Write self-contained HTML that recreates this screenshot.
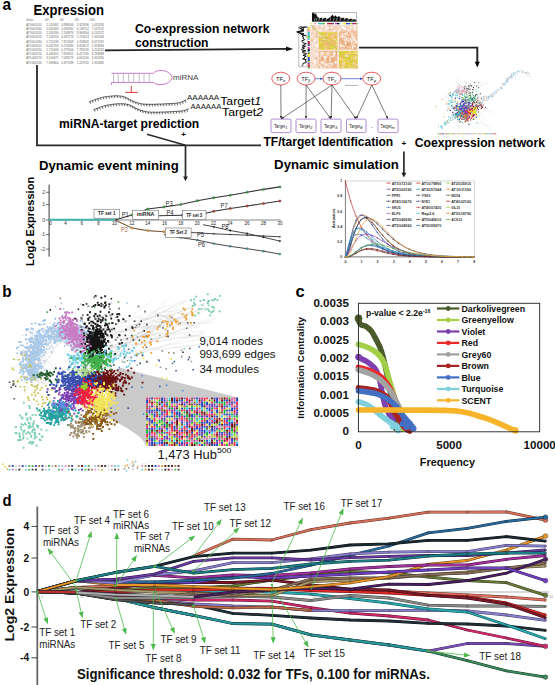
<!DOCTYPE html>
<html><head><meta charset="utf-8"><style>
html,body{margin:0;padding:0;background:#fff;overflow:hidden;width:555px;height:685px;}
svg{display:block;font-family:"Liberation Sans",sans-serif;}
</style></head><body>
<svg width="555" height="685" viewBox="0 0 555 685">
<text x="2.4" y="9.6" font-size="16.5" font-weight="bold" textLength="8.6" lengthAdjust="spacingAndGlyphs">a</text>
<text x="33.4" y="14.9" font-size="14.5" font-weight="bold" textLength="70.6" lengthAdjust="spacingAndGlyphs">Expression</text>
<text x="26.2" y="21.3" font-size="2.8" fill="#666">Gene</text>
<text x="45.1" y="21.3" font-size="2.8" fill="#666">4D</text>
<text x="60.2" y="21.3" font-size="2.8" fill="#666">6D</text>
<text x="75.1" y="21.3" font-size="2.8" fill="#666">8D</text>
<text x="89.7" y="21.3" font-size="2.8" fill="#666">10D</text>
<text x="26.2" y="25.7" font-size="2.8" textLength="15.5" lengthAdjust="spacingAndGlyphs" fill="#666">AT1G01010</text>
<text x="58.6" y="25.7" font-size="2.8" text-anchor="end" textLength="12.3" lengthAdjust="spacingAndGlyphs" fill="#666">2.141682</text>
<text x="73.5" y="25.7" font-size="2.8" text-anchor="end" textLength="12.3" lengthAdjust="spacingAndGlyphs" fill="#666">4.898063</text>
<text x="89" y="25.7" font-size="2.8" text-anchor="end" textLength="12.3" lengthAdjust="spacingAndGlyphs" fill="#666">3.329596</text>
<text x="104" y="25.7" font-size="2.8" text-anchor="end" textLength="12.3" lengthAdjust="spacingAndGlyphs" fill="#666">5.435280</text>
<text x="26.2" y="29.9" font-size="2.8" textLength="15.5" lengthAdjust="spacingAndGlyphs" fill="#666">AT1G01030</text>
<text x="58.6" y="29.9" font-size="2.8" text-anchor="end" textLength="12.3" lengthAdjust="spacingAndGlyphs" fill="#666">5.631483</text>
<text x="73.5" y="29.9" font-size="2.8" text-anchor="end" textLength="12.3" lengthAdjust="spacingAndGlyphs" fill="#666">0.589760</text>
<text x="89" y="29.9" font-size="2.8" text-anchor="end" textLength="12.3" lengthAdjust="spacingAndGlyphs" fill="#666">0.118512</text>
<text x="104" y="29.9" font-size="2.8" text-anchor="end" textLength="12.3" lengthAdjust="spacingAndGlyphs" fill="#666">7.537222</text>
<text x="26.2" y="34.1" font-size="2.8" textLength="15.5" lengthAdjust="spacingAndGlyphs" fill="#666">AT1G01050</text>
<text x="58.6" y="34.1" font-size="2.8" text-anchor="end" textLength="12.3" lengthAdjust="spacingAndGlyphs" fill="#666">2.334186</text>
<text x="73.5" y="34.1" font-size="2.8" text-anchor="end" textLength="12.3" lengthAdjust="spacingAndGlyphs" fill="#666">2.108979</text>
<text x="89" y="34.1" font-size="2.8" text-anchor="end" textLength="12.3" lengthAdjust="spacingAndGlyphs" fill="#666">8.960804</text>
<text x="104" y="34.1" font-size="2.8" text-anchor="end" textLength="12.3" lengthAdjust="spacingAndGlyphs" fill="#666">4.232372</text>
<text x="26.2" y="38.3" font-size="2.8" textLength="15.5" lengthAdjust="spacingAndGlyphs" fill="#666">AT1G01070</text>
<text x="58.6" y="38.3" font-size="2.8" text-anchor="end" textLength="12.3" lengthAdjust="spacingAndGlyphs" fill="#666">7.528153</text>
<text x="73.5" y="38.3" font-size="2.8" text-anchor="end" textLength="12.3" lengthAdjust="spacingAndGlyphs" fill="#666">4.287179</text>
<text x="89" y="38.3" font-size="2.8" text-anchor="end" textLength="12.3" lengthAdjust="spacingAndGlyphs" fill="#666">5.751613</text>
<text x="104" y="38.3" font-size="2.8" text-anchor="end" textLength="12.3" lengthAdjust="spacingAndGlyphs" fill="#666">1.355548</text>
<text x="26.2" y="42.5" font-size="2.8" textLength="15.5" lengthAdjust="spacingAndGlyphs" fill="#666">AT1G01090</text>
<text x="58.6" y="42.5" font-size="2.8" text-anchor="end" textLength="12.3" lengthAdjust="spacingAndGlyphs" fill="#666">5.713746</text>
<text x="73.5" y="42.5" font-size="2.8" text-anchor="end" textLength="12.3" lengthAdjust="spacingAndGlyphs" fill="#666">7.812408</text>
<text x="89" y="42.5" font-size="2.8" text-anchor="end" textLength="12.3" lengthAdjust="spacingAndGlyphs" fill="#666">4.708631</text>
<text x="104" y="42.5" font-size="2.8" text-anchor="end" textLength="12.3" lengthAdjust="spacingAndGlyphs" fill="#666">6.671267</text>
<text x="26.2" y="46.7" font-size="2.8" textLength="15.5" lengthAdjust="spacingAndGlyphs" fill="#666">AT1G01110</text>
<text x="58.6" y="46.7" font-size="2.8" text-anchor="end" textLength="12.3" lengthAdjust="spacingAndGlyphs" fill="#666">6.042703</text>
<text x="73.5" y="46.7" font-size="2.8" text-anchor="end" textLength="12.3" lengthAdjust="spacingAndGlyphs" fill="#666">0.576283</text>
<text x="89" y="46.7" font-size="2.8" text-anchor="end" textLength="12.3" lengthAdjust="spacingAndGlyphs" fill="#666">6.824072</text>
<text x="104" y="46.7" font-size="2.8" text-anchor="end" textLength="12.3" lengthAdjust="spacingAndGlyphs" fill="#666">5.319896</text>
<text x="26.2" y="50.9" font-size="2.8" textLength="15.5" lengthAdjust="spacingAndGlyphs" fill="#666">AT1G01130</text>
<text x="58.6" y="50.9" font-size="2.8" text-anchor="end" textLength="12.3" lengthAdjust="spacingAndGlyphs" fill="#666">2.711409</text>
<text x="73.5" y="50.9" font-size="2.8" text-anchor="end" textLength="12.3" lengthAdjust="spacingAndGlyphs" fill="#666">0.279106</text>
<text x="89" y="50.9" font-size="2.8" text-anchor="end" textLength="12.3" lengthAdjust="spacingAndGlyphs" fill="#666">7.789745</text>
<text x="104" y="50.9" font-size="2.8" text-anchor="end" textLength="12.3" lengthAdjust="spacingAndGlyphs" fill="#666">4.254742</text>
<text x="26.2" y="55.1" font-size="2.8" textLength="15.5" lengthAdjust="spacingAndGlyphs" fill="#666">AT1G01150</text>
<text x="58.6" y="55.1" font-size="2.8" text-anchor="end" textLength="12.3" lengthAdjust="spacingAndGlyphs" fill="#666">6.469415</text>
<text x="73.5" y="55.1" font-size="2.8" text-anchor="end" textLength="12.3" lengthAdjust="spacingAndGlyphs" fill="#666">7.909315</text>
<text x="89" y="55.1" font-size="2.8" text-anchor="end" textLength="12.3" lengthAdjust="spacingAndGlyphs" fill="#666">6.427165</text>
<text x="104" y="55.1" font-size="2.8" text-anchor="end" textLength="12.3" lengthAdjust="spacingAndGlyphs" fill="#666">8.289888</text>
<text x="26.2" y="59.3" font-size="2.8" textLength="15.5" lengthAdjust="spacingAndGlyphs" fill="#666">AT1G01170</text>
<text x="58.6" y="59.3" font-size="2.8" text-anchor="end" textLength="12.3" lengthAdjust="spacingAndGlyphs" fill="#666">3.554671</text>
<text x="73.5" y="59.3" font-size="2.8" text-anchor="end" textLength="12.3" lengthAdjust="spacingAndGlyphs" fill="#666">7.208179</text>
<text x="89" y="59.3" font-size="2.8" text-anchor="end" textLength="12.3" lengthAdjust="spacingAndGlyphs" fill="#666">4.001590</text>
<text x="104" y="59.3" font-size="2.8" text-anchor="end" textLength="12.3" lengthAdjust="spacingAndGlyphs" fill="#666">8.420280</text>
<text x="26.2" y="63.5" font-size="2.8" textLength="15.5" lengthAdjust="spacingAndGlyphs" fill="#666">AT1G01190</text>
<text x="58.6" y="63.5" font-size="2.8" text-anchor="end" textLength="12.3" lengthAdjust="spacingAndGlyphs" fill="#666">7.909800</text>
<text x="73.5" y="63.5" font-size="2.8" text-anchor="end" textLength="12.3" lengthAdjust="spacingAndGlyphs" fill="#666">0.877089</text>
<text x="89" y="63.5" font-size="2.8" text-anchor="end" textLength="12.3" lengthAdjust="spacingAndGlyphs" fill="#666">1.223720</text>
<text x="104" y="63.5" font-size="2.8" text-anchor="end" textLength="12.3" lengthAdjust="spacingAndGlyphs" fill="#666">1.952882</text>
<line x1="105" y1="50.3" x2="288" y2="48.9" stroke="#222" stroke-width="1.7"/>
<polygon points="293.2,48.9 286,51.3 286,46.5" fill="#111"/>
<polyline points="37,65 37,145.3 261,145.3" fill="none" stroke="#2a2a2a" stroke-width="1.8"/>
<line x1="147" y1="134.2" x2="185.5" y2="145.3" stroke="#2a2a2a" stroke-width="1.5"/>
<line x1="185.5" y1="145.3" x2="185.5" y2="178" stroke="#2a2a2a" stroke-width="1.7"/>
<polygon points="185.5,181.2 183.1,176.4 187.9,176.4" fill="#222"/>
<text x="181.2" y="137.4" font-size="8" font-weight="bold">+</text>
<text x="135" y="33" font-size="12.6" font-weight="bold" textLength="134.4" lengthAdjust="spacingAndGlyphs">Co-expression network</text>
<text x="135" y="47.1" font-size="12.6" font-weight="bold" textLength="73.5" lengthAdjust="spacingAndGlyphs">construction</text>
<rect x="312.2" y="12.4" width="44.3" height="9.1" fill="none" stroke="#777" stroke-width="0.5"/>
<polygon points="312,21.5 312,12.6 313.2,13.5 314,12.4 315,14.5 316,13 317,16.2 318.3,17.6 320,18.2 321.5,17.4 323,18.8 325,17.6 327,19 329,18 331,16.5 332.5,14.6 334,16.8 335.5,15.2 337,17.2 339,15.9 341,18.2 343,17.6 345,18.8 347,17.9 349,19.2 351,18.4 353,19.6 355,18.9 356.5,20.2 356.5,21.5" fill="#111"/>
<line x1="314.5" y1="20.8" x2="315.1" y2="17.8" stroke="#fff" stroke-width="0.5"/>
<line x1="316.5" y1="20.8" x2="317.1" y2="17.8" stroke="#fff" stroke-width="0.5"/>
<line x1="319" y1="20.8" x2="319.6" y2="17.8" stroke="#fff" stroke-width="0.5"/>
<line x1="322" y1="20.8" x2="322.6" y2="17.8" stroke="#fff" stroke-width="0.5"/>
<line x1="326" y1="20.8" x2="326.6" y2="17.8" stroke="#fff" stroke-width="0.5"/>
<line x1="330" y1="20.8" x2="330.6" y2="17.8" stroke="#fff" stroke-width="0.5"/>
<line x1="333.5" y1="20.8" x2="334.1" y2="17.8" stroke="#fff" stroke-width="0.5"/>
<line x1="336.5" y1="20.8" x2="337.1" y2="17.8" stroke="#fff" stroke-width="0.5"/>
<line x1="340" y1="20.8" x2="340.6" y2="17.8" stroke="#fff" stroke-width="0.5"/>
<line x1="344" y1="20.8" x2="344.6" y2="17.8" stroke="#fff" stroke-width="0.5"/>
<line x1="348" y1="20.8" x2="348.6" y2="17.8" stroke="#fff" stroke-width="0.5"/>
<line x1="352" y1="20.8" x2="352.6" y2="17.8" stroke="#fff" stroke-width="0.5"/>
<line x1="355" y1="20.8" x2="355.6" y2="17.8" stroke="#fff" stroke-width="0.5"/>
<rect x="298.9" y="26.4" width="8.2" height="40.5" fill="none" stroke="#777" stroke-width="0.5"/>
<polyline points="301.5,26.5 302.4,27.4 302.9,28.3 304,29.2 302.4,30.1 303.9,31 296.7,31.9 300.2,32.8 304,33.7 301.7,34.6 303.7,35.5 302.1,36.4 303.8,37.3 302.7,38.2 304.2,39.1 304.4,40 301.6,40.9 302.6,41.8 302.9,42.7 306.1,43.6 305.3,44.5 302.3,45.4 305.5,46.3 302.2,47.2 304.6,48.1 302.1,49 301.5,49.9 305.9,50.8 302.5,51.7 302.6,52.6 306.4,53.5 305.9,54.4 302.9,55.3 306.3,56.2 304.2,57.1 304.9,58 302.5,58.9 306.2,59.8 305,60.7 306.3,61.6 306,62.5 303,63.4 303.3,64.3 302.3,65.2 302.2,66.1" fill="none" stroke="#111" stroke-width="1"/>
<polyline points="306.8,27 300,28 303,30 298,32 302,34.5 306.5,36" fill="none" stroke="#111" stroke-width="1.2"/>
<rect x="310.3" y="22.9" width="1.2" height="1.4" fill="#e8d040"/>
<rect x="313.8" y="22.9" width="2.2" height="1.4" fill="#f0a0b0"/>
<rect x="318" y="22.9" width="4" height="1.4" fill="#40c8c8"/>
<rect x="322" y="22.9" width="3" height="1.4" fill="#50c040"/>
<rect x="327" y="22.9" width="5" height="1.4" fill="#c02030"/>
<rect x="332" y="22.9" width="2" height="1.4" fill="#6040a0"/>
<rect x="335" y="22.9" width="2" height="1.4" fill="#c040c0"/>
<rect x="337" y="22.9" width="2.3" height="1.4" fill="#111"/>
<rect x="339.3" y="22.9" width="1.2" height="1.4" fill="#40c8d8"/>
<rect x="343" y="22.9" width="3" height="1.4" fill="#f0f020"/>
<rect x="346" y="22.9" width="4" height="1.4" fill="#3050c0"/>
<rect x="350" y="22.9" width="2" height="1.4" fill="#a0d040"/>
<rect x="352" y="22.9" width="2" height="1.4" fill="#8040b0"/>
<rect x="354" y="22.9" width="2.3" height="1.4" fill="#e02020"/>
<rect x="356.3" y="22.9" width="1.4" height="1.4" fill="#40a040"/>
<rect x="307.9" y="27" width="1.9" height="3" fill="#e8d040"/>
<rect x="307.9" y="30" width="1.9" height="2" fill="#f0a0b0"/>
<rect x="307.9" y="32" width="1.9" height="4" fill="#40c8c8"/>
<rect x="307.9" y="36" width="1.9" height="2.5" fill="#50c040"/>
<rect x="307.9" y="38.5" width="1.9" height="1.5" fill="#60d0e0"/>
<rect x="307.9" y="41" width="1.9" height="3" fill="#b02030"/>
<rect x="307.9" y="44" width="1.9" height="2" fill="#6040a0"/>
<rect x="307.9" y="47" width="1.9" height="2" fill="#c040c0"/>
<rect x="307.9" y="49" width="1.9" height="2" fill="#111"/>
<rect x="307.9" y="51" width="1.9" height="1.5" fill="#40c8d8"/>
<rect x="307.9" y="52.5" width="1.9" height="1.5" fill="#a06030"/>
<rect x="307.9" y="54" width="1.9" height="3" fill="#f0f020"/>
<rect x="307.9" y="57" width="1.9" height="4" fill="#3050c0"/>
<rect x="307.9" y="61" width="1.9" height="1.5" fill="#a0d040"/>
<rect x="307.9" y="62.5" width="1.9" height="2" fill="#8040b0"/>
<rect x="307.9" y="64.5" width="1.9" height="2.7" fill="#e02020"/>
<rect x="307.9" y="67.2" width="1.9" height="1.3" fill="#40a040"/>
<rect x="310.3" y="25" width="47.4" height="43.5" fill="#f8e6da"/>
<rect x="310.5" y="25.2" width="7.8" height="43.1" fill="#f6dccb"/>
<path fill="#fbeee6" d="M313.6 52.7h2.2v1h-2.2zM311.6 63.2h0.8v2.5h-0.8zM313.9 59.5h2.2v2.5h-2.2zM310.6 27.7h2.7v1.8h-2.7zM317 43h1.3v2.2h-1.3zM314.1 62.2h1.9v2.8h-1.9zM312.9 46.6h2.5v1.8h-2.5zM312.8 51.9h0.8v1.7h-0.8zM312.7 44.3h2.2v2.6h-2.2zM316.8 32.2h1.5v1.5h-1.5zM311.7 58.5h1.8v1.2h-1.8zM312.7 61.3h2.1v1.7h-2.1zM315.3 47h0.8v0.7h-0.8zM315.5 42.7h2v2.7h-2zM311.6 54.1h1v0.8h-1zM311.7 34h2.1v1.8h-2.1zM314.9 39.5h1.2v1.4h-1.2z"/>
<path fill="#fff" d="M317.1 45.4h1.2v1.7h-1.2zM314.2 46.5h0.9v2h-0.9zM314.4 45.2h1.5v0.8h-1.5zM313 61.2h0.8v0.8h-0.8zM313.3 41.5h2.4v0.9h-2.4zM316.3 53.2h1.3v1h-1.3zM314.3 39.8h1.5v2.3h-1.5zM315.7 55h1.1v1.3h-1.1zM315 45.8h2v1.2h-2z"/>
<path fill="#ecc4a4" d="M312 25.3h2.1v2.9h-2.1zM311 33.2h2.4v1.3h-2.4zM316.2 41.4h1.4v1.3h-1.4zM312 28.5h1.3v1.7h-1.3zM315.6 34.4h2v2.8h-2zM317 67h1.3v0.8h-1.3zM313.8 45.7h1.5v2.2h-1.5zM316.4 32h1.3v2.6h-1.3zM311.4 62.3h1.6v1.2h-1.6zM313.6 27.7h2v2.3h-2zM316.4 63.4h1.9v2.4h-1.9zM315.1 41.7h1.2v1.6h-1.2zM311 39.1h2.2v2.3h-2.2zM315.1 57h2.2v2.8h-2.2z"/>
<rect x="318.8" y="25.2" width="38.7" height="6.6" fill="#f4d8c4"/>
<path fill="#ecc0a0" d="M319.1 27.1h1.3v1.1h-1.3zM329.9 28h1v2.7h-1zM336.1 29.4h0.8v2.4h-0.8zM334.9 27.2h1.6v2.1h-1.6zM328.5 25.4h2.1v2.5h-2.1zM334.3 28.5h1.3v1.6h-1.3zM351.6 29.6h1.5v2.2h-1.5zM347.8 28.1h0.7v2.7h-0.7zM323.5 27.3h1.8v1.3h-1.8zM350.5 25.3h1v2.4h-1zM344.7 30.4h2.2v1.4h-2.2zM354.9 27.2h0.9v2.7h-0.9zM340.8 29.5h2.1v1.7h-2.1zM323.9 26.7h1.1v1h-1.1zM346.2 29.7h2.4v1.4h-2.4zM342.6 28.5h0.8v1.5h-0.8zM329.2 27h1.5v2.7h-1.5z"/>
<path fill="#fbeee6" d="M324.9 27.7h2v2.6h-2zM319.4 29.4h2.7v2.1h-2.7zM323.9 26.4h1.9v1.3h-1.9zM333.4 29.9h2.7v1.4h-2.7zM337.3 30.3h2.5v1.1h-2.5zM351.8 25.3h1.4v0.7h-1.4zM326.1 26.3h2.5v2.7h-2.5zM321.1 25.8h0.9v0.8h-0.9zM354.8 29.2h2.7v0.8h-2.7zM334.7 28.1h1.4v1.2h-1.4z"/>
<path fill="#fff" d="M339 29.3h1.6v2.2h-1.6zM320.8 25.8h2v1.4h-2zM350.1 25.8h1.3v2.7h-1.3zM347.7 29.8h1.4v2h-1.4zM344.5 28.1h1.7v1.9h-1.7zM342.6 27.3h1.6v1.8h-1.6zM353.8 25.4h2.2v1.9h-2.2zM343.4 27h0.8v2.5h-0.8zM353.8 27.2h1.4v2.7h-1.4zM347.5 30h2.5v1.5h-2.5zM341.8 25.9h1.9v2.8h-1.9zM329.3 27.1h2.9v1h-2.9zM342.5 26.1h1.9v2h-1.9z"/>
<rect x="318.8" y="32.3" width="18.4" height="17.3" fill="#e0d03c"/>
<path fill="#e8d448" d="M335 41.9h0.9v2.1h-0.9zM335 42.3h2.1v2.6h-2.1zM321.2 39.6h1.9v1.2h-1.9zM334.4 47.3h1.9v1.5h-1.9zM321 35.6h2.6v0.9h-2.6zM325.7 32.4h1.8v1.6h-1.8zM328 35.2h2.5v2.6h-2.5zM334.6 36.2h1.9v2.4h-1.9zM333 43.1h1.8v2.5h-1.8zM335.7 45.9h1.5v2h-1.5zM330 42.8h1v1.9h-1zM333.5 39.7h2.9v1.9h-2.9zM321.4 48h1.8v1.6h-1.8zM321 35.5h1.7v2.6h-1.7zM332.8 40.5h2.4v0.9h-2.4zM334.6 32.7h1.4v2.8h-1.4zM327 32.4h0.9v0.7h-0.9zM334 44.6h1.6v0.8h-1.6zM324.2 37.1h2.3v0.8h-2.3zM324.2 38.6h1.4v2.3h-1.4zM324.6 32.6h1.4v1.2h-1.4zM332.8 44.2h1.2v0.9h-1.2zM319.2 38.2h2.6v1.5h-2.6zM334.6 32.8h0.8v1.8h-0.8zM318.9 39.8h2.8v1.1h-2.8zM332.7 36.8h2v2.4h-2zM333.7 40.9h1.9v1h-1.9zM329.2 46.4h2.8v1.1h-2.8zM333.1 40.3h2.2v0.8h-2.2zM329 42.3h2.6v2.1h-2.6zM335.4 35.6h1.8v1.7h-1.8zM329.1 45.3h2.3v1.4h-2.3zM329.9 39.5h1.5v1.8h-1.5zM326 41h2.8v2.5h-2.8zM320.6 41.9h2.1v1.9h-2.1zM321.1 40.3h1.6v2.1h-1.6zM330.2 33.9h2.7v2.6h-2.7zM323.5 45h2.5v1.5h-2.5zM332.8 38.6h2.7v2.9h-2.7z"/>
<path fill="#f4dca8" d="M323.9 37.7h2.1v1.6h-2.1zM325.5 47.9h2.7v1h-2.7zM320.9 45.7h1.5v1.8h-1.5zM320.4 35.4h2.5v1.5h-2.5zM323.3 40.9h2.7v0.9h-2.7zM320.3 41.1h2.7v1.7h-2.7zM322.6 38.9h2.5v2.3h-2.5zM335.6 34.6h1.6v1h-1.6zM326.2 44.6h1.2v2.8h-1.2zM324.4 41.4h1.9v1.9h-1.9zM327.7 39.3h1.6v1.1h-1.6zM323.1 38.6h1.9v2.7h-1.9zM333.9 43.1h1.6v0.8h-1.6zM330.4 43.1h0.7v1h-0.7zM321.2 37.1h1.2v1.7h-1.2zM331.2 34.2h2.1v1.1h-2.1zM319.8 34.5h2.7v2.3h-2.7zM335.4 42.3h0.9v0.9h-0.9zM328.7 41.1h1.6v2.1h-1.6zM321.3 35.2h2.1v1.1h-2.1zM330.2 34.9h2.7v2.7h-2.7zM335 41h2.2v1.2h-2.2zM326.3 33.4h2.1v1h-2.1zM332.4 44.7h1.5v1.8h-1.5zM323.7 35.6h2.2v1.6h-2.2zM332.8 33.7h2.8v2.6h-2.8zM334.8 36.7h1.2v0.8h-1.2zM330.7 36h2.4v2.3h-2.4zM334.3 39.7h1.8v1.3h-1.8zM326.7 48.4h1.1v1.2h-1.1zM332.8 39.2h2.3v1.6h-2.3zM325.1 38.2h2.3v2.1h-2.3zM324.8 46.4h0.7v2.8h-0.7zM335.5 42.3h1.4v0.9h-1.4zM326.2 34.6h1.4v2h-1.4zM327 46.8h1.5v2.2h-1.5zM326.5 34.2h1.8v0.8h-1.8zM333.4 47.2h2.3v1.7h-2.3zM331.3 38.8h2.5v2h-2.5zM318.9 33.7h1.8v2.2h-1.8zM335.2 44.8h1.6v1.8h-1.6zM334.4 38.2h1.4v2.7h-1.4zM334.3 33.8h1.8v1.3h-1.8zM327.9 42.8h1.8v0.9h-1.8z"/>
<path fill="#d8cc38" d="M324.5 41h2.5v1.9h-2.5zM322.7 33.4h2.2v1.1h-2.2zM329.8 42.6h2v1.8h-2zM326.7 47.4h1.6v1.7h-1.6zM327.4 43h2.1v2.3h-2.1zM325.7 34.5h0.9v2.2h-0.9zM319.2 45.1h1.9v2.1h-1.9zM320.2 43.2h0.8v1.3h-0.8zM330.9 44.4h2.5v2.4h-2.5zM324.9 37h2v1.5h-2zM326.3 47h1.4v0.8h-1.4zM327.6 43.1h1.7v2.4h-1.7zM334.2 40.6h2v1.9h-2zM320.6 32.5h2.4v1.5h-2.4zM325.2 36.8h1.5v0.9h-1.5zM334.7 45.2h1.6v0.9h-1.6zM335.8 32.4h1.4v1.5h-1.4zM319.5 37.9h1.1v1.6h-1.1zM321.3 45.4h1.7v2.2h-1.7zM319.5 37.9h2.1v0.7h-2.1zM322.6 47.3h1.9v2.3h-1.9zM323.4 40h2.2v2.1h-2.2zM333.5 42h2.7v1.3h-2.7zM321.4 32.8h1.7v1.9h-1.7zM319.2 38.9h2.3v2h-2.3z"/>
<path fill="#f0c080" d="M321.6 40.1h0.9v1.4h-0.9zM323.5 46.8h1.1v2h-1.1zM326.3 32.6h1.8v1.5h-1.8zM333.1 32.6h1v1.7h-1zM334 33.7h2.8v2h-2.8zM327.9 43.8h2.9v1h-2.9zM322.5 36.4h0.9v1.7h-0.9zM331.2 42.4h2.2v0.8h-2.2zM332.5 33.9h2.2v2.5h-2.2zM323.5 43.5h2.6v1.3h-2.6zM326.3 40.3h1.9v2.6h-1.9zM329.3 35h2.9v2.6h-2.9zM324.9 40h1v1.1h-1zM332 43.7h2.8v1.1h-2.8zM329.6 46.2h1.4v1h-1.4zM335.7 43.2h1.5v0.8h-1.5zM332.2 41.6h2.1v1.8h-2.1zM332.8 42.7h2.6v2.9h-2.6zM323.2 43.8h1.9v1.7h-1.9zM328 47.1h0.8v2.5h-0.8zM325.4 42.3h0.8v1.7h-0.8zM330.3 42.6h1.3v1.9h-1.3zM322.4 36.2h2.7v1.2h-2.7zM329.6 41h0.9v2h-0.9zM335.3 46.6h1.7v2h-1.7zM335.6 34h1.6v1.4h-1.6zM320.8 37.1h1v2.5h-1zM325.8 33.7h1.2v1.9h-1.2zM330.5 40.3h2.3v1.2h-2.3zM335.2 34.3h2v2.7h-2zM326.7 47.2h1.8v2.3h-1.8zM324.4 44.7h2v1h-2zM326.1 41.3h1.1v2.7h-1.1z"/>
<path fill="#ecb870" d="M326 37.4h1.3v1.6h-1.3zM327.7 47.8h1.9v1.8h-1.9zM330.7 37.9h2.1v2.5h-2.1zM334.4 37.1h2.6v1.4h-2.6zM335.9 48.2h1.3v1.3h-1.3zM330.2 40h1.1v1.2h-1.1zM331.4 40.1h2.7v1.1h-2.7zM324.6 33.9h2.3v1.4h-2.3zM327.3 43.3h2.7v2.9h-2.7zM321.1 40.2h2.9v2h-2.9zM333 42.4h2.6v2.9h-2.6zM326 37.3h2.8v2.2h-2.8zM322.2 44.2h1.1v2.1h-1.1zM319 46.4h2v2.5h-2zM325.5 42.4h2.7v2.3h-2.7zM334.3 45.8h2.2v2.4h-2.2zM327.6 37.8h1.8v1.4h-1.8zM329 41.3h0.7v1.9h-0.7zM323.3 37.1h0.9v1.3h-0.9z"/>
<rect x="339" y="31.4" width="18.5" height="18" fill="#eebc94"/>
<path fill="#fbeee4" d="M339.9 44.4h2.4v2.7h-2.4zM351.3 40.3h1.6v2.4h-1.6zM353.4 43.9h2.6v1.3h-2.6zM353.5 36h1.5v1.3h-1.5zM342.1 36.3h2.3v1.1h-2.3zM343.1 44.5h0.9v2.2h-0.9zM354.8 45.1h1v2h-1zM344.3 33.2h2.8v1.9h-2.8zM351.9 46.3h2.4v2.8h-2.4zM350 37.7h1.4v2.6h-1.4zM352.6 34.2h1.4v0.9h-1.4zM344.4 36h0.9v1.4h-0.9zM342.2 34.3h1.4v2.2h-1.4zM341.6 42.7h0.8v1.8h-0.8zM356.3 37h0.7v0.9h-0.7zM349.8 42.1h1.9v2.7h-1.9zM347.9 40.7h2.7v1.4h-2.7zM340.9 36.3h2v2.1h-2zM354.7 43.4h1.2v2.1h-1.2zM354.7 40.2h2.6v2.8h-2.6zM348.6 34.4h2v1.9h-2zM355.1 41.1h1.8v1h-1.8zM344.8 42h2.7v2.5h-2.7zM352.5 43.2h2.3v1h-2.3zM345.6 39.3h1.6v1.7h-1.6zM351.4 35.6h1.3v1.1h-1.3zM351.7 36h2.2v2.8h-2.2zM343.4 38.5h1.9v1.3h-1.9zM350.6 39.7h1v1.2h-1zM344.9 37.5h2.2v2.8h-2.2zM341.6 33.6h1.6v2.2h-1.6zM353.4 38.2h2.4v2.6h-2.4zM352 45.6h1.5v2.3h-1.5z"/>
<path fill="#e8a878" d="M340.9 37.4h0.9v2.5h-0.9zM342.9 43.2h1.9v1.6h-1.9zM348.1 33.2h2.3v0.7h-2.3zM353.9 44h1.7v1h-1.7zM348.8 46.2h2.3v1.2h-2.3zM349.5 42.7h1.5v1.9h-1.5zM341.7 47.9h1.8v1.5h-1.8zM347.7 44.8h2.6v1.8h-2.6zM342.2 40.6h1.5v1.6h-1.5zM341.2 41.6h1.8v2.6h-1.8zM347 42h2.2v1.1h-2.2zM347.9 45.3h2.3v1.4h-2.3zM352.2 42.5h0.7v1h-0.7zM348.5 40h1v2.4h-1zM353.4 47.6h2.6v1.8h-2.6zM349.5 41.5h1v2.9h-1zM343.2 33.5h0.8v1.7h-0.8zM346.7 44.1h2.1v1.3h-2.1zM354.5 44.2h1.8v1.5h-1.8zM352.5 40.9h2.1v1.3h-2.1zM345.7 46.5h1.2v1.6h-1.2zM348 42.5h2.4v2.5h-2.4zM354.3 47.8h0.8v1h-0.8zM349.7 34.4h1.1v2.3h-1.1zM349.2 36.9h0.8v2.7h-0.8zM346.4 42.6h2.3v1.3h-2.3zM342.3 47.7h1.5v1.7h-1.5zM349.4 35.4h2.5v1.8h-2.5zM343 38.2h2.7v0.8h-2.7z"/>
<path fill="#f6dcc8" d="M353.5 44.7h0.8v1.7h-0.8zM355.9 36.7h1.6v1.4h-1.6zM347.2 46.5h2.3v1.1h-2.3zM345.6 32.3h1.4v2.1h-1.4zM355.1 33.3h1.7v1.3h-1.7zM352 40h2.2v2.2h-2.2zM339.9 43.4h2.4v0.8h-2.4zM344.1 39.4h0.9v2.2h-0.9zM344.1 36.2h2v2.1h-2zM342.5 34.1h2.5v1.4h-2.5zM349 46.1h1.8v1.7h-1.8zM347.3 31.7h0.8v2.7h-0.8zM352.3 34.2h1v1.9h-1zM348.4 37.8h0.9v2.2h-0.9zM342 47.5h1.5v1.9h-1.5zM352.3 34h2.1v0.8h-2.1zM347.7 39.7h1.9v2.5h-1.9zM340.6 35.8h1.5v1h-1.5zM346.6 31.9h0.9v1.1h-0.9zM351.8 39.2h1.6v0.8h-1.6zM347.3 38h1.1v2.2h-1.1zM350.8 34h2.9v2.7h-2.9zM344 45.4h1v2.2h-1zM353 45.1h2.7v1.2h-2.7zM350.4 32.2h2.5v2.4h-2.5zM339.6 35.5h1.6v2.1h-1.6zM344.3 37h2.2v0.9h-2.2zM353.9 45.9h1.5v1.2h-1.5z"/>
<rect x="318.8" y="51" width="18.4" height="17.3" fill="#eebc94"/>
<path fill="#e8a878" d="M320.7 53.2h1.2v1h-1.2zM319.8 52.9h2.7v2.7h-2.7zM319.6 66.1h2.7v1.1h-2.7zM319.6 64.9h2.4v2.8h-2.4zM327 64.1h1.9v1.3h-1.9zM329.8 59.8h2.1v2.1h-2.1zM331.7 65.4h1v1.2h-1zM318.8 51.3h1v0.9h-1zM325.6 59.9h2.8v1.8h-2.8zM323.1 52.6h1.2v1.4h-1.2zM319.5 53h2.1v1.8h-2.1zM331.7 59.1h2.6v2.8h-2.6zM326.8 56.5h2.6v2.7h-2.6zM321.1 62.3h1.1v1.4h-1.1zM321.7 57.7h0.9v1.2h-0.9zM335.9 54.4h1.3v1.8h-1.3zM335.5 64.5h1v1.3h-1zM320.6 57.1h1.1v2.2h-1.1zM331.2 54.4h2.6v1.9h-2.6zM325.1 56.5h2.7v2.2h-2.7zM322.2 59h2.5v1.3h-2.5zM331.2 61.4h1.1v2.7h-1.1zM323.4 53.8h2.7v0.8h-2.7zM324.3 63.4h0.8v1h-0.8zM332 64.3h2.7v2.7h-2.7zM330.3 51.5h1.4v1.4h-1.4zM319.3 62.7h1.6v0.9h-1.6zM327.6 55h1v0.7h-1zM332.8 57.4h2.4v1h-2.4zM328.1 57.7h2.4v1.4h-2.4zM335.6 51.1h1.6v2.6h-1.6zM333.1 66.1h0.8v2.2h-0.8zM324.6 55.3h2.5v2.6h-2.5zM333.7 54.1h2.3v1.5h-2.3zM319.1 55.4h1.6v2h-1.6z"/>
<path fill="#f6dcc8" d="M328.8 66.3h2.3v2h-2.3zM328.1 63h2.2v1.3h-2.2zM328.8 59.6h2.4v1.7h-2.4zM323.6 60h1.9v1.3h-1.9zM332.5 64.7h1.1v2.5h-1.1zM325.9 60.5h1v2.6h-1zM327.1 53.9h1.9v2h-1.9zM332.5 54.6h2.5v2.1h-2.5zM324.3 55.7h2.8v1.4h-2.8zM319.2 56.9h1.6v2.1h-1.6zM327.5 52.5h1.6v2.1h-1.6zM334.7 66.9h0.8v1.3h-0.8zM330 62.8h2v1.5h-2zM328.6 51.2h1.9v1h-1.9zM323.7 60.2h1.1v2h-1.1zM321.2 55.5h1.5v1.3h-1.5zM319.6 52.5h2.9v1.8h-2.9zM333.1 52.3h1.9v0.7h-1.9zM324.7 52.7h2.5v1.1h-2.5zM321.1 52h2.7v2.6h-2.7zM319.4 55.3h1.3v1.1h-1.3zM323.3 58.6h2.4v1h-2.4zM330.1 59.3h1v2.3h-1zM334.4 60.8h2.5v2.1h-2.5zM330.1 62.2h1.7v2.3h-1.7zM331.4 62.5h2v1.6h-2z"/>
<path fill="#fbeee4" d="M322 61.6h2.3v2.1h-2.3zM333.3 51.9h1.9v2.4h-1.9zM328.2 65.3h2v0.7h-2zM326 53.6h1.4v0.9h-1.4zM333 52.5h2.7v2.8h-2.7zM323.3 64.4h1.6v1h-1.6zM324.7 58.8h2v0.7h-2zM323.2 52.2h0.9v2.5h-0.9zM324.4 63.1h0.9v1.9h-0.9zM331.3 55.7h2.6v1.4h-2.6zM320.1 65.8h2.3v2.5h-2.3zM335.2 62.8h1.2v1.4h-1.2zM320.6 52.7h2v2.7h-2zM323.7 66.8h2v1.5h-2zM320.6 62.1h2.2v1.7h-2.2zM320.6 61.1h0.9v2.1h-0.9zM320.3 55.9h0.7v1h-0.7zM329.7 55.4h0.8v2.6h-0.8zM327.5 64.7h1.7v1.5h-1.7zM327.2 52.5h1v0.9h-1zM329.1 57.8h1.3v1.1h-1.3zM325.5 63.6h2v2.3h-2zM330.8 63.2h2.6v1.3h-2.6zM331.6 64.6h0.8v2h-0.8zM325.5 56.4h2.2v1.4h-2.2zM323.8 55.7h2.2v2.9h-2.2zM319.2 63.8h1.5v2.3h-1.5zM329.8 53h1.6v0.9h-1.6zM325.1 63.9h2.3v1.4h-2.3z"/>
<rect x="339" y="51" width="18.5" height="17.3" fill="#e0d03c"/>
<path fill="#f0c080" d="M344 55.8h0.9v1.3h-0.9zM340.9 59.5h0.8v1.7h-0.8zM352.2 56.3h1v0.8h-1zM342.9 54.4h1.2v1.7h-1.2zM347.5 54.1h1v0.8h-1zM355.4 66.4h2.1v1.9h-2.1zM355.7 54.2h0.9v1.3h-0.9zM350.1 56.2h0.7v1.5h-0.7zM343.3 66.9h1.5v1.4h-1.5zM355.6 51.8h1.9v1.6h-1.9zM353.9 63.1h2.9v2.7h-2.9zM346.5 57.5h1.2v2.3h-1.2zM349.6 65.9h2.7v0.8h-2.7zM352 64.5h1.6v1.1h-1.6zM354.6 65.4h1.9v2.7h-1.9zM353.2 55.6h1.6v1.1h-1.6zM354.7 55h2.8v2.2h-2.8zM343.9 56.4h2.6v2.2h-2.6zM355.4 61.7h1.4v1.1h-1.4zM350.8 52.7h0.9v2.3h-0.9zM354.3 54.8h2.8v2.6h-2.8zM346 53.7h2.2v1.3h-2.2zM355.1 58.3h1v2.3h-1zM346.9 53.2h1.3v1.8h-1.3zM343 58h1.2v2.6h-1.2zM351.9 62.1h1.9v1.3h-1.9zM349.1 51.2h1.5v2.4h-1.5zM352 62.9h1.2v1.4h-1.2zM352.3 51.7h2.4v1.1h-2.4zM352.8 61h1v0.7h-1zM349.6 52h2.1v0.8h-2.1zM355.3 66.1h1.5v1.2h-1.5zM346 53.7h1.5v2h-1.5zM346 58.3h0.7v1.3h-0.7zM342.5 64.6h2.5v2.6h-2.5z"/>
<path fill="#ecb870" d="M340.1 59.1h1v1.8h-1zM342.5 57.3h0.9v1.6h-0.9zM343.8 58.4h2.3v2.6h-2.3zM345.5 65.4h2v2.7h-2zM341 55.5h1.2v0.9h-1.2zM345.9 53.3h2.9v2.3h-2.9zM352.4 65.8h2.8v2.1h-2.8zM352.5 64.7h2.7v2.1h-2.7zM340.6 66.4h0.9v1.2h-0.9zM344.1 61.8h1.5v1.1h-1.5zM355.1 62.8h1.3v1.6h-1.3zM341.1 64.9h1.1v2.7h-1.1zM343.2 63h2.7v1.7h-2.7zM353.3 54.8h2.1v1.4h-2.1zM339.9 60.1h1.1v1.7h-1.1zM345.8 52.7h2.8v2.6h-2.8zM353.4 67.1h2.1v1.2h-2.1zM350.5 61.2h0.9v2.1h-0.9zM348.6 54.7h2.2v2.7h-2.2zM344.4 52h0.8v1.6h-0.8zM341.5 55h2.3v1.3h-2.3zM353.2 64.4h2.4v2.2h-2.4zM350.5 60h0.8v1.6h-0.8zM349.6 58.6h1.4v2.7h-1.4zM347.4 64.4h1.1v0.7h-1.1zM340.3 55.5h1.4v1.9h-1.4zM343.1 61h2.4v2.1h-2.4zM339.6 66.5h1.8v1.8h-1.8zM347.2 59.7h0.9v2.2h-0.9zM353.1 57.8h2.1v1.9h-2.1zM351.8 56h2.1v0.9h-2.1zM355 66.2h2.1v2.1h-2.1zM339.9 63.5h1.7v2.9h-1.7zM343.2 65.8h1.8v0.7h-1.8zM341.7 62.6h2.6v2.3h-2.6zM340.5 52.7h2.8v1.9h-2.8zM347.1 57.1h2.8v2.6h-2.8z"/>
<path fill="#e8d448" d="M344 56.5h2.7v1.6h-2.7zM343.9 62.1h2.3v1.1h-2.3zM349.4 62.2h1.3v1.8h-1.3zM344 58.6h2.1v2.2h-2.1zM351 56.5h1.3v0.9h-1.3zM352.1 55.7h1.1v2.4h-1.1zM348 51.6h1.3v2.5h-1.3zM341.1 53.2h2.5v1.2h-2.5zM352.3 65.9h2.8v1.9h-2.8zM345.7 57.4h2v1h-2zM350.7 62.3h2.1v2.7h-2.1zM343.1 53.7h1.1v2.2h-1.1zM346.7 52.8h1.4v1.3h-1.4zM350.2 57.1h2.4v1.1h-2.4zM351.3 52h2.3v1.6h-2.3zM356 55.4h1.5v1.9h-1.5zM343.9 59.5h2.5v2.4h-2.5zM341.9 64.3h2.4v0.8h-2.4zM353.4 53.7h1.7v0.9h-1.7zM349.9 58.9h1.7v0.8h-1.7zM346.8 58h2.9v2.5h-2.9zM349.1 64.6h2.5v2.3h-2.5zM341.8 51.4h2.8v1.3h-2.8zM354.6 62.5h2v0.7h-2zM340.8 59.3h2.7v2.2h-2.7zM354 56.6h2.7v1.6h-2.7zM350.4 67h2.3v1.1h-2.3zM345.7 65.7h1.5v1.4h-1.5zM343.1 65.2h2.5v1.8h-2.5zM343.3 62.4h1.5v1.7h-1.5zM339.8 52.6h2.6v2.5h-2.6zM339.6 51.9h2.1v1.9h-2.1zM350.3 54.5h1.3v1.7h-1.3zM349.3 51h1.9v1.2h-1.9zM345.3 58h2.6v1.2h-2.6zM353.2 51h2.2v1.1h-2.2z"/>
<path fill="#d8cc38" d="M340.8 66.9h2.4v1.3h-2.4zM342.1 51.4h1.1v1.1h-1.1zM353.9 56.7h1.5v2.3h-1.5zM348 56.5h2.1v1.6h-2.1zM348.6 55.2h1.9v2.4h-1.9zM352.1 58.2h2.3v1.5h-2.3zM354 55.3h2.8v1.5h-2.8zM344.2 54.5h2.5v1.2h-2.5zM348.1 58.9h1v1.6h-1zM345.9 54h2.8v2.1h-2.8zM347.2 65.1h1.8v2.5h-1.8zM344.8 51.1h0.9v1.9h-0.9zM348.8 57h2v2.9h-2zM349.5 64.5h2.9v1.4h-2.9zM343.8 56.8h2.1v1.4h-2.1zM344.5 57.8h1.8v0.8h-1.8zM344.9 52.1h0.8v0.9h-0.8zM349.3 60.9h0.8v1.6h-0.8zM339.7 52.5h2.2v2.7h-2.2zM346.5 51.1h1.4v2.1h-1.4zM339.4 55.3h0.9v2.5h-0.9zM339.8 60h1.7v1.8h-1.7zM343.2 55.7h1.4v0.9h-1.4zM344.3 55.9h2.3v2.8h-2.3zM353 65.6h1.6v1.5h-1.6zM354.8 58.1h1.1v1.4h-1.1zM348.5 66.1h1v2.2h-1zM344.7 65.6h1.1v2.5h-1.1z"/>
<path fill="#f4dca8" d="M348.1 60.7h1v0.8h-1zM344.5 54.4h1.8v2.6h-1.8zM354.4 56.2h2.5v2h-2.5zM342.2 62.1h2.8v2.6h-2.8zM353.5 62.4h1.4v1.8h-1.4zM353.1 57.2h2.9v2.4h-2.9zM347.8 65.1h1.7v0.8h-1.7zM348.1 60.3h1.5v1.8h-1.5zM341.6 66h2.7v2.2h-2.7zM342.2 59.3h1.5v1.8h-1.5zM349.8 66h1.1v2h-1.1zM352.5 62.8h1.3v2.8h-1.3zM345.5 53.9h1.8v2.3h-1.8zM348.9 51.3h1v2.8h-1zM339.2 57.6h2.3v2.2h-2.3zM354 65.5h1.1v2.2h-1.1zM354.6 64.5h2.5v1.3h-2.5zM350.8 57.8h0.7v1.8h-0.7zM355.4 52h2.1v1.9h-2.1zM353.4 52.3h1.7v1.4h-1.7zM346.4 55.2h2.6v1.5h-2.6zM344.7 58.3h0.9v1.5h-0.9zM342.9 64h2.2v1h-2.2zM345.5 53.5h1.1v2.3h-1.1z"/>
<line x1="311" y1="25.5" x2="357.3" y2="68" stroke="#b8d040" stroke-width="0.8"/>
<polyline points="359,47.6 477.3,47.6 477.3,63" fill="none" stroke="#222" stroke-width="1.9"/>
<polygon points="477.3,67.4 474.8,61.8 479.8,61.8" fill="#000"/>
<g fill="none" stroke="#c86cc8" stroke-width="0.9">
<path d="M111.5,84.8 L111.5,82.4 L153.5,82.4 M111.5,73.3 L153.5,73.3"/>
<path d="M153.5,73.3 C156,69 170,69 172.3,77.5 C170,86 156,86 153.5,82.4"/>
</g>
<line x1="113.5" y1="73.6" x2="113.5" y2="82.1" stroke="#999" stroke-width="0.6"/>
<line x1="118.2" y1="73.6" x2="118.2" y2="82.1" stroke="#999" stroke-width="0.6"/>
<line x1="123.4" y1="73.6" x2="123.4" y2="82.1" stroke="#999" stroke-width="0.6"/>
<line x1="128.7" y1="73.6" x2="128.7" y2="82.1" stroke="#999" stroke-width="0.6"/>
<line x1="133.7" y1="73.6" x2="133.7" y2="82.1" stroke="#999" stroke-width="0.6"/>
<line x1="139.2" y1="73.6" x2="139.2" y2="82.1" stroke="#999" stroke-width="0.6"/>
<line x1="144" y1="73.6" x2="144" y2="82.1" stroke="#999" stroke-width="0.6"/>
<line x1="149.2" y1="73.6" x2="149.2" y2="82.1" stroke="#999" stroke-width="0.6"/>
<text x="173" y="79.6" font-size="7.2" textLength="25.5" lengthAdjust="spacingAndGlyphs" fill="#444">miRNA</text>
<line x1="131.3" y1="85.8" x2="131.3" y2="92.2" stroke="#e03030" stroke-width="0.9"/>
<line x1="125.4" y1="92.4" x2="137.7" y2="92.4" stroke="#e03030" stroke-width="1"/>
<polyline points="89,101.9 89.6,101.7 90.4,101.3 91.4,101 92.5,100.5 93.6,100.1 94.7,99.7 95.9,99.2 96.9,98.9 97.9,98.6 98.8,98.3 99.7,98 100.6,97.8 101.6,97.5 102.6,97.3 103.7,97.1 104.8,96.9 106.1,96.7 107.4,96.5 108.9,96.3 110.4,96.2 111.8,96 113.3,95.9 114.7,95.8 116,95.8 117.2,95.8 118.3,95.9 119.4,95.9 120.5,96 121.5,96.2 122.6,96.4 123.6,96.6 124.6,96.9 125.6,97.3 126.6,97.7 127.6,98.2 128.6,98.8 129.6,99.4 130.6,99.9 131.6,100.4 132.6,100.9 133.6,101.3 134.6,101.7 135.6,102.1 136.6,102.4 137.5,102.7 138.5,103 139.5,103.3 140.5,103.5 141.4,103.7 142.3,103.9 143.1,104 143.9,104.1 144.9,104.2 145.9,104.2 147,104.3 148.4,104.3 150,104.3 151.9,104.3 153.9,104.3 156,104.2 158.1,104.1 160.3,104.1 162.4,104 164.3,103.9 166.2,103.8 168.1,103.7 169.9,103.7 171.8,103.6 173.5,103.4 175.2,103.3 176.8,103.1 178.2,102.9 179.5,102.6 180.8,102.2 181.9,101.8 183,101.3 184,100.9 184.8,100.5 185.5,100.1 186.1,99.9" fill="none" stroke="#333" stroke-width="0.8"/>
<path d="M89.9,101.5l0.6,2.2M92.5,100.5l0.6,2.2M95.1,99.5l0.6,2.2M97.8,98.6l0.6,2.2M100.5,97.8l0.6,2.2M103.2,97.2l0.6,2.2M106,96.7l0.6,2.2M108.8,96.3l0.6,2.2M111.5,96l0.6,2.2M114.3,95.8l0.6,2.2M117.1,95.8l0.6,2.2M119.9,96l0.6,2.2M122.7,96.4l0.6,2.2M125.4,97.2l0.6,2.2M127.9,98.4l0.6,2.2M130.3,99.8l0.6,2.2M132.8,101l0.6,2.2M135.5,102l0.6,2.2M138.1,102.9l0.6,2.2M140.8,103.6l0.6,2.2M143.6,104l0.6,2.2M146.4,104.2l0.6,2.2M149.2,104.3l0.6,2.2M152,104.3l0.6,2.2M154.8,104.2l0.6,2.2M157.6,104.2l0.6,2.2M160.4,104.1l0.6,2.2M163.2,104l0.6,2.2M166,103.8l0.6,2.2M168.8,103.7l0.6,2.2M171.6,103.6l0.6,2.2M174.4,103.4l0.6,2.2M177.1,103.1l0.6,2.2M179.9,102.5l0.6,2.2M182.5,101.6l0.6,2.2M185.1,100.4l0.6,2.2" stroke="#222" stroke-width="0.7" fill="none"/>
<polyline points="93.5,109.8 94.1,109.6 94.9,109.2 95.9,108.9 97,108.4 98.1,108 99.2,107.6 100.4,107.1 101.4,106.8 102.4,106.5 103.3,106.2 104.2,105.9 105.1,105.7 106.1,105.4 107.1,105.2 108.2,105 109.3,104.8 110.6,104.6 111.9,104.4 113.4,104.2 114.9,104.1 116.3,103.9 117.8,103.8 119.2,103.7 120.5,103.7 121.7,103.7 122.8,103.8 123.9,103.8 125,103.9 126,104.1 127.1,104.3 128.1,104.5 129.1,104.8 130.1,105.2 131.1,105.6 132.1,106.1 133.1,106.7 134.1,107.3 135.1,107.8 136.1,108.3 137.1,108.8 138.1,109.2 139.1,109.6 140.1,110 141.1,110.3 142,110.6 143,110.9 144,111.2 145,111.4 145.9,111.6 146.8,111.8 147.6,111.9 148.4,112 149.4,112.1 150.4,112.1 151.5,112.2 152.9,112.2 154.5,112.2 156.4,112.2 158.4,112.2 160.5,112.1 162.6,112 164.8,112 166.9,111.9 168.8,111.8 170.7,111.7 172.6,111.6 174.5,111.5 176.3,111.4 178.1,111.3 179.8,111.1 181.3,111 182.7,110.8 183.9,110.6 185,110.3 185.9,110 186.7,109.6 187.4,109.3 188,109 188.6,108.8 189,108.6" fill="none" stroke="#333" stroke-width="0.8"/>
<path d="M94.4,109.4l0.6,2.2M97,108.4l0.6,2.2M99.6,107.4l0.6,2.2M102.3,106.5l0.6,2.2M105,105.7l0.6,2.2M107.7,105.1l0.6,2.2M110.5,104.6l0.6,2.2M113.3,104.2l0.6,2.2M116,103.9l0.6,2.2M118.8,103.7l0.6,2.2M121.6,103.7l0.6,2.2M124.4,103.9l0.6,2.2M127.2,104.3l0.6,2.2M129.9,105.1l0.6,2.2M132.4,106.3l0.6,2.2M134.8,107.7l0.6,2.2M137.3,108.9l0.6,2.2M140,109.9l0.6,2.2M142.6,110.8l0.6,2.2M145.3,111.5l0.6,2.2M148.1,111.9l0.6,2.2M150.9,112.1l0.6,2.2M153.7,112.2l0.6,2.2M156.5,112.2l0.6,2.2M159.3,112.1l0.6,2.2M162.1,112.1l0.6,2.2M164.9,112l0.6,2.2M167.7,111.9l0.6,2.2M170.5,111.7l0.6,2.2M173.3,111.6l0.6,2.2M176.1,111.4l0.6,2.2M178.9,111.2l0.6,2.2M181.6,110.9l0.6,2.2M184.4,110.4l0.6,2.2M187,109.5l0.6,2.2" stroke="#222" stroke-width="0.7" fill="none"/>
<text x="187" y="100.3" font-size="6.3" textLength="32.2" lengthAdjust="spacingAndGlyphs" fill="#222">AAAAAA</text>
<text x="190.4" y="108.8" font-size="6.3" textLength="30.9" lengthAdjust="spacingAndGlyphs" fill="#222">AAAAAA</text>
<text x="220.2" y="104.5" font-size="11.6" textLength="41" lengthAdjust="spacingAndGlyphs">Target<tspan font-style="italic">1</tspan></text>
<text x="222" y="116.2" font-size="11.6" textLength="41" lengthAdjust="spacingAndGlyphs">Target<tspan font-style="italic">2</tspan></text>
<text x="59" y="127.6" font-size="12.6" font-weight="bold" textLength="140.3" lengthAdjust="spacingAndGlyphs">miRNA-target prediction</text>
<ellipse cx="280.8" cy="78.6" rx="9" ry="6.4" fill="#fff" stroke="#e84848" stroke-width="0.9"/>
<text x="280.5" y="80.8" font-size="5.8" text-anchor="middle" fill="#222">TF<tspan font-size="3.6" dy="1" font-style="italic">&#945;</tspan></text>
<ellipse cx="306.1" cy="78.6" rx="9" ry="6.4" fill="#fff" stroke="#e84848" stroke-width="0.9"/>
<text x="305.8" y="80.8" font-size="5.8" text-anchor="middle" fill="#222">TF<tspan font-size="3.6" dy="1" font-style="italic">&#946;</tspan></text>
<ellipse cx="332" cy="78.6" rx="9" ry="6.4" fill="#fff" stroke="#e84848" stroke-width="0.9"/>
<text x="331.7" y="80.8" font-size="5.8" text-anchor="middle" fill="#222">TF<tspan font-size="3.6" dy="1" font-style="italic">&#947;</tspan></text>
<ellipse cx="371.8" cy="78.6" rx="9" ry="6.4" fill="#fff" stroke="#e84848" stroke-width="0.9"/>
<text x="371.5" y="80.8" font-size="5.8" text-anchor="middle" fill="#222">TF<tspan font-size="3.6" dy="1" font-style="italic">&#966;</tspan></text>
<line x1="314.8" y1="78.7" x2="321.5" y2="78.7" stroke="#3050c0" stroke-width="0.7"/>
<polygon points="323.3,78.7 320.3,80 320.3,77.5" fill="#3050c0"/>
<line x1="340.7" y1="78.7" x2="361.2" y2="78.7" stroke="#3050c0" stroke-width="0.7"/>
<polygon points="363,78.7 360,80 360,77.5" fill="#3050c0"/>
<line x1="345" y1="85.4" x2="358" y2="85.4" stroke="#666" stroke-width="0.5"/>
<rect x="271" y="119.1" width="20" height="13.5" rx="1.5" fill="#fff" stroke="#9a70c8" stroke-width="0.8"/>
<text x="280.7" y="127.6" font-size="5.6" text-anchor="middle" fill="#222"><tspan textLength="11" lengthAdjust="spacingAndGlyphs">Target</tspan><tspan font-size="3.8" dy="1" font-style="italic">1</tspan></text>
<rect x="296" y="119.1" width="20" height="13.5" rx="1.5" fill="#fff" stroke="#9a70c8" stroke-width="0.8"/>
<text x="305.7" y="127.6" font-size="5.6" text-anchor="middle" fill="#222"><tspan textLength="11" lengthAdjust="spacingAndGlyphs">Target</tspan><tspan font-size="3.8" dy="1" font-style="italic">2</tspan></text>
<rect x="321" y="119.1" width="20" height="13.5" rx="1.5" fill="#fff" stroke="#9a70c8" stroke-width="0.8"/>
<text x="330.7" y="127.6" font-size="5.6" text-anchor="middle" fill="#222"><tspan textLength="11" lengthAdjust="spacingAndGlyphs">Target</tspan><tspan font-size="3.8" dy="1" font-style="italic">3</tspan></text>
<rect x="346.5" y="119.1" width="19.5" height="13.5" rx="1.5" fill="#fff" stroke="#9a70c8" stroke-width="0.8"/>
<text x="355.9" y="127.6" font-size="5.6" text-anchor="middle" fill="#222"><tspan textLength="11" lengthAdjust="spacingAndGlyphs">Target</tspan><tspan font-size="3.8" dy="1" font-style="italic">4</tspan></text>
<rect x="378" y="119.1" width="20" height="13.5" rx="1.5" fill="#fff" stroke="#9a70c8" stroke-width="0.8"/>
<text x="387.7" y="127.6" font-size="5.6" text-anchor="middle" fill="#222"><tspan textLength="11" lengthAdjust="spacingAndGlyphs">Target</tspan><tspan font-size="3.8" dy="1" font-style="italic">m</tspan></text>
<line x1="371" y1="127.5" x2="373" y2="127.5" stroke="#999" stroke-width="0.5"/>
<line x1="280.8" y1="85" x2="281" y2="117.3" stroke="#222" stroke-width="0.6"/>
<polygon points="281,119.1 279.9,116.1 282.1,116.1" fill="#222"/>
<line x1="306.1" y1="85" x2="306" y2="117.3" stroke="#222" stroke-width="0.6"/>
<polygon points="306,119.1 304.9,116.1 307.1,116.1" fill="#222"/>
<line x1="306.1" y1="85" x2="329.9" y2="117.6" stroke="#222" stroke-width="0.6"/>
<polygon points="331,119.1 328.3,117.3 330.1,116" fill="#222"/>
<line x1="332" y1="85" x2="282.5" y2="118.1" stroke="#222" stroke-width="0.6"/>
<polygon points="281,119.1 282.9,116.5 284.1,118.3" fill="#222"/>
<line x1="332" y1="85" x2="331.1" y2="117.3" stroke="#222" stroke-width="0.6"/>
<polygon points="331,119.1 330,116.1 332.2,116.1" fill="#222"/>
<line x1="332" y1="85" x2="355.2" y2="117.6" stroke="#222" stroke-width="0.6"/>
<polygon points="356.2,119.1 353.6,117.3 355.4,116" fill="#222"/>
<line x1="371.8" y1="85" x2="356.9" y2="117.5" stroke="#222" stroke-width="0.6"/>
<polygon points="356.2,119.1 356.4,115.9 358.4,116.8" fill="#222"/>
<line x1="371.8" y1="85" x2="387.2" y2="117.5" stroke="#222" stroke-width="0.6"/>
<polygon points="388,119.1 385.7,116.9 387.7,115.9" fill="#222"/>
<text x="263.5" y="145.9" font-size="12.6" font-weight="bold" textLength="129.7" lengthAdjust="spacingAndGlyphs">TF/target Identification</text>
<text x="401.4" y="146.4" font-size="8" font-weight="bold">+</text>
<line x1="403.9" y1="151.4" x2="403.9" y2="174" stroke="#2a2a2a" stroke-width="1.7"/>
<polygon points="403.9,177.4 401.4,172.8 406.3,172.8" fill="#222"/>
<text x="274.1" y="169.1" font-size="13.6" font-weight="bold" textLength="124.7" lengthAdjust="spacingAndGlyphs">Dynamic simulation</text>
<text x="414.7" y="146.6" font-size="12.6" font-weight="bold" textLength="130.3" lengthAdjust="spacingAndGlyphs">Coexpression network</text>
<text x="39" y="169.9" font-size="13.3" font-weight="bold" textLength="139.7" lengthAdjust="spacingAndGlyphs">Dynamic event mining</text>
<text transform="translate(34.2,266) rotate(-90)" font-size="11.2" font-weight="bold" textLength="89.2" lengthAdjust="spacingAndGlyphs">Log2 Expression</text>
<line x1="49.1" y1="184.7" x2="49.1" y2="256.7" stroke="#222" stroke-width="0.9"/>
<line x1="45.8" y1="192.3" x2="49.1" y2="192.3" stroke="#222" stroke-width="0.6"/>
<text x="45.2" y="194.1" font-size="5.2" text-anchor="end" fill="#444">2</text>
<line x1="45.8" y1="204.6" x2="49.1" y2="204.6" stroke="#222" stroke-width="0.6"/>
<text x="45.2" y="206.4" font-size="5.2" text-anchor="end" fill="#444">1</text>
<line x1="45.8" y1="220" x2="49.1" y2="220" stroke="#222" stroke-width="0.6"/>
<text x="45.2" y="221.8" font-size="5.2" text-anchor="end" fill="#444">0</text>
<line x1="45.8" y1="234.5" x2="49.1" y2="234.5" stroke="#222" stroke-width="0.6"/>
<text x="45.2" y="236.3" font-size="5.2" text-anchor="end" fill="#444">-1</text>
<line x1="45.8" y1="249.2" x2="49.1" y2="249.2" stroke="#222" stroke-width="0.6"/>
<text x="45.2" y="251" font-size="5.2" text-anchor="end" fill="#444">-2</text>
<line x1="49.1" y1="220" x2="281" y2="220" stroke="#888" stroke-width="1.2"/>
<text x="50.4" y="225.4" font-size="4.5" text-anchor="middle" fill="#222">0</text>
<text x="65.5" y="225.4" font-size="4.5" text-anchor="middle" fill="#222">4</text>
<text x="81.7" y="225.4" font-size="4.5" text-anchor="middle" fill="#222">6</text>
<text x="98.4" y="225.4" font-size="4.5" text-anchor="middle" fill="#222">8</text>
<text x="114.6" y="225.4" font-size="4.5" text-anchor="middle" fill="#222">10</text>
<text x="131.9" y="225.4" font-size="4.5" text-anchor="middle" fill="#222">12</text>
<text x="147.7" y="225.4" font-size="4.5" text-anchor="middle" fill="#222">14</text>
<text x="164.4" y="225.4" font-size="4.5" text-anchor="middle" fill="#222">16</text>
<text x="180.8" y="225.4" font-size="4.5" text-anchor="middle" fill="#222">18</text>
<text x="197.2" y="225.4" font-size="4.5" text-anchor="middle" fill="#222">20</text>
<text x="213.6" y="225.4" font-size="4.5" text-anchor="middle" fill="#222">22</text>
<text x="230" y="225.4" font-size="4.5" text-anchor="middle" fill="#222">24</text>
<text x="247" y="225.4" font-size="4.5" text-anchor="middle" fill="#222">26</text>
<text x="263.5" y="225.4" font-size="4.5" text-anchor="middle" fill="#222">28</text>
<text x="279.9" y="225.4" font-size="4.5" text-anchor="middle" fill="#222">30</text>
<line x1="49.1" y1="219.8" x2="115" y2="219.8" stroke="#46b4b4" stroke-width="2"/>
<circle cx="65.5" cy="219.8" r="0.9" fill="#46b4b4"/>
<circle cx="81.7" cy="219.8" r="0.9" fill="#46b4b4"/>
<circle cx="98.4" cy="219.8" r="0.9" fill="#46b4b4"/>
<polyline points="115,220 131.9,215 147.7,209 163.9,207 180.8,204.5 197.4,200.7 213.8,197.7 230.2,195.2 247.1,192.2 263.5,189.4 279.9,186.9" fill="none" stroke="#333" stroke-width="1.1"/>
<circle cx="131.9" cy="215" r="1.2" fill="#3aa04a" stroke="#333" stroke-width="0.2"/>
<circle cx="147.7" cy="209" r="1.2" fill="#3aa04a" stroke="#333" stroke-width="0.2"/>
<circle cx="163.9" cy="207" r="1.2" fill="#3aa04a" stroke="#333" stroke-width="0.2"/>
<circle cx="180.8" cy="204.5" r="1.2" fill="#3aa04a" stroke="#333" stroke-width="0.2"/>
<circle cx="197.4" cy="200.7" r="1.2" fill="#3aa04a" stroke="#333" stroke-width="0.2"/>
<circle cx="213.8" cy="197.7" r="1.2" fill="#3aa04a" stroke="#333" stroke-width="0.2"/>
<circle cx="230.2" cy="195.2" r="1.2" fill="#3aa04a" stroke="#333" stroke-width="0.2"/>
<circle cx="247.1" cy="192.2" r="1.2" fill="#3aa04a" stroke="#333" stroke-width="0.2"/>
<circle cx="263.5" cy="189.4" r="1.2" fill="#3aa04a" stroke="#333" stroke-width="0.2"/>
<circle cx="279.9" cy="186.9" r="1.2" fill="#3aa04a" stroke="#333" stroke-width="0.2"/>
<polyline points="158.5,215.8 182.3,215.3" fill="none" stroke="#333" stroke-width="1.1"/>
<circle cx="182.3" cy="215.3" r="1.2" fill="#3050a0" stroke="#333" stroke-width="0.2"/>
<polyline points="206,213.2 213.8,211.3 230.2,208.5 247.1,206 263.5,203.5 279.9,201" fill="none" stroke="#333" stroke-width="1.1"/>
<circle cx="213.8" cy="211.3" r="1.2" fill="#c04040" stroke="#333" stroke-width="0.2"/>
<circle cx="230.2" cy="208.5" r="1.2" fill="#c04040" stroke="#333" stroke-width="0.2"/>
<circle cx="247.1" cy="206" r="1.2" fill="#c04040" stroke="#333" stroke-width="0.2"/>
<circle cx="263.5" cy="203.5" r="1.2" fill="#c04040" stroke="#333" stroke-width="0.2"/>
<circle cx="279.9" cy="201" r="1.2" fill="#c04040" stroke="#333" stroke-width="0.2"/>
<polyline points="115,220 131.9,228 147.7,230.6 163.9,231.8" fill="none" stroke="#7a5a3a" stroke-width="1.1"/>
<circle cx="131.9" cy="228" r="1.2" fill="#e0a040" stroke="#333" stroke-width="0.2"/>
<circle cx="147.7" cy="230.6" r="1.2" fill="#e0a040" stroke="#333" stroke-width="0.2"/>
<circle cx="163.9" cy="231.8" r="1.2" fill="#e0a040" stroke="#333" stroke-width="0.2"/>
<polyline points="191.1,232.5 213.8,233.8 230.2,234.5 247.1,235.2 263.5,236 279.9,236.8" fill="none" stroke="#333" stroke-width="0.9"/>
<circle cx="213.8" cy="233.8" r="0.7" fill="#333" stroke="#333" stroke-width="0.2"/>
<circle cx="230.2" cy="234.5" r="0.7" fill="#333" stroke="#333" stroke-width="0.2"/>
<circle cx="247.1" cy="235.2" r="0.7" fill="#333" stroke="#333" stroke-width="0.2"/>
<circle cx="263.5" cy="236" r="0.7" fill="#333" stroke="#333" stroke-width="0.2"/>
<circle cx="279.9" cy="236.8" r="0.7" fill="#333" stroke="#333" stroke-width="0.2"/>
<polyline points="203,224.7 213.8,226.8 230.2,230.5 247.1,233.5 263.5,237.2 279.9,241.1" fill="none" stroke="#333" stroke-width="0.9"/>
<circle cx="213.8" cy="226.8" r="0.9" fill="#222" stroke="#333" stroke-width="0.2"/>
<circle cx="230.2" cy="230.5" r="0.9" fill="#222" stroke="#333" stroke-width="0.2"/>
<circle cx="247.1" cy="233.5" r="0.9" fill="#222" stroke="#333" stroke-width="0.2"/>
<circle cx="263.5" cy="237.2" r="0.9" fill="#222" stroke="#333" stroke-width="0.2"/>
<circle cx="279.9" cy="241.1" r="0.9" fill="#222" stroke="#333" stroke-width="0.2"/>
<polyline points="163.9,234.5 180.8,237.6 197.4,240.1 213.8,243.6 230.2,246.3 247.1,248.7 263.5,251.2 279.9,254" fill="none" stroke="#333" stroke-width="0.9"/>
<circle cx="180.8" cy="237.6" r="1.1" fill="#3a9aa0" stroke="#333" stroke-width="0.2"/>
<circle cx="197.4" cy="240.1" r="1.1" fill="#3a9aa0" stroke="#333" stroke-width="0.2"/>
<circle cx="213.8" cy="243.6" r="1.1" fill="#3a9aa0" stroke="#333" stroke-width="0.2"/>
<circle cx="230.2" cy="246.3" r="1.1" fill="#3a9aa0" stroke="#333" stroke-width="0.2"/>
<circle cx="247.1" cy="248.7" r="1.1" fill="#3a9aa0" stroke="#333" stroke-width="0.2"/>
<circle cx="263.5" cy="251.2" r="1.1" fill="#3a9aa0" stroke="#333" stroke-width="0.2"/>
<circle cx="279.9" cy="254" r="1.1" fill="#3a9aa0" stroke="#333" stroke-width="0.2"/>
<rect x="94" y="209.2" width="25.6" height="9" fill="#fff" stroke="#555" stroke-width="0.5"/>
<text x="106.8" y="215.4" font-size="4.6" font-weight="bold" text-anchor="middle" textLength="17.4" lengthAdjust="spacingAndGlyphs" fill="#222">TF set 1</text>
<rect x="132.5" y="210.2" width="26" height="9.1" fill="#fff" stroke="#555" stroke-width="0.5"/>
<text x="145.5" y="216.4" font-size="4.6" font-weight="bold" text-anchor="middle" textLength="17.7" lengthAdjust="spacingAndGlyphs" fill="#222">miRNA</text>
<rect x="182.3" y="210.3" width="23.7" height="9.4" fill="#fff" stroke="#555" stroke-width="0.5"/>
<text x="194.2" y="216.7" font-size="4.6" font-weight="bold" text-anchor="middle" textLength="16.1" lengthAdjust="spacingAndGlyphs" fill="#222">TF set 3</text>
<rect x="165.6" y="228" width="25.5" height="9.3" fill="#fff" stroke="#555" stroke-width="0.5"/>
<text x="178.3" y="234.3" font-size="4.6" font-weight="bold" text-anchor="middle" textLength="17.3" lengthAdjust="spacingAndGlyphs" fill="#222">TF Set 2</text>
<text x="121.7" y="216.7" font-size="6.6" textLength="7" lengthAdjust="spacingAndGlyphs" fill="#222">P1</text>
<text x="121" y="231.8" font-size="6.6" textLength="7" lengthAdjust="spacingAndGlyphs" fill="#b0603a">P2</text>
<text x="165.6" y="205.8" font-size="6.6" textLength="7" lengthAdjust="spacingAndGlyphs" fill="#222">P3</text>
<text x="166.4" y="215.1" font-size="6.6" textLength="7" lengthAdjust="spacingAndGlyphs" fill="#222">P4</text>
<text x="220.6" y="208.3" font-size="6.6" textLength="7" lengthAdjust="spacingAndGlyphs" fill="#222">P7</text>
<text x="221.4" y="229" font-size="6.6" textLength="7" lengthAdjust="spacingAndGlyphs" fill="#222">P8</text>
<text x="197" y="237.1" font-size="6.6" textLength="7" lengthAdjust="spacingAndGlyphs" fill="#222">P5</text>
<text x="198" y="246.7" font-size="6.6" textLength="7" lengthAdjust="spacingAndGlyphs" fill="#222">P6</text>
<rect x="345.4" y="181" width="129.2" height="75.9" fill="none" stroke="#aaa" stroke-width="0.5"/>
<line x1="345.4" y1="181" x2="345.4" y2="257" stroke="#444" stroke-width="0.6"/>
<line x1="345.4" y1="256.9" x2="474.6" y2="256.9" stroke="#444" stroke-width="0.6"/>
<text x="342.2" y="182.1" font-size="3.6" font-weight="bold" text-anchor="end" fill="#333">1</text>
<text x="342.2" y="197.3" font-size="3.6" font-weight="bold" text-anchor="end" fill="#333">0.8</text>
<text x="342.2" y="212.5" font-size="3.6" font-weight="bold" text-anchor="end" fill="#333">0.6</text>
<text x="342.2" y="227.8" font-size="3.6" font-weight="bold" text-anchor="end" fill="#333">0.4</text>
<text x="342.2" y="243" font-size="3.6" font-weight="bold" text-anchor="end" fill="#333">0.2</text>
<text x="342.2" y="258.2" font-size="3.6" font-weight="bold" text-anchor="end" fill="#333">0</text>
<text x="345.4" y="263.4" font-size="3.6" font-weight="bold" text-anchor="middle" fill="#333">0</text>
<text x="361.5" y="263.4" font-size="3.6" font-weight="bold" text-anchor="middle" fill="#333">1</text>
<text x="377.6" y="263.4" font-size="3.6" font-weight="bold" text-anchor="middle" fill="#333">2</text>
<text x="393.7" y="263.4" font-size="3.6" font-weight="bold" text-anchor="middle" fill="#333">3</text>
<text x="409.8" y="263.4" font-size="3.6" font-weight="bold" text-anchor="middle" fill="#333">4</text>
<text x="425.9" y="263.4" font-size="3.6" font-weight="bold" text-anchor="middle" fill="#333">5</text>
<text x="442" y="263.4" font-size="3.6" font-weight="bold" text-anchor="middle" fill="#333">6</text>
<text x="458.1" y="263.4" font-size="3.6" font-weight="bold" text-anchor="middle" fill="#333">7</text>
<text x="474.2" y="263.4" font-size="3.6" font-weight="bold" text-anchor="middle" fill="#333">8</text>
<text transform="translate(334.9,228) rotate(-90)" font-size="4.4" font-weight="bold" fill="#222" textLength="19" lengthAdjust="spacingAndGlyphs">Activation</text>
<polyline points="345.4,180.8 347,187.6 348.6,193.8 350.2,199.5 351.8,204.6 353.4,209.3 355.1,213.6 356.7,217.5 358.3,221 359.9,224.2 361.5,227.2 363.1,229.8 364.7,232.3 366.3,234.5 367.9,236.5 369.5,238.3 371.2,240 372.8,241.5 374.4,242.9 376,244.1 377.6,245.3 379.2,246.3 380.8,247.3 382.4,248.1 384,248.9 385.6,249.6 387.3,250.3 388.9,250.9 390.5,251.4 392.1,251.9 393.7,252.4 395.3,252.8 396.9,253.1 398.5,253.5 400.1,253.8 401.8,254.1 403.4,254.3 405,254.6 406.6,254.8 408.2,255 409.8,255.1 411.4,255.3 413,255.4 414.6,255.6 416.2,255.7 417.8,255.8 419.5,255.9 421.1,256 422.7,256.1 424.3,256.1 425.9,256.2 427.5,256.3 429.1,256.3 430.7,256.4 432.3,256.4 433.9,256.5 435.6,256.5 437.2,256.5 438.8,256.6 440.4,256.6 442,256.6 443.6,256.7 445.2,256.7 446.8,256.7 448.4,256.7 450,256.7 451.7,256.7 453.3,256.8 454.9,256.8 456.5,256.8 458.1,256.8 459.7,256.8 461.3,256.8 462.9,256.8 464.5,256.8 466.1,256.8 467.8,256.8 469.4,256.8 471,256.9 472.6,256.9 474.2,256.9" fill="none" stroke="#c03030" stroke-width="0.7"/>
<circle cx="345.4" cy="180.8" r="0.6" fill="#c03030"/>
<circle cx="350.7" cy="201.1" r="0.6" fill="#c03030"/>
<circle cx="356" cy="216" r="0.6" fill="#c03030"/>
<circle cx="361.3" cy="226.9" r="0.6" fill="#c03030"/>
<circle cx="366.7" cy="234.9" r="0.6" fill="#c03030"/>
<circle cx="372" cy="240.8" r="0.6" fill="#c03030"/>
<circle cx="377.3" cy="245.1" r="0.6" fill="#c03030"/>
<circle cx="382.6" cy="248.2" r="0.6" fill="#c03030"/>
<circle cx="387.9" cy="250.5" r="0.6" fill="#c03030"/>
<circle cx="393.2" cy="252.2" r="0.6" fill="#c03030"/>
<circle cx="398.5" cy="253.5" r="0.6" fill="#c03030"/>
<circle cx="403.8" cy="254.4" r="0.6" fill="#c03030"/>
<circle cx="409.2" cy="255.1" r="0.6" fill="#c03030"/>
<circle cx="414.5" cy="255.6" r="0.6" fill="#c03030"/>
<circle cx="419.8" cy="255.9" r="0.6" fill="#c03030"/>
<circle cx="425.1" cy="256.2" r="0.6" fill="#c03030"/>
<circle cx="430.4" cy="256.4" r="0.6" fill="#c03030"/>
<circle cx="435.7" cy="256.5" r="0.6" fill="#c03030"/>
<circle cx="441" cy="256.6" r="0.6" fill="#c03030"/>
<circle cx="446.3" cy="256.7" r="0.6" fill="#c03030"/>
<circle cx="451.7" cy="256.7" r="0.6" fill="#c03030"/>
<circle cx="457" cy="256.8" r="0.6" fill="#c03030"/>
<circle cx="462.3" cy="256.8" r="0.6" fill="#c03030"/>
<circle cx="467.6" cy="256.8" r="0.6" fill="#c03030"/>
<circle cx="472.9" cy="256.9" r="0.6" fill="#c03030"/>
<polyline points="345.4,256.9 347,254 348.6,248.4 350.2,242 351.8,235.6 353.4,229.9 355.1,225 356.7,221.2 358.3,218.4 359.9,216.4 361.5,215.4 363.1,215 364.7,215.3 366.3,216.1 367.9,217.4 369.5,218.9 371.2,220.6 372.8,222.6 374.4,224.6 376,226.7 377.6,228.7 379.2,230.8 380.8,232.8 382.4,234.7 384,236.6 385.6,238.3 387.3,240 388.9,241.5 390.5,243 392.1,244.3 393.7,245.5 395.3,246.7 396.9,247.7 398.5,248.6 400.1,249.5 401.8,250.3 403.4,251 405,251.6 406.6,252.2 408.2,252.7 409.8,253.2 411.4,253.6 413,254 414.6,254.3 416.2,254.6 417.8,254.9 419.5,255.1 421.1,255.3 422.7,255.5 424.3,255.7 425.9,255.8 427.5,255.9 429.1,256.1 430.7,256.2 432.3,256.3 433.9,256.3 435.6,256.4 437.2,256.5 438.8,256.5 440.4,256.6 442,256.6 443.6,256.6 445.2,256.7 446.8,256.7 448.4,256.7 450,256.8 451.7,256.8 453.3,256.8 454.9,256.8 456.5,256.8 458.1,256.8 459.7,256.8 461.3,256.8 462.9,256.9 464.5,256.9 466.1,256.9 467.8,256.9 469.4,256.9 471,256.9 472.6,256.9 474.2,256.9" fill="none" stroke="#e88a30" stroke-width="0.7"/>
<circle cx="345.4" cy="256.9" r="0.6" fill="#e88a30"/>
<circle cx="350.7" cy="240" r="0.6" fill="#e88a30"/>
<circle cx="356" cy="222.6" r="0.6" fill="#e88a30"/>
<circle cx="361.3" cy="215.4" r="0.6" fill="#e88a30"/>
<circle cx="366.7" cy="216.4" r="0.6" fill="#e88a30"/>
<circle cx="372" cy="221.6" r="0.6" fill="#e88a30"/>
<circle cx="377.3" cy="228.3" r="0.6" fill="#e88a30"/>
<circle cx="382.6" cy="234.9" r="0.6" fill="#e88a30"/>
<circle cx="387.9" cy="240.6" r="0.6" fill="#e88a30"/>
<circle cx="393.2" cy="245.2" r="0.6" fill="#e88a30"/>
<circle cx="398.5" cy="248.6" r="0.6" fill="#e88a30"/>
<circle cx="403.8" cy="251.2" r="0.6" fill="#e88a30"/>
<circle cx="409.2" cy="253" r="0.6" fill="#e88a30"/>
<circle cx="414.5" cy="254.3" r="0.6" fill="#e88a30"/>
<circle cx="419.8" cy="255.2" r="0.6" fill="#e88a30"/>
<circle cx="425.1" cy="255.7" r="0.6" fill="#e88a30"/>
<circle cx="430.4" cy="256.1" r="0.6" fill="#e88a30"/>
<circle cx="435.7" cy="256.4" r="0.6" fill="#e88a30"/>
<circle cx="441" cy="256.6" r="0.6" fill="#e88a30"/>
<circle cx="446.3" cy="256.7" r="0.6" fill="#e88a30"/>
<circle cx="451.7" cy="256.8" r="0.6" fill="#e88a30"/>
<circle cx="457" cy="256.8" r="0.6" fill="#e88a30"/>
<circle cx="462.3" cy="256.8" r="0.6" fill="#e88a30"/>
<circle cx="467.6" cy="256.9" r="0.6" fill="#e88a30"/>
<circle cx="472.9" cy="256.9" r="0.6" fill="#e88a30"/>
<polyline points="345.4,256.9 347,253.5 348.6,247.2 350.2,240 351.8,233.2 353.4,227.3 355.1,222.6 356.7,219.1 358.3,216.8 359.9,215.4 361.5,215 363.1,215.4 364.7,216.4 366.3,217.8 367.9,219.6 369.5,221.6 371.2,223.8 372.8,226 374.4,228.3 376,230.6 377.6,232.8 379.2,234.9 380.8,236.9 382.4,238.8 384,240.6 385.6,242.3 387.3,243.8 388.9,245.2 390.5,246.4 392.1,247.6 393.7,248.6 395.3,249.6 396.9,250.4 398.5,251.2 400.1,251.9 401.8,252.5 403.4,253 405,253.5 406.6,253.9 408.2,254.3 409.8,254.6 411.4,254.9 413,255.2 414.6,255.4 416.2,255.6 417.8,255.7 419.5,255.9 421.1,256 422.7,256.1 424.3,256.2 425.9,256.3 427.5,256.4 429.1,256.5 430.7,256.5 432.3,256.6 433.9,256.6 435.6,256.7 437.2,256.7 438.8,256.7 440.4,256.7 442,256.8 443.6,256.8 445.2,256.8 446.8,256.8 448.4,256.8 450,256.8 451.7,256.8 453.3,256.9 454.9,256.9 456.5,256.9 458.1,256.9 459.7,256.9 461.3,256.9 462.9,256.9 464.5,256.9 466.1,256.9 467.8,256.9 469.4,256.9 471,256.9 472.6,256.9 474.2,256.9" fill="none" stroke="#30409a" stroke-width="0.7"/>
<circle cx="345.4" cy="256.9" r="0.6" fill="#30409a"/>
<circle cx="350.7" cy="237.9" r="0.6" fill="#30409a"/>
<circle cx="356" cy="220.4" r="0.6" fill="#30409a"/>
<circle cx="361.3" cy="215" r="0.6" fill="#30409a"/>
<circle cx="366.7" cy="218.1" r="0.6" fill="#30409a"/>
<circle cx="372" cy="224.9" r="0.6" fill="#30409a"/>
<circle cx="377.3" cy="232.4" r="0.6" fill="#30409a"/>
<circle cx="382.6" cy="239" r="0.6" fill="#30409a"/>
<circle cx="387.9" cy="244.4" r="0.6" fill="#30409a"/>
<circle cx="393.2" cy="248.3" r="0.6" fill="#30409a"/>
<circle cx="398.5" cy="251.2" r="0.6" fill="#30409a"/>
<circle cx="403.8" cy="253.2" r="0.6" fill="#30409a"/>
<circle cx="409.2" cy="254.5" r="0.6" fill="#30409a"/>
<circle cx="414.5" cy="255.4" r="0.6" fill="#30409a"/>
<circle cx="419.8" cy="255.9" r="0.6" fill="#30409a"/>
<circle cx="425.1" cy="256.3" r="0.6" fill="#30409a"/>
<circle cx="430.4" cy="256.5" r="0.6" fill="#30409a"/>
<circle cx="435.7" cy="256.7" r="0.6" fill="#30409a"/>
<circle cx="441" cy="256.8" r="0.6" fill="#30409a"/>
<circle cx="446.3" cy="256.8" r="0.6" fill="#30409a"/>
<circle cx="451.7" cy="256.8" r="0.6" fill="#30409a"/>
<circle cx="457" cy="256.9" r="0.6" fill="#30409a"/>
<circle cx="462.3" cy="256.9" r="0.6" fill="#30409a"/>
<circle cx="467.6" cy="256.9" r="0.6" fill="#30409a"/>
<circle cx="472.9" cy="256.9" r="0.6" fill="#30409a"/>
<polyline points="345.4,256.9 347,254.7 348.6,250.3 350.2,245.2 351.8,240 353.4,235.1 355.1,230.7 356.7,226.9 358.3,223.7 359.9,221.3 361.5,219.5 363.1,218.2 364.7,217.5 366.3,217.3 367.9,217.5 369.5,218.1 371.2,218.9 372.8,220 374.4,221.2 376,222.6 377.6,224.1 379.2,225.7 380.8,227.3 382.4,228.9 384,230.6 385.6,232.2 387.3,233.8 388.9,235.3 390.5,236.8 392.1,238.2 393.7,239.6 395.3,240.8 396.9,242.1 398.5,243.2 400.1,244.3 401.8,245.3 403.4,246.3 405,247.1 406.6,248 408.2,248.7 409.8,249.4 411.4,250.1 413,250.7 414.6,251.2 416.2,251.8 417.8,252.2 419.5,252.6 421.1,253 422.7,253.4 424.3,253.7 425.9,254 427.5,254.3 429.1,254.6 430.7,254.8 432.3,255 433.9,255.2 435.6,255.3 437.2,255.5 438.8,255.6 440.4,255.8 442,255.9 443.6,256 445.2,256.1 446.8,256.2 448.4,256.2 450,256.3 451.7,256.4 453.3,256.4 454.9,256.5 456.5,256.5 458.1,256.5 459.7,256.6 461.3,256.6 462.9,256.6 464.5,256.7 466.1,256.7 467.8,256.7 469.4,256.7 471,256.8 472.6,256.8 474.2,256.8" fill="none" stroke="#1a2a5a" stroke-width="0.7"/>
<circle cx="345.4" cy="256.9" r="0.6" fill="#1a2a5a"/>
<circle cx="350.7" cy="243.6" r="0.6" fill="#1a2a5a"/>
<circle cx="356" cy="228.3" r="0.6" fill="#1a2a5a"/>
<circle cx="361.3" cy="219.6" r="0.6" fill="#1a2a5a"/>
<circle cx="366.7" cy="217.3" r="0.6" fill="#1a2a5a"/>
<circle cx="372" cy="219.4" r="0.6" fill="#1a2a5a"/>
<circle cx="377.3" cy="223.8" r="0.6" fill="#1a2a5a"/>
<circle cx="382.6" cy="229.1" r="0.6" fill="#1a2a5a"/>
<circle cx="387.9" cy="234.4" r="0.6" fill="#1a2a5a"/>
<circle cx="393.2" cy="239.2" r="0.6" fill="#1a2a5a"/>
<circle cx="398.5" cy="243.2" r="0.6" fill="#1a2a5a"/>
<circle cx="403.8" cy="246.5" r="0.6" fill="#1a2a5a"/>
<circle cx="409.2" cy="249.2" r="0.6" fill="#1a2a5a"/>
<circle cx="414.5" cy="251.2" r="0.6" fill="#1a2a5a"/>
<circle cx="419.8" cy="252.7" r="0.6" fill="#1a2a5a"/>
<circle cx="425.1" cy="253.9" r="0.6" fill="#1a2a5a"/>
<circle cx="430.4" cy="254.7" r="0.6" fill="#1a2a5a"/>
<circle cx="435.7" cy="255.4" r="0.6" fill="#1a2a5a"/>
<circle cx="441" cy="255.8" r="0.6" fill="#1a2a5a"/>
<circle cx="446.3" cy="256.1" r="0.6" fill="#1a2a5a"/>
<circle cx="451.7" cy="256.4" r="0.6" fill="#1a2a5a"/>
<circle cx="457" cy="256.5" r="0.6" fill="#1a2a5a"/>
<circle cx="462.3" cy="256.6" r="0.6" fill="#1a2a5a"/>
<circle cx="467.6" cy="256.7" r="0.6" fill="#1a2a5a"/>
<circle cx="472.9" cy="256.8" r="0.6" fill="#1a2a5a"/>
<polyline points="345.4,256.9 347,255.7 348.6,252.2 350.2,247.3 351.8,241.9 353.4,236.5 355.1,231.5 356.7,227.2 358.3,223.8 359.9,221.2 361.5,219.4 363.1,218.4 364.7,218.1 366.3,218.4 367.9,219.1 369.5,220.3 371.2,221.8 372.8,223.5 374.4,225.4 376,227.3 377.6,229.4 379.2,231.4 380.8,233.4 382.4,235.3 384,237.1 385.6,238.9 387.3,240.6 388.9,242.1 390.5,243.6 392.1,244.9 393.7,246.2 395.3,247.3 396.9,248.3 398.5,249.3 400.1,250.1 401.8,250.9 403.4,251.6 405,252.2 406.6,252.7 408.2,253.2 409.8,253.7 411.4,254.1 413,254.4 414.6,254.7 416.2,255 417.8,255.2 419.5,255.4 421.1,255.6 422.7,255.8 424.3,255.9 425.9,256.1 427.5,256.2 429.1,256.3 430.7,256.3 432.3,256.4 433.9,256.5 435.6,256.5 437.2,256.6 438.8,256.6 440.4,256.7 442,256.7 443.6,256.7 445.2,256.7 446.8,256.8 448.4,256.8 450,256.8 451.7,256.8 453.3,256.8 454.9,256.8 456.5,256.8 458.1,256.9 459.7,256.9 461.3,256.9 462.9,256.9 464.5,256.9 466.1,256.9 467.8,256.9 469.4,256.9 471,256.9 472.6,256.9 474.2,256.9" fill="none" stroke="#404040" stroke-width="0.7"/>
<circle cx="345.4" cy="256.9" r="0.6" fill="#404040"/>
<circle cx="350.7" cy="245.7" r="0.6" fill="#404040"/>
<circle cx="356" cy="228.9" r="0.6" fill="#404040"/>
<circle cx="361.3" cy="219.5" r="0.6" fill="#404040"/>
<circle cx="366.7" cy="218.5" r="0.6" fill="#404040"/>
<circle cx="372" cy="222.6" r="0.6" fill="#404040"/>
<circle cx="377.3" cy="229" r="0.6" fill="#404040"/>
<circle cx="382.6" cy="235.5" r="0.6" fill="#404040"/>
<circle cx="387.9" cy="241.2" r="0.6" fill="#404040"/>
<circle cx="393.2" cy="245.8" r="0.6" fill="#404040"/>
<circle cx="398.5" cy="249.3" r="0.6" fill="#404040"/>
<circle cx="403.8" cy="251.8" r="0.6" fill="#404040"/>
<circle cx="409.2" cy="253.5" r="0.6" fill="#404040"/>
<circle cx="414.5" cy="254.7" r="0.6" fill="#404040"/>
<circle cx="419.8" cy="255.5" r="0.6" fill="#404040"/>
<circle cx="425.1" cy="256" r="0.6" fill="#404040"/>
<circle cx="430.4" cy="256.3" r="0.6" fill="#404040"/>
<circle cx="435.7" cy="256.5" r="0.6" fill="#404040"/>
<circle cx="441" cy="256.7" r="0.6" fill="#404040"/>
<circle cx="446.3" cy="256.8" r="0.6" fill="#404040"/>
<circle cx="451.7" cy="256.8" r="0.6" fill="#404040"/>
<circle cx="457" cy="256.8" r="0.6" fill="#404040"/>
<circle cx="462.3" cy="256.9" r="0.6" fill="#404040"/>
<circle cx="467.6" cy="256.9" r="0.6" fill="#404040"/>
<circle cx="472.9" cy="256.9" r="0.6" fill="#404040"/>
<polyline points="345.4,256.9 347,251.3 348.6,245 350.2,239.6 351.8,235.3 353.4,232.1 355.1,229.9 356.7,228.6 358.3,228 359.9,228 361.5,228.5 363.1,229.3 364.7,230.4 366.3,231.7 367.9,233 369.5,234.5 371.2,236 372.8,237.5 374.4,239 376,240.4 377.6,241.7 379.2,243 380.8,244.3 382.4,245.4 384,246.5 385.6,247.5 387.3,248.4 388.9,249.2 390.5,250 392.1,250.7 393.7,251.3 395.3,251.9 396.9,252.4 398.5,252.9 400.1,253.4 401.8,253.7 403.4,254.1 405,254.4 406.6,254.7 408.2,254.9 409.8,255.1 411.4,255.3 413,255.5 414.6,255.7 416.2,255.8 417.8,256 419.5,256.1 421.1,256.2 422.7,256.2 424.3,256.3 425.9,256.4 427.5,256.5 429.1,256.5 430.7,256.6 432.3,256.6 433.9,256.6 435.6,256.7 437.2,256.7 438.8,256.7 440.4,256.7 442,256.8 443.6,256.8 445.2,256.8 446.8,256.8 448.4,256.8 450,256.8 451.7,256.8 453.3,256.8 454.9,256.9 456.5,256.9 458.1,256.9 459.7,256.9 461.3,256.9 462.9,256.9 464.5,256.9 466.1,256.9 467.8,256.9 469.4,256.9 471,256.9 472.6,256.9 474.2,256.9" fill="none" stroke="#3070c0" stroke-width="0.7"/>
<circle cx="345.4" cy="256.9" r="0.6" fill="#3070c0"/>
<circle cx="350.7" cy="238.2" r="0.6" fill="#3070c0"/>
<circle cx="356" cy="229.1" r="0.6" fill="#3070c0"/>
<circle cx="361.3" cy="228.4" r="0.6" fill="#3070c0"/>
<circle cx="366.7" cy="231.9" r="0.6" fill="#3070c0"/>
<circle cx="372" cy="236.7" r="0.6" fill="#3070c0"/>
<circle cx="377.3" cy="241.5" r="0.6" fill="#3070c0"/>
<circle cx="382.6" cy="245.5" r="0.6" fill="#3070c0"/>
<circle cx="387.9" cy="248.7" r="0.6" fill="#3070c0"/>
<circle cx="393.2" cy="251.2" r="0.6" fill="#3070c0"/>
<circle cx="398.5" cy="252.9" r="0.6" fill="#3070c0"/>
<circle cx="403.8" cy="254.2" r="0.6" fill="#3070c0"/>
<circle cx="409.2" cy="255.1" r="0.6" fill="#3070c0"/>
<circle cx="414.5" cy="255.7" r="0.6" fill="#3070c0"/>
<circle cx="419.8" cy="256.1" r="0.6" fill="#3070c0"/>
<circle cx="425.1" cy="256.4" r="0.6" fill="#3070c0"/>
<circle cx="430.4" cy="256.5" r="0.6" fill="#3070c0"/>
<circle cx="435.7" cy="256.7" r="0.6" fill="#3070c0"/>
<circle cx="441" cy="256.7" r="0.6" fill="#3070c0"/>
<circle cx="446.3" cy="256.8" r="0.6" fill="#3070c0"/>
<circle cx="451.7" cy="256.8" r="0.6" fill="#3070c0"/>
<circle cx="457" cy="256.9" r="0.6" fill="#3070c0"/>
<circle cx="462.3" cy="256.9" r="0.6" fill="#3070c0"/>
<circle cx="467.6" cy="256.9" r="0.6" fill="#3070c0"/>
<circle cx="472.9" cy="256.9" r="0.6" fill="#3070c0"/>
<polyline points="345.4,256.9 347,251.7 348.6,245.3 350.2,239.8 351.8,235.4 353.4,232.2 355.1,230.2 356.7,229.1 358.3,228.7 359.9,229 361.5,229.8 363.1,230.9 364.7,232.2 366.3,233.7 367.9,235.3 369.5,237 371.2,238.6 372.8,240.2 374.4,241.7 376,243.1 377.6,244.5 379.2,245.7 380.8,246.9 382.4,248 384,248.9 385.6,249.8 387.3,250.6 388.9,251.3 390.5,252 392.1,252.6 393.7,253.1 395.3,253.5 396.9,254 398.5,254.3 400.1,254.6 401.8,254.9 403.4,255.2 405,255.4 406.6,255.6 408.2,255.8 409.8,255.9 411.4,256 413,256.2 414.6,256.3 416.2,256.3 417.8,256.4 419.5,256.5 421.1,256.5 422.7,256.6 424.3,256.6 425.9,256.7 427.5,256.7 429.1,256.7 430.7,256.7 432.3,256.8 433.9,256.8 435.6,256.8 437.2,256.8 438.8,256.8 440.4,256.8 442,256.8 443.6,256.9 445.2,256.9 446.8,256.9 448.4,256.9 450,256.9 451.7,256.9 453.3,256.9 454.9,256.9 456.5,256.9 458.1,256.9 459.7,256.9 461.3,256.9 462.9,256.9 464.5,256.9 466.1,256.9 467.8,256.9 469.4,256.9 471,256.9 472.6,256.9 474.2,256.9" fill="none" stroke="#2aa0c0" stroke-width="0.7"/>
<circle cx="345.4" cy="256.9" r="0.6" fill="#2aa0c0"/>
<circle cx="350.7" cy="238.3" r="0.6" fill="#2aa0c0"/>
<circle cx="356" cy="229.4" r="0.6" fill="#2aa0c0"/>
<circle cx="361.3" cy="229.7" r="0.6" fill="#2aa0c0"/>
<circle cx="366.7" cy="234.1" r="0.6" fill="#2aa0c0"/>
<circle cx="372" cy="239.4" r="0.6" fill="#2aa0c0"/>
<circle cx="377.3" cy="244.2" r="0.6" fill="#2aa0c0"/>
<circle cx="382.6" cy="248.1" r="0.6" fill="#2aa0c0"/>
<circle cx="387.9" cy="250.9" r="0.6" fill="#2aa0c0"/>
<circle cx="393.2" cy="252.9" r="0.6" fill="#2aa0c0"/>
<circle cx="398.5" cy="254.3" r="0.6" fill="#2aa0c0"/>
<circle cx="403.8" cy="255.2" r="0.6" fill="#2aa0c0"/>
<circle cx="409.2" cy="255.9" r="0.6" fill="#2aa0c0"/>
<circle cx="414.5" cy="256.2" r="0.6" fill="#2aa0c0"/>
<circle cx="419.8" cy="256.5" r="0.6" fill="#2aa0c0"/>
<circle cx="425.1" cy="256.6" r="0.6" fill="#2aa0c0"/>
<circle cx="430.4" cy="256.7" r="0.6" fill="#2aa0c0"/>
<circle cx="435.7" cy="256.8" r="0.6" fill="#2aa0c0"/>
<circle cx="441" cy="256.8" r="0.6" fill="#2aa0c0"/>
<circle cx="446.3" cy="256.9" r="0.6" fill="#2aa0c0"/>
<circle cx="451.7" cy="256.9" r="0.6" fill="#2aa0c0"/>
<circle cx="457" cy="256.9" r="0.6" fill="#2aa0c0"/>
<circle cx="462.3" cy="256.9" r="0.6" fill="#2aa0c0"/>
<circle cx="467.6" cy="256.9" r="0.6" fill="#2aa0c0"/>
<circle cx="472.9" cy="256.9" r="0.6" fill="#2aa0c0"/>
<polyline points="345.4,256.9 347,252.1 348.6,246.9 350.2,242.5 351.8,239.1 353.4,236.7 355.1,235.2 356.7,234.3 358.3,234.1 359.9,234.3 361.5,234.9 363.1,235.7 364.7,236.7 366.3,237.9 367.9,239.1 369.5,240.3 371.2,241.6 372.8,242.8 374.4,244 376,245.1 377.6,246.2 379.2,247.2 380.8,248.2 382.4,249 384,249.8 385.6,250.6 387.3,251.2 388.9,251.8 390.5,252.4 392.1,252.9 393.7,253.3 395.3,253.7 396.9,254.1 398.5,254.4 400.1,254.7 401.8,255 403.4,255.2 405,255.4 406.6,255.6 408.2,255.7 409.8,255.9 411.4,256 413,256.1 414.6,256.2 416.2,256.3 417.8,256.4 419.5,256.4 421.1,256.5 422.7,256.5 424.3,256.6 425.9,256.6 427.5,256.7 429.1,256.7 430.7,256.7 432.3,256.7 433.9,256.8 435.6,256.8 437.2,256.8 438.8,256.8 440.4,256.8 442,256.8 443.6,256.8 445.2,256.8 446.8,256.9 448.4,256.9 450,256.9 451.7,256.9 453.3,256.9 454.9,256.9 456.5,256.9 458.1,256.9 459.7,256.9 461.3,256.9 462.9,256.9 464.5,256.9 466.1,256.9 467.8,256.9 469.4,256.9 471,256.9 472.6,256.9 474.2,256.9" fill="none" stroke="#3a7ad0" stroke-width="0.7"/>
<circle cx="345.4" cy="256.9" r="0.6" fill="#3a7ad0"/>
<circle cx="350.7" cy="241.4" r="0.6" fill="#3a7ad0"/>
<circle cx="356" cy="234.6" r="0.6" fill="#3a7ad0"/>
<circle cx="361.3" cy="234.8" r="0.6" fill="#3a7ad0"/>
<circle cx="366.7" cy="238.1" r="0.6" fill="#3a7ad0"/>
<circle cx="372" cy="242.2" r="0.6" fill="#3a7ad0"/>
<circle cx="377.3" cy="246" r="0.6" fill="#3a7ad0"/>
<circle cx="382.6" cy="249.1" r="0.6" fill="#3a7ad0"/>
<circle cx="387.9" cy="251.5" r="0.6" fill="#3a7ad0"/>
<circle cx="393.2" cy="253.2" r="0.6" fill="#3a7ad0"/>
<circle cx="398.5" cy="254.4" r="0.6" fill="#3a7ad0"/>
<circle cx="403.8" cy="255.3" r="0.6" fill="#3a7ad0"/>
<circle cx="409.2" cy="255.8" r="0.6" fill="#3a7ad0"/>
<circle cx="414.5" cy="256.2" r="0.6" fill="#3a7ad0"/>
<circle cx="419.8" cy="256.5" r="0.6" fill="#3a7ad0"/>
<circle cx="425.1" cy="256.6" r="0.6" fill="#3a7ad0"/>
<circle cx="430.4" cy="256.7" r="0.6" fill="#3a7ad0"/>
<circle cx="435.7" cy="256.8" r="0.6" fill="#3a7ad0"/>
<circle cx="441" cy="256.8" r="0.6" fill="#3a7ad0"/>
<circle cx="446.3" cy="256.9" r="0.6" fill="#3a7ad0"/>
<circle cx="451.7" cy="256.9" r="0.6" fill="#3a7ad0"/>
<circle cx="457" cy="256.9" r="0.6" fill="#3a7ad0"/>
<circle cx="462.3" cy="256.9" r="0.6" fill="#3a7ad0"/>
<circle cx="467.6" cy="256.9" r="0.6" fill="#3a7ad0"/>
<circle cx="472.9" cy="256.9" r="0.6" fill="#3a7ad0"/>
<polyline points="345.4,256.9 347,255.7 348.6,253.3 350.2,250.4 351.8,247.4 353.4,244.5 355.1,241.9 356.7,239.7 358.3,237.9 359.9,236.4 361.5,235.3 363.1,234.6 364.7,234.2 366.3,234.1 367.9,234.2 369.5,234.5 371.2,235 372.8,235.6 374.4,236.4 376,237.2 377.6,238.1 379.2,239 380.8,240 382.4,240.9 384,241.9 385.6,242.8 387.3,243.8 388.9,244.7 390.5,245.5 392.1,246.3 393.7,247.1 395.3,247.9 396.9,248.6 398.5,249.2 400.1,249.9 401.8,250.4 403.4,251 405,251.5 406.6,252 408.2,252.4 409.8,252.8 411.4,253.2 413,253.5 414.6,253.8 416.2,254.1 417.8,254.4 419.5,254.6 421.1,254.8 422.7,255 424.3,255.2 425.9,255.4 427.5,255.5 429.1,255.6 430.7,255.8 432.3,255.9 433.9,256 435.6,256.1 437.2,256.2 438.8,256.2 440.4,256.3 442,256.4 443.6,256.4 445.2,256.5 446.8,256.5 448.4,256.6 450,256.6 451.7,256.6 453.3,256.7 454.9,256.7 456.5,256.7 458.1,256.7 459.7,256.7 461.3,256.8 462.9,256.8 464.5,256.8 466.1,256.8 467.8,256.8 469.4,256.8 471,256.8 472.6,256.8 474.2,256.8" fill="none" stroke="#8040b0" stroke-width="0.7"/>
<circle cx="345.4" cy="256.9" r="0.6" fill="#8040b0"/>
<circle cx="350.7" cy="249.5" r="0.6" fill="#8040b0"/>
<circle cx="356" cy="240.6" r="0.6" fill="#8040b0"/>
<circle cx="361.3" cy="235.4" r="0.6" fill="#8040b0"/>
<circle cx="366.7" cy="234.1" r="0.6" fill="#8040b0"/>
<circle cx="372" cy="235.3" r="0.6" fill="#8040b0"/>
<circle cx="377.3" cy="237.9" r="0.6" fill="#8040b0"/>
<circle cx="382.6" cy="241" r="0.6" fill="#8040b0"/>
<circle cx="387.9" cy="244.1" r="0.6" fill="#8040b0"/>
<circle cx="393.2" cy="246.9" r="0.6" fill="#8040b0"/>
<circle cx="398.5" cy="249.2" r="0.6" fill="#8040b0"/>
<circle cx="403.8" cy="251.1" r="0.6" fill="#8040b0"/>
<circle cx="409.2" cy="252.6" r="0.6" fill="#8040b0"/>
<circle cx="414.5" cy="253.8" r="0.6" fill="#8040b0"/>
<circle cx="419.8" cy="254.6" r="0.6" fill="#8040b0"/>
<circle cx="425.1" cy="255.3" r="0.6" fill="#8040b0"/>
<circle cx="430.4" cy="255.7" r="0.6" fill="#8040b0"/>
<circle cx="435.7" cy="256.1" r="0.6" fill="#8040b0"/>
<circle cx="441" cy="256.3" r="0.6" fill="#8040b0"/>
<circle cx="446.3" cy="256.5" r="0.6" fill="#8040b0"/>
<circle cx="451.7" cy="256.6" r="0.6" fill="#8040b0"/>
<circle cx="457" cy="256.7" r="0.6" fill="#8040b0"/>
<circle cx="462.3" cy="256.8" r="0.6" fill="#8040b0"/>
<circle cx="467.6" cy="256.8" r="0.6" fill="#8040b0"/>
<circle cx="472.9" cy="256.8" r="0.6" fill="#8040b0"/>
<polyline points="345.4,256.9 347,256.9 348.6,256.6 350.2,256 351.8,255.1 353.4,254 355.1,252.7 356.7,251.4 358.3,250.1 359.9,248.8 361.5,247.7 363.1,246.8 364.7,246 366.3,245.4 367.9,245 369.5,244.8 371.2,244.7 372.8,244.8 374.4,245 376,245.3 377.6,245.7 379.2,246.1 380.8,246.6 382.4,247.2 384,247.7 385.6,248.3 387.3,248.9 388.9,249.5 390.5,250 392.1,250.6 393.7,251.1 395.3,251.6 396.9,252.1 398.5,252.5 400.1,252.9 401.8,253.3 403.4,253.6 405,254 406.6,254.3 408.2,254.5 409.8,254.8 411.4,255 413,255.2 414.6,255.4 416.2,255.6 417.8,255.7 419.5,255.9 421.1,256 422.7,256.1 424.3,256.2 425.9,256.3 427.5,256.3 429.1,256.4 430.7,256.5 432.3,256.5 433.9,256.6 435.6,256.6 437.2,256.6 438.8,256.7 440.4,256.7 442,256.7 443.6,256.8 445.2,256.8 446.8,256.8 448.4,256.8 450,256.8 451.7,256.8 453.3,256.8 454.9,256.8 456.5,256.9 458.1,256.9 459.7,256.9 461.3,256.9 462.9,256.9 464.5,256.9 466.1,256.9 467.8,256.9 469.4,256.9 471,256.9 472.6,256.9 474.2,256.9" fill="none" stroke="#30a0c0" stroke-width="0.7"/>
<circle cx="345.4" cy="256.9" r="0.6" fill="#30a0c0"/>
<circle cx="350.7" cy="255.7" r="0.6" fill="#30a0c0"/>
<circle cx="356" cy="251.9" r="0.6" fill="#30a0c0"/>
<circle cx="361.3" cy="247.8" r="0.6" fill="#30a0c0"/>
<circle cx="366.7" cy="245.3" r="0.6" fill="#30a0c0"/>
<circle cx="372" cy="244.7" r="0.6" fill="#30a0c0"/>
<circle cx="377.3" cy="245.6" r="0.6" fill="#30a0c0"/>
<circle cx="382.6" cy="247.2" r="0.6" fill="#30a0c0"/>
<circle cx="387.9" cy="249.1" r="0.6" fill="#30a0c0"/>
<circle cx="393.2" cy="250.9" r="0.6" fill="#30a0c0"/>
<circle cx="398.5" cy="252.5" r="0.6" fill="#30a0c0"/>
<circle cx="403.8" cy="253.7" r="0.6" fill="#30a0c0"/>
<circle cx="409.2" cy="254.7" r="0.6" fill="#30a0c0"/>
<circle cx="414.5" cy="255.4" r="0.6" fill="#30a0c0"/>
<circle cx="419.8" cy="255.9" r="0.6" fill="#30a0c0"/>
<circle cx="425.1" cy="256.2" r="0.6" fill="#30a0c0"/>
<circle cx="430.4" cy="256.5" r="0.6" fill="#30a0c0"/>
<circle cx="435.7" cy="256.6" r="0.6" fill="#30a0c0"/>
<circle cx="441" cy="256.7" r="0.6" fill="#30a0c0"/>
<circle cx="446.3" cy="256.8" r="0.6" fill="#30a0c0"/>
<circle cx="451.7" cy="256.8" r="0.6" fill="#30a0c0"/>
<circle cx="457" cy="256.9" r="0.6" fill="#30a0c0"/>
<circle cx="462.3" cy="256.9" r="0.6" fill="#30a0c0"/>
<circle cx="467.6" cy="256.9" r="0.6" fill="#30a0c0"/>
<circle cx="472.9" cy="256.9" r="0.6" fill="#30a0c0"/>
<polyline points="345.4,256.9 347,256.8 348.6,256.5 350.2,255.9 351.8,254.9 353.4,253.8 355.1,252.5 356.7,251.2 358.3,249.9 359.9,248.7 361.5,247.7 363.1,246.9 364.7,246.3 366.3,245.8 367.9,245.6 369.5,245.5 371.2,245.6 372.8,245.8 374.4,246.1 376,246.5 377.6,246.9 379.2,247.5 380.8,248 382.4,248.6 384,249.2 385.6,249.7 387.3,250.3 388.9,250.9 390.5,251.4 392.1,251.9 393.7,252.4 395.3,252.8 396.9,253.2 398.5,253.6 400.1,253.9 401.8,254.2 403.4,254.5 405,254.8 406.6,255 408.2,255.2 409.8,255.4 411.4,255.6 413,255.8 414.6,255.9 416.2,256 417.8,256.1 419.5,256.2 421.1,256.3 422.7,256.4 424.3,256.5 425.9,256.5 427.5,256.6 429.1,256.6 430.7,256.6 432.3,256.7 433.9,256.7 435.6,256.7 437.2,256.8 438.8,256.8 440.4,256.8 442,256.8 443.6,256.8 445.2,256.8 446.8,256.8 448.4,256.9 450,256.9 451.7,256.9 453.3,256.9 454.9,256.9 456.5,256.9 458.1,256.9 459.7,256.9 461.3,256.9 462.9,256.9 464.5,256.9 466.1,256.9 467.8,256.9 469.4,256.9 471,256.9 472.6,256.9 474.2,256.9" fill="none" stroke="#2a5a9a" stroke-width="0.7"/>
<circle cx="345.4" cy="256.9" r="0.6" fill="#2a5a9a"/>
<circle cx="350.7" cy="255.6" r="0.6" fill="#2a5a9a"/>
<circle cx="356" cy="251.7" r="0.6" fill="#2a5a9a"/>
<circle cx="361.3" cy="247.8" r="0.6" fill="#2a5a9a"/>
<circle cx="366.7" cy="245.8" r="0.6" fill="#2a5a9a"/>
<circle cx="372" cy="245.6" r="0.6" fill="#2a5a9a"/>
<circle cx="377.3" cy="246.8" r="0.6" fill="#2a5a9a"/>
<circle cx="382.6" cy="248.6" r="0.6" fill="#2a5a9a"/>
<circle cx="387.9" cy="250.5" r="0.6" fill="#2a5a9a"/>
<circle cx="393.2" cy="252.2" r="0.6" fill="#2a5a9a"/>
<circle cx="398.5" cy="253.6" r="0.6" fill="#2a5a9a"/>
<circle cx="403.8" cy="254.6" r="0.6" fill="#2a5a9a"/>
<circle cx="409.2" cy="255.4" r="0.6" fill="#2a5a9a"/>
<circle cx="414.5" cy="255.9" r="0.6" fill="#2a5a9a"/>
<circle cx="419.8" cy="256.2" r="0.6" fill="#2a5a9a"/>
<circle cx="425.1" cy="256.5" r="0.6" fill="#2a5a9a"/>
<circle cx="430.4" cy="256.6" r="0.6" fill="#2a5a9a"/>
<circle cx="435.7" cy="256.7" r="0.6" fill="#2a5a9a"/>
<circle cx="441" cy="256.8" r="0.6" fill="#2a5a9a"/>
<circle cx="446.3" cy="256.8" r="0.6" fill="#2a5a9a"/>
<circle cx="451.7" cy="256.9" r="0.6" fill="#2a5a9a"/>
<circle cx="457" cy="256.9" r="0.6" fill="#2a5a9a"/>
<circle cx="462.3" cy="256.9" r="0.6" fill="#2a5a9a"/>
<circle cx="467.6" cy="256.9" r="0.6" fill="#2a5a9a"/>
<circle cx="472.9" cy="256.9" r="0.6" fill="#2a5a9a"/>
<polyline points="345.4,256.9 347,256.9 348.6,256.7 350.2,256.3 351.8,255.6 353.4,254.8 355.1,253.9 356.7,252.9 358.3,251.9 359.9,251 361.5,250.3 363.1,249.6 364.7,249.1 366.3,248.8 367.9,248.6 369.5,248.5 371.2,248.6 372.8,248.7 374.4,249 376,249.3 377.6,249.7 379.2,250.1 380.8,250.5 382.4,250.9 384,251.4 385.6,251.8 387.3,252.2 388.9,252.7 390.5,253 392.1,253.4 393.7,253.8 395.3,254.1 396.9,254.4 398.5,254.7 400.1,254.9 401.8,255.1 403.4,255.3 405,255.5 406.6,255.7 408.2,255.8 409.8,256 411.4,256.1 413,256.2 414.6,256.3 416.2,256.4 417.8,256.4 419.5,256.5 421.1,256.5 422.7,256.6 424.3,256.6 425.9,256.7 427.5,256.7 429.1,256.7 430.7,256.8 432.3,256.8 433.9,256.8 435.6,256.8 437.2,256.8 438.8,256.8 440.4,256.8 442,256.9 443.6,256.9 445.2,256.9 446.8,256.9 448.4,256.9 450,256.9 451.7,256.9 453.3,256.9 454.9,256.9 456.5,256.9 458.1,256.9 459.7,256.9 461.3,256.9 462.9,256.9 464.5,256.9 466.1,256.9 467.8,256.9 469.4,256.9 471,256.9 472.6,256.9 474.2,256.9" fill="none" stroke="#8a2a2a" stroke-width="0.7"/>
<circle cx="345.4" cy="256.9" r="0.6" fill="#8a2a2a"/>
<circle cx="350.7" cy="256.1" r="0.6" fill="#8a2a2a"/>
<circle cx="356" cy="253.3" r="0.6" fill="#8a2a2a"/>
<circle cx="361.3" cy="250.3" r="0.6" fill="#8a2a2a"/>
<circle cx="366.7" cy="248.7" r="0.6" fill="#8a2a2a"/>
<circle cx="372" cy="248.7" r="0.6" fill="#8a2a2a"/>
<circle cx="377.3" cy="249.6" r="0.6" fill="#8a2a2a"/>
<circle cx="382.6" cy="251" r="0.6" fill="#8a2a2a"/>
<circle cx="387.9" cy="252.4" r="0.6" fill="#8a2a2a"/>
<circle cx="393.2" cy="253.7" r="0.6" fill="#8a2a2a"/>
<circle cx="398.5" cy="254.7" r="0.6" fill="#8a2a2a"/>
<circle cx="403.8" cy="255.4" r="0.6" fill="#8a2a2a"/>
<circle cx="409.2" cy="255.9" r="0.6" fill="#8a2a2a"/>
<circle cx="414.5" cy="256.3" r="0.6" fill="#8a2a2a"/>
<circle cx="419.8" cy="256.5" r="0.6" fill="#8a2a2a"/>
<circle cx="425.1" cy="256.7" r="0.6" fill="#8a2a2a"/>
<circle cx="430.4" cy="256.8" r="0.6" fill="#8a2a2a"/>
<circle cx="435.7" cy="256.8" r="0.6" fill="#8a2a2a"/>
<circle cx="441" cy="256.8" r="0.6" fill="#8a2a2a"/>
<circle cx="446.3" cy="256.9" r="0.6" fill="#8a2a2a"/>
<circle cx="451.7" cy="256.9" r="0.6" fill="#8a2a2a"/>
<circle cx="457" cy="256.9" r="0.6" fill="#8a2a2a"/>
<circle cx="462.3" cy="256.9" r="0.6" fill="#8a2a2a"/>
<circle cx="467.6" cy="256.9" r="0.6" fill="#8a2a2a"/>
<circle cx="472.9" cy="256.9" r="0.6" fill="#8a2a2a"/>
<polyline points="345.4,256.9 347,256.9 348.6,256.6 350.2,256.1 351.8,255.4 353.4,254.5 355.1,253.6 356.7,252.6 358.3,251.8 359.9,251 361.5,250.4 363.1,249.9 364.7,249.5 366.3,249.4 367.9,249.3 369.5,249.3 371.2,249.5 372.8,249.7 374.4,250 376,250.4 377.6,250.8 379.2,251.2 380.8,251.6 382.4,252 384,252.4 385.6,252.8 387.3,253.2 388.9,253.5 390.5,253.9 392.1,254.2 393.7,254.5 395.3,254.7 396.9,255 398.5,255.2 400.1,255.4 401.8,255.6 403.4,255.7 405,255.9 406.6,256 408.2,256.1 409.8,256.2 411.4,256.3 413,256.4 414.6,256.5 416.2,256.5 417.8,256.6 419.5,256.6 421.1,256.7 422.7,256.7 424.3,256.7 425.9,256.7 427.5,256.8 429.1,256.8 430.7,256.8 432.3,256.8 433.9,256.8 435.6,256.8 437.2,256.8 438.8,256.9 440.4,256.9 442,256.9 443.6,256.9 445.2,256.9 446.8,256.9 448.4,256.9 450,256.9 451.7,256.9 453.3,256.9 454.9,256.9 456.5,256.9 458.1,256.9 459.7,256.9 461.3,256.9 462.9,256.9 464.5,256.9 466.1,256.9 467.8,256.9 469.4,256.9 471,256.9 472.6,256.9 474.2,256.9" fill="none" stroke="#6a2a2a" stroke-width="0.7"/>
<circle cx="345.4" cy="256.9" r="0.6" fill="#6a2a2a"/>
<circle cx="350.7" cy="255.9" r="0.6" fill="#6a2a2a"/>
<circle cx="356" cy="253" r="0.6" fill="#6a2a2a"/>
<circle cx="361.3" cy="250.4" r="0.6" fill="#6a2a2a"/>
<circle cx="366.7" cy="249.3" r="0.6" fill="#6a2a2a"/>
<circle cx="372" cy="249.6" r="0.6" fill="#6a2a2a"/>
<circle cx="377.3" cy="250.7" r="0.6" fill="#6a2a2a"/>
<circle cx="382.6" cy="252" r="0.6" fill="#6a2a2a"/>
<circle cx="387.9" cy="253.3" r="0.6" fill="#6a2a2a"/>
<circle cx="393.2" cy="254.4" r="0.6" fill="#6a2a2a"/>
<circle cx="398.5" cy="255.2" r="0.6" fill="#6a2a2a"/>
<circle cx="403.8" cy="255.8" r="0.6" fill="#6a2a2a"/>
<circle cx="409.2" cy="256.2" r="0.6" fill="#6a2a2a"/>
<circle cx="414.5" cy="256.5" r="0.6" fill="#6a2a2a"/>
<circle cx="419.8" cy="256.6" r="0.6" fill="#6a2a2a"/>
<circle cx="425.1" cy="256.7" r="0.6" fill="#6a2a2a"/>
<circle cx="430.4" cy="256.8" r="0.6" fill="#6a2a2a"/>
<circle cx="435.7" cy="256.8" r="0.6" fill="#6a2a2a"/>
<circle cx="441" cy="256.9" r="0.6" fill="#6a2a2a"/>
<circle cx="446.3" cy="256.9" r="0.6" fill="#6a2a2a"/>
<circle cx="451.7" cy="256.9" r="0.6" fill="#6a2a2a"/>
<circle cx="457" cy="256.9" r="0.6" fill="#6a2a2a"/>
<circle cx="462.3" cy="256.9" r="0.6" fill="#6a2a2a"/>
<circle cx="467.6" cy="256.9" r="0.6" fill="#6a2a2a"/>
<circle cx="472.9" cy="256.9" r="0.6" fill="#6a2a2a"/>
<polyline points="345.4,256.9 347,256.8 348.6,256.5 350.2,255.8 351.8,254.9 353.4,253.9 355.1,252.7 356.7,251.5 358.3,250.2 359.9,249.1 361.5,248 363.1,247 364.7,246.2 366.3,245.5 367.9,244.9 369.5,244.5 371.2,244.2 372.8,244 374.4,244 376,244 377.6,244.2 379.2,244.4 380.8,244.7 382.4,245 384,245.4 385.6,245.8 387.3,246.3 388.9,246.8 390.5,247.3 392.1,247.8 393.7,248.3 395.3,248.8 396.9,249.3 398.5,249.7 400.1,250.2 401.8,250.6 403.4,251.1 405,251.5 406.6,251.9 408.2,252.2 409.8,252.6 411.4,252.9 413,253.2 414.6,253.5 416.2,253.8 417.8,254.1 419.5,254.3 421.1,254.5 422.7,254.7 424.3,254.9 425.9,255.1 427.5,255.2 429.1,255.4 430.7,255.5 432.3,255.7 433.9,255.8 435.6,255.9 437.2,256 438.8,256.1 440.4,256.1 442,256.2 443.6,256.3 445.2,256.3 446.8,256.4 448.4,256.4 450,256.5 451.7,256.5 453.3,256.6 454.9,256.6 456.5,256.6 458.1,256.7 459.7,256.7 461.3,256.7 462.9,256.7 464.5,256.7 466.1,256.8 467.8,256.8 469.4,256.8 471,256.8 472.6,256.8 474.2,256.8" fill="none" stroke="#70b040" stroke-width="0.7"/>
<circle cx="345.4" cy="256.9" r="0.6" fill="#70b040"/>
<circle cx="350.7" cy="255.6" r="0.6" fill="#70b040"/>
<circle cx="356" cy="252" r="0.6" fill="#70b040"/>
<circle cx="361.3" cy="248.1" r="0.6" fill="#70b040"/>
<circle cx="366.7" cy="245.3" r="0.6" fill="#70b040"/>
<circle cx="372" cy="244.1" r="0.6" fill="#70b040"/>
<circle cx="377.3" cy="244.1" r="0.6" fill="#70b040"/>
<circle cx="382.6" cy="245.1" r="0.6" fill="#70b040"/>
<circle cx="387.9" cy="246.5" r="0.6" fill="#70b040"/>
<circle cx="393.2" cy="248.1" r="0.6" fill="#70b040"/>
<circle cx="398.5" cy="249.7" r="0.6" fill="#70b040"/>
<circle cx="403.8" cy="251.2" r="0.6" fill="#70b040"/>
<circle cx="409.2" cy="252.5" r="0.6" fill="#70b040"/>
<circle cx="414.5" cy="253.5" r="0.6" fill="#70b040"/>
<circle cx="419.8" cy="254.3" r="0.6" fill="#70b040"/>
<circle cx="425.1" cy="255" r="0.6" fill="#70b040"/>
<circle cx="430.4" cy="255.5" r="0.6" fill="#70b040"/>
<circle cx="435.7" cy="255.9" r="0.6" fill="#70b040"/>
<circle cx="441" cy="256.2" r="0.6" fill="#70b040"/>
<circle cx="446.3" cy="256.4" r="0.6" fill="#70b040"/>
<circle cx="451.7" cy="256.5" r="0.6" fill="#70b040"/>
<circle cx="457" cy="256.6" r="0.6" fill="#70b040"/>
<circle cx="462.3" cy="256.7" r="0.6" fill="#70b040"/>
<circle cx="467.6" cy="256.8" r="0.6" fill="#70b040"/>
<circle cx="472.9" cy="256.8" r="0.6" fill="#70b040"/>
<polyline points="345.4,256.9 347,256.6 348.6,255.1 350.2,252.6 351.8,249.2 353.4,245.2 355.1,241 356.7,236.9 358.3,232.9 359.9,229.4 361.5,226.3 363.1,223.7 364.7,221.7 366.3,220.3 367.9,219.3 369.5,218.9 371.2,218.9 372.8,219.3 374.4,220 376,221 377.6,222.2 379.2,223.6 380.8,225.1 382.4,226.7 384,228.4 385.6,230.1 387.3,231.8 388.9,233.5 390.5,235.1 392.1,236.8 393.7,238.3 395.3,239.8 396.9,241.2 398.5,242.5 400.1,243.7 401.8,244.9 403.4,246 405,247 406.6,247.9 408.2,248.8 409.8,249.6 411.4,250.3 413,250.9 414.6,251.5 416.2,252.1 417.8,252.6 419.5,253 421.1,253.4 422.7,253.8 424.3,254.1 425.9,254.4 427.5,254.7 429.1,255 430.7,255.2 432.3,255.4 433.9,255.5 435.6,255.7 437.2,255.8 438.8,256 440.4,256.1 442,256.2 443.6,256.3 445.2,256.3 446.8,256.4 448.4,256.5 450,256.5 451.7,256.6 453.3,256.6 454.9,256.6 456.5,256.7 458.1,256.7 459.7,256.7 461.3,256.7 462.9,256.8 464.5,256.8 466.1,256.8 467.8,256.8 469.4,256.8 471,256.8 472.6,256.8 474.2,256.8" fill="none" stroke="#f0a040" stroke-width="0.7"/>
<circle cx="345.4" cy="256.9" r="0.6" fill="#f0a040"/>
<circle cx="350.7" cy="251.6" r="0.6" fill="#f0a040"/>
<circle cx="356" cy="238.5" r="0.6" fill="#f0a040"/>
<circle cx="361.3" cy="226.6" r="0.6" fill="#f0a040"/>
<circle cx="366.7" cy="220" r="0.6" fill="#f0a040"/>
<circle cx="372" cy="219" r="0.6" fill="#f0a040"/>
<circle cx="377.3" cy="221.9" r="0.6" fill="#f0a040"/>
<circle cx="382.6" cy="226.9" r="0.6" fill="#f0a040"/>
<circle cx="387.9" cy="232.5" r="0.6" fill="#f0a040"/>
<circle cx="393.2" cy="237.8" r="0.6" fill="#f0a040"/>
<circle cx="398.5" cy="242.5" r="0.6" fill="#f0a040"/>
<circle cx="403.8" cy="246.3" r="0.6" fill="#f0a040"/>
<circle cx="409.2" cy="249.2" r="0.6" fill="#f0a040"/>
<circle cx="414.5" cy="251.5" r="0.6" fill="#f0a040"/>
<circle cx="419.8" cy="253.1" r="0.6" fill="#f0a040"/>
<circle cx="425.1" cy="254.3" r="0.6" fill="#f0a040"/>
<circle cx="430.4" cy="255.1" r="0.6" fill="#f0a040"/>
<circle cx="435.7" cy="255.7" r="0.6" fill="#f0a040"/>
<circle cx="441" cy="256.1" r="0.6" fill="#f0a040"/>
<circle cx="446.3" cy="256.4" r="0.6" fill="#f0a040"/>
<circle cx="451.7" cy="256.6" r="0.6" fill="#f0a040"/>
<circle cx="457" cy="256.7" r="0.6" fill="#f0a040"/>
<circle cx="462.3" cy="256.8" r="0.6" fill="#f0a040"/>
<circle cx="467.6" cy="256.8" r="0.6" fill="#f0a040"/>
<circle cx="472.9" cy="256.8" r="0.6" fill="#f0a040"/>
<line x1="386.3" y1="183.1" x2="390.8" y2="183.1" stroke="#d03030" stroke-width="0.6"/>
<circle cx="388.6" cy="183.1" r="0.5" fill="#d03030"/>
<text x="391.7" y="184.8" font-size="3.6" font-weight="bold" textLength="19.8" lengthAdjust="spacingAndGlyphs" fill="#333">AT1G72100</text>
<line x1="386.3" y1="189.2" x2="390.8" y2="189.2" stroke="#7050b0" stroke-width="0.6"/>
<circle cx="388.6" cy="189.2" r="0.5" fill="#7050b0"/>
<text x="391.7" y="190.8" font-size="3.6" font-weight="bold" textLength="19.8" lengthAdjust="spacingAndGlyphs" fill="#333">AT5G02160</text>
<line x1="386.3" y1="195.2" x2="390.8" y2="195.2" stroke="#303a6a" stroke-width="0.6"/>
<circle cx="388.6" cy="195.2" r="0.5" fill="#303a6a"/>
<text x="391.7" y="196.9" font-size="3.6" font-weight="bold" textLength="8.8" lengthAdjust="spacingAndGlyphs" fill="#333">PPR1</text>
<line x1="386.3" y1="201.2" x2="390.8" y2="201.2" stroke="#303030" stroke-width="0.6"/>
<circle cx="388.6" cy="201.2" r="0.5" fill="#303030"/>
<text x="391.7" y="202.9" font-size="3.6" font-weight="bold" textLength="19.8" lengthAdjust="spacingAndGlyphs" fill="#333">AT4G16670</text>
<line x1="386.3" y1="207.3" x2="390.8" y2="207.3" stroke="#3070d0" stroke-width="0.6"/>
<circle cx="388.6" cy="207.3" r="0.5" fill="#3070d0"/>
<text x="391.7" y="209" font-size="3.6" font-weight="bold" textLength="8.8" lengthAdjust="spacingAndGlyphs" fill="#333">SKU5</text>
<line x1="386.3" y1="213.3" x2="390.8" y2="213.3" stroke="#8050c0" stroke-width="0.6"/>
<circle cx="388.6" cy="213.3" r="0.5" fill="#8050c0"/>
<text x="391.7" y="215" font-size="3.6" font-weight="bold" textLength="8.8" lengthAdjust="spacingAndGlyphs" fill="#333">ELF6</text>
<line x1="386.3" y1="219.4" x2="390.8" y2="219.4" stroke="#303a7a" stroke-width="0.6"/>
<circle cx="388.6" cy="219.4" r="0.5" fill="#303a7a"/>
<text x="391.7" y="221.1" font-size="3.6" font-weight="bold" textLength="19.8" lengthAdjust="spacingAndGlyphs" fill="#333">AT5G40690</text>
<line x1="386.3" y1="225.4" x2="390.8" y2="225.4" stroke="#3a3a5a" stroke-width="0.6"/>
<circle cx="388.6" cy="225.4" r="0.5" fill="#3a3a5a"/>
<text x="391.7" y="227.1" font-size="3.6" font-weight="bold" textLength="19.8" lengthAdjust="spacingAndGlyphs" fill="#333">AT5G04560</text>
<line x1="416" y1="183.1" x2="420.5" y2="183.1" stroke="#d03030" stroke-width="0.6"/>
<circle cx="418.2" cy="183.1" r="0.5" fill="#d03030"/>
<text x="421.4" y="184.8" font-size="3.6" font-weight="bold" textLength="19.8" lengthAdjust="spacingAndGlyphs" fill="#333">AT1G79890</text>
<line x1="416" y1="189.2" x2="420.5" y2="189.2" stroke="#30a0c0" stroke-width="0.6"/>
<circle cx="418.2" cy="189.2" r="0.5" fill="#30a0c0"/>
<text x="421.4" y="190.8" font-size="3.6" font-weight="bold" textLength="19.8" lengthAdjust="spacingAndGlyphs" fill="#333">AT3G57044</text>
<line x1="416" y1="195.2" x2="420.5" y2="195.2" stroke="#303030" stroke-width="0.6"/>
<circle cx="418.2" cy="195.2" r="0.5" fill="#303030"/>
<text x="421.4" y="196.9" font-size="3.6" font-weight="bold" textLength="8.8" lengthAdjust="spacingAndGlyphs" fill="#333">YSI3</text>
<line x1="416" y1="201.2" x2="420.5" y2="201.2" stroke="#2a3a7a" stroke-width="0.6"/>
<circle cx="418.2" cy="201.2" r="0.5" fill="#2a3a7a"/>
<text x="421.4" y="202.9" font-size="3.6" font-weight="bold" textLength="8.8" lengthAdjust="spacingAndGlyphs" fill="#333">NYE1</text>
<line x1="416" y1="207.3" x2="420.5" y2="207.3" stroke="#d03030" stroke-width="0.6"/>
<circle cx="418.2" cy="207.3" r="0.5" fill="#d03030"/>
<text x="421.4" y="209" font-size="3.6" font-weight="bold" textLength="19.8" lengthAdjust="spacingAndGlyphs" fill="#333">AT4G07420</text>
<line x1="416" y1="213.3" x2="420.5" y2="213.3" stroke="#40b0e0" stroke-width="0.6"/>
<circle cx="418.2" cy="213.3" r="0.5" fill="#40b0e0"/>
<text x="421.4" y="215" font-size="3.6" font-weight="bold" textLength="13.2" lengthAdjust="spacingAndGlyphs" fill="#333">Rap2.6</text>
<line x1="416" y1="219.4" x2="420.5" y2="219.4" stroke="#6a2a2a" stroke-width="0.6"/>
<circle cx="418.2" cy="219.4" r="0.5" fill="#6a2a2a"/>
<text x="421.4" y="221.1" font-size="3.6" font-weight="bold" textLength="19.8" lengthAdjust="spacingAndGlyphs" fill="#333">AT5G49610</text>
<line x1="416" y1="225.4" x2="420.5" y2="225.4" stroke="#2a6a9a" stroke-width="0.6"/>
<circle cx="418.2" cy="225.4" r="0.5" fill="#2a6a9a"/>
<text x="421.4" y="227.1" font-size="3.6" font-weight="bold" textLength="19.8" lengthAdjust="spacingAndGlyphs" fill="#333">AT5G59970</text>
<line x1="445.8" y1="183.1" x2="450.3" y2="183.1" stroke="#90c840" stroke-width="0.6"/>
<circle cx="448.1" cy="183.1" r="0.5" fill="#90c840"/>
<text x="451.2" y="184.8" font-size="3.6" font-weight="bold" textLength="19.8" lengthAdjust="spacingAndGlyphs" fill="#333">AT2G35910</text>
<line x1="445.8" y1="189.2" x2="450.3" y2="189.2" stroke="#f08030" stroke-width="0.6"/>
<circle cx="448.1" cy="189.2" r="0.5" fill="#f08030"/>
<text x="451.2" y="190.8" font-size="3.6" font-weight="bold" textLength="19.8" lengthAdjust="spacingAndGlyphs" fill="#333">AT1G11160</text>
<line x1="445.8" y1="195.2" x2="450.3" y2="195.2" stroke="#3a6a3a" stroke-width="0.6"/>
<circle cx="448.1" cy="195.2" r="0.5" fill="#3a6a3a"/>
<text x="451.2" y="196.9" font-size="3.6" font-weight="bold" textLength="8.8" lengthAdjust="spacingAndGlyphs" fill="#333">NDX4</text>
<line x1="445.8" y1="201.2" x2="450.3" y2="201.2" stroke="#8a3a2a" stroke-width="0.6"/>
<circle cx="448.1" cy="201.2" r="0.5" fill="#8a3a2a"/>
<text x="451.2" y="202.9" font-size="3.6" font-weight="bold" textLength="19.8" lengthAdjust="spacingAndGlyphs" fill="#333">AT4G32160</text>
<line x1="445.8" y1="207.3" x2="450.3" y2="207.3" stroke="#90c840" stroke-width="0.6"/>
<circle cx="448.1" cy="207.3" r="0.5" fill="#90c840"/>
<text x="451.2" y="209" font-size="3.6" font-weight="bold" textLength="8.8" lengthAdjust="spacingAndGlyphs" fill="#333">GLI3</text>
<line x1="445.8" y1="213.3" x2="450.3" y2="213.3" stroke="#f08030" stroke-width="0.6"/>
<circle cx="448.1" cy="213.3" r="0.5" fill="#f08030"/>
<text x="451.2" y="215" font-size="3.6" font-weight="bold" textLength="19.8" lengthAdjust="spacingAndGlyphs" fill="#333">AT5G18790</text>
<line x1="445.8" y1="219.4" x2="450.3" y2="219.4" stroke="#5a8a30" stroke-width="0.6"/>
<circle cx="448.1" cy="219.4" r="0.5" fill="#5a8a30"/>
<text x="451.2" y="221.1" font-size="3.6" font-weight="bold" textLength="11" lengthAdjust="spacingAndGlyphs" fill="#333">ACS12</text>
<path fill="none" stroke="#c4c4c4" stroke-width="0.2" d="M472.5 114.5L464.9 107.7M469.6 117.9L473.9 108.9M461.9 103.8L471.5 104M464.7 102.5L466.7 96.9M467.2 106.3L483.6 106.1M473.8 96.2L482.6 97.7M463.5 104.1L472.7 101.8M474.3 116.2L490.5 129.2M458.5 106.9L452.2 114.6M467.7 106L472.6 101.7M467.9 98.6L488.7 95.3M467.4 90.4L453.2 84.1M472.7 110.3L475.8 105.6M480 96.2L471.9 100.3M460.4 106.4L470.3 106.1M470.1 104.6L463.8 80M458.9 104.2L443.1 100.1M468.7 114.8L455.6 110.9M468.8 108.4L455.6 123.4M461.6 112.9L460 116.4M478.8 109.9L480.4 102.2M462.7 93L483 81M449.4 117.3L462.4 114.7M473 97.8L467.7 102M470 100.7L486.4 106.8M468.2 94.9L469.9 92.7M466.7 110.6L461.4 113M472.8 107.1L495.8 93.5M466.8 94.9L466.4 115.1M455.8 101.9L462.6 102.9M473.6 91.9L483.5 84.5M458.7 108.7L463.8 103.2M461.5 102.6L461.7 101.5M460.1 85.8L473.4 87.3M458.5 91.7L451.9 88.6M452.3 115.3L456.8 112.9M469.6 106L480.3 107.4M475.9 116.4L473 113M461 102.3L453.9 102.5M469.2 108.4L457.9 117.1M465 103.2L460 87.4M468.9 90L480 90.5M478 109.3L485.1 120.5M466.8 116.4L465.7 118.5M462.4 108.4L469.2 104.5M458.2 103.8L462.5 102.6M460.3 98.3L457.8 77.5M463 115.5L450.3 113.9M478.8 109.7L488.1 108.6M457.8 127L460.9 129M478.5 110.5L479.2 101.8M466 102.9L459.3 96.1M460.1 103.1L454.3 106.4M474.1 106.6L474.4 119.1M471.6 92.3L464.5 93.9M460.9 110.1L443.6 95M473.9 108.7L458 109.3M476.4 95.2L464.6 85.5M460.2 90.2L455.4 78.7M467.5 121.8L457 129.1M475.2 85.6L476.3 85.6M464.7 110.4L460.3 113.2M464.3 102.9L456.5 121.1M466.6 95.1L486.1 107.7M465.6 98.8L458.3 108.6M464.7 98.3L473.1 96.2M466.6 119.5L475.3 129.4M469.9 114.3L468.3 122M474.3 100.7L461.5 105M466.2 108.9L460.2 113.1M473.7 122.9L491.5 126M477 99L488.7 100.1M476.3 106.7L474 101M475.8 104.5L482.9 108.3M452.8 108.8L449.1 112M470.4 89.6L467.3 89.2M469.7 111.5L463 109.7M471.4 89.4L489.8 81.9M476.2 105.2L495 113.5M466.8 90.5L468.1 93.1M470.8 94L462.6 87.8M469 97.1L467.8 104.5M464.1 114.7L467 112.8M474.6 107.9L471.8 103.3M466.7 106.8L478.1 108.9M462.7 93.4L465.3 96.6M474.9 99.8L462 106.5M465.8 94.3L482.3 101.4M467.5 106.2L460.1 114.1M464 100.4L461.1 91.4"/>
<path fill="#b8c8d8" d="M497.6 90.2h0.9v0.9h-0.9zM506.5 78.6h0.9v0.9h-0.9zM527.7 72.7h0.9v0.9h-0.9zM488.1 96.8h0.9v0.9h-0.9zM491 96.1h0.9v0.9h-0.9zM505.2 82.3h0.9v0.9h-0.9zM501.3 85.7h0.9v0.9h-0.9zM491.8 97.9h0.9v0.9h-0.9zM487.5 96.9h0.9v0.9h-0.9zM499.8 88.7h0.9v0.9h-0.9zM506.4 80.1h0.9v0.9h-0.9zM491.6 95.7h0.9v0.9h-0.9zM516.9 73.8h0.9v0.9h-0.9zM506.2 81.4h0.9v0.9h-0.9zM502 85.9h0.9v0.9h-0.9zM507.7 81.4h0.9v0.9h-0.9z"/>
<path fill="#f0b070" d="M479.7 98.7h0.9v0.9h-0.9zM506.8 80.6h0.9v0.9h-0.9zM483.2 98.4h0.9v0.9h-0.9zM529.6 76.1h0.9v0.9h-0.9zM511.5 77.2h0.9v0.9h-0.9zM496.4 92.3h0.9v0.9h-0.9zM502.9 83.1h0.9v0.9h-0.9zM500.4 87h0.9v0.9h-0.9zM521.8 71.5h0.9v0.9h-0.9zM485.7 97.8h0.9v0.9h-0.9zM512.9 72.8h0.9v0.9h-0.9zM477.9 101.8h0.9v0.9h-0.9zM510.1 76.9h0.9v0.9h-0.9zM484.6 99.9h0.9v0.9h-0.9zM526 72.1h0.9v0.9h-0.9zM512.9 73.4h0.9v0.9h-0.9zM508.7 77h0.9v0.9h-0.9zM508.2 77.6h0.9v0.9h-0.9zM491.2 94.5h0.9v0.9h-0.9zM492.2 92.3h0.9v0.9h-0.9zM477.4 102.1h0.9v0.9h-0.9zM511 73.2h0.9v0.9h-0.9zM523.7 71.8h0.9v0.9h-0.9zM486.1 96.4h0.9v0.9h-0.9zM478.9 100.6h0.9v0.9h-0.9z"/>
<path fill="#9ccce8" d="M490.5 95.7h0.9v0.9h-0.9zM486.5 96.5h0.9v0.9h-0.9zM526.7 71.7h0.9v0.9h-0.9zM494.6 92h0.9v0.9h-0.9zM499.4 87.7h0.9v0.9h-0.9zM494.1 94.6h0.9v0.9h-0.9zM489.9 94.3h0.9v0.9h-0.9zM507.4 78.4h0.9v0.9h-0.9zM520.8 70.1h0.9v0.9h-0.9zM502 88h0.9v0.9h-0.9zM482.5 99.7h0.9v0.9h-0.9zM509.1 76.7h0.9v0.9h-0.9zM513.1 73.1h0.9v0.9h-0.9zM489.2 95.6h0.9v0.9h-0.9zM493.8 93.2h0.9v0.9h-0.9zM528.6 72.4h0.9v0.9h-0.9zM504.4 82.2h0.9v0.9h-0.9zM494.3 91.2h0.9v0.9h-0.9zM502.8 83.8h0.9v0.9h-0.9zM506.3 80.7h0.9v0.9h-0.9zM513.6 72.6h0.9v0.9h-0.9zM514.7 73.1h0.9v0.9h-0.9zM478.5 101.5h0.9v0.9h-0.9zM498.2 88.9h0.9v0.9h-0.9zM523 70.7h0.9v0.9h-0.9zM521.8 71.2h0.9v0.9h-0.9zM512.8 75.1h0.9v0.9h-0.9zM511.2 73.8h0.9v0.9h-0.9zM505.6 80.7h0.9v0.9h-0.9zM504.5 83.6h0.9v0.9h-0.9zM516 71.7h0.9v0.9h-0.9zM513.3 73.4h0.9v0.9h-0.9zM507.4 79.2h0.9v0.9h-0.9zM514.9 75.4h0.9v0.9h-0.9zM489.4 97.1h0.9v0.9h-0.9zM448.2 122.1h0.9v0.9h-0.9zM441.2 127h0.9v0.9h-0.9zM441 127.7h0.9v0.9h-0.9zM443.9 121.1h0.9v0.9h-0.9zM445.6 121.5h0.9v0.9h-0.9zM446 121.8h0.9v0.9h-0.9zM452.2 119.1h0.9v0.9h-0.9zM444.5 122.8h0.9v0.9h-0.9zM441.8 128.1h0.9v0.9h-0.9zM449.9 116.8h0.9v0.9h-0.9zM449.6 117h0.9v0.9h-0.9zM456.7 112.6h0.9v0.9h-0.9zM441.8 126h0.9v0.9h-0.9zM453.9 115.8h0.9v0.9h-0.9z"/>
<path fill="#a8d8f0" d="M485.3 96.5h0.9v0.9h-0.9zM506.5 81.7h0.9v0.9h-0.9zM511.3 78.1h0.9v0.9h-0.9zM494.3 93.2h0.9v0.9h-0.9zM512.1 76.3h0.9v0.9h-0.9zM514.7 75.8h0.9v0.9h-0.9zM512.9 74.7h0.9v0.9h-0.9zM509 76.5h0.9v0.9h-0.9zM503.6 84.2h0.9v0.9h-0.9zM517.2 70.8h0.9v0.9h-0.9zM506.9 81.2h0.9v0.9h-0.9zM504.9 84.7h0.9v0.9h-0.9zM507 81h0.9v0.9h-0.9zM483.6 97.5h0.9v0.9h-0.9zM515.3 72h0.9v0.9h-0.9zM510.8 76.2h0.9v0.9h-0.9zM513.9 73.2h0.9v0.9h-0.9zM500.7 88.3h0.9v0.9h-0.9zM506 82.3h0.9v0.9h-0.9z"/>
<path fill="#80b8e0" d="M492.7 93.6h0.9v0.9h-0.9zM511.2 75h0.9v0.9h-0.9zM518 70.5h0.9v0.9h-0.9zM488.2 98.3h0.9v0.9h-0.9zM492.7 96.2h0.9v0.9h-0.9zM490.8 95.6h0.9v0.9h-0.9zM510.2 75.8h0.9v0.9h-0.9zM525.6 72.8h0.9v0.9h-0.9zM522.5 72.7h0.9v0.9h-0.9zM495.8 91h0.9v0.9h-0.9zM482.4 100.1h0.9v0.9h-0.9zM504 84.1h0.9v0.9h-0.9zM506.7 80.7h0.9v0.9h-0.9zM506.8 79.8h0.9v0.9h-0.9zM512.8 74.3h0.9v0.9h-0.9zM497.3 88.9h0.9v0.9h-0.9zM518.3 71h0.9v0.9h-0.9zM495.5 90.8h0.9v0.9h-0.9zM500.7 83.2h0.9v0.9h-0.9zM488.1 96h0.9v0.9h-0.9zM487.2 98.4h0.9v0.9h-0.9zM503.7 83.8h0.9v0.9h-0.9zM510.7 76.5h0.9v0.9h-0.9zM500.6 87.3h0.9v0.9h-0.9zM507.9 78.4h0.9v0.9h-0.9z"/>
<path fill="#c0c0c0" d="M519.4 71.7h0.9v0.9h-0.9zM516.2 71.7h0.9v0.9h-0.9zM506.1 77.7h0.9v0.9h-0.9zM508.8 79.2h0.9v0.9h-0.9zM527.9 73.6h0.9v0.9h-0.9zM507.9 77.6h0.9v0.9h-0.9zM525.2 72.3h0.9v0.9h-0.9zM483.8 99.3h0.9v0.9h-0.9zM483.5 96.7h0.9v0.9h-0.9zM492.9 96h0.9v0.9h-0.9zM505.9 78.5h0.9v0.9h-0.9zM492.1 94.4h0.9v0.9h-0.9zM486.8 100h0.9v0.9h-0.9zM487.8 96.8h0.9v0.9h-0.9zM492.2 94.1h0.9v0.9h-0.9zM489.1 96.4h0.9v0.9h-0.9zM512.8 72.6h0.9v0.9h-0.9zM483.4 98.5h0.9v0.9h-0.9zM503.1 84.3h0.9v0.9h-0.9zM527.3 74.3h0.9v0.9h-0.9z"/>
<path fill="#80d0c0" d="M441.4 126h0.9v0.9h-0.9zM446.6 123.2h0.9v0.9h-0.9zM448.2 119.3h0.9v0.9h-0.9zM445 123.6h0.9v0.9h-0.9zM451.6 115.6h0.9v0.9h-0.9zM454.7 114.7h0.9v0.9h-0.9zM440.3 125.9h0.9v0.9h-0.9zM444.8 124.4h0.9v0.9h-0.9zM455.2 113.1h0.9v0.9h-0.9zM448.5 122.3h0.9v0.9h-0.9zM450.9 120.1h0.9v0.9h-0.9zM438.1 124.4h0.9v0.9h-0.9zM449.1 119.7h0.9v0.9h-0.9zM447 120.2h0.9v0.9h-0.9zM446.3 124.3h0.9v0.9h-0.9zM445.1 123.8h0.9v0.9h-0.9zM457.5 115h0.9v0.9h-0.9zM450.4 119.5h0.9v0.9h-0.9zM438.1 126.7h0.9v0.9h-0.9zM444.3 123.1h0.9v0.9h-0.9zM446.2 120.3h0.9v0.9h-0.9zM454.9 114.3h0.9v0.9h-0.9zM446.8 122.1h0.9v0.9h-0.9zM445 122.6h0.9v0.9h-0.9zM456.5 113.6h0.9v0.9h-0.9zM454.9 114.5h0.9v0.9h-0.9z"/>
<path fill="#70c8d8" d="M443.8 124.5h0.9v0.9h-0.9zM440 126h0.9v0.9h-0.9zM443.4 122.6h0.9v0.9h-0.9zM450.2 118.3h0.9v0.9h-0.9zM453.2 115.2h0.9v0.9h-0.9zM444.3 121.9h0.9v0.9h-0.9zM445.2 123.2h0.9v0.9h-0.9zM441 125h0.9v0.9h-0.9zM448.3 116h0.9v0.9h-0.9zM452 114.5h0.9v0.9h-0.9zM441.1 127.1h0.9v0.9h-0.9zM451.9 117.3h0.9v0.9h-0.9zM450.2 117.8h0.9v0.9h-0.9zM449.5 120.4h0.9v0.9h-0.9zM456 113.2h0.9v0.9h-0.9zM448.6 116.9h0.9v0.9h-0.9zM444.8 123.1h0.9v0.9h-0.9zM454.2 117.3h0.9v0.9h-0.9zM452 117h0.9v0.9h-0.9zM441.5 127.3h0.9v0.9h-0.9z"/>
<path fill="#70c8d0" d="M451.8 95.8h0.9v0.9h-0.9zM448.9 103.3h0.9v0.9h-0.9zM451.5 105.4h0.9v0.9h-0.9zM451.8 104.3h0.9v0.9h-0.9zM456.6 93h0.9v0.9h-0.9zM457 93.4h0.9v0.9h-0.9zM450.4 101.8h0.9v0.9h-0.9zM457.7 88.4h0.9v0.9h-0.9zM451.3 102.4h0.9v0.9h-0.9zM447.9 103h0.9v0.9h-0.9zM456.8 89.3h0.9v0.9h-0.9zM450.3 106.4h0.9v0.9h-0.9zM456.9 90.2h0.9v0.9h-0.9zM451.9 98.4h0.9v0.9h-0.9zM451.6 98.4h0.9v0.9h-0.9zM452.8 93.4h0.9v0.9h-0.9zM456.7 90.3h0.9v0.9h-0.9zM456 91.7h0.9v0.9h-0.9zM451.3 96.9h0.9v0.9h-0.9zM452.9 95.1h0.9v0.9h-0.9zM455.8 89.1h0.9v0.9h-0.9zM451.6 100.6h0.9v0.9h-0.9zM451.1 102.2h0.9v0.9h-0.9zM451.1 101.4h0.9v0.9h-0.9zM455.2 95.1h0.9v0.9h-0.9zM458.6 92.5h0.9v0.9h-0.9zM455.7 92.7h0.9v0.9h-0.9zM452.1 95.9h0.9v0.9h-0.9zM449.1 94.5h0.9v0.9h-0.9zM450.7 100h0.9v0.9h-0.9zM458.6 89.9h0.9v0.9h-0.9zM454.5 92.3h0.9v0.9h-0.9zM452.2 93h0.9v0.9h-0.9zM458.3 91.4h0.9v0.9h-0.9zM460.1 94.1h0.9v0.9h-0.9zM457.5 88.4h0.9v0.9h-0.9zM450.1 94.8h0.9v0.9h-0.9zM452.6 101.9h0.9v0.9h-0.9zM456 91.7h0.9v0.9h-0.9zM447.7 104.2h0.9v0.9h-0.9zM449.8 101.1h0.9v0.9h-0.9zM455.2 90.3h0.9v0.9h-0.9zM452.1 102.2h0.9v0.9h-0.9zM457.4 89.1h0.9v0.9h-0.9zM454.4 91.2h0.9v0.9h-0.9zM451.6 94.2h0.9v0.9h-0.9zM450.6 104.7h0.9v0.9h-0.9zM450.7 96.6h0.9v0.9h-0.9zM458.8 92.2h0.9v0.9h-0.9zM454.5 93.9h0.9v0.9h-0.9zM451.2 95.9h0.9v0.9h-0.9zM451.3 105.4h0.9v0.9h-0.9zM455.6 95.7h0.9v0.9h-0.9zM452.5 105.6h0.9v0.9h-0.9zM455.1 90.5h0.9v0.9h-0.9zM448.4 100.1h0.9v0.9h-0.9zM452.9 94.2h0.9v0.9h-0.9zM456.4 95h0.9v0.9h-0.9zM456.5 92.3h0.9v0.9h-0.9zM451.1 98.2h0.9v0.9h-0.9z"/>
<path fill="#e8a0c0" d="M458.6 89.8h1v1h-1zM457.8 88.3h1v1h-1zM463.8 88.8h1v1h-1zM458.7 91.8h1v1h-1zM459.2 94.7h1v1h-1zM458.5 93.6h1v1h-1zM457 90.8h1v1h-1zM460.5 90.4h1v1h-1zM461.5 90.3h1v1h-1zM461.9 89.4h1v1h-1zM456.8 90.3h1v1h-1zM457.4 86.4h1v1h-1zM464.1 89.1h1v1h-1zM456.6 91.7h1v1h-1zM458.8 87.1h1v1h-1zM465.8 93.5h1v1h-1zM463.1 90.7h1v1h-1zM466.8 88.6h1v1h-1zM458.9 88.6h1v1h-1zM461.7 92.8h1v1h-1zM462.6 90.1h1v1h-1zM462 91.7h1v1h-1zM467.4 90.4h1v1h-1zM459.4 92.4h1v1h-1zM463.1 87h1v1h-1zM462.1 90.6h1v1h-1zM453.3 92.1h1v1h-1zM463.2 90.1h1v1h-1zM462.8 89.6h1v1h-1zM454.5 90.2h1v1h-1zM464.9 91.3h1v1h-1zM464.6 90.6h1v1h-1zM461.2 91.1h1v1h-1zM463.6 89.6h1v1h-1zM461.5 86h1v1h-1zM460.9 86.5h1v1h-1zM459.9 92.8h1v1h-1zM459.3 90.2h1v1h-1zM465.1 91h1v1h-1zM458.3 90.8h1v1h-1z"/>
<path fill="#404040" d="M470.3 85h1v1h-1zM465.9 87.7h1v1h-1zM468.3 84.9h1v1h-1zM468.1 88.5h1v1h-1zM474.1 81.9h1v1h-1zM473 87h1v1h-1zM465.9 91.7h1v1h-1zM467.2 88.2h1v1h-1zM479.9 93.3h1v1h-1zM474.8 95.8h1v1h-1zM464.2 88.3h1v1h-1zM470.1 95.3h1v1h-1zM466.5 89.7h1v1h-1zM475.8 93.9h1v1h-1zM465 97.3h1v1h-1zM468.4 86.1h1v1h-1zM466.4 97h1v1h-1zM469.3 88.8h1v1h-1zM473 95h1v1h-1zM471.2 85.5h1v1h-1zM476.4 94h1v1h-1zM469.1 94.9h1v1h-1zM464.4 86.1h1v1h-1zM472.1 92.1h1v1h-1zM475 94.8h1v1h-1zM481.1 98.1h1v1h-1zM469.2 92.6h1v1h-1zM477.9 87.2h1v1h-1zM471.9 99.5h1v1h-1zM472.1 89h1v1h-1zM473.5 97h1v1h-1zM470.3 92.5h1v1h-1zM476.2 85.5h1v1h-1zM472.5 89h1v1h-1zM460.7 93.3h1v1h-1z"/>
<path fill="#40b060" d="M474.5 98.5h1v1h-1zM469 100.2h1v1h-1zM464.8 101.3h1v1h-1zM468.1 99.1h1v1h-1zM464.4 95.3h1v1h-1zM477.2 103.5h1v1h-1zM468 102.2h1v1h-1zM466.6 99h1v1h-1zM466 93.7h1v1h-1zM473.7 102.2h1v1h-1zM465.2 97h1v1h-1zM469.6 97.2h1v1h-1zM470.9 97.2h1v1h-1zM471.9 98h1v1h-1zM470.5 98.5h1v1h-1zM470.4 98.5h1v1h-1zM465.4 99.9h1v1h-1zM471.9 98.8h1v1h-1zM470.1 96.3h1v1h-1zM472 99.1h1v1h-1zM462.8 98.4h1v1h-1zM469.7 94.7h1v1h-1zM465 98.9h1v1h-1zM474.2 97.4h1v1h-1zM472.9 101.2h1v1h-1zM464.3 99.5h1v1h-1zM468.7 98.1h1v1h-1zM471.4 99.3h1v1h-1zM468.5 102.2h1v1h-1zM465.7 101.7h1v1h-1zM464.5 95.9h1v1h-1zM467.5 95.7h1v1h-1zM468.3 99.6h1v1h-1zM469.7 98h1v1h-1zM471.8 97.6h1v1h-1zM471.9 93.7h1v1h-1zM472.9 98.5h1v1h-1zM461.8 96.9h1v1h-1zM464.7 96.2h1v1h-1zM474.7 99.9h1v1h-1zM475.6 99.3h1v1h-1zM473.5 100.8h1v1h-1zM466.4 101.3h1v1h-1zM473.4 98.3h1v1h-1zM474 96.6h1v1h-1zM469.5 100.3h1v1h-1zM463.6 97.6h1v1h-1zM469.8 94.5h1v1h-1zM470.4 98.2h1v1h-1zM471.3 100.5h1v1h-1z"/>
<path fill="#3a40b0" d="M465.6 108.2h1.2v1.2h-1.2zM466.6 106.5h1.2v1.2h-1.2zM462.6 112.9h1.2v1.2h-1.2zM462 112.7h1.2v1.2h-1.2zM456 106h1.2v1.2h-1.2zM466.9 113h1.2v1.2h-1.2zM466.3 110.8h1.2v1.2h-1.2zM470.7 105h1.2v1.2h-1.2zM468.9 107.2h1.2v1.2h-1.2zM458.6 106.1h1.2v1.2h-1.2zM463.8 115.5h1.2v1.2h-1.2zM460.8 107.4h1.2v1.2h-1.2zM463.1 116.3h1.2v1.2h-1.2zM468 104.2h1.2v1.2h-1.2zM463.9 116.2h1.2v1.2h-1.2zM465.2 106.3h1.2v1.2h-1.2zM462.1 101h1.2v1.2h-1.2zM456.5 104.9h1.2v1.2h-1.2zM473.3 113.1h1.2v1.2h-1.2zM466.1 104.8h1.2v1.2h-1.2zM464.3 110.9h1.2v1.2h-1.2zM464.5 105.5h1.2v1.2h-1.2zM461.6 109.4h1.2v1.2h-1.2zM465.8 107.3h1.2v1.2h-1.2zM456.6 103.1h1.2v1.2h-1.2zM459.7 104.5h1.2v1.2h-1.2zM461.3 114.5h1.2v1.2h-1.2zM459.9 117.2h1.2v1.2h-1.2zM462.5 105.8h1.2v1.2h-1.2zM452.1 111.7h1.2v1.2h-1.2zM472 115.7h1.2v1.2h-1.2zM467.3 99.4h1.2v1.2h-1.2zM466.2 115.2h1.2v1.2h-1.2zM460.8 109.3h1.2v1.2h-1.2zM463.4 107.7h1.2v1.2h-1.2zM456.6 106.1h1.2v1.2h-1.2zM462.4 115.7h1.2v1.2h-1.2zM449.7 109.7h1.2v1.2h-1.2zM466.4 108.3h1.2v1.2h-1.2zM467.7 105.6h1.2v1.2h-1.2zM459.8 112.6h1.2v1.2h-1.2zM454.2 107.1h1.2v1.2h-1.2zM458.9 97.7h1.2v1.2h-1.2zM460.4 105.6h1.2v1.2h-1.2zM462.7 100.9h1.2v1.2h-1.2zM459.3 105.9h1.2v1.2h-1.2zM462.4 108.8h1.2v1.2h-1.2zM455.9 108.5h1.2v1.2h-1.2zM464.2 107.5h1.2v1.2h-1.2zM461.2 101.5h1.2v1.2h-1.2zM468.6 103h1.2v1.2h-1.2zM463.6 102.9h1.2v1.2h-1.2zM458.2 110h1.2v1.2h-1.2zM461.6 115.4h1.2v1.2h-1.2zM459.5 103.4h1.2v1.2h-1.2zM472.8 118.8h1.2v1.2h-1.2zM461.2 101.1h1.2v1.2h-1.2zM454.1 107.4h1.2v1.2h-1.2zM465.1 99.1h1.2v1.2h-1.2zM457.1 112h1.2v1.2h-1.2zM461.2 110.3h1.2v1.2h-1.2zM466.1 108.6h1.2v1.2h-1.2zM464.1 112.4h1.2v1.2h-1.2zM466.1 106.1h1.2v1.2h-1.2zM463.6 104.2h1.2v1.2h-1.2zM459.9 102.8h1.2v1.2h-1.2zM466.3 106.7h1.2v1.2h-1.2zM473.6 114.6h1.2v1.2h-1.2zM455.6 107.8h1.2v1.2h-1.2zM452.6 107.2h1.2v1.2h-1.2zM465 111.6h1.2v1.2h-1.2zM464.2 104.9h1.2v1.2h-1.2zM475.7 116.8h1.2v1.2h-1.2zM459 114.5h1.2v1.2h-1.2zM466.6 109.9h1.2v1.2h-1.2zM467.2 106.7h1.2v1.2h-1.2zM459 106.6h1.2v1.2h-1.2zM461.3 115.5h1.2v1.2h-1.2zM462.5 106.2h1.2v1.2h-1.2zM465 113.5h1.2v1.2h-1.2zM465.1 111.4h1.2v1.2h-1.2zM468 108.9h1.2v1.2h-1.2zM463.7 102.3h1.2v1.2h-1.2zM463.8 107.2h1.2v1.2h-1.2zM462.9 103.5h1.2v1.2h-1.2zM459.2 107.9h1.2v1.2h-1.2zM461.3 118.8h1.2v1.2h-1.2zM460.1 108.3h1.2v1.2h-1.2zM459.2 108.3h1.2v1.2h-1.2zM460.7 112.7h1.2v1.2h-1.2zM465 106h1.2v1.2h-1.2zM461.8 106.2h1.2v1.2h-1.2zM463 111.4h1.2v1.2h-1.2zM457.7 110.5h1.2v1.2h-1.2zM464.4 112.3h1.2v1.2h-1.2zM464 109.7h1.2v1.2h-1.2zM455.4 105h1.2v1.2h-1.2zM463.1 99.6h1.2v1.2h-1.2zM461.9 112.1h1.2v1.2h-1.2zM454.8 97.5h1.2v1.2h-1.2zM460.9 104.7h1.2v1.2h-1.2zM469 115.7h1.2v1.2h-1.2zM457.4 109.6h1.2v1.2h-1.2zM466.3 111.9h1.2v1.2h-1.2zM459.4 111.4h1.2v1.2h-1.2zM465.7 112.5h1.2v1.2h-1.2zM455.1 113.8h1.2v1.2h-1.2zM456.8 112.3h1.2v1.2h-1.2zM461.3 99.5h1.2v1.2h-1.2zM455.4 112.8h1.2v1.2h-1.2zM463.4 99.6h1.2v1.2h-1.2zM449.7 95.1h1.2v1.2h-1.2zM462.3 104.8h1.2v1.2h-1.2zM460.7 107.5h1.2v1.2h-1.2zM458.8 118.8h1.2v1.2h-1.2zM457.3 114.5h1.2v1.2h-1.2zM458.8 114.6h1.2v1.2h-1.2zM464.2 107h1.2v1.2h-1.2zM462.1 110.1h1.2v1.2h-1.2zM459.1 108.8h1.2v1.2h-1.2zM453.2 108.2h1.2v1.2h-1.2zM471.7 98.3h1.2v1.2h-1.2zM471.4 110.8h1.2v1.2h-1.2zM459.4 106.6h1.2v1.2h-1.2zM467.6 101.8h1.2v1.2h-1.2zM462.2 109.6h1.2v1.2h-1.2zM466.6 107.4h1.2v1.2h-1.2zM462.8 110.7h1.2v1.2h-1.2zM471.4 103.4h1.2v1.2h-1.2zM466.9 112.2h1.2v1.2h-1.2z"/>
<path fill="#8040b0" d="M464.3 112.8h1.2v1.2h-1.2zM466.3 108h1.2v1.2h-1.2zM472.7 115.3h1.2v1.2h-1.2zM470 108.4h1.2v1.2h-1.2zM472.7 108.9h1.2v1.2h-1.2zM469.3 108.2h1.2v1.2h-1.2zM467.3 106h1.2v1.2h-1.2zM468.3 101.5h1.2v1.2h-1.2zM469.9 112.6h1.2v1.2h-1.2zM463.6 116h1.2v1.2h-1.2zM476.8 107.3h1.2v1.2h-1.2zM467.9 106.5h1.2v1.2h-1.2zM473.1 118.4h1.2v1.2h-1.2zM471.2 111.5h1.2v1.2h-1.2zM460.9 107.8h1.2v1.2h-1.2zM476.1 109.2h1.2v1.2h-1.2zM465.2 110.5h1.2v1.2h-1.2zM467.1 116.5h1.2v1.2h-1.2zM468.6 108.4h1.2v1.2h-1.2zM466.2 112.1h1.2v1.2h-1.2zM460 116.2h1.2v1.2h-1.2zM465.6 115.7h1.2v1.2h-1.2zM472.4 112.8h1.2v1.2h-1.2zM464.1 110.9h1.2v1.2h-1.2zM462.8 108.5h1.2v1.2h-1.2zM462.1 107.9h1.2v1.2h-1.2zM465.8 118.3h1.2v1.2h-1.2zM470.6 111.1h1.2v1.2h-1.2zM470.5 110.3h1.2v1.2h-1.2zM471.5 111.1h1.2v1.2h-1.2zM462.8 106.5h1.2v1.2h-1.2zM471.9 108.8h1.2v1.2h-1.2zM470.7 116.9h1.2v1.2h-1.2zM469.1 111.8h1.2v1.2h-1.2zM464.8 111.4h1.2v1.2h-1.2zM470.5 109.1h1.2v1.2h-1.2zM463.9 108.6h1.2v1.2h-1.2zM467.1 110.9h1.2v1.2h-1.2zM465.4 102.7h1.2v1.2h-1.2zM469.3 102.4h1.2v1.2h-1.2zM466.6 111.5h1.2v1.2h-1.2zM468.3 123.7h1.2v1.2h-1.2zM470.4 108h1.2v1.2h-1.2zM465.7 110.2h1.2v1.2h-1.2zM464 108.2h1.2v1.2h-1.2zM465.7 107.6h1.2v1.2h-1.2zM461 116.3h1.2v1.2h-1.2zM472.6 113.9h1.2v1.2h-1.2zM463.4 109.4h1.2v1.2h-1.2zM460.4 105.7h1.2v1.2h-1.2zM462.7 113.3h1.2v1.2h-1.2zM466.4 109.8h1.2v1.2h-1.2zM462.2 107.9h1.2v1.2h-1.2zM468.2 112.9h1.2v1.2h-1.2zM465 120.7h1.2v1.2h-1.2zM466 102.7h1.2v1.2h-1.2zM464 110h1.2v1.2h-1.2zM461.5 108.7h1.2v1.2h-1.2zM468 114h1.2v1.2h-1.2zM460.7 109h1.2v1.2h-1.2zM467.6 117.5h1.2v1.2h-1.2zM463.2 109.4h1.2v1.2h-1.2zM457.7 109.8h1.2v1.2h-1.2zM462.2 108.5h1.2v1.2h-1.2zM468.1 107.9h1.2v1.2h-1.2zM465.4 102.4h1.2v1.2h-1.2zM472.6 107.9h1.2v1.2h-1.2zM465.8 105.6h1.2v1.2h-1.2zM461.5 109.3h1.2v1.2h-1.2zM463.2 113.5h1.2v1.2h-1.2zM463.1 114.1h1.2v1.2h-1.2zM470 109.1h1.2v1.2h-1.2zM469.5 102.9h1.2v1.2h-1.2zM466.8 114.1h1.2v1.2h-1.2zM466.4 113.7h1.2v1.2h-1.2zM463.6 106.9h1.2v1.2h-1.2zM459.7 112.5h1.2v1.2h-1.2zM466.8 106.6h1.2v1.2h-1.2zM469.2 111.9h1.2v1.2h-1.2zM465.4 106.1h1.2v1.2h-1.2zM468.8 116.2h1.2v1.2h-1.2zM467.1 117.8h1.2v1.2h-1.2zM467 105.8h1.2v1.2h-1.2zM463.2 118.9h1.2v1.2h-1.2zM468.2 114h1.2v1.2h-1.2zM464.7 108.3h1.2v1.2h-1.2zM466.7 119.6h1.2v1.2h-1.2zM459.8 114.9h1.2v1.2h-1.2zM468.3 105.2h1.2v1.2h-1.2zM468.4 104.2h1.2v1.2h-1.2z"/>
<path fill="#e02040" d="M469.3 111h1.2v1.2h-1.2zM470 119.4h1.2v1.2h-1.2zM472.9 109.3h1.2v1.2h-1.2zM467.9 105.8h1.2v1.2h-1.2zM466.1 104.9h1.2v1.2h-1.2zM462.2 113.1h1.2v1.2h-1.2zM467.2 111.1h1.2v1.2h-1.2zM468.6 112.8h1.2v1.2h-1.2zM465.4 109.9h1.2v1.2h-1.2zM469.7 111h1.2v1.2h-1.2zM472.4 112.8h1.2v1.2h-1.2zM469 111.8h1.2v1.2h-1.2zM466.2 119.5h1.2v1.2h-1.2zM466.3 113.5h1.2v1.2h-1.2zM469.9 112h1.2v1.2h-1.2zM471.5 109.6h1.2v1.2h-1.2zM470.6 117.7h1.2v1.2h-1.2zM470.7 111.2h1.2v1.2h-1.2zM472.5 108.3h1.2v1.2h-1.2zM461.6 111.9h1.2v1.2h-1.2zM471.6 109.9h1.2v1.2h-1.2zM468.2 113.8h1.2v1.2h-1.2zM468 111.2h1.2v1.2h-1.2zM472.6 115.4h1.2v1.2h-1.2zM472.8 110h1.2v1.2h-1.2zM472.9 105.8h1.2v1.2h-1.2zM471 110.9h1.2v1.2h-1.2zM467.6 111.7h1.2v1.2h-1.2zM467.5 107.9h1.2v1.2h-1.2zM469.3 109.2h1.2v1.2h-1.2zM472 110.8h1.2v1.2h-1.2zM463 107.4h1.2v1.2h-1.2zM464.8 113.5h1.2v1.2h-1.2zM464.3 111.3h1.2v1.2h-1.2zM468.9 110.2h1.2v1.2h-1.2zM469.9 109.9h1.2v1.2h-1.2zM473.7 110.5h1.2v1.2h-1.2zM468.2 110.7h1.2v1.2h-1.2zM470.2 109.5h1.2v1.2h-1.2zM467.6 114.3h1.2v1.2h-1.2zM473.1 110.5h1.2v1.2h-1.2zM475.7 113.8h1.2v1.2h-1.2zM467.7 108.4h1.2v1.2h-1.2zM471.7 116.3h1.2v1.2h-1.2zM468.1 114.3h1.2v1.2h-1.2zM470.2 110.6h1.2v1.2h-1.2zM467.4 111h1.2v1.2h-1.2zM473.6 114.5h1.2v1.2h-1.2zM471.2 110.6h1.2v1.2h-1.2zM470.5 107.9h1.2v1.2h-1.2zM466.9 107.4h1.2v1.2h-1.2zM473 108.4h1.2v1.2h-1.2zM472.1 115.3h1.2v1.2h-1.2zM468 111h1.2v1.2h-1.2zM473.8 110.2h1.2v1.2h-1.2zM469.9 105.6h1.2v1.2h-1.2zM468.6 117.6h1.2v1.2h-1.2zM470.9 111.7h1.2v1.2h-1.2zM469.9 113.6h1.2v1.2h-1.2zM469.7 113.3h1.2v1.2h-1.2z"/>
<path fill="#f0e030" d="M473.7 109.6h1.2v1.2h-1.2zM473.5 110h1.2v1.2h-1.2zM473.6 107.1h1.2v1.2h-1.2zM471.8 111.2h1.2v1.2h-1.2zM472.9 112.6h1.2v1.2h-1.2zM473.8 110.5h1.2v1.2h-1.2zM476.1 107.6h1.2v1.2h-1.2zM472.3 108.6h1.2v1.2h-1.2zM476 110.5h1.2v1.2h-1.2zM474.8 111.6h1.2v1.2h-1.2zM472.3 111.6h1.2v1.2h-1.2zM469.8 110.8h1.2v1.2h-1.2zM473.9 111.8h1.2v1.2h-1.2zM473 107.5h1.2v1.2h-1.2zM473.6 110.7h1.2v1.2h-1.2zM473.9 117.8h1.2v1.2h-1.2zM473.4 109.6h1.2v1.2h-1.2zM470.7 111.8h1.2v1.2h-1.2zM473.3 109.3h1.2v1.2h-1.2zM473.5 111.6h1.2v1.2h-1.2zM468.4 111.1h1.2v1.2h-1.2zM474.5 109h1.2v1.2h-1.2zM468.3 113.4h1.2v1.2h-1.2zM476 108.4h1.2v1.2h-1.2zM472.8 110.2h1.2v1.2h-1.2zM468.4 114h1.2v1.2h-1.2zM473.5 112.5h1.2v1.2h-1.2zM474.7 107.3h1.2v1.2h-1.2zM470.9 110.3h1.2v1.2h-1.2zM471.2 112.2h1.2v1.2h-1.2zM474.9 110.4h1.2v1.2h-1.2zM476 114.7h1.2v1.2h-1.2zM471.3 113.9h1.2v1.2h-1.2zM473.8 112.5h1.2v1.2h-1.2zM475.5 106.5h1.2v1.2h-1.2zM475.1 112.7h1.2v1.2h-1.2zM470.6 116.5h1.2v1.2h-1.2zM472.4 112.8h1.2v1.2h-1.2zM473.6 107.6h1.2v1.2h-1.2zM473.9 108.3h1.2v1.2h-1.2zM475.5 110.5h1.2v1.2h-1.2zM472.7 111.9h1.2v1.2h-1.2zM472.3 118.4h1.2v1.2h-1.2zM469.6 107.8h1.2v1.2h-1.2zM475.4 114.8h1.2v1.2h-1.2z"/>
<path fill="#7a1a2a" d="M480.5 102.6h1v1h-1zM478.8 102.6h1v1h-1zM480.7 104.3h1v1h-1zM481.2 107.4h1v1h-1zM473.5 100.6h1v1h-1zM480.2 104.5h1v1h-1zM472.4 102.3h1v1h-1zM477.6 106.1h1v1h-1zM481.5 106.1h1v1h-1zM475.7 106.1h1v1h-1zM476.2 101.3h1v1h-1zM481 105.7h1v1h-1zM477.1 105.7h1v1h-1zM468.1 103.8h1v1h-1zM467.9 106.9h1v1h-1zM485 107.2h1v1h-1zM477.8 108.9h1v1h-1zM474.8 107.6h1v1h-1zM480.7 107.9h1v1h-1zM465.5 102.5h1v1h-1zM477.8 105.2h1v1h-1zM472 102.2h1v1h-1zM473.9 109h1v1h-1zM477.3 100h1v1h-1zM472 104.5h1v1h-1zM474.4 102.6h1v1h-1zM473.1 105.9h1v1h-1zM482 107.1h1v1h-1zM473.8 101.9h1v1h-1zM471.5 98.6h1v1h-1zM475 107.5h1v1h-1zM472.4 105.8h1v1h-1zM477 107.4h1v1h-1zM475.1 105h1v1h-1zM476.1 102.1h1v1h-1zM473.2 106.6h1v1h-1zM472 103.4h1v1h-1zM475.4 104.5h1v1h-1zM479.9 104.6h1v1h-1zM481.1 106.1h1v1h-1zM478 111.6h1v1h-1zM465.5 100.5h1v1h-1zM479.4 105.3h1v1h-1zM470.5 106.6h1v1h-1zM475.9 104.4h1v1h-1zM477.3 97.8h1v1h-1zM472.4 103.7h1v1h-1zM479.5 104.6h1v1h-1zM482.6 104.6h1v1h-1zM471.8 107.8h1v1h-1z"/>
<path fill="#20a0a0" d="M461.6 111h1v1h-1zM462 115.2h1v1h-1zM458.3 114h1v1h-1zM456.8 115.9h1v1h-1zM454.9 117.7h1v1h-1zM463.6 118.5h1v1h-1zM457.1 118.8h1v1h-1zM463.7 117.8h1v1h-1zM465 117.5h1v1h-1zM456.4 117h1v1h-1zM460.2 112.5h1v1h-1zM452.9 114.4h1v1h-1zM457 116.4h1v1h-1zM458.5 111.8h1v1h-1zM458.8 119.3h1v1h-1zM456.6 113.9h1v1h-1zM461.4 115.1h1v1h-1zM456.3 113.7h1v1h-1zM453.4 114.1h1v1h-1zM454.5 110.1h1v1h-1zM455.9 110.1h1v1h-1zM460 116.9h1v1h-1zM458.7 112.7h1v1h-1zM462.6 117h1v1h-1zM456.1 109.8h1v1h-1zM459.5 114.5h1v1h-1zM461.9 121.9h1v1h-1zM456.8 115.2h1v1h-1zM458 112h1v1h-1zM458.5 119.6h1v1h-1zM455.2 115.9h1v1h-1zM459.8 110.8h1v1h-1zM461.9 116h1v1h-1zM460.3 113h1v1h-1zM455.9 114.5h1v1h-1zM457 118.7h1v1h-1zM460.4 113.8h1v1h-1zM459.6 115.4h1v1h-1zM460.1 121h1v1h-1zM458.3 106.4h1v1h-1z"/>
<path fill="#c07030" d="M465.5 120.1h1v1h-1zM467.3 118.2h1v1h-1zM462.6 115.8h1v1h-1zM463.8 115.2h1v1h-1zM468 119.6h1v1h-1zM460.2 109.9h1v1h-1zM459.4 121.9h1v1h-1zM462.2 118.2h1v1h-1zM460.7 118.7h1v1h-1zM458.7 120.7h1v1h-1zM461.7 113.4h1v1h-1zM464.2 118.3h1v1h-1zM464.8 117.4h1v1h-1zM460.5 113h1v1h-1zM467.1 110.3h1v1h-1zM465.9 113.5h1v1h-1zM465.2 113.7h1v1h-1zM465.7 115.3h1v1h-1zM464.7 116h1v1h-1zM458.7 115.2h1v1h-1zM465.7 117.3h1v1h-1zM464.4 119.1h1v1h-1zM457.5 116.3h1v1h-1zM462.5 116.8h1v1h-1zM464.3 114.4h1v1h-1zM466.7 116.6h1v1h-1zM464.4 121.2h1v1h-1zM467 116.1h1v1h-1zM461.5 114.8h1v1h-1zM460 116.6h1v1h-1zM466.1 116.6h1v1h-1zM463.2 116.9h1v1h-1zM466.5 113.4h1v1h-1zM466.6 119.4h1v1h-1zM467.2 118.4h1v1h-1zM465.1 115.2h1v1h-1zM467.9 115.8h1v1h-1zM465.7 116.8h1v1h-1zM471.3 114.8h1v1h-1zM467.5 121.2h1v1h-1z"/>
<path fill="#40c8d8" d="M456.9 102.7h1v1h-1zM467.8 103.6h1v1h-1zM464.1 93.7h1v1h-1zM459.6 106.5h1v1h-1zM461.3 98.6h1v1h-1zM471.3 112.3h1v1h-1zM458.3 112.9h1v1h-1zM458.7 98.6h1v1h-1zM462.5 108.9h1v1h-1zM464.7 109.2h1v1h-1zM454.9 114.6h1v1h-1zM447.7 93.7h1v1h-1zM477.7 115.7h1v1h-1zM477.4 95.2h1v1h-1zM466 102.6h1v1h-1zM462.7 107.6h1v1h-1zM448.8 103.5h1v1h-1zM471.3 97.7h1v1h-1zM470.4 101.2h1v1h-1zM462.2 95h1v1h-1zM476.3 90.5h1v1h-1zM462.4 108.4h1v1h-1zM456.9 97.2h1v1h-1zM452.1 94.8h1v1h-1zM476.6 111.5h1v1h-1zM459.3 96.1h1v1h-1zM470.5 99.7h1v1h-1zM457.3 94.5h1v1h-1zM479 102.4h1v1h-1zM454.7 100.9h1v1h-1zM473.7 101.5h1v1h-1zM467.2 106.4h1v1h-1zM466.6 108.6h1v1h-1zM447.4 106.6h1v1h-1zM449.8 92.2h1v1h-1zM476.8 122.1h1v1h-1zM466.3 105.2h1v1h-1zM465.7 96.1h1v1h-1zM474.2 109.2h1v1h-1zM451.2 106.3h1v1h-1zM469.4 105.7h1v1h-1zM462.2 115.6h1v1h-1zM451.1 105h1v1h-1zM463.2 112.7h1v1h-1zM473.1 99.6h1v1h-1zM460.1 105.5h1v1h-1zM454.4 101.3h1v1h-1zM475.5 98h1v1h-1zM456.4 108.5h1v1h-1zM458.9 115.4h1v1h-1zM447.2 110.2h1v1h-1zM468 106.8h1v1h-1zM457.2 104.3h1v1h-1zM481.8 102.5h1v1h-1zM466.2 105.5h1v1h-1zM472.2 107.1h1v1h-1zM472.9 95.5h1v1h-1zM474.5 105.4h1v1h-1zM461 105h1v1h-1zM462 94h1v1h-1z"/>
<path fill="#e8a040" d="M462.4 112.5h1v1h-1zM459.4 114.9h1v1h-1zM454.9 99.3h1v1h-1zM456.2 103.1h1v1h-1zM454.2 116.7h1v1h-1zM443.7 116.3h1v1h-1zM454.4 106.1h1v1h-1zM455.8 91.2h1v1h-1zM456.1 116.2h1v1h-1zM472.3 107.1h1v1h-1zM448.4 107.9h1v1h-1zM460.4 93.9h1v1h-1zM458.1 107.9h1v1h-1zM464.2 92.5h1v1h-1zM457.4 105.6h1v1h-1zM448.6 93.2h1v1h-1zM455 105.4h1v1h-1zM445.5 103.8h1v1h-1zM446.9 121h1v1h-1zM457 107.5h1v1h-1zM453.4 99.8h1v1h-1zM455.3 107.4h1v1h-1zM464.2 121.3h1v1h-1zM435.2 106h1v1h-1zM460.7 97.2h1v1h-1zM446.4 102.4h1v1h-1zM457.4 101.2h1v1h-1zM458.1 111.7h1v1h-1zM458.6 109.7h1v1h-1zM460.2 116.4h1v1h-1zM467.6 108.7h1v1h-1zM463.9 115.8h1v1h-1zM453.3 112.7h1v1h-1zM454.4 108.6h1v1h-1zM451.3 105.5h1v1h-1zM462.2 98.4h1v1h-1zM441.9 98.9h1v1h-1zM465.1 104.8h1v1h-1zM447.3 109.6h1v1h-1zM448.6 92.8h1v1h-1z"/>
<path fill="#a0a0a0" d="M477.4 102.5h1v1h-1zM468 86h1v1h-1zM468.5 94.5h1v1h-1zM464.1 86.8h1v1h-1zM473.3 98.8h1v1h-1zM465.1 105.2h1v1h-1zM483.1 96.2h1v1h-1zM469.7 88.8h1v1h-1zM467.8 92.8h1v1h-1zM459.2 84.3h1v1h-1zM467.7 105.3h1v1h-1zM460.5 102.3h1v1h-1zM468.6 86.9h1v1h-1zM478.1 81.9h1v1h-1zM479.2 93.6h1v1h-1zM469.7 82.9h1v1h-1zM457.7 91.2h1v1h-1zM465.6 82.3h1v1h-1zM464.2 91.8h1v1h-1zM469.9 98.7h1v1h-1zM479.8 101.4h1v1h-1zM481.2 97.4h1v1h-1zM461.8 110.1h1v1h-1zM456.5 102.8h1v1h-1zM463.3 90.8h1v1h-1zM468.4 90.9h1v1h-1zM465.1 98.5h1v1h-1zM472.4 91.3h1v1h-1zM466.4 99.9h1v1h-1zM474.8 105.5h1v1h-1z"/>
<rect x="437.7" y="133.4" width="1.8" height="0.9" fill="#40b040"/>
<rect x="439.8" y="133.4" width="1.7" height="0.9" fill="#e04040"/>
<rect x="441.8" y="133.4" width="1.1" height="0.9" fill="#3050c0"/>
<rect x="443.1" y="133.4" width="1" height="0.9" fill="#3050c0"/>
<rect x="444.4" y="133.4" width="1.1" height="0.9" fill="#e0a040"/>
<rect x="445.8" y="133.4" width="1.2" height="0.9" fill="#e04040"/>
<rect x="447.3" y="133.4" width="2" height="0.9" fill="#40b040"/>
<rect x="449.6" y="133.4" width="2.1" height="0.9" fill="#e0d040"/>
<rect x="452" y="133.4" width="1.4" height="0.9" fill="#40b040"/>
<rect x="453.7" y="133.4" width="2" height="0.9" fill="#c080c0"/>
<rect x="456" y="133.4" width="1.1" height="0.9" fill="#e0d040"/>
<rect x="457.4" y="133.4" width="2.1" height="0.9" fill="#c080c0"/>
<rect x="459.7" y="133.4" width="1.3" height="0.9" fill="#e0d040"/>
<rect x="461.4" y="133.4" width="1" height="0.9" fill="#40b040"/>
<rect x="462.7" y="133.4" width="2.1" height="0.9" fill="#e0a040"/>
<rect x="465.1" y="133.4" width="1.5" height="0.9" fill="#80c0e0"/>
<rect x="466.9" y="133.4" width="1.2" height="0.9" fill="#c080c0"/>
<rect x="468.4" y="133.4" width="2" height="0.9" fill="#c080c0"/>
<rect x="470.6" y="133.4" width="1.6" height="0.9" fill="#80c0e0"/>
<rect x="472.6" y="133.4" width="1.9" height="0.9" fill="#e0a040"/>
<rect x="474.8" y="133.4" width="1.6" height="0.9" fill="#80c0e0"/>
<rect x="476.7" y="133.4" width="2" height="0.9" fill="#e0d040"/>
<rect x="479" y="133.4" width="2.1" height="0.9" fill="#c080c0"/>
<rect x="481.4" y="133.4" width="1.9" height="0.9" fill="#e0d040"/>
<rect x="483.6" y="133.4" width="1.7" height="0.9" fill="#e0a040"/>
<rect x="485.6" y="133.4" width="1.9" height="0.9" fill="#40b040"/>
<rect x="487.7" y="133.4" width="2.3" height="0.9" fill="#80c0e0"/>
<rect x="490.3" y="133.4" width="1.1" height="0.9" fill="#3050c0"/>
<rect x="491.7" y="133.4" width="0.9" height="0.9" fill="#e04040"/>
<rect x="492.9" y="133.4" width="1" height="0.9" fill="#40b040"/>
<rect x="494.2" y="133.4" width="2.1" height="0.9" fill="#e04040"/>
<text x="2.2" y="297.2" font-size="17" font-weight="bold" textLength="9.4" lengthAdjust="spacingAndGlyphs">b</text>
<polygon points="118.8,367.4 238.5,397.7 238.5,446 146.2,446 143,440.5 140,437.3 136,434.2 127,428 118,423 108,418 104,414" fill="#cacaca"/>
<path fill="none" stroke="#c6c6c6" stroke-width="0.3" d="M106.8 387.6L93 389.8M87.5 395.8L82.3 390.2M75.7 398.4L82.4 387.7M92 356L107.4 325.2M80.9 398.1L92.5 401.7M95.6 399.4L100.6 355.2M63.8 330.2L93 336M101.4 349.7L85.4 358.8M103.5 334L99.8 362.8M71.4 377.7L79.9 339M98.5 362.1L131.7 350.5M86.4 383.9L87.3 383.6M68.3 324.8L76.8 341.7M100.6 386.6L92.8 375.2M72.6 389.9L65.3 384.8M70 387.2L73.7 379.1M48 336.4L75.1 339.7M64.1 381.3L39.3 350.4M89.4 372.7L74 330.8M75.4 360L60.6 320.6M38.8 368.5L28.8 372.7M83.5 392.2L84.3 386.1M53.1 337.5L31.6 353.4M67.6 335.3L107.5 354.7M37 364.8L60.5 332.4M95.6 400.1L109.1 382.2M63.5 330.4L88.4 352.4M119.6 375.6L109.2 401.4M74.8 336.9L102.6 361.2M66.1 415.7L42.9 411.4M100.1 379.1L88.5 385.3M85.4 380.4L91 358.6M71.6 327.6L61.1 329.9M76.2 422.1L110.4 415.2M100.3 408L108.5 384.5M97.5 329.1L90.9 365.6M96.5 407.6L74.7 433.7M79.4 401.3L86.5 384.8M12.3 368.4L37.2 350.7M97.7 398.6L93.1 379.1M92.8 339.9L81.1 344.2M75.3 351.7L75.1 339.7M93.8 368.4L80.4 336.3M34.6 366.2L64.4 338.2M26.9 359.2L45.6 343.7M103.5 361.3L110.9 374.8M50.4 376L34.7 376.8M84.9 397.1L92.6 389M89.9 338.1L88.3 363.6M76.1 398.9L59.6 388.1M71.4 336.2L72.8 333.9M86.8 326.3L98.6 354.2M111.4 380.3L78.8 376.6M74.5 358L76.2 346.7M34.5 372.2L72.3 377.4M91.5 372.6L120.8 353.3M100.7 384.3L76.3 388.3M66.8 405.7L92 389.5M37.9 348.9L33.1 348.5M101.3 380.4L95.1 344.7M97.5 341.5L81.2 334.5M98.7 394.9L104.8 353.7M68.6 333.4L87 338.7M45.6 330.7L31.8 369.9M75.7 370.7L105.2 387.8M69.2 389.1L61.9 411.7M75.6 359.6L100.1 347M73.7 384.9L79.3 422.4M72.7 399.7L85 422.6M99 357.7L62.2 373.5M64.7 337.7L36.8 372M77.6 330L92.7 337.9M63 403.8L106.9 403.6M102.8 375.7L89.5 361.7M97.1 340.5L76.9 337M73.6 372.6L93.7 376M78.4 375.6L105.4 398.4M82.8 423.1L68.9 405.8M106.9 404.4L94.3 406.8M87.9 355.6L78.8 391.2M69.3 332.2L35.2 357M38.8 363.9L37.9 348.9M127.8 377.4L89.7 355.5M34.2 354.5L57.5 323.8M68 380.4L97.1 380.2M66.3 378.6L95.9 362.5M106.9 370.9L86.1 349.1M45.3 337.4L84.6 340.5M84.7 399L76.2 435.3M61.4 336.4L42.7 367.4M106.8 359.3L94.5 365.5M100.9 417.4L73 403.9M31.8 363.9L45.5 361.8M101 365.3L71.3 331.6M82.6 386.6L106.3 387.5M86 395.1L93.3 381.7M82.9 370.6L78.1 378.2M26.4 379L69.2 389.1M96.2 392.1L100.2 349.1M31.6 362.8L30.2 332.1M94.8 364.1L93.5 342.8M87.3 423.8L66.7 403.8M101.5 400.4L106.5 380.3M91.5 353.4L78.2 337M70.9 423.4L92.5 401.7M100.1 377.9L94.1 351.2M46 336.9L55.3 326.3M95.9 420.6L52.9 410.9M51.3 382.3L45.8 374.3M93 337.5L83.5 359.6M76.8 350.1L94.8 318.2"/>
<path fill="none" stroke="#cfcfcf" stroke-width="0.3" d="M102.7 357.3L217.2 317.8M81.6 329L161.1 316.5M109 347.5L204 334.6M104.5 349.5L175.1 339.2M96.8 354.5L204.1 307.7M90.8 337.5L204 331.6M97 360.2L191.8 310.9M103.3 333.2L214.9 322.2M92.7 330.3L188.9 317.7M98.7 352.7L210.3 344.9M82.8 346L213 300.3M91.1 357L193.1 305.4M91.2 352L153.9 332.2M102.9 330.3L196.9 335.6M96.4 345.2L172.6 307.1M82 348.7L189 299.5M113.2 355.6L192.9 325.8M99.2 355.3L199.3 309.6M85.1 355.2L156.9 334.4M102.6 365.5L205 332.4M121.5 340.5L207 306.7M101.9 346.4L163.4 337.8M87.4 359.5L166.2 303.5M119.9 354.8L210.5 343M82.9 349.6L176.7 305M100.2 360.2L186.5 300.8M90.5 350.1L151.6 300.5M80.9 368.4L202.2 312.5M79.9 337.5L184 300.6M106.4 339L208 336.6M116.8 347L167.1 299.4M101.1 358.4L169.9 320.2M98.2 361.6L167.8 320M110.9 356.2L216.3 336M88.8 363L208.1 319"/>
<path fill="none" stroke="#c8c8c8" stroke-width="0.3" d="M36.7 372.4L31.6 370.4M52.9 410.9L43.1 403.4M33.2 350.5L21.7 352.5M31.3 374.4L13.3 381.2M34.6 366.2L23.8 350.4M26.4 366.4L37.1 351.8M33.8 399.7L39.6 374.3M28 397.8L38 410.8M28.8 372.7L32 354.6M46.4 373.4L40.3 377.3M15.5 386.2L36.1 366.3M27.1 368.6L38.8 363.9M34.6 370.6L29.9 361.8M26.4 367.7L25.4 368.1M41.2 415.6L49.8 413.6M33.6 375.1L24.3 352.5M31.1 367L25.8 368.3M30.2 365.1L26.2 368.9M38.8 368.5L28.4 351.2M31.3 376.5L29.9 347.3M39.3 373L31.5 366.4M22.2 351.5L34.4 363M13.9 359.3L29.8 359.7M29.8 378.1L35.9 363.9M46.4 373.4L54.9 388.6M41.7 346.1L30.9 370.5M43.7 347.1L33.4 346.4M50 416.9L34.5 430M31.9 370.6L30.9 380.9M29.8 378.1L45.1 402.6M30.5 363L23.8 350.4M33.4 351.2L27.7 362.2M36.6 380.1L36.2 377.3M36.5 373.4L27.4 376M45.9 385.8L36.2 376.4M29.8 361.7L16.7 348.1M60 416.8L48.3 395M57.1 382.6L33.3 368.7M25.8 363.7L41.2 366.4M36.2 376.4L21.1 361.7M40.7 351.8L25.1 347.3M53 374.6L30.2 359.9M37 350.4L37.1 345.9M70.2 326.4L94.7 337.8M72.3 339.4L58.9 332.4M97.3 334.7L117.4 316.8M61 328.8L60.6 331.1M67.6 335.3L71.5 328.4M75.1 339.7L64.5 332.8M71.5 328.4L60.3 331.2M79.4 339.9L69.1 323.4M94.1 316.1L103 335.3M135.5 327.5L141.2 321.1M66.1 325.5L39.7 337.4M36 337.1L31.6 328.4M66.1 333.6L76.4 334M72.6 329.8L82.1 327M52 336.4L72.9 335.2M50.6 336.1L67.3 324M92.8 339.9L62.2 332.1M68.9 329L87.2 339.5M76.9 332.3L72.6 333.3M80.5 320.7L63.4 328.7M100.5 311.8L91.1 332.4M57 337.1L35.9 335.9M55.3 326.3L73.7 338.6M97.2 336.4L73.9 336.6M82.5 339.2L65.6 334M53.1 338.7L55.4 331.2M86.2 331.9L93.6 339.9M62 332.6L59.7 328.6M86.4 332.2L108 327.4M73 332.7L80.3 337M60.3 337.6L42.3 338.1M75.7 327.6L63.8 330.2M80.4 336.3L72.2 328.3M45 332.8L26.6 328.9M76 333.3L74.4 336.1M81.6 339.6L95.6 333.3M73.2 339.5L101 336.2M58.5 329.6L25.6 339"/>
<path fill="none" stroke="#bbbbbb" stroke-width="0.3" d="M177.4 312.4L181 313.7M167.1 318.4L159.3 325.7M163.1 320.7L156.8 316.3M168.8 317.4L154.6 312.4M181 310.3L190 307.8M176.9 312.7L187.7 314.6M147.9 329.6L157.9 339M140.4 333.9L137.9 332.7M146.7 330.2L125.4 339.8M160.8 322L139.2 317.9M163.4 320.5L161.5 319.7M167.8 317.9L155.4 313.5M152.2 327.1L178.4 318.1M173.4 314.7L153.8 316.6M149.1 328.9L139.6 328.8M171.9 315.6L173.8 315M162.7 320.9L189.2 322.7M181.3 310.1L163.4 312.3M154.1 325.9L162.9 328.9M166.3 318.8L175.7 318.6M151.4 327.5L130.3 327.4M166.5 318.7L196.6 326.7M154.7 325.6L132.2 327.5M136.3 336.3L143.4 336.5M152.2 327.1L143.1 326.4"/>
<path fill="#a6c8ea" d="M26.2 365.9h1.7v1.7h-1.7zM69.8 322.3h1.7v1.7h-1.7zM31.2 361.8h1.7v1.7h-1.7zM35.5 338.7h1.7v1.7h-1.7zM76.6 342.1h1.7v1.7h-1.7zM69.4 325.5h1.7v1.7h-1.7zM30.9 376.8h1.7v1.7h-1.7zM78.8 336.5h1.7v1.7h-1.7zM22.2 358.9h1.7v1.7h-1.7zM42.9 354.1h1.7v1.7h-1.7zM40.3 348.1h1.7v1.7h-1.7zM32.7 353.8h1.7v1.7h-1.7zM29.1 341h1.7v1.7h-1.7zM75.2 332.4h1.7v1.7h-1.7zM48.4 335.5h1.7v1.7h-1.7zM54.8 339.3h1.7v1.7h-1.7zM42.2 330.5h1.7v1.7h-1.7zM36.9 351.6h1.7v1.7h-1.7zM69.8 329.2h1.7v1.7h-1.7zM35.5 338.4h1.7v1.7h-1.7zM68.5 339h1.7v1.7h-1.7zM66.4 336.1h1.7v1.7h-1.7zM29 358.9h1.7v1.7h-1.7zM51.5 346.4h1.7v1.7h-1.7zM37.7 345.6h1.7v1.7h-1.7zM36.3 353.7h1.7v1.7h-1.7zM40.6 355.6h1.7v1.7h-1.7zM40.1 336.9h1.7v1.7h-1.7zM23.4 351.6h1.7v1.7h-1.7zM29.8 340.4h1.7v1.7h-1.7zM60.2 329.6h1.7v1.7h-1.7zM29.5 360.4h1.7v1.7h-1.7zM36.5 376.2h1.7v1.7h-1.7zM72.6 336.8h1.7v1.7h-1.7zM67.1 330.9h1.7v1.7h-1.7zM66.2 336.1h1.7v1.7h-1.7zM31.8 341.9h1.7v1.7h-1.7zM33.6 351.6h1.7v1.7h-1.7zM40.8 343.3h1.7v1.7h-1.7zM62.9 324.6h1.7v1.7h-1.7zM78.3 329.5h1.7v1.7h-1.7zM39.3 367.3h1.7v1.7h-1.7zM31.7 363.6h1.7v1.7h-1.7zM57.6 328.7h1.7v1.7h-1.7zM51.5 328.9h1.7v1.7h-1.7zM61.1 321.8h1.7v1.7h-1.7zM52.9 330h1.7v1.7h-1.7zM52.7 332h1.7v1.7h-1.7zM38.2 332.5h1.7v1.7h-1.7zM35.1 346.1h1.7v1.7h-1.7zM58.7 325.9h1.7v1.7h-1.7zM29.4 345h1.7v1.7h-1.7zM75.2 330.5h1.7v1.7h-1.7zM75 337.1h1.7v1.7h-1.7zM33.2 371.8h1.7v1.7h-1.7zM40.3 365.5h1.7v1.7h-1.7zM31 365.4h1.7v1.7h-1.7zM32 359.6h1.7v1.7h-1.7zM56.5 338.3h1.7v1.7h-1.7zM33.7 349.6h1.7v1.7h-1.7zM36.5 368.8h1.7v1.7h-1.7zM48.7 347.9h1.7v1.7h-1.7zM88 338.2h1.7v1.7h-1.7zM29.1 371h1.7v1.7h-1.7zM71.3 331.9h1.7v1.7h-1.7zM33.1 351.2h1.7v1.7h-1.7zM36 348.2h1.7v1.7h-1.7zM37.4 365.4h1.7v1.7h-1.7zM55.3 329.5h1.7v1.7h-1.7zM67.2 327.6h1.7v1.7h-1.7zM79.3 334.6h1.7v1.7h-1.7zM51.1 330h1.7v1.7h-1.7zM54 335.7h1.7v1.7h-1.7zM78.6 339.1h1.7v1.7h-1.7zM82.6 336.6h1.7v1.7h-1.7zM33 347.2h1.7v1.7h-1.7zM32.2 365.1h1.7v1.7h-1.7zM32.2 368.6h1.7v1.7h-1.7zM63 330.1h1.7v1.7h-1.7zM35.1 336.2h1.7v1.7h-1.7zM46.7 336.2h1.7v1.7h-1.7zM44.4 334.4h1.7v1.7h-1.7zM88.6 333.5h1.7v1.7h-1.7zM51 334.6h1.7v1.7h-1.7zM37 341.8h1.7v1.7h-1.7zM40.4 351.9h1.7v1.7h-1.7zM35.4 377.1h1.7v1.7h-1.7zM22.1 357.8h1.7v1.7h-1.7zM76.8 327.6h1.7v1.7h-1.7zM41.8 351.8h1.7v1.7h-1.7zM61.6 324.4h1.7v1.7h-1.7zM30.6 371.2h1.7v1.7h-1.7zM31.6 371.1h1.7v1.7h-1.7zM38.2 330.5h1.7v1.7h-1.7zM68.7 324.4h1.7v1.7h-1.7zM33.3 367.7h1.7v1.7h-1.7zM38 368h1.7v1.7h-1.7zM23.2 354.9h1.7v1.7h-1.7zM53.6 342.2h1.7v1.7h-1.7zM19.7 370.2h1.7v1.7h-1.7zM30.5 354.4h1.7v1.7h-1.7zM20 370.7h1.7v1.7h-1.7zM26.5 354.1h1.7v1.7h-1.7zM30.2 351.2h1.7v1.7h-1.7zM53.4 333.4h1.7v1.7h-1.7zM59.2 328.6h1.7v1.7h-1.7zM44.6 335h1.7v1.7h-1.7zM29.7 340.8h1.7v1.7h-1.7zM58 329.3h1.7v1.7h-1.7zM66.7 337.3h1.7v1.7h-1.7zM29.9 358h1.7v1.7h-1.7zM35.2 339.8h1.7v1.7h-1.7zM87.1 332h1.7v1.7h-1.7zM39.9 335h1.7v1.7h-1.7zM46.8 335.9h1.7v1.7h-1.7zM34.7 365.7h1.7v1.7h-1.7zM92.1 335.1h1.7v1.7h-1.7zM60.1 332.8h1.7v1.7h-1.7zM33 363.2h1.7v1.7h-1.7zM25.7 369h1.7v1.7h-1.7zM81.9 329.8h1.7v1.7h-1.7zM48.8 329.6h1.7v1.7h-1.7zM36.5 341.5h1.7v1.7h-1.7zM67.8 332.6h1.7v1.7h-1.7zM28 371.9h1.7v1.7h-1.7zM52.9 332.7h1.7v1.7h-1.7zM67.1 326.3h1.7v1.7h-1.7zM47.1 329.6h1.7v1.7h-1.7zM81.4 335.4h1.7v1.7h-1.7zM78.6 325.1h1.7v1.7h-1.7zM32.9 374.1h1.7v1.7h-1.7zM25.7 347h1.7v1.7h-1.7zM35 336.6h1.7v1.7h-1.7zM36.5 371.5h1.7v1.7h-1.7zM45.6 348.1h1.7v1.7h-1.7zM24.6 367.2h1.7v1.7h-1.7zM27.5 365.9h1.7v1.7h-1.7zM32.7 374.8h1.7v1.7h-1.7zM23 370.6h1.7v1.7h-1.7zM59.4 333.1h1.7v1.7h-1.7zM34.1 365.1h1.7v1.7h-1.7zM31.7 345.4h1.7v1.7h-1.7zM28.1 362.2h1.7v1.7h-1.7zM56.8 338.3h1.7v1.7h-1.7zM39.4 374.9h1.7v1.7h-1.7zM50.6 332.6h1.7v1.7h-1.7zM40 348.8h1.7v1.7h-1.7zM38.6 340.7h1.7v1.7h-1.7zM72.5 342.9h1.7v1.7h-1.7zM46.6 331.5h1.7v1.7h-1.7zM36.6 330.8h1.7v1.7h-1.7zM54.6 341.5h1.7v1.7h-1.7zM33.3 370.5h1.7v1.7h-1.7zM60.5 338.4h1.7v1.7h-1.7zM58.5 334.6h1.7v1.7h-1.7zM26.2 351.5h1.7v1.7h-1.7zM69.1 328.5h1.7v1.7h-1.7zM72.4 337.7h1.7v1.7h-1.7zM81.9 341.6h1.7v1.7h-1.7zM39.7 342.3h1.7v1.7h-1.7zM49.4 326h1.7v1.7h-1.7zM59.4 330.4h1.7v1.7h-1.7z"/>
<path fill="#d0d0d0" d="M43 334.8h1.2v1.2h-1.2zM32.9 375.3h1.2v1.2h-1.2zM27 380.1h1.2v1.2h-1.2zM26.8 375.4h1.2v1.2h-1.2zM89.3 337.5h1.2v1.2h-1.2zM40.8 377.6h1.2v1.2h-1.2zM34 370h1.2v1.2h-1.2zM96.5 339.9h1.2v1.2h-1.2zM44.9 361.2h1.2v1.2h-1.2zM71.9 346.1h1.2v1.2h-1.2zM31.2 338.5h1.2v1.2h-1.2zM84.7 341.2h1.2v1.2h-1.2zM41.5 374.6h1.2v1.2h-1.2zM29.3 361.2h1.2v1.2h-1.2zM54.7 318.9h1.2v1.2h-1.2zM37.7 383.9h1.2v1.2h-1.2zM34.1 376.2h1.2v1.2h-1.2zM91.5 342.6h1.2v1.2h-1.2zM27.1 354.6h1.2v1.2h-1.2zM28.8 360.5h1.2v1.2h-1.2zM53.2 331.5h1.2v1.2h-1.2zM95.7 339.8h1.2v1.2h-1.2zM35.9 348.3h1.2v1.2h-1.2zM65.6 331.6h1.2v1.2h-1.2zM21.9 334.8h1.2v1.2h-1.2zM75 327h1.2v1.2h-1.2zM78.5 341.7h1.2v1.2h-1.2zM36.2 355.2h1.2v1.2h-1.2zM33.3 364.6h1.2v1.2h-1.2zM83.8 348.3h1.2v1.2h-1.2zM75 344.5h1.2v1.2h-1.2zM21.1 370.2h1.2v1.2h-1.2zM27.7 358.1h1.2v1.2h-1.2zM35.6 375.8h1.2v1.2h-1.2zM22.1 358.3h1.2v1.2h-1.2zM35.2 385.2h1.2v1.2h-1.2zM30.8 345.9h1.2v1.2h-1.2zM31.2 384.2h1.2v1.2h-1.2zM38 376.1h1.2v1.2h-1.2zM27.8 346.9h1.2v1.2h-1.2z"/>
<path fill="#c8c040" d="M34.6 394.5h1.7v1.7h-1.7zM41.2 396.2h1.7v1.7h-1.7zM23 367.6h1.7v1.7h-1.7zM30.7 376.9h1.7v1.7h-1.7zM46.5 398.5h1.7v1.7h-1.7zM25.6 363.2h1.7v1.7h-1.7zM23.4 376.2h1.7v1.7h-1.7zM24.7 365.4h1.7v1.7h-1.7z"/>
<path fill="#8cb8e8" d="M36.8 331.1h1.6v1.6h-1.6zM26.5 346.4h1.6v1.6h-1.6zM43.5 323.5h1.6v1.6h-1.6zM44.4 319.3h1.6v1.6h-1.6zM52.2 327h1.6v1.6h-1.6zM56.7 323h1.6v1.6h-1.6zM54.2 325.7h1.6v1.6h-1.6zM42.4 320.2h1.6v1.6h-1.6zM27.4 328.6h1.6v1.6h-1.6z"/>
<path fill="#f0a030" d="M191.5 308.3h1.8v1.8h-1.8zM141.1 341.4h1.8v1.8h-1.8zM190.8 310.8h1.8v1.8h-1.8zM157.3 325.9h1.8v1.8h-1.8zM143.2 336.1h1.8v1.8h-1.8zM182.6 307.6h1.8v1.8h-1.8zM142.1 346.4h1.8v1.8h-1.8zM139.9 351.4h1.8v1.8h-1.8zM173.5 318.4h1.8v1.8h-1.8zM184 308.7h1.8v1.8h-1.8zM166.8 332.1h1.8v1.8h-1.8zM169.1 324.5h1.8v1.8h-1.8zM166.4 325.5h1.8v1.8h-1.8z"/>
<path fill="#a09070" d="M121.8 360.9h1.6v1.6h-1.6zM180.9 355.8h1.6v1.6h-1.6z"/>
<path fill="#222" d="M94.6 313.6h1.6v1.6h-1.6zM77.6 308.4h1.6v1.6h-1.6z"/>
<path fill="#333" d="M122.4 318.4h1.6v1.6h-1.6zM143.4 330.1h1.6v1.6h-1.6zM141.7 354.6h1.6v1.6h-1.6z"/>
<path fill="#f0e050" d="M142.8 357.6h1.6v1.6h-1.6z"/>
<path fill="#999" d="M159.7 366.5h1.6v1.6h-1.6zM190.6 360.7h1.6v1.6h-1.6zM124.9 354.4h1.6v1.6h-1.6z"/>
<path fill="#3a5ab0" d="M159 385.6h1.6v1.6h-1.6zM127.4 407.3h1.6v1.6h-1.6z"/>
<path fill="#40b048" d="M106.4 323.8h1.6v1.6h-1.6zM46.5 311.3h1.6v1.6h-1.6z"/>
<path fill="#777" d="M185.9 327.5h1.6v1.6h-1.6z"/>
<path fill="#70c8e0" d="M183.3 347.9h1.6v1.6h-1.6z"/>
<path fill="#555" d="M186.9 322h1.6v1.6h-1.6z"/>
<path fill="#555" d="M10.5 386.6h1.6v1.6h-1.6zM14.7 385.4h1.6v1.6h-1.6z"/>
<path fill="#d0d0d0" d="M50.7 341.2h1.2v1.2h-1.2zM29.8 344.2h1.2v1.2h-1.2zM41.8 375.2h1.2v1.2h-1.2zM46 332.9h1.2v1.2h-1.2zM22.7 367.1h1.2v1.2h-1.2zM76.1 330.3h1.2v1.2h-1.2zM28.1 373.8h1.2v1.2h-1.2zM25.2 363.1h1.2v1.2h-1.2zM71.1 332.1h1.2v1.2h-1.2zM36.2 371.4h1.2v1.2h-1.2zM26.2 355.6h1.2v1.2h-1.2zM32.6 368.8h1.2v1.2h-1.2zM46.1 369.1h1.2v1.2h-1.2zM79.4 344.9h1.2v1.2h-1.2zM86.6 338.9h1.2v1.2h-1.2zM23.7 380.7h1.2v1.2h-1.2zM35.7 334.4h1.2v1.2h-1.2zM27.3 358.6h1.2v1.2h-1.2zM43.9 339.2h1.2v1.2h-1.2zM25.1 359.7h1.2v1.2h-1.2zM53.6 339.1h1.2v1.2h-1.2zM44.7 336.8h1.2v1.2h-1.2zM31.8 338.7h1.2v1.2h-1.2zM27.8 340.9h1.2v1.2h-1.2zM53 336.8h1.2v1.2h-1.2zM68.9 341.2h1.2v1.2h-1.2zM73.2 334.2h1.2v1.2h-1.2zM22.7 375.8h1.2v1.2h-1.2zM52.8 324.7h1.2v1.2h-1.2zM43.7 327.5h1.2v1.2h-1.2zM77.7 339.8h1.2v1.2h-1.2zM65.1 334.5h1.2v1.2h-1.2zM50.7 345h1.2v1.2h-1.2zM72.7 327.8h1.2v1.2h-1.2zM77.7 337.6h1.2v1.2h-1.2zM45.7 343.3h1.2v1.2h-1.2zM62.7 338h1.2v1.2h-1.2z"/>
<path fill="#2a5a2a" d="M111.1 328.6h1.6v1.6h-1.6zM157 314.7h1.6v1.6h-1.6zM111.2 322.3h1.6v1.6h-1.6zM131 334.8h1.6v1.6h-1.6z"/>
<path fill="#a6c8ea" d="M42.8 337.6h1.7v1.7h-1.7zM19.8 365.6h1.7v1.7h-1.7zM74.7 349.4h1.7v1.7h-1.7zM49.2 327.8h1.7v1.7h-1.7zM75.6 338.7h1.7v1.7h-1.7zM39.2 353h1.7v1.7h-1.7zM80.2 343.6h1.7v1.7h-1.7zM85.6 331.4h1.7v1.7h-1.7zM61.6 333.7h1.7v1.7h-1.7zM26.7 365.5h1.7v1.7h-1.7zM45.6 340.8h1.7v1.7h-1.7zM81.3 334.4h1.7v1.7h-1.7zM57 334.3h1.7v1.7h-1.7zM80.1 336.1h1.7v1.7h-1.7zM88.5 337.8h1.7v1.7h-1.7zM57.9 339.9h1.7v1.7h-1.7zM57 329h1.7v1.7h-1.7zM44 334.4h1.7v1.7h-1.7zM32 355.8h1.7v1.7h-1.7zM44.5 335h1.7v1.7h-1.7zM36.3 349.9h1.7v1.7h-1.7zM44.3 351.6h1.7v1.7h-1.7zM57.9 340h1.7v1.7h-1.7zM53.5 339.9h1.7v1.7h-1.7zM77.5 333.3h1.7v1.7h-1.7zM68.4 331.4h1.7v1.7h-1.7zM33.8 367.5h1.7v1.7h-1.7zM74.8 333.6h1.7v1.7h-1.7zM46.8 331.2h1.7v1.7h-1.7zM26 363.3h1.7v1.7h-1.7zM70.1 328.8h1.7v1.7h-1.7zM43.3 346.3h1.7v1.7h-1.7zM43.4 335.6h1.7v1.7h-1.7zM44.9 338.9h1.7v1.7h-1.7zM40.6 339.9h1.7v1.7h-1.7zM82 337h1.7v1.7h-1.7zM44.2 331.9h1.7v1.7h-1.7zM33.8 358h1.7v1.7h-1.7zM40.1 362.3h1.7v1.7h-1.7zM84.2 323.5h1.7v1.7h-1.7zM25.1 366.6h1.7v1.7h-1.7zM19.8 368.5h1.7v1.7h-1.7zM60.1 323.6h1.7v1.7h-1.7zM43.4 359.8h1.7v1.7h-1.7zM36.5 330.9h1.7v1.7h-1.7zM33.6 373.3h1.7v1.7h-1.7zM48.1 327.5h1.7v1.7h-1.7zM63.8 345.3h1.7v1.7h-1.7zM34.9 377.4h1.7v1.7h-1.7zM30 370.7h1.7v1.7h-1.7zM25.3 334h1.7v1.7h-1.7zM30.3 358.1h1.7v1.7h-1.7zM79.8 342.6h1.7v1.7h-1.7zM41.8 366.5h1.7v1.7h-1.7zM55 335.6h1.7v1.7h-1.7zM74.4 327.6h1.7v1.7h-1.7zM80.7 335.5h1.7v1.7h-1.7zM38.1 340h1.7v1.7h-1.7zM31.4 357h1.7v1.7h-1.7zM80 336.4h1.7v1.7h-1.7zM83.9 339.7h1.7v1.7h-1.7zM34.3 356.1h1.7v1.7h-1.7zM57.3 330.2h1.7v1.7h-1.7zM38 352.1h1.7v1.7h-1.7zM41.1 336.6h1.7v1.7h-1.7zM61.6 330.2h1.7v1.7h-1.7zM49.5 335.4h1.7v1.7h-1.7zM33.7 355.8h1.7v1.7h-1.7zM35.9 354.7h1.7v1.7h-1.7zM71.8 337.5h1.7v1.7h-1.7zM23.2 376.1h1.7v1.7h-1.7zM52.3 337.9h1.7v1.7h-1.7zM77.5 332.5h1.7v1.7h-1.7zM70.2 329.3h1.7v1.7h-1.7zM33.3 359.9h1.7v1.7h-1.7zM69.6 331.9h1.7v1.7h-1.7zM78 332.5h1.7v1.7h-1.7zM41.9 328.3h1.7v1.7h-1.7zM30.5 358.3h1.7v1.7h-1.7zM28.6 356.9h1.7v1.7h-1.7zM28 359.8h1.7v1.7h-1.7zM33.7 365.4h1.7v1.7h-1.7zM36.2 342.7h1.7v1.7h-1.7zM39.1 335.1h1.7v1.7h-1.7zM62.7 329.6h1.7v1.7h-1.7zM26.2 342.5h1.7v1.7h-1.7zM71.8 339.2h1.7v1.7h-1.7zM29.5 354.9h1.7v1.7h-1.7zM63.1 327.3h1.7v1.7h-1.7zM67.5 324h1.7v1.7h-1.7zM71.6 337h1.7v1.7h-1.7zM54.5 325.5h1.7v1.7h-1.7zM63.7 336.2h1.7v1.7h-1.7zM72.6 331.9h1.7v1.7h-1.7zM53.1 323.3h1.7v1.7h-1.7zM40.5 349.4h1.7v1.7h-1.7zM35.7 346h1.7v1.7h-1.7zM79.6 334.8h1.7v1.7h-1.7zM40.1 342.3h1.7v1.7h-1.7zM32 370.5h1.7v1.7h-1.7zM70.5 341.1h1.7v1.7h-1.7zM36.3 358.4h1.7v1.7h-1.7zM60.5 332.6h1.7v1.7h-1.7zM28.3 346.5h1.7v1.7h-1.7zM34.2 374.3h1.7v1.7h-1.7zM30.7 361.9h1.7v1.7h-1.7zM37.9 367.6h1.7v1.7h-1.7zM61.2 335.2h1.7v1.7h-1.7zM67 325.7h1.7v1.7h-1.7zM34.3 345.9h1.7v1.7h-1.7zM35.9 351.2h1.7v1.7h-1.7zM32.6 345.6h1.7v1.7h-1.7zM27.5 369.9h1.7v1.7h-1.7zM73 336h1.7v1.7h-1.7zM78.8 331h1.7v1.7h-1.7zM29 353.8h1.7v1.7h-1.7zM57.6 333.4h1.7v1.7h-1.7zM30.5 359.2h1.7v1.7h-1.7zM43.7 343.2h1.7v1.7h-1.7zM81.8 334.9h1.7v1.7h-1.7zM86.8 336.7h1.7v1.7h-1.7zM33.6 377.1h1.7v1.7h-1.7zM61.1 324.7h1.7v1.7h-1.7zM30.6 357.9h1.7v1.7h-1.7zM30.1 346.5h1.7v1.7h-1.7zM73 331.9h1.7v1.7h-1.7zM59.9 340.7h1.7v1.7h-1.7zM25.3 379.2h1.7v1.7h-1.7zM76.9 336.1h1.7v1.7h-1.7zM42.2 339h1.7v1.7h-1.7zM27.6 371.6h1.7v1.7h-1.7zM31.2 346.3h1.7v1.7h-1.7zM61.5 339.4h1.7v1.7h-1.7zM81.3 326.2h1.7v1.7h-1.7zM34.1 378.4h1.7v1.7h-1.7zM56.9 332.6h1.7v1.7h-1.7zM62.5 317.1h1.7v1.7h-1.7zM61.9 324.7h1.7v1.7h-1.7zM50.8 351.2h1.7v1.7h-1.7zM30.4 350.9h1.7v1.7h-1.7zM77.8 338.2h1.7v1.7h-1.7zM83.7 341.1h1.7v1.7h-1.7zM33.2 358.1h1.7v1.7h-1.7zM81.1 326.9h1.7v1.7h-1.7zM20.3 360.9h1.7v1.7h-1.7zM30 369.6h1.7v1.7h-1.7zM30.1 355.7h1.7v1.7h-1.7zM80 338h1.7v1.7h-1.7zM22.8 365.8h1.7v1.7h-1.7zM24.5 364.3h1.7v1.7h-1.7zM22.1 364.1h1.7v1.7h-1.7zM49.4 334.9h1.7v1.7h-1.7zM66.1 329.5h1.7v1.7h-1.7zM57.4 329.9h1.7v1.7h-1.7zM30.2 344.1h1.7v1.7h-1.7zM21.4 370.6h1.7v1.7h-1.7zM57.2 334.2h1.7v1.7h-1.7zM64 338.5h1.7v1.7h-1.7zM36.9 345.2h1.7v1.7h-1.7zM60.7 338.5h1.7v1.7h-1.7zM38.8 335.4h1.7v1.7h-1.7zM58.2 335.9h1.7v1.7h-1.7zM70 332.3h1.7v1.7h-1.7zM71.7 334.4h1.7v1.7h-1.7zM24.2 378.1h1.7v1.7h-1.7zM37.3 353.2h1.7v1.7h-1.7zM42.8 337.1h1.7v1.7h-1.7zM31.9 367.8h1.7v1.7h-1.7zM29.6 377.6h1.7v1.7h-1.7zM58.6 330.4h1.7v1.7h-1.7zM25.1 377h1.7v1.7h-1.7zM80.2 343.3h1.7v1.7h-1.7z"/>
<path fill="#c8c040" d="M30.3 380.7h1.7v1.7h-1.7zM16.6 380.9h1.7v1.7h-1.7zM24.2 377.2h1.7v1.7h-1.7zM27.8 369.6h1.7v1.7h-1.7zM26.2 376.5h1.7v1.7h-1.7zM36.9 384.5h1.7v1.7h-1.7zM41.3 405.5h1.7v1.7h-1.7zM23.8 389.1h1.7v1.7h-1.7zM25.6 366.8h1.7v1.7h-1.7z"/>
<path fill="#f0a030" d="M164.8 328.5h1.8v1.8h-1.8zM171 322h1.8v1.8h-1.8zM148.4 330.9h1.8v1.8h-1.8zM156.6 328.5h1.8v1.8h-1.8zM136.6 353.2h1.8v1.8h-1.8zM165.9 333.2h1.8v1.8h-1.8zM183.7 315.7h1.8v1.8h-1.8z"/>
<path fill="#999" d="M159 334.7h1.6v1.6h-1.6zM113.3 357.6h1.6v1.6h-1.6z"/>
<path fill="#333" d="M140.4 320.3h1.6v1.6h-1.6zM182.2 351.4h1.6v1.6h-1.6zM108.4 322.6h1.6v1.6h-1.6z"/>
<path fill="#8cb8e8" d="M52.3 324.5h1.6v1.6h-1.6zM24.1 354.8h1.6v1.6h-1.6zM20 352.3h1.6v1.6h-1.6zM15.9 347.3h1.6v1.6h-1.6z"/>
<path fill="#777" d="M110.4 365.5h1.6v1.6h-1.6zM179.5 322.7h1.6v1.6h-1.6z"/>
<path fill="#888" d="M122.4 318.2h1.6v1.6h-1.6z"/>
<path fill="#5a8ad0" d="M182 390h1.6v1.6h-1.6zM142.7 413.3h1.6v1.6h-1.6z"/>
<path fill="#3a5ab0" d="M131.2 386.5h1.6v1.6h-1.6z"/>
<path fill="#40b048" d="M94 306.2h1.6v1.6h-1.6z"/>
<path fill="#a09070" d="M167.5 401.7h1.6v1.6h-1.6z"/>
<path fill="#a8c8e8" d="M62.7 307.8h1.6v1.6h-1.6z"/>
<path fill="#222" d="M104.2 302.5h1.6v1.6h-1.6z"/>
<path fill="#a6c8ea" d="M26.5 370.3h1.7v1.7h-1.7zM40.7 367.4h1.7v1.7h-1.7zM77.3 346.4h1.7v1.7h-1.7zM23.1 371.2h1.7v1.7h-1.7zM83.7 331.5h1.7v1.7h-1.7zM59.8 331.3h1.7v1.7h-1.7zM34.4 358.8h1.7v1.7h-1.7zM86.1 337.8h1.7v1.7h-1.7zM26 356.8h1.7v1.7h-1.7zM25.4 352.3h1.7v1.7h-1.7zM33.8 369.1h1.7v1.7h-1.7zM56.2 336.1h1.7v1.7h-1.7zM64.5 324.9h1.7v1.7h-1.7zM35.1 335.1h1.7v1.7h-1.7zM36.2 341.6h1.7v1.7h-1.7zM27.7 369.6h1.7v1.7h-1.7zM30.3 361h1.7v1.7h-1.7zM71.4 331.2h1.7v1.7h-1.7zM35 342h1.7v1.7h-1.7zM58.9 326.4h1.7v1.7h-1.7zM85.5 337.5h1.7v1.7h-1.7zM39.4 347.1h1.7v1.7h-1.7zM41.4 350.1h1.7v1.7h-1.7zM38.8 373.4h1.7v1.7h-1.7zM48.3 328.8h1.7v1.7h-1.7zM70.5 336.8h1.7v1.7h-1.7zM86.6 329.8h1.7v1.7h-1.7zM36.8 358.5h1.7v1.7h-1.7zM21.3 350.7h1.7v1.7h-1.7zM25.3 364.8h1.7v1.7h-1.7zM44.8 342.9h1.7v1.7h-1.7zM37.9 341.7h1.7v1.7h-1.7zM39 341.6h1.7v1.7h-1.7zM60.8 330.3h1.7v1.7h-1.7zM33.1 340.8h1.7v1.7h-1.7zM30.9 336.8h1.7v1.7h-1.7zM35.9 332.8h1.7v1.7h-1.7zM75.2 330.8h1.7v1.7h-1.7zM30.4 341.1h1.7v1.7h-1.7zM36.9 334.9h1.7v1.7h-1.7zM31 344.8h1.7v1.7h-1.7zM25.7 367.8h1.7v1.7h-1.7zM36.3 345h1.7v1.7h-1.7zM25.1 364.1h1.7v1.7h-1.7zM36.3 337.3h1.7v1.7h-1.7zM96 331.9h1.7v1.7h-1.7zM32.6 341.2h1.7v1.7h-1.7zM86 335.9h1.7v1.7h-1.7zM37.5 371h1.7v1.7h-1.7zM35.8 358h1.7v1.7h-1.7zM40.5 364.6h1.7v1.7h-1.7zM51.8 331.3h1.7v1.7h-1.7zM36.7 335.6h1.7v1.7h-1.7zM22.8 372.2h1.7v1.7h-1.7zM54 333.8h1.7v1.7h-1.7zM30.8 345.8h1.7v1.7h-1.7zM30.8 369.6h1.7v1.7h-1.7zM29.7 372.5h1.7v1.7h-1.7zM39.6 338.5h1.7v1.7h-1.7zM60.5 328.1h1.7v1.7h-1.7zM60.8 326.4h1.7v1.7h-1.7zM79.6 324.5h1.7v1.7h-1.7zM28 369.1h1.7v1.7h-1.7zM45.7 332.9h1.7v1.7h-1.7zM41 335.2h1.7v1.7h-1.7zM71.6 327.5h1.7v1.7h-1.7zM32.3 349.8h1.7v1.7h-1.7zM38.3 374.1h1.7v1.7h-1.7zM38.7 329.8h1.7v1.7h-1.7zM63.9 338.1h1.7v1.7h-1.7zM50.7 328.3h1.7v1.7h-1.7zM29 372.6h1.7v1.7h-1.7zM56.2 336.2h1.7v1.7h-1.7zM29.4 354.6h1.7v1.7h-1.7zM68.3 332.7h1.7v1.7h-1.7zM54.6 330.3h1.7v1.7h-1.7zM31.4 375.8h1.7v1.7h-1.7zM78.2 336.5h1.7v1.7h-1.7zM47.7 335.4h1.7v1.7h-1.7zM30.9 353.1h1.7v1.7h-1.7zM34.7 350.5h1.7v1.7h-1.7zM34 337.7h1.7v1.7h-1.7zM65.5 334.8h1.7v1.7h-1.7zM42.8 348.4h1.7v1.7h-1.7zM70.1 334.4h1.7v1.7h-1.7zM83.7 339.6h1.7v1.7h-1.7zM22.2 359.4h1.7v1.7h-1.7zM84.7 339.4h1.7v1.7h-1.7zM30.8 366.8h1.7v1.7h-1.7zM53.8 341.3h1.7v1.7h-1.7zM33.9 345h1.7v1.7h-1.7zM28.7 378.4h1.7v1.7h-1.7zM31.3 371.5h1.7v1.7h-1.7zM41.4 337.2h1.7v1.7h-1.7zM22.4 361.1h1.7v1.7h-1.7zM68.8 327.3h1.7v1.7h-1.7zM25.9 366.1h1.7v1.7h-1.7zM76.7 329.4h1.7v1.7h-1.7zM35.8 377h1.7v1.7h-1.7zM32.2 340.3h1.7v1.7h-1.7zM31.9 363.3h1.7v1.7h-1.7zM21 353.5h1.7v1.7h-1.7zM70.7 333.9h1.7v1.7h-1.7zM36.5 341.2h1.7v1.7h-1.7zM55.6 339.2h1.7v1.7h-1.7zM38.1 344.7h1.7v1.7h-1.7zM31.3 373.6h1.7v1.7h-1.7zM45.1 339.2h1.7v1.7h-1.7zM65.2 332.7h1.7v1.7h-1.7zM33.4 353.6h1.7v1.7h-1.7zM63.9 332.8h1.7v1.7h-1.7zM30.4 346h1.7v1.7h-1.7zM31.9 351.7h1.7v1.7h-1.7zM23.1 371.4h1.7v1.7h-1.7zM34.4 355.2h1.7v1.7h-1.7zM47 344.5h1.7v1.7h-1.7zM43.6 343.9h1.7v1.7h-1.7zM33.8 378.5h1.7v1.7h-1.7zM77 341.1h1.7v1.7h-1.7zM81.1 327.9h1.7v1.7h-1.7zM44.1 336.2h1.7v1.7h-1.7zM72.9 337.7h1.7v1.7h-1.7zM80.1 335.2h1.7v1.7h-1.7zM39.8 371.8h1.7v1.7h-1.7zM57.6 332.8h1.7v1.7h-1.7zM32.4 349.6h1.7v1.7h-1.7zM37.1 348.1h1.7v1.7h-1.7zM36.3 374.1h1.7v1.7h-1.7zM39.7 371.2h1.7v1.7h-1.7zM81.6 338.3h1.7v1.7h-1.7zM28.2 363.2h1.7v1.7h-1.7zM39.3 342.9h1.7v1.7h-1.7zM63.4 328.5h1.7v1.7h-1.7zM32.3 347.7h1.7v1.7h-1.7zM83.5 340.9h1.7v1.7h-1.7zM19.3 362.7h1.7v1.7h-1.7zM29.9 339.2h1.7v1.7h-1.7zM38.6 329.5h1.7v1.7h-1.7zM29.3 331.3h1.7v1.7h-1.7zM47.6 335.8h1.7v1.7h-1.7zM48.8 336.7h1.7v1.7h-1.7zM29.7 368.9h1.7v1.7h-1.7zM34.2 334.7h1.7v1.7h-1.7zM30.9 369.1h1.7v1.7h-1.7zM54.5 336.9h1.7v1.7h-1.7zM36.2 350.9h1.7v1.7h-1.7zM61.2 337.2h1.7v1.7h-1.7zM83.1 331h1.7v1.7h-1.7zM74.3 338h1.7v1.7h-1.7zM31.5 379.5h1.7v1.7h-1.7zM28.1 371.1h1.7v1.7h-1.7zM33.3 368.2h1.7v1.7h-1.7zM48.8 330.1h1.7v1.7h-1.7zM26.8 353.9h1.7v1.7h-1.7zM45.1 336h1.7v1.7h-1.7zM83.2 329.4h1.7v1.7h-1.7zM32.9 352.6h1.7v1.7h-1.7zM33.4 359.1h1.7v1.7h-1.7zM33.9 375.2h1.7v1.7h-1.7zM28.9 360.9h1.7v1.7h-1.7zM36.2 339.9h1.7v1.7h-1.7zM32.3 367.2h1.7v1.7h-1.7zM74.7 346.8h1.7v1.7h-1.7zM25.5 357.8h1.7v1.7h-1.7zM34.7 339.9h1.7v1.7h-1.7zM54.2 329.4h1.7v1.7h-1.7zM60.6 335.5h1.7v1.7h-1.7zM46.8 331.2h1.7v1.7h-1.7z"/>
<path fill="#333" d="M132.6 339.1h1.6v1.6h-1.6zM133.8 320.4h1.6v1.6h-1.6zM113 364.2h1.6v1.6h-1.6zM167.2 335.6h1.6v1.6h-1.6z"/>
<path fill="#888" d="M88.9 311.4h1.6v1.6h-1.6z"/>
<path fill="#f0e050" d="M161.4 377.1h1.6v1.6h-1.6zM109.5 414.3h1.6v1.6h-1.6z"/>
<path fill="#c8c040" d="M21.3 353.7h1.7v1.7h-1.7zM25.1 358h1.7v1.7h-1.7zM39.4 389.2h1.7v1.7h-1.7zM35.3 365.5h1.7v1.7h-1.7zM50.7 388.7h1.7v1.7h-1.7zM35.8 400.4h1.7v1.7h-1.7zM17.2 380.3h1.7v1.7h-1.7zM48.7 394h1.7v1.7h-1.7zM31.8 372.1h1.7v1.7h-1.7zM34.5 389.5h1.7v1.7h-1.7zM23.6 386.1h1.7v1.7h-1.7zM49.4 400.8h1.7v1.7h-1.7z"/>
<path fill="#8cb8e8" d="M75.7 327.5h1.6v1.6h-1.6zM79.7 319.9h1.6v1.6h-1.6zM70.9 326.1h1.6v1.6h-1.6zM28.6 338.9h1.6v1.6h-1.6zM43.2 319.6h1.6v1.6h-1.6zM25.5 329.3h1.6v1.6h-1.6zM31 322.9h1.6v1.6h-1.6zM20.1 340.9h1.6v1.6h-1.6z"/>
<path fill="#d0d0d0" d="M60 330.5h1.2v1.2h-1.2zM29.7 366.8h1.2v1.2h-1.2zM80.3 344.5h1.2v1.2h-1.2zM36.3 365.3h1.2v1.2h-1.2zM36.9 344.5h1.2v1.2h-1.2zM70.4 343h1.2v1.2h-1.2zM27.8 350.6h1.2v1.2h-1.2zM29.4 353.6h1.2v1.2h-1.2zM62.8 328.1h1.2v1.2h-1.2zM37.9 379.9h1.2v1.2h-1.2zM32 334.9h1.2v1.2h-1.2zM38.3 357.1h1.2v1.2h-1.2zM33.7 374.6h1.2v1.2h-1.2zM75.1 329.2h1.2v1.2h-1.2zM83.4 335h1.2v1.2h-1.2zM74.7 339.9h1.2v1.2h-1.2zM49.6 322.4h1.2v1.2h-1.2zM25.1 376.4h1.2v1.2h-1.2zM35.8 348h1.2v1.2h-1.2zM54.8 337.2h1.2v1.2h-1.2zM29.2 359.1h1.2v1.2h-1.2zM31.6 367.1h1.2v1.2h-1.2zM69.7 337.1h1.2v1.2h-1.2zM51.6 334h1.2v1.2h-1.2zM38.7 328.9h1.2v1.2h-1.2zM73.1 342.8h1.2v1.2h-1.2zM37.3 344.3h1.2v1.2h-1.2zM32.3 369.3h1.2v1.2h-1.2zM77.5 345.2h1.2v1.2h-1.2zM23.2 349.8h1.2v1.2h-1.2zM34.8 336.2h1.2v1.2h-1.2zM26.2 377h1.2v1.2h-1.2zM36 379.5h1.2v1.2h-1.2z"/>
<path fill="#f0a030" d="M185 317.2h1.8v1.8h-1.8zM145.7 335.1h1.8v1.8h-1.8zM166.4 323.2h1.8v1.8h-1.8zM156.3 340.3h1.8v1.8h-1.8zM185.5 314.6h1.8v1.8h-1.8zM149.4 342.2h1.8v1.8h-1.8zM164.6 320.6h1.8v1.8h-1.8zM191.9 314.1h1.8v1.8h-1.8z"/>
<path fill="#3a5ab0" d="M158.4 359.8h1.6v1.6h-1.6z"/>
<path fill="#5a8ad0" d="M141.3 374.9h1.6v1.6h-1.6zM96.3 383.4h1.6v1.6h-1.6zM100.5 356.8h1.6v1.6h-1.6z"/>
<path fill="#555" d="M145.7 346.4h1.6v1.6h-1.6zM189 347.7h1.6v1.6h-1.6z"/>
<path fill="#777" d="M150.6 338.5h1.6v1.6h-1.6zM130.5 356.7h1.6v1.6h-1.6zM171.8 362.6h1.6v1.6h-1.6zM124.8 320.5h1.6v1.6h-1.6z"/>
<path fill="#2a5a2a" d="M138.7 323.7h1.6v1.6h-1.6z"/>
<path fill="#999" d="M111 344.7h1.6v1.6h-1.6zM180.6 349.5h1.6v1.6h-1.6z"/>
<path fill="#a8c8e8" d="M110.7 301.8h1.6v1.6h-1.6z"/>
<path fill="#a6c8ea" d="M59.7 331.5h1.7v1.7h-1.7zM64.4 330.4h1.7v1.7h-1.7zM37.4 360h1.7v1.7h-1.7zM64.2 327.5h1.7v1.7h-1.7zM80.4 325.4h1.7v1.7h-1.7zM76.1 331.5h1.7v1.7h-1.7zM71.3 327.4h1.7v1.7h-1.7zM34.6 367.2h1.7v1.7h-1.7zM75.2 339.9h1.7v1.7h-1.7zM38.4 349.5h1.7v1.7h-1.7zM80.6 336.7h1.7v1.7h-1.7zM44.5 343h1.7v1.7h-1.7zM25 350.5h1.7v1.7h-1.7zM82.5 336.5h1.7v1.7h-1.7zM30.3 366.2h1.7v1.7h-1.7zM34.6 357.2h1.7v1.7h-1.7zM26.8 378.2h1.7v1.7h-1.7zM30.5 375.6h1.7v1.7h-1.7zM27.7 348.3h1.7v1.7h-1.7zM38.6 354.4h1.7v1.7h-1.7zM68.8 325.2h1.7v1.7h-1.7zM69.4 337h1.7v1.7h-1.7zM32 359.2h1.7v1.7h-1.7zM81.4 333.9h1.7v1.7h-1.7zM70.5 327.6h1.7v1.7h-1.7zM32.5 362.4h1.7v1.7h-1.7zM59.3 330.3h1.7v1.7h-1.7zM34.6 354.6h1.7v1.7h-1.7zM82.4 330.2h1.7v1.7h-1.7zM42.3 348.9h1.7v1.7h-1.7zM44.3 336.1h1.7v1.7h-1.7zM78.3 338.8h1.7v1.7h-1.7zM58.1 331.3h1.7v1.7h-1.7zM34.1 370.4h1.7v1.7h-1.7zM38.1 342.9h1.7v1.7h-1.7zM77.4 336.1h1.7v1.7h-1.7zM33.6 362.2h1.7v1.7h-1.7zM28.1 363.7h1.7v1.7h-1.7zM40.9 345.2h1.7v1.7h-1.7zM67.2 319.7h1.7v1.7h-1.7zM85.8 333.8h1.7v1.7h-1.7zM33.2 341.8h1.7v1.7h-1.7zM48 334.9h1.7v1.7h-1.7zM25.6 365.6h1.7v1.7h-1.7zM69.7 331.5h1.7v1.7h-1.7zM29.1 350.9h1.7v1.7h-1.7zM74.7 332.3h1.7v1.7h-1.7zM27.8 371.7h1.7v1.7h-1.7zM36.5 365.2h1.7v1.7h-1.7zM29.8 347.4h1.7v1.7h-1.7zM31.6 363.3h1.7v1.7h-1.7zM38.5 358h1.7v1.7h-1.7zM44.7 329.9h1.7v1.7h-1.7zM58.2 326h1.7v1.7h-1.7zM61.5 331.9h1.7v1.7h-1.7zM29.6 337.7h1.7v1.7h-1.7zM78.6 336.9h1.7v1.7h-1.7zM54.1 329.5h1.7v1.7h-1.7zM33.1 366.8h1.7v1.7h-1.7zM79 328.8h1.7v1.7h-1.7zM68.5 325.2h1.7v1.7h-1.7zM34.5 343.8h1.7v1.7h-1.7zM29.3 359h1.7v1.7h-1.7zM25.5 352.7h1.7v1.7h-1.7zM82.6 322.9h1.7v1.7h-1.7zM58.7 332.8h1.7v1.7h-1.7zM67.7 331.3h1.7v1.7h-1.7zM42.9 349.6h1.7v1.7h-1.7zM37.7 375.5h1.7v1.7h-1.7zM28.3 373.5h1.7v1.7h-1.7zM38.4 372.2h1.7v1.7h-1.7zM34.7 342.9h1.7v1.7h-1.7zM57.8 322.9h1.7v1.7h-1.7zM26.3 354.2h1.7v1.7h-1.7zM40.8 328.5h1.7v1.7h-1.7zM71.7 338.4h1.7v1.7h-1.7zM34.5 352.1h1.7v1.7h-1.7zM25.2 356.3h1.7v1.7h-1.7zM35.8 371.5h1.7v1.7h-1.7zM66.1 324.1h1.7v1.7h-1.7zM33.6 359.1h1.7v1.7h-1.7zM53.3 338.6h1.7v1.7h-1.7zM32.7 378.4h1.7v1.7h-1.7zM41.7 372.8h1.7v1.7h-1.7zM64.7 334.1h1.7v1.7h-1.7zM73.3 334.3h1.7v1.7h-1.7zM29 354h1.7v1.7h-1.7zM52.4 336.4h1.7v1.7h-1.7zM35.4 376.7h1.7v1.7h-1.7zM33.3 369.7h1.7v1.7h-1.7zM83.2 329.7h1.7v1.7h-1.7zM38.5 365.7h1.7v1.7h-1.7zM21.1 379.1h1.7v1.7h-1.7zM20.2 363.3h1.7v1.7h-1.7zM26.9 370.6h1.7v1.7h-1.7zM29 365.2h1.7v1.7h-1.7zM61.2 335.2h1.7v1.7h-1.7zM56.6 331h1.7v1.7h-1.7zM25 367.4h1.7v1.7h-1.7zM25.6 370.2h1.7v1.7h-1.7zM34.6 347h1.7v1.7h-1.7zM58.9 334.1h1.7v1.7h-1.7zM54.8 340.9h1.7v1.7h-1.7zM66.8 330.2h1.7v1.7h-1.7zM31.8 367.6h1.7v1.7h-1.7zM31.7 355.1h1.7v1.7h-1.7zM19.9 363.4h1.7v1.7h-1.7zM49.8 335.3h1.7v1.7h-1.7zM57.2 340.3h1.7v1.7h-1.7zM25.5 378.1h1.7v1.7h-1.7zM29 366.6h1.7v1.7h-1.7zM28.6 347.7h1.7v1.7h-1.7zM32.3 352.7h1.7v1.7h-1.7zM60.6 330.8h1.7v1.7h-1.7zM76.4 340.7h1.7v1.7h-1.7zM34.2 377.3h1.7v1.7h-1.7zM35.1 353.6h1.7v1.7h-1.7zM60.1 327.9h1.7v1.7h-1.7zM30 355.9h1.7v1.7h-1.7zM71.2 340.3h1.7v1.7h-1.7zM65.3 330.5h1.7v1.7h-1.7zM74 333h1.7v1.7h-1.7zM30.7 352.6h1.7v1.7h-1.7zM65.8 335.9h1.7v1.7h-1.7zM43.9 335.3h1.7v1.7h-1.7zM36.6 337.7h1.7v1.7h-1.7zM36.2 364h1.7v1.7h-1.7zM56.3 331h1.7v1.7h-1.7zM36.8 349h1.7v1.7h-1.7zM31 374.4h1.7v1.7h-1.7zM80.9 341.6h1.7v1.7h-1.7zM35.7 375.6h1.7v1.7h-1.7zM78 338h1.7v1.7h-1.7zM28.6 337.9h1.7v1.7h-1.7zM24.8 338.2h1.7v1.7h-1.7zM18.7 363.6h1.7v1.7h-1.7zM65.7 339.8h1.7v1.7h-1.7zM30.8 378.5h1.7v1.7h-1.7zM41.5 328.1h1.7v1.7h-1.7zM62 326.4h1.7v1.7h-1.7zM82.7 335h1.7v1.7h-1.7zM36.2 346.6h1.7v1.7h-1.7zM32.3 328h1.7v1.7h-1.7zM82.6 340h1.7v1.7h-1.7zM65.7 328.2h1.7v1.7h-1.7zM39.8 344.4h1.7v1.7h-1.7zM36.8 355.4h1.7v1.7h-1.7zM76.6 335.3h1.7v1.7h-1.7zM39.2 343.4h1.7v1.7h-1.7zM31.9 338h1.7v1.7h-1.7zM28.7 373.1h1.7v1.7h-1.7zM75.9 329.1h1.7v1.7h-1.7zM48.8 341.6h1.7v1.7h-1.7z"/>
<path fill="#f0a030" d="M144 344.3h1.8v1.8h-1.8zM131.7 336.8h1.8v1.8h-1.8zM143.6 339.9h1.8v1.8h-1.8zM177.6 323.2h1.8v1.8h-1.8zM169 315.4h1.8v1.8h-1.8zM190 322h1.8v1.8h-1.8zM172.3 326.5h1.8v1.8h-1.8zM150.4 351.9h1.8v1.8h-1.8zM147 336.3h1.8v1.8h-1.8zM166.8 321h1.8v1.8h-1.8zM191.4 312.2h1.8v1.8h-1.8zM172.1 328.2h1.8v1.8h-1.8zM133.2 329.5h1.8v1.8h-1.8zM135.5 353.6h1.8v1.8h-1.8zM174.7 319.8h1.8v1.8h-1.8z"/>
<path fill="#d0d0d0" d="M38.2 350.8h1.2v1.2h-1.2zM28.9 356.2h1.2v1.2h-1.2zM72 332.9h1.2v1.2h-1.2zM32.2 349.6h1.2v1.2h-1.2zM48.2 329.4h1.2v1.2h-1.2zM80 342.2h1.2v1.2h-1.2zM37.3 360.6h1.2v1.2h-1.2zM68.1 333.2h1.2v1.2h-1.2zM32.5 345.7h1.2v1.2h-1.2zM54.6 325h1.2v1.2h-1.2zM85.3 335.9h1.2v1.2h-1.2zM29.9 359.5h1.2v1.2h-1.2zM37.1 350.7h1.2v1.2h-1.2zM64.8 336.4h1.2v1.2h-1.2zM83.1 339.7h1.2v1.2h-1.2zM40.5 370.2h1.2v1.2h-1.2zM56.5 339.5h1.2v1.2h-1.2zM30.7 357.2h1.2v1.2h-1.2zM51.5 335.3h1.2v1.2h-1.2zM79.1 343.1h1.2v1.2h-1.2zM31.8 385.7h1.2v1.2h-1.2zM88.6 336.9h1.2v1.2h-1.2zM62.8 339.2h1.2v1.2h-1.2zM35.6 353.6h1.2v1.2h-1.2zM60.2 336.6h1.2v1.2h-1.2zM85.6 331.3h1.2v1.2h-1.2zM50 337.8h1.2v1.2h-1.2zM38.5 359h1.2v1.2h-1.2z"/>
<path fill="#c8c040" d="M33 398.8h1.7v1.7h-1.7zM40.2 378.4h1.7v1.7h-1.7zM27.2 397h1.7v1.7h-1.7zM31 379.1h1.7v1.7h-1.7zM30.2 373.7h1.7v1.7h-1.7zM31 393.7h1.7v1.7h-1.7zM37.4 372.7h1.7v1.7h-1.7zM42.1 398.9h1.7v1.7h-1.7zM45 384.9h1.7v1.7h-1.7zM29.3 364.3h1.7v1.7h-1.7zM12.8 381.4h1.7v1.7h-1.7zM20.2 365.5h1.7v1.7h-1.7zM27.3 396.4h1.7v1.7h-1.7zM11.5 367.6h1.7v1.7h-1.7zM27.8 358.7h1.7v1.7h-1.7zM25.7 381.9h1.7v1.7h-1.7zM35.6 385.4h1.7v1.7h-1.7zM21.6 368.1h1.7v1.7h-1.7z"/>
<path fill="#40b048" d="M105 320h1.6v1.6h-1.6z"/>
<path fill="#333" d="M146.1 323.8h1.6v1.6h-1.6zM124.5 334.6h1.6v1.6h-1.6zM115.1 323.3h1.6v1.6h-1.6zM123.7 356.7h1.6v1.6h-1.6z"/>
<path fill="#555" d="M13.5 397.9h1.6v1.6h-1.6zM13.2 383.2h1.6v1.6h-1.6zM188.8 334.2h1.6v1.6h-1.6zM12.5 383.2h1.6v1.6h-1.6z"/>
<path fill="#999" d="M161 321.7h1.6v1.6h-1.6zM136.5 364.5h1.6v1.6h-1.6zM157.6 359.1h1.6v1.6h-1.6zM169.5 324.4h1.6v1.6h-1.6zM115.4 316.3h1.6v1.6h-1.6z"/>
<path fill="#8cb8e8" d="M20.1 344.5h1.6v1.6h-1.6zM63.8 324.9h1.6v1.6h-1.6zM82.2 326.1h1.6v1.6h-1.6zM25.3 347h1.6v1.6h-1.6zM51.2 328.2h1.6v1.6h-1.6zM25.8 328.1h1.6v1.6h-1.6z"/>
<path fill="#777" d="M128 348.4h1.6v1.6h-1.6zM172.9 352.2h1.6v1.6h-1.6zM171.2 316.7h1.6v1.6h-1.6zM135.8 354.9h1.6v1.6h-1.6z"/>
<path fill="#222" d="M85.7 303.1h1.6v1.6h-1.6z"/>
<path fill="#3a5ab0" d="M175.3 369.9h1.6v1.6h-1.6zM187.6 358.8h1.6v1.6h-1.6zM110.2 407.4h1.6v1.6h-1.6zM97.4 363.9h1.6v1.6h-1.6z"/>
<path fill="#5a8ad0" d="M198.5 346h1.6v1.6h-1.6z"/>
<path fill="#a8c8e8" d="M40.8 323.6h1.6v1.6h-1.6zM79.7 303.3h1.6v1.6h-1.6zM97.2 315.9h1.6v1.6h-1.6z"/>
<path fill="#2a5a2a" d="M139.4 362.6h1.6v1.6h-1.6zM145.9 360.8h1.6v1.6h-1.6z"/>
<path fill="#a09070" d="M110.4 391.6h1.6v1.6h-1.6z"/>
<path fill="#a6c8ea" d="M74.7 329.1h1.7v1.7h-1.7zM34.4 366.4h1.7v1.7h-1.7zM64.4 332.5h1.7v1.7h-1.7zM35.7 368.1h1.7v1.7h-1.7zM80.9 333h1.7v1.7h-1.7zM23.7 367.2h1.7v1.7h-1.7zM75.4 331.2h1.7v1.7h-1.7zM70.3 341h1.7v1.7h-1.7zM45.7 343.5h1.7v1.7h-1.7zM79.4 337.9h1.7v1.7h-1.7zM63.8 336.9h1.7v1.7h-1.7zM57.1 326.7h1.7v1.7h-1.7zM32.1 371.9h1.7v1.7h-1.7zM33.4 374.8h1.7v1.7h-1.7zM78.1 324.8h1.7v1.7h-1.7zM47 333.5h1.7v1.7h-1.7zM61.7 337.5h1.7v1.7h-1.7zM64.8 333.5h1.7v1.7h-1.7zM39.1 350.3h1.7v1.7h-1.7zM80.5 338.3h1.7v1.7h-1.7zM68.9 328.7h1.7v1.7h-1.7zM27.2 366.3h1.7v1.7h-1.7zM57.9 336.5h1.7v1.7h-1.7zM65.3 340.6h1.7v1.7h-1.7zM68.8 338.3h1.7v1.7h-1.7zM37.6 338.6h1.7v1.7h-1.7zM35.1 373.5h1.7v1.7h-1.7zM49.9 335.5h1.7v1.7h-1.7zM35.2 377.8h1.7v1.7h-1.7zM81.1 336.2h1.7v1.7h-1.7zM31.2 374.2h1.7v1.7h-1.7zM38.5 334.3h1.7v1.7h-1.7zM81 327.9h1.7v1.7h-1.7zM71 329.5h1.7v1.7h-1.7zM34.1 374.6h1.7v1.7h-1.7zM33.3 342.1h1.7v1.7h-1.7zM81.5 337.5h1.7v1.7h-1.7zM74.5 333.3h1.7v1.7h-1.7zM62.1 333h1.7v1.7h-1.7zM37.7 346h1.7v1.7h-1.7zM55.6 329.9h1.7v1.7h-1.7zM41.1 345.1h1.7v1.7h-1.7zM21.9 357h1.7v1.7h-1.7zM60.3 329.1h1.7v1.7h-1.7zM35.6 372.6h1.7v1.7h-1.7zM42.5 336.4h1.7v1.7h-1.7zM37.9 363.1h1.7v1.7h-1.7zM66.6 332.8h1.7v1.7h-1.7zM47.2 335.6h1.7v1.7h-1.7zM25.7 338.7h1.7v1.7h-1.7zM70.7 346.5h1.7v1.7h-1.7zM67.1 329.9h1.7v1.7h-1.7zM60.6 334.8h1.7v1.7h-1.7zM81.4 320.7h1.7v1.7h-1.7zM52.7 331.4h1.7v1.7h-1.7zM80.1 336.4h1.7v1.7h-1.7zM76.1 336.1h1.7v1.7h-1.7zM65.1 330.5h1.7v1.7h-1.7zM52.1 330.2h1.7v1.7h-1.7zM33.2 348.7h1.7v1.7h-1.7zM28.7 374.8h1.7v1.7h-1.7zM75.4 342.3h1.7v1.7h-1.7zM73.6 330.7h1.7v1.7h-1.7zM58.1 331.5h1.7v1.7h-1.7zM45.1 329.6h1.7v1.7h-1.7zM43 349.5h1.7v1.7h-1.7zM32.5 367.8h1.7v1.7h-1.7zM79.5 336h1.7v1.7h-1.7zM31.7 363.1h1.7v1.7h-1.7zM33 372.9h1.7v1.7h-1.7zM70 343.7h1.7v1.7h-1.7zM42.1 339.8h1.7v1.7h-1.7zM78.1 345.2h1.7v1.7h-1.7zM59 327.6h1.7v1.7h-1.7zM67.6 324.8h1.7v1.7h-1.7zM55.8 334.1h1.7v1.7h-1.7zM34.4 352.1h1.7v1.7h-1.7zM36.2 349.6h1.7v1.7h-1.7zM52.2 325.1h1.7v1.7h-1.7zM36.8 349.8h1.7v1.7h-1.7zM30.6 365.6h1.7v1.7h-1.7zM43.1 335h1.7v1.7h-1.7zM63 329.3h1.7v1.7h-1.7zM40.4 349.5h1.7v1.7h-1.7zM32.5 350.4h1.7v1.7h-1.7zM51.1 335.6h1.7v1.7h-1.7zM32.9 362.8h1.7v1.7h-1.7zM49.8 336.9h1.7v1.7h-1.7zM88.9 337.7h1.7v1.7h-1.7zM61.2 327.6h1.7v1.7h-1.7zM58.9 328.5h1.7v1.7h-1.7zM47.4 327.6h1.7v1.7h-1.7zM68.7 329.9h1.7v1.7h-1.7zM29 359.2h1.7v1.7h-1.7zM47.2 333.8h1.7v1.7h-1.7zM39.4 372.5h1.7v1.7h-1.7zM32.3 371.9h1.7v1.7h-1.7zM90.8 329.3h1.7v1.7h-1.7zM34.9 370.2h1.7v1.7h-1.7zM29.6 353.9h1.7v1.7h-1.7zM33.4 343.2h1.7v1.7h-1.7zM42 341.6h1.7v1.7h-1.7zM74.7 332.2h1.7v1.7h-1.7zM46.5 326.1h1.7v1.7h-1.7zM30.1 380.1h1.7v1.7h-1.7zM60.3 325.9h1.7v1.7h-1.7zM59.5 339h1.7v1.7h-1.7zM56.1 324.3h1.7v1.7h-1.7zM73.2 334.4h1.7v1.7h-1.7zM81.7 339.2h1.7v1.7h-1.7zM32.8 349.6h1.7v1.7h-1.7zM31.2 354.1h1.7v1.7h-1.7zM80.1 332.7h1.7v1.7h-1.7zM38.3 343.7h1.7v1.7h-1.7zM73.1 330h1.7v1.7h-1.7zM44.2 339.7h1.7v1.7h-1.7zM41.8 336.1h1.7v1.7h-1.7zM42.9 346.3h1.7v1.7h-1.7zM44.1 336.3h1.7v1.7h-1.7zM86.3 336.1h1.7v1.7h-1.7zM54.3 327.8h1.7v1.7h-1.7zM22.4 373.5h1.7v1.7h-1.7zM90.2 331.5h1.7v1.7h-1.7zM69.8 333.5h1.7v1.7h-1.7zM26.2 353.3h1.7v1.7h-1.7zM73.5 335.2h1.7v1.7h-1.7zM77.3 329.4h1.7v1.7h-1.7zM33.3 352.8h1.7v1.7h-1.7zM17.7 346.1h1.7v1.7h-1.7zM39.1 332.7h1.7v1.7h-1.7zM23.8 364h1.7v1.7h-1.7zM64.2 329.1h1.7v1.7h-1.7zM21 366.8h1.7v1.7h-1.7zM20.9 351.6h1.7v1.7h-1.7zM85 335.9h1.7v1.7h-1.7zM66.5 338.3h1.7v1.7h-1.7zM58.3 328h1.7v1.7h-1.7zM51.9 332h1.7v1.7h-1.7zM32.3 377.7h1.7v1.7h-1.7zM29.6 358h1.7v1.7h-1.7zM30.5 373.1h1.7v1.7h-1.7zM25.7 355.5h1.7v1.7h-1.7zM31.2 332.2h1.7v1.7h-1.7z"/>
<path fill="#555" d="M8.7 381.5h1.6v1.6h-1.6zM106.7 353.9h1.6v1.6h-1.6z"/>
<path fill="#d0d0d0" d="M84.5 337.9h1.2v1.2h-1.2zM24.4 371.1h1.2v1.2h-1.2zM44.6 341.6h1.2v1.2h-1.2zM44.7 329.8h1.2v1.2h-1.2zM31.9 358.2h1.2v1.2h-1.2zM35.6 376.7h1.2v1.2h-1.2zM86.7 339.1h1.2v1.2h-1.2zM31.2 363.3h1.2v1.2h-1.2zM40.4 371.6h1.2v1.2h-1.2zM35.3 363.3h1.2v1.2h-1.2zM59.7 337h1.2v1.2h-1.2zM52.5 336.9h1.2v1.2h-1.2zM31.6 366.5h1.2v1.2h-1.2zM40.9 347.3h1.2v1.2h-1.2zM43.1 336.8h1.2v1.2h-1.2zM39.1 336.8h1.2v1.2h-1.2zM87.5 339.1h1.2v1.2h-1.2zM26.5 349.6h1.2v1.2h-1.2zM79.7 336.4h1.2v1.2h-1.2zM20.2 350.9h1.2v1.2h-1.2zM54.3 334.5h1.2v1.2h-1.2zM33.2 354.7h1.2v1.2h-1.2zM80.4 329.7h1.2v1.2h-1.2zM26.6 387.5h1.2v1.2h-1.2zM76.2 332.4h1.2v1.2h-1.2zM86.7 338.2h1.2v1.2h-1.2zM19.5 354.2h1.2v1.2h-1.2zM35 341.9h1.2v1.2h-1.2zM35.9 341.8h1.2v1.2h-1.2zM20.8 374.2h1.2v1.2h-1.2zM22.3 353.3h1.2v1.2h-1.2zM64.9 321.1h1.2v1.2h-1.2zM33.7 360.8h1.2v1.2h-1.2zM57.4 334.6h1.2v1.2h-1.2zM42.8 377.4h1.2v1.2h-1.2zM62.5 327.2h1.2v1.2h-1.2zM42.4 360.1h1.2v1.2h-1.2zM36.3 374.8h1.2v1.2h-1.2zM27.4 345.8h1.2v1.2h-1.2zM55.8 327.8h1.2v1.2h-1.2zM68.6 332.2h1.2v1.2h-1.2zM39.6 361.3h1.2v1.2h-1.2zM47.2 330.9h1.2v1.2h-1.2zM34.2 355.2h1.2v1.2h-1.2zM36.4 351.4h1.2v1.2h-1.2zM77 329.4h1.2v1.2h-1.2zM45.5 378.5h1.2v1.2h-1.2z"/>
<path fill="#f0a030" d="M135.3 342.6h1.8v1.8h-1.8zM118.3 347.5h1.8v1.8h-1.8zM149.8 341.3h1.8v1.8h-1.8zM171 323.1h1.8v1.8h-1.8zM175.2 321.5h1.8v1.8h-1.8zM150 343.8h1.8v1.8h-1.8zM191.2 314.4h1.8v1.8h-1.8zM185.5 318.8h1.8v1.8h-1.8zM146.8 330.9h1.8v1.8h-1.8z"/>
<path fill="#a8c8e8" d="M126.3 302.4h1.6v1.6h-1.6zM54.6 305.7h1.6v1.6h-1.6zM53.9 322.3h1.6v1.6h-1.6z"/>
<path fill="#c8c040" d="M12.7 368.9h1.7v1.7h-1.7zM33.4 385.8h1.7v1.7h-1.7zM33.5 391.5h1.7v1.7h-1.7zM44.3 401.8h1.7v1.7h-1.7zM45.7 396.6h1.7v1.7h-1.7zM30.2 365.7h1.7v1.7h-1.7zM24.3 353.9h1.7v1.7h-1.7zM20.4 376.1h1.7v1.7h-1.7zM42.2 402.5h1.7v1.7h-1.7zM27.7 365.7h1.7v1.7h-1.7zM37.5 403.4h1.7v1.7h-1.7zM30.8 384.1h1.7v1.7h-1.7z"/>
<path fill="#5a8ad0" d="M118.6 366.8h1.6v1.6h-1.6zM141.1 386.6h1.6v1.6h-1.6zM165.9 384.4h1.6v1.6h-1.6z"/>
<path fill="#f0e050" d="M170.4 358.3h1.6v1.6h-1.6zM155.8 364.4h1.6v1.6h-1.6z"/>
<path fill="#8cb8e8" d="M18.3 341.3h1.6v1.6h-1.6zM21.9 344.8h1.6v1.6h-1.6zM56.9 321.7h1.6v1.6h-1.6zM30.8 327.6h1.6v1.6h-1.6zM16.5 352.5h1.6v1.6h-1.6zM61.8 314.8h1.6v1.6h-1.6zM54.6 317.8h1.6v1.6h-1.6zM70.2 321h1.6v1.6h-1.6z"/>
<path fill="#a09070" d="M116.4 388.3h1.6v1.6h-1.6zM126.7 360h1.6v1.6h-1.6z"/>
<path fill="#777" d="M162.2 327.1h1.6v1.6h-1.6zM134.7 326.7h1.6v1.6h-1.6zM118.9 334.9h1.6v1.6h-1.6zM109.1 329.2h1.6v1.6h-1.6zM116.6 336.7h1.6v1.6h-1.6zM145.5 335.6h1.6v1.6h-1.6z"/>
<path fill="#3a5ab0" d="M159.5 416.4h1.6v1.6h-1.6zM173.6 360.7h1.6v1.6h-1.6z"/>
<path fill="#2a5a2a" d="M193.4 321.9h1.6v1.6h-1.6z"/>
<path fill="#70c8e0" d="M94.5 347.8h1.6v1.6h-1.6zM151.3 413.6h1.6v1.6h-1.6z"/>
<path fill="#999" d="M161.5 350.1h1.6v1.6h-1.6zM136.7 336.2h1.6v1.6h-1.6zM146.6 361.5h1.6v1.6h-1.6zM125.5 344.9h1.6v1.6h-1.6zM165.4 368.1h1.6v1.6h-1.6z"/>
<path fill="#40b048" d="M117.6 301.2h1.6v1.6h-1.6z"/>
<path fill="#888" d="M59.5 297.5h1.6v1.6h-1.6zM71.9 324.1h1.6v1.6h-1.6z"/>
<path fill="#a6c8ea" d="M31.1 369.8h1.7v1.7h-1.7zM71.7 327.1h1.7v1.7h-1.7zM76 343h1.7v1.7h-1.7zM50.5 339.4h1.7v1.7h-1.7zM56.2 334.9h1.7v1.7h-1.7zM39.7 333.6h1.7v1.7h-1.7zM57.4 331.1h1.7v1.7h-1.7zM67.6 344.6h1.7v1.7h-1.7zM53.2 331h1.7v1.7h-1.7zM38.7 356.7h1.7v1.7h-1.7zM32.8 356.5h1.7v1.7h-1.7zM51.3 336.8h1.7v1.7h-1.7zM30.3 361.7h1.7v1.7h-1.7zM28.1 355.1h1.7v1.7h-1.7zM48.9 341.6h1.7v1.7h-1.7zM31 337.5h1.7v1.7h-1.7zM63.1 334h1.7v1.7h-1.7zM39 359.5h1.7v1.7h-1.7zM64 324.9h1.7v1.7h-1.7zM57.9 328.2h1.7v1.7h-1.7zM43.2 349.2h1.7v1.7h-1.7zM31.1 353.7h1.7v1.7h-1.7zM76.1 326.8h1.7v1.7h-1.7zM35.3 352.2h1.7v1.7h-1.7zM42.5 334.8h1.7v1.7h-1.7zM67.6 328.6h1.7v1.7h-1.7zM61.1 331.8h1.7v1.7h-1.7zM47 330.2h1.7v1.7h-1.7zM69.1 329.9h1.7v1.7h-1.7zM40.6 373.5h1.7v1.7h-1.7zM30.4 373.5h1.7v1.7h-1.7zM47.8 337.5h1.7v1.7h-1.7zM22.2 368.5h1.7v1.7h-1.7zM70.3 332.6h1.7v1.7h-1.7zM70.5 330.9h1.7v1.7h-1.7zM48.8 338.2h1.7v1.7h-1.7zM39.7 340.2h1.7v1.7h-1.7zM83.3 337.7h1.7v1.7h-1.7zM27.8 349.9h1.7v1.7h-1.7zM57.4 322.1h1.7v1.7h-1.7zM25.7 355.9h1.7v1.7h-1.7zM76.5 333.3h1.7v1.7h-1.7zM36.3 341.6h1.7v1.7h-1.7zM58.4 337.8h1.7v1.7h-1.7zM77 341.7h1.7v1.7h-1.7zM75.8 341.3h1.7v1.7h-1.7zM71.8 337h1.7v1.7h-1.7zM72.6 343.7h1.7v1.7h-1.7zM27.9 349.3h1.7v1.7h-1.7zM39.8 350.9h1.7v1.7h-1.7zM36.9 345.6h1.7v1.7h-1.7zM83.7 339.9h1.7v1.7h-1.7zM71.8 339.7h1.7v1.7h-1.7zM69.6 337.6h1.7v1.7h-1.7zM24.2 358.6h1.7v1.7h-1.7zM37.3 357.5h1.7v1.7h-1.7zM84.7 337h1.7v1.7h-1.7zM62.6 333.7h1.7v1.7h-1.7zM79.1 338.4h1.7v1.7h-1.7zM39 337.2h1.7v1.7h-1.7zM36.3 371.8h1.7v1.7h-1.7zM79.4 337.6h1.7v1.7h-1.7zM49 338.3h1.7v1.7h-1.7zM29.9 351.5h1.7v1.7h-1.7zM27.3 345.9h1.7v1.7h-1.7zM31.7 361.8h1.7v1.7h-1.7zM30.8 361.5h1.7v1.7h-1.7zM80.7 338.8h1.7v1.7h-1.7zM40.2 334.3h1.7v1.7h-1.7zM32.7 347.2h1.7v1.7h-1.7zM39.9 340.9h1.7v1.7h-1.7zM39.1 324h1.7v1.7h-1.7zM25.2 359.5h1.7v1.7h-1.7zM77.7 330.3h1.7v1.7h-1.7zM29.3 366.7h1.7v1.7h-1.7zM32.6 349.2h1.7v1.7h-1.7zM18.8 372.1h1.7v1.7h-1.7zM27.7 372.3h1.7v1.7h-1.7zM33.3 364.4h1.7v1.7h-1.7zM34.8 338.7h1.7v1.7h-1.7zM58.2 334.9h1.7v1.7h-1.7zM27.9 371.8h1.7v1.7h-1.7zM57.2 322.5h1.7v1.7h-1.7zM31.7 354h1.7v1.7h-1.7zM29.1 355.4h1.7v1.7h-1.7zM47.4 343.1h1.7v1.7h-1.7zM31.6 374.3h1.7v1.7h-1.7zM47.6 338.9h1.7v1.7h-1.7zM36.9 370.8h1.7v1.7h-1.7zM38.6 365.1h1.7v1.7h-1.7zM74 336.1h1.7v1.7h-1.7zM34.7 346.3h1.7v1.7h-1.7zM57.5 322.9h1.7v1.7h-1.7zM84.9 331h1.7v1.7h-1.7zM64.6 336.5h1.7v1.7h-1.7zM31.7 347h1.7v1.7h-1.7zM64 341.6h1.7v1.7h-1.7zM69.1 331.8h1.7v1.7h-1.7zM28.9 377.3h1.7v1.7h-1.7zM33.7 371.3h1.7v1.7h-1.7zM27 372.2h1.7v1.7h-1.7zM74 329.9h1.7v1.7h-1.7zM60.2 328.8h1.7v1.7h-1.7zM38.5 349.1h1.7v1.7h-1.7zM26.2 367.8h1.7v1.7h-1.7zM25.4 368.1h1.7v1.7h-1.7zM64 333.3h1.7v1.7h-1.7zM61.6 335.9h1.7v1.7h-1.7zM49.9 326.7h1.7v1.7h-1.7zM83.4 341.7h1.7v1.7h-1.7zM34.5 372.4h1.7v1.7h-1.7zM87.2 326.5h1.7v1.7h-1.7zM75.4 328.9h1.7v1.7h-1.7zM55.9 332.5h1.7v1.7h-1.7zM79.9 332.8h1.7v1.7h-1.7zM63.5 337.3h1.7v1.7h-1.7zM36.1 335.6h1.7v1.7h-1.7zM37.5 364.1h1.7v1.7h-1.7zM37.2 338h1.7v1.7h-1.7zM73.7 336.8h1.7v1.7h-1.7zM34.6 365.5h1.7v1.7h-1.7zM29.6 362.1h1.7v1.7h-1.7zM34.9 344.1h1.7v1.7h-1.7zM41.7 343.4h1.7v1.7h-1.7zM47.9 336.1h1.7v1.7h-1.7zM35.8 347.6h1.7v1.7h-1.7zM89 332.9h1.7v1.7h-1.7zM80.6 336.9h1.7v1.7h-1.7zM43.9 368.9h1.7v1.7h-1.7zM46.3 331.1h1.7v1.7h-1.7zM38.7 340.2h1.7v1.7h-1.7zM30.5 341h1.7v1.7h-1.7zM37 341.7h1.7v1.7h-1.7zM82 341.4h1.7v1.7h-1.7zM45.8 329.8h1.7v1.7h-1.7zM66 342.3h1.7v1.7h-1.7zM53.8 335.5h1.7v1.7h-1.7zM60.1 329.4h1.7v1.7h-1.7zM37.2 365.8h1.7v1.7h-1.7zM31.7 354.1h1.7v1.7h-1.7zM26.4 355.7h1.7v1.7h-1.7zM26.1 358.4h1.7v1.7h-1.7zM63.7 331.9h1.7v1.7h-1.7zM37 343.7h1.7v1.7h-1.7zM70.8 338.1h1.7v1.7h-1.7zM70.9 333.4h1.7v1.7h-1.7zM32 351.2h1.7v1.7h-1.7zM69.3 339.2h1.7v1.7h-1.7zM34.5 364h1.7v1.7h-1.7zM26.9 361.3h1.7v1.7h-1.7zM32.6 357.5h1.7v1.7h-1.7zM34 338.2h1.7v1.7h-1.7z"/>
<path fill="#d0d0d0" d="M33.8 340.8h1.2v1.2h-1.2zM64.9 336.8h1.2v1.2h-1.2zM35.1 345h1.2v1.2h-1.2zM77.8 345h1.2v1.2h-1.2zM63 341.1h1.2v1.2h-1.2zM23.9 391.1h1.2v1.2h-1.2zM28.5 355h1.2v1.2h-1.2zM36.9 363.5h1.2v1.2h-1.2zM24.7 354.9h1.2v1.2h-1.2zM27.7 377.2h1.2v1.2h-1.2zM70.2 341.9h1.2v1.2h-1.2zM42.8 380h1.2v1.2h-1.2zM46.8 345h1.2v1.2h-1.2zM48.3 375.5h1.2v1.2h-1.2zM33.9 360.9h1.2v1.2h-1.2zM38.5 368h1.2v1.2h-1.2zM88.1 334.2h1.2v1.2h-1.2zM29.9 373.4h1.2v1.2h-1.2zM83.6 329.2h1.2v1.2h-1.2zM31.5 382.1h1.2v1.2h-1.2zM59.6 340h1.2v1.2h-1.2zM34.4 339.3h1.2v1.2h-1.2zM49.5 333.8h1.2v1.2h-1.2zM90 344.2h1.2v1.2h-1.2zM52.2 329.7h1.2v1.2h-1.2zM29.3 346.7h1.2v1.2h-1.2zM38.7 373.3h1.2v1.2h-1.2zM76.6 333.9h1.2v1.2h-1.2zM74.1 344.1h1.2v1.2h-1.2zM41.1 381.6h1.2v1.2h-1.2zM33.5 363.2h1.2v1.2h-1.2zM72.4 333.7h1.2v1.2h-1.2zM28.2 348.2h1.2v1.2h-1.2zM83.6 333.7h1.2v1.2h-1.2zM84.6 340.3h1.2v1.2h-1.2z"/>
<path fill="#999" d="M159.1 324.8h1.6v1.6h-1.6zM109.7 345h1.6v1.6h-1.6z"/>
<path fill="#c8c040" d="M36.4 387.3h1.7v1.7h-1.7zM34.1 378.6h1.7v1.7h-1.7zM47.8 408h1.7v1.7h-1.7zM18.1 358.9h1.7v1.7h-1.7zM37.1 392.2h1.7v1.7h-1.7zM40.9 387.1h1.7v1.7h-1.7zM32.8 376.4h1.7v1.7h-1.7zM19.6 385.9h1.7v1.7h-1.7zM27.9 399.2h1.7v1.7h-1.7zM48.9 401.3h1.7v1.7h-1.7zM13 358.4h1.7v1.7h-1.7z"/>
<path fill="#8cb8e8" d="M38.8 330.4h1.6v1.6h-1.6zM38.1 323.3h1.6v1.6h-1.6zM70 320.9h1.6v1.6h-1.6zM24.3 346.5h1.6v1.6h-1.6zM34.5 322.5h1.6v1.6h-1.6z"/>
<path fill="#3a5ab0" d="M192.4 369h1.6v1.6h-1.6zM168.6 400.4h1.6v1.6h-1.6zM116.3 390h1.6v1.6h-1.6zM133.8 360h1.6v1.6h-1.6z"/>
<path fill="#2a5a2a" d="M118.3 334.1h1.6v1.6h-1.6zM138.6 339.5h1.6v1.6h-1.6z"/>
<path fill="#222" d="M49.5 309.1h1.6v1.6h-1.6zM110.5 298h1.6v1.6h-1.6zM99.7 319.1h1.6v1.6h-1.6z"/>
<path fill="#555" d="M107.8 341.3h1.6v1.6h-1.6zM188.6 356.6h1.6v1.6h-1.6zM131.2 326h1.6v1.6h-1.6zM12.3 384.5h1.6v1.6h-1.6zM12.5 380.4h1.6v1.6h-1.6z"/>
<path fill="#f0a030" d="M148.4 334.5h1.8v1.8h-1.8zM135.2 343h1.8v1.8h-1.8zM141.7 335.8h1.8v1.8h-1.8zM147.1 335.2h1.8v1.8h-1.8zM165 335.5h1.8v1.8h-1.8zM176.6 320.5h1.8v1.8h-1.8zM181.6 313.3h1.8v1.8h-1.8zM162.2 320.4h1.8v1.8h-1.8z"/>
<path fill="#777" d="M167 330.2h1.6v1.6h-1.6zM135.9 324.7h1.6v1.6h-1.6z"/>
<path fill="#a8c8e8" d="M60.7 302.4h1.6v1.6h-1.6z"/>
<path fill="#a09070" d="M167.9 351.9h1.6v1.6h-1.6z"/>
<path fill="#f0e050" d="M166 377.8h1.6v1.6h-1.6z"/>
<path fill="#5a8ad0" d="M182.1 416.1h1.6v1.6h-1.6z"/>
<path fill="#6a1212" d="M95.6 383h1.9v1.9h-1.9zM120.8 390.2h1.9v1.9h-1.9zM109.2 377.1h1.9v1.9h-1.9zM108.3 380.5h1.9v1.9h-1.9zM100.5 377h1.9v1.9h-1.9z"/>
<path fill="#283890" d="M85.5 382.9h1.9v1.9h-1.9z"/>
<path fill="#74d2e4" d="M96.5 359h1.9v1.9h-1.9zM91.2 355h1.9v1.9h-1.9z"/>
<path fill="#22a0a0" d="M55.1 420.3h1.9v1.9h-1.9zM59 413.8h1.9v1.9h-1.9z"/>
<path fill="#5a90e0" d="M54.9 402.4h1.9v1.9h-1.9z"/>
<path fill="#3a50b0" d="M69.7 378.7h1.9v1.9h-1.9zM73.4 381h1.9v1.9h-1.9z"/>
<path fill="#80d0b4" d="M33.1 427.8h1.9v1.9h-1.9z"/>
<path fill="#8040b0" d="M72.6 397.7h1.9v1.9h-1.9z"/>
<path fill="#141414" d="M93.8 339.5h1.9v1.9h-1.9zM91.5 343.9h1.9v1.9h-1.9z"/>
<path fill="#6a1212" d="M85 376.9h1.9v1.9h-1.9zM111.1 377.8h1.9v1.9h-1.9zM124.9 373.7h1.9v1.9h-1.9zM103.5 390.2h1.9v1.9h-1.9zM108.2 377.8h1.9v1.9h-1.9zM125.1 381.9h1.9v1.9h-1.9zM107.3 379h1.9v1.9h-1.9zM114.6 394.5h1.9v1.9h-1.9zM110.4 379.4h1.9v1.9h-1.9zM92.6 385.8h1.9v1.9h-1.9zM107.2 376.6h1.9v1.9h-1.9zM103.1 375.8h1.9v1.9h-1.9zM102.7 379.7h1.9v1.9h-1.9zM117.4 389.3h1.9v1.9h-1.9zM78.8 384h1.9v1.9h-1.9zM119.6 371.9h1.9v1.9h-1.9zM113.5 370h1.9v1.9h-1.9zM115.2 380.3h1.9v1.9h-1.9zM108.8 378.9h1.9v1.9h-1.9zM93.1 379.4h1.9v1.9h-1.9zM88.4 384.4h1.9v1.9h-1.9zM107.6 375.9h1.9v1.9h-1.9zM101.2 384.2h1.9v1.9h-1.9zM100.9 376h1.9v1.9h-1.9zM121.9 384.8h1.9v1.9h-1.9zM106.5 381.3h1.9v1.9h-1.9zM102.9 381.2h1.9v1.9h-1.9zM122 384.5h1.9v1.9h-1.9zM94.9 385.6h1.9v1.9h-1.9zM141.6 381.7h1.9v1.9h-1.9z"/>
<path fill="#1a1a1a" d="M88.8 327.9h1.9v1.9h-1.9zM121.1 341.9h1.9v1.9h-1.9zM102.5 328.5h1.9v1.9h-1.9zM104.3 331.4h1.9v1.9h-1.9zM98.7 314.5h1.9v1.9h-1.9zM86.6 313.9h1.9v1.9h-1.9zM88.6 316.4h1.9v1.9h-1.9zM87.4 319h1.9v1.9h-1.9zM80.5 317.2h1.9v1.9h-1.9z"/>
<path fill="#8a5a1a" d="M86.6 419.9h1.9v1.9h-1.9zM95.1 419.2h1.9v1.9h-1.9zM86.5 419h1.9v1.9h-1.9zM101.5 420h1.9v1.9h-1.9zM84.7 415.4h1.9v1.9h-1.9zM90.2 411.3h1.9v1.9h-1.9zM83.7 426.8h1.9v1.9h-1.9zM97.6 428.1h1.9v1.9h-1.9zM98.4 413.6h1.9v1.9h-1.9zM91.4 425.8h1.9v1.9h-1.9zM115.6 420.7h1.9v1.9h-1.9zM91.9 413.5h1.9v1.9h-1.9zM104.1 409h1.9v1.9h-1.9zM97.1 412.1h1.9v1.9h-1.9zM105.5 423.4h1.9v1.9h-1.9zM99.6 427.9h1.9v1.9h-1.9zM109.4 414.3h1.9v1.9h-1.9zM90.2 417.9h1.9v1.9h-1.9z"/>
<path fill="#3a50b0" d="M77.4 374.6h1.9v1.9h-1.9zM68.7 382.3h1.9v1.9h-1.9zM68 373.5h1.9v1.9h-1.9zM74.3 376.8h1.9v1.9h-1.9zM76.7 382.7h1.9v1.9h-1.9zM87 384.7h1.9v1.9h-1.9zM51.4 387h1.9v1.9h-1.9zM82.5 381.9h1.9v1.9h-1.9zM79.1 383.3h1.9v1.9h-1.9zM77.5 375.1h1.9v1.9h-1.9zM54.6 390.8h1.9v1.9h-1.9zM72.6 372.8h1.9v1.9h-1.9zM87.5 384.4h1.9v1.9h-1.9zM62.1 379.9h1.9v1.9h-1.9zM58.7 373h1.9v1.9h-1.9zM66.5 375.1h1.9v1.9h-1.9zM80.9 378.8h1.9v1.9h-1.9zM69.8 373.6h1.9v1.9h-1.9zM90.8 381.8h1.9v1.9h-1.9zM72.7 371.6h1.9v1.9h-1.9zM67.7 382.1h1.9v1.9h-1.9zM79.4 382.8h1.9v1.9h-1.9zM69.5 377.3h1.9v1.9h-1.9zM78.7 379.6h1.9v1.9h-1.9zM88.5 378.1h1.9v1.9h-1.9zM88.1 390.2h1.9v1.9h-1.9zM57.4 378.6h1.9v1.9h-1.9zM82.6 378.1h1.9v1.9h-1.9zM78.8 380.2h1.9v1.9h-1.9zM75.3 387.3h1.9v1.9h-1.9zM71.5 375.1h1.9v1.9h-1.9zM60.7 385.2h1.9v1.9h-1.9zM73.2 381.3h1.9v1.9h-1.9zM63.4 383.6h1.9v1.9h-1.9zM77 383.9h1.9v1.9h-1.9zM64.2 378.5h1.9v1.9h-1.9z"/>
<path fill="#5a90e0" d="M47 404.1h1.9v1.9h-1.9zM66.2 399.2h1.9v1.9h-1.9zM52.7 400h1.9v1.9h-1.9zM69.5 404.5h1.9v1.9h-1.9zM66.3 403.9h1.9v1.9h-1.9zM62.2 400.9h1.9v1.9h-1.9zM62.1 402.8h1.9v1.9h-1.9zM70 406.4h1.9v1.9h-1.9zM60.3 408.7h1.9v1.9h-1.9zM51 404.3h1.9v1.9h-1.9zM62 401.2h1.9v1.9h-1.9zM51.6 402.4h1.9v1.9h-1.9z"/>
<path fill="#141414" d="M99.2 348.2h1.9v1.9h-1.9zM91.7 344.2h1.9v1.9h-1.9zM98.1 331.9h1.9v1.9h-1.9zM98.2 338.1h1.9v1.9h-1.9zM91.1 345.8h1.9v1.9h-1.9zM81.8 335.3h1.9v1.9h-1.9zM98.8 343.1h1.9v1.9h-1.9zM101 342.6h1.9v1.9h-1.9zM96.4 341.3h1.9v1.9h-1.9zM97.8 331.1h1.9v1.9h-1.9zM100.1 334.5h1.9v1.9h-1.9zM94.1 346.9h1.9v1.9h-1.9zM90.3 346.5h1.9v1.9h-1.9zM102.9 339.9h1.9v1.9h-1.9zM92.8 346.6h1.9v1.9h-1.9zM97.6 346.1h1.9v1.9h-1.9zM96.8 333.6h1.9v1.9h-1.9zM107 340.1h1.9v1.9h-1.9zM91.1 351.2h1.9v1.9h-1.9zM88.5 342.3h1.9v1.9h-1.9zM92.6 331.4h1.9v1.9h-1.9zM95.9 341.9h1.9v1.9h-1.9zM91.1 348.2h1.9v1.9h-1.9zM98.3 355.3h1.9v1.9h-1.9zM91.5 358.4h1.9v1.9h-1.9zM98.3 334.5h1.9v1.9h-1.9zM96.5 328.1h1.9v1.9h-1.9zM94.3 338h1.9v1.9h-1.9zM91.8 353.3h1.9v1.9h-1.9zM104.7 351.5h1.9v1.9h-1.9zM82.8 338.5h1.9v1.9h-1.9zM91.8 333.7h1.9v1.9h-1.9zM96.6 340.3h1.9v1.9h-1.9zM92.2 351.9h1.9v1.9h-1.9zM96.2 339.4h1.9v1.9h-1.9zM85.6 345.9h1.9v1.9h-1.9z"/>
<path fill="#80d0b4" d="M22.6 446.8h1.9v1.9h-1.9zM33.5 432.5h1.9v1.9h-1.9zM17.1 439.3h1.9v1.9h-1.9zM18.8 436.3h1.9v1.9h-1.9zM31.3 430.8h1.9v1.9h-1.9zM46.3 418h1.9v1.9h-1.9zM34 433.1h1.9v1.9h-1.9zM27.6 427.1h1.9v1.9h-1.9zM46.6 409h1.9v1.9h-1.9zM41.5 435.3h1.9v1.9h-1.9zM25.6 412.5h1.9v1.9h-1.9z"/>
<path fill="#c87cc4" d="M80.5 347.2h1.9v1.9h-1.9zM71.3 338.4h1.9v1.9h-1.9zM81.1 337.9h1.9v1.9h-1.9zM64.6 328.8h1.9v1.9h-1.9zM73.2 338h1.9v1.9h-1.9zM71.6 319.1h1.9v1.9h-1.9zM70.5 329.6h1.9v1.9h-1.9zM70.5 330.6h1.9v1.9h-1.9zM65.6 334.4h1.9v1.9h-1.9zM86.1 325.4h1.9v1.9h-1.9zM58.6 317.5h1.9v1.9h-1.9zM72.3 337.5h1.9v1.9h-1.9zM72.2 318.7h1.9v1.9h-1.9zM73.4 345.2h1.9v1.9h-1.9zM68.3 312h1.9v1.9h-1.9zM65.3 330.9h1.9v1.9h-1.9zM72.2 321.8h1.9v1.9h-1.9zM70.3 330.7h1.9v1.9h-1.9z"/>
<path fill="#74d2e4" d="M115.1 357.8h1.9v1.9h-1.9zM94 356.6h1.9v1.9h-1.9zM119.2 354.8h1.9v1.9h-1.9zM113.4 353.3h1.9v1.9h-1.9zM97.5 352.6h1.9v1.9h-1.9zM81.2 356.3h1.9v1.9h-1.9zM114.7 357.4h1.9v1.9h-1.9zM79.7 359.6h1.9v1.9h-1.9zM77.2 352.3h1.9v1.9h-1.9zM89.1 352.9h1.9v1.9h-1.9zM90.7 353.4h1.9v1.9h-1.9zM111.4 358.8h1.9v1.9h-1.9zM94.6 363h1.9v1.9h-1.9zM124.4 354.9h1.9v1.9h-1.9zM128.9 362.7h1.9v1.9h-1.9zM116.8 346.3h1.9v1.9h-1.9zM96.8 356.5h1.9v1.9h-1.9zM100.1 364.3h1.9v1.9h-1.9zM67 368.6h1.9v1.9h-1.9zM109.5 356.9h1.9v1.9h-1.9zM96 352.9h1.9v1.9h-1.9zM99.5 357.4h1.9v1.9h-1.9zM74.6 361.9h1.9v1.9h-1.9z"/>
<path fill="#1f5a2a" d="M64.3 375.2h1.9v1.9h-1.9zM47.9 372.7h1.9v1.9h-1.9zM48 374.1h1.9v1.9h-1.9zM49.2 380h1.9v1.9h-1.9z"/>
<path fill="#80d0b0" d="M193.1 298.5h1.9v1.9h-1.9zM199.4 299.9h1.9v1.9h-1.9zM194.2 303.6h1.9v1.9h-1.9zM212.5 309.8h1.9v1.9h-1.9zM208.1 309.9h1.9v1.9h-1.9z"/>
<path fill="#22a0a0" d="M50 410.3h1.9v1.9h-1.9zM43.7 413h1.9v1.9h-1.9zM54.8 411.4h1.9v1.9h-1.9zM52.2 416.8h1.9v1.9h-1.9zM68.8 413.9h1.9v1.9h-1.9zM63 419.3h1.9v1.9h-1.9zM47.3 416.4h1.9v1.9h-1.9zM53.9 410.8h1.9v1.9h-1.9zM63.2 406.6h1.9v1.9h-1.9zM67 424.1h1.9v1.9h-1.9zM77.3 412h1.9v1.9h-1.9zM66.2 411.4h1.9v1.9h-1.9zM49 416h1.9v1.9h-1.9zM60.9 410.8h1.9v1.9h-1.9zM36 407.5h1.9v1.9h-1.9zM47.5 410.5h1.9v1.9h-1.9zM48 406.4h1.9v1.9h-1.9zM51.4 415.6h1.9v1.9h-1.9zM55.3 406.7h1.9v1.9h-1.9z"/>
<path fill="#283890" d="M91.9 383.4h1.9v1.9h-1.9zM90.6 371.6h1.9v1.9h-1.9zM98.2 387.1h1.9v1.9h-1.9zM84.4 379.4h1.9v1.9h-1.9zM89.1 376.1h1.9v1.9h-1.9zM87.4 378h1.9v1.9h-1.9zM90.9 373.1h1.9v1.9h-1.9zM90.4 379.6h1.9v1.9h-1.9z"/>
<path fill="#a09070" d="M70.8 415.1h1.9v1.9h-1.9zM71.7 425.3h1.9v1.9h-1.9zM69.2 434h1.9v1.9h-1.9zM77.7 430.1h1.9v1.9h-1.9z"/>
<path fill="#8040b0" d="M76.6 399h1.9v1.9h-1.9zM62.4 395h1.9v1.9h-1.9zM78 395.7h1.9v1.9h-1.9zM58.9 402.3h1.9v1.9h-1.9zM53.6 397.2h1.9v1.9h-1.9zM68.9 397.3h1.9v1.9h-1.9zM67.4 399.7h1.9v1.9h-1.9zM87.9 395.1h1.9v1.9h-1.9zM76.1 391.3h1.9v1.9h-1.9zM66.8 396.3h1.9v1.9h-1.9zM86.5 396h1.9v1.9h-1.9zM77.7 391.7h1.9v1.9h-1.9zM60.2 398.1h1.9v1.9h-1.9zM82 403.3h1.9v1.9h-1.9zM65.4 397h1.9v1.9h-1.9zM76.4 402h1.9v1.9h-1.9z"/>
<path fill="#888" d="M126.1 337.8h1.9v1.9h-1.9z"/>
<path fill="#74d2e4" d="M91.5 358.4h1.9v1.9h-1.9zM93.7 367h1.9v1.9h-1.9zM77.5 348.8h1.9v1.9h-1.9zM94.8 354.4h1.9v1.9h-1.9zM109 360.5h1.9v1.9h-1.9zM95.6 357.1h1.9v1.9h-1.9zM117.7 347.5h1.9v1.9h-1.9zM87.3 362.7h1.9v1.9h-1.9zM131.4 360.1h1.9v1.9h-1.9zM80.2 364.5h1.9v1.9h-1.9zM89.3 358.3h1.9v1.9h-1.9zM96.5 358.8h1.9v1.9h-1.9zM125.7 366h1.9v1.9h-1.9zM87 360.8h1.9v1.9h-1.9zM98.3 364.7h1.9v1.9h-1.9zM78.3 356.6h1.9v1.9h-1.9zM134.1 354.4h1.9v1.9h-1.9zM92.1 358.5h1.9v1.9h-1.9zM79.8 357.4h1.9v1.9h-1.9zM123.7 361.4h1.9v1.9h-1.9zM110.3 359.3h1.9v1.9h-1.9z"/>
<path fill="#22a0a0" d="M56.3 403h1.9v1.9h-1.9zM56.6 419h1.9v1.9h-1.9zM64.3 408.2h1.9v1.9h-1.9zM48.9 418.3h1.9v1.9h-1.9zM67.2 411.9h1.9v1.9h-1.9zM46.4 418.3h1.9v1.9h-1.9zM62.3 411.6h1.9v1.9h-1.9zM76.3 415.7h1.9v1.9h-1.9zM43.3 409.8h1.9v1.9h-1.9zM57 411.7h1.9v1.9h-1.9zM77.7 411.7h1.9v1.9h-1.9zM64.8 412.5h1.9v1.9h-1.9zM58.2 408.8h1.9v1.9h-1.9zM62.8 412.7h1.9v1.9h-1.9zM54 415.2h1.9v1.9h-1.9zM54.7 404.5h1.9v1.9h-1.9zM59.8 406.8h1.9v1.9h-1.9zM42.4 417.9h1.9v1.9h-1.9zM49.7 417.8h1.9v1.9h-1.9zM50.5 416.2h1.9v1.9h-1.9zM54.2 421.9h1.9v1.9h-1.9zM52.2 405.8h1.9v1.9h-1.9zM60.5 418.4h1.9v1.9h-1.9zM64.2 416.2h1.9v1.9h-1.9z"/>
<path fill="#8040b0" d="M74 395.5h1.9v1.9h-1.9zM58.3 389.1h1.9v1.9h-1.9zM71.9 393.3h1.9v1.9h-1.9zM73.8 393.3h1.9v1.9h-1.9zM60.4 394.6h1.9v1.9h-1.9zM75.4 394.4h1.9v1.9h-1.9zM80.3 399.8h1.9v1.9h-1.9zM87.2 394.5h1.9v1.9h-1.9zM77.7 401.6h1.9v1.9h-1.9zM71.5 393h1.9v1.9h-1.9zM84.2 387.8h1.9v1.9h-1.9zM73.8 407.2h1.9v1.9h-1.9zM66.3 407.6h1.9v1.9h-1.9zM59.6 402.3h1.9v1.9h-1.9zM66.1 393.8h1.9v1.9h-1.9zM78.6 388.4h1.9v1.9h-1.9zM72.8 404.6h1.9v1.9h-1.9zM78.7 396h1.9v1.9h-1.9zM71 397.8h1.9v1.9h-1.9z"/>
<path fill="#c87cc4" d="M80.3 338.8h1.9v1.9h-1.9zM74.6 329.1h1.9v1.9h-1.9zM68.3 317.3h1.9v1.9h-1.9zM83.2 340.2h1.9v1.9h-1.9zM85.2 348.2h1.9v1.9h-1.9zM98 356.7h1.9v1.9h-1.9zM69.4 337.8h1.9v1.9h-1.9zM81.6 328.9h1.9v1.9h-1.9zM71.5 330h1.9v1.9h-1.9zM80.5 329.3h1.9v1.9h-1.9zM73.1 335.9h1.9v1.9h-1.9zM67.4 333.3h1.9v1.9h-1.9zM80.3 333.6h1.9v1.9h-1.9zM79.3 343.1h1.9v1.9h-1.9zM76.6 328.6h1.9v1.9h-1.9zM68.1 332.4h1.9v1.9h-1.9zM68 341.5h1.9v1.9h-1.9zM64.9 333.5h1.9v1.9h-1.9zM59.2 334.9h1.9v1.9h-1.9zM83.4 345.7h1.9v1.9h-1.9zM74.1 332.9h1.9v1.9h-1.9zM68.9 321.7h1.9v1.9h-1.9zM78.8 337.8h1.9v1.9h-1.9zM87 339.8h1.9v1.9h-1.9zM81.1 345.2h1.9v1.9h-1.9z"/>
<path fill="#141414" d="M99.7 331.4h1.9v1.9h-1.9zM106.3 353.2h1.9v1.9h-1.9zM99.8 352.3h1.9v1.9h-1.9zM84.6 364.7h1.9v1.9h-1.9zM92 347.9h1.9v1.9h-1.9zM94.5 345.4h1.9v1.9h-1.9zM92.3 348h1.9v1.9h-1.9zM91.4 343.6h1.9v1.9h-1.9zM92.7 322h1.9v1.9h-1.9zM92 343.8h1.9v1.9h-1.9zM90.6 352.4h1.9v1.9h-1.9zM94.4 331.2h1.9v1.9h-1.9zM83.4 334.8h1.9v1.9h-1.9zM95.8 353.1h1.9v1.9h-1.9zM94.2 345.9h1.9v1.9h-1.9zM94.8 341.3h1.9v1.9h-1.9zM101 343.3h1.9v1.9h-1.9zM105.1 342.2h1.9v1.9h-1.9zM96.6 323.8h1.9v1.9h-1.9zM90.4 352.9h1.9v1.9h-1.9zM90.3 337.3h1.9v1.9h-1.9zM87.9 339.5h1.9v1.9h-1.9zM93.7 336.8h1.9v1.9h-1.9zM91.6 343.5h1.9v1.9h-1.9zM93.2 328.9h1.9v1.9h-1.9zM98.4 336.2h1.9v1.9h-1.9zM101.1 342.7h1.9v1.9h-1.9zM94.4 331.9h1.9v1.9h-1.9zM90.4 350.3h1.9v1.9h-1.9zM98.5 339.1h1.9v1.9h-1.9zM100.8 330.4h1.9v1.9h-1.9zM83 332.4h1.9v1.9h-1.9zM100.8 344.4h1.9v1.9h-1.9zM93.6 362h1.9v1.9h-1.9zM103.8 352.7h1.9v1.9h-1.9zM95.5 342.5h1.9v1.9h-1.9zM95 334.1h1.9v1.9h-1.9zM101.6 351.8h1.9v1.9h-1.9z"/>
<path fill="#6a1212" d="M114.2 387.9h1.9v1.9h-1.9zM103.3 380.7h1.9v1.9h-1.9zM109.7 390.9h1.9v1.9h-1.9zM97.2 387.5h1.9v1.9h-1.9zM109.3 376.3h1.9v1.9h-1.9zM99.7 366.7h1.9v1.9h-1.9zM98.1 380.7h1.9v1.9h-1.9zM123 381.3h1.9v1.9h-1.9zM105.8 380.3h1.9v1.9h-1.9zM102.5 377.5h1.9v1.9h-1.9zM104.4 377.8h1.9v1.9h-1.9zM96.8 381.4h1.9v1.9h-1.9zM111.4 376.3h1.9v1.9h-1.9zM115.1 384.5h1.9v1.9h-1.9zM99.6 385.6h1.9v1.9h-1.9zM127.2 369.6h1.9v1.9h-1.9zM98.2 373.2h1.9v1.9h-1.9zM110 370h1.9v1.9h-1.9zM104.3 386.9h1.9v1.9h-1.9zM99.1 386.6h1.9v1.9h-1.9zM108.7 384h1.9v1.9h-1.9zM99 373.7h1.9v1.9h-1.9zM106.8 370.8h1.9v1.9h-1.9zM99.6 387.4h1.9v1.9h-1.9zM117.4 374.3h1.9v1.9h-1.9zM98.8 381.3h1.9v1.9h-1.9zM103.7 379.4h1.9v1.9h-1.9zM107.2 374.3h1.9v1.9h-1.9z"/>
<path fill="#3a50b0" d="M84.3 386.6h1.9v1.9h-1.9zM69.8 384.4h1.9v1.9h-1.9zM73.8 379.1h1.9v1.9h-1.9zM79.6 383.8h1.9v1.9h-1.9zM82.6 377h1.9v1.9h-1.9zM61.5 374.4h1.9v1.9h-1.9zM78.1 389.3h1.9v1.9h-1.9zM79.5 391.6h1.9v1.9h-1.9zM67.1 379.4h1.9v1.9h-1.9zM89.6 392.1h1.9v1.9h-1.9zM61.2 376.2h1.9v1.9h-1.9zM84.3 374.2h1.9v1.9h-1.9zM73 377.1h1.9v1.9h-1.9zM80 380.5h1.9v1.9h-1.9zM61.5 377.7h1.9v1.9h-1.9zM75.7 377.4h1.9v1.9h-1.9zM75.9 382.6h1.9v1.9h-1.9zM85.2 377.4h1.9v1.9h-1.9zM73.7 388.6h1.9v1.9h-1.9zM75.4 371h1.9v1.9h-1.9zM75.9 371.5h1.9v1.9h-1.9zM92.1 378.1h1.9v1.9h-1.9zM78.7 382h1.9v1.9h-1.9zM83.7 389h1.9v1.9h-1.9zM79.6 376h1.9v1.9h-1.9zM75.4 390h1.9v1.9h-1.9zM76.3 390h1.9v1.9h-1.9zM81.4 382.8h1.9v1.9h-1.9zM72.4 380.4h1.9v1.9h-1.9zM87.1 385.2h1.9v1.9h-1.9zM62.3 370.7h1.9v1.9h-1.9zM75.8 387.8h1.9v1.9h-1.9z"/>
<path fill="#a09070" d="M77.5 429.6h1.9v1.9h-1.9zM88.8 423.6h1.9v1.9h-1.9zM80.8 424.1h1.9v1.9h-1.9zM80 420.9h1.9v1.9h-1.9zM79.8 418.2h1.9v1.9h-1.9zM83 415.4h1.9v1.9h-1.9zM78.1 435h1.9v1.9h-1.9z"/>
<path fill="#283890" d="M84.7 381.3h1.9v1.9h-1.9zM82.9 376.7h1.9v1.9h-1.9zM85.5 373.2h1.9v1.9h-1.9zM84.4 376.1h1.9v1.9h-1.9zM99.8 381h1.9v1.9h-1.9zM84.1 380.2h1.9v1.9h-1.9zM83 372.4h1.9v1.9h-1.9zM95 381.8h1.9v1.9h-1.9z"/>
<path fill="#80d0b0" d="M190.1 299.3h1.9v1.9h-1.9zM207.2 300.5h1.9v1.9h-1.9zM194.2 314.5h1.9v1.9h-1.9zM213 306.7h1.9v1.9h-1.9zM191.8 305.1h1.9v1.9h-1.9zM210.2 311.3h1.9v1.9h-1.9zM207.9 299.9h1.9v1.9h-1.9zM216.5 299.1h1.9v1.9h-1.9zM193.6 303.7h1.9v1.9h-1.9z"/>
<path fill="#8a5a1a" d="M103.8 419.4h1.9v1.9h-1.9zM93.4 420.7h1.9v1.9h-1.9zM105.4 414.5h1.9v1.9h-1.9zM100.3 408.5h1.9v1.9h-1.9zM82.7 415.8h1.9v1.9h-1.9zM106.9 423.8h1.9v1.9h-1.9zM100.1 423.6h1.9v1.9h-1.9zM100.5 406.6h1.9v1.9h-1.9zM79.5 418h1.9v1.9h-1.9zM101.2 416.6h1.9v1.9h-1.9zM90.1 422.6h1.9v1.9h-1.9zM94.1 416.3h1.9v1.9h-1.9z"/>
<path fill="#5a90e0" d="M65.9 403.1h1.9v1.9h-1.9zM66.1 404.3h1.9v1.9h-1.9zM61.7 408h1.9v1.9h-1.9zM62.4 406.7h1.9v1.9h-1.9zM63.6 409.5h1.9v1.9h-1.9z"/>
<path fill="#80d0b4" d="M19.1 414.6h1.9v1.9h-1.9zM19.9 426.1h1.9v1.9h-1.9zM29.4 425.2h1.9v1.9h-1.9zM22.9 401.8h1.9v1.9h-1.9zM39.5 410.8h1.9v1.9h-1.9zM41.1 435.9h1.9v1.9h-1.9zM28.7 407h1.9v1.9h-1.9zM36 425.1h1.9v1.9h-1.9zM26.5 437.7h1.9v1.9h-1.9zM19.9 438.8h1.9v1.9h-1.9zM38.5 433h1.9v1.9h-1.9z"/>
<path fill="#1f5a2a" d="M46.8 372h1.9v1.9h-1.9zM53.1 370.8h1.9v1.9h-1.9zM40.3 371.8h1.9v1.9h-1.9zM55.9 379.7h1.9v1.9h-1.9zM44.8 373.9h1.9v1.9h-1.9z"/>
<path fill="#1a1a1a" d="M111 336.3h1.9v1.9h-1.9zM116.5 315.8h1.9v1.9h-1.9zM92.7 327.1h1.9v1.9h-1.9zM80.1 344.6h1.9v1.9h-1.9z"/>
<path fill="#888" d="M93.4 328.9h1.9v1.9h-1.9z"/>
<path fill="#222" d="M108.4 303.3h1.9v1.9h-1.9z"/>
<path fill="#22a0a0" d="M60.2 404h1.9v1.9h-1.9zM61.9 404.5h1.9v1.9h-1.9zM63.6 410h1.9v1.9h-1.9zM61.4 409h1.9v1.9h-1.9zM65.7 410.9h1.9v1.9h-1.9zM54.8 407.1h1.9v1.9h-1.9zM49.6 412.4h1.9v1.9h-1.9zM59.7 406.3h1.9v1.9h-1.9zM48.9 415.5h1.9v1.9h-1.9zM61.2 412.5h1.9v1.9h-1.9zM65.6 410.6h1.9v1.9h-1.9zM48.8 412.6h1.9v1.9h-1.9zM61.5 414.2h1.9v1.9h-1.9zM45.5 411.8h1.9v1.9h-1.9zM55.5 413.6h1.9v1.9h-1.9zM59 415.8h1.9v1.9h-1.9zM46 410.3h1.9v1.9h-1.9zM81.6 418.4h1.9v1.9h-1.9zM46.8 411.6h1.9v1.9h-1.9zM65.1 417.9h1.9v1.9h-1.9zM57 404.2h1.9v1.9h-1.9zM61.5 414.5h1.9v1.9h-1.9zM56.2 415.8h1.9v1.9h-1.9zM64.9 407.4h1.9v1.9h-1.9zM52.7 415.7h1.9v1.9h-1.9zM66.1 417.4h1.9v1.9h-1.9zM44 415.1h1.9v1.9h-1.9zM43 415.1h1.9v1.9h-1.9zM49.5 414.1h1.9v1.9h-1.9zM61.6 412.1h1.9v1.9h-1.9z"/>
<path fill="#8040b0" d="M63.8 392.1h1.9v1.9h-1.9zM65 400.7h1.9v1.9h-1.9zM75.9 399.1h1.9v1.9h-1.9zM70.4 389.4h1.9v1.9h-1.9zM70.4 395.1h1.9v1.9h-1.9zM64.2 398.2h1.9v1.9h-1.9zM53.9 387.6h1.9v1.9h-1.9zM73.3 400h1.9v1.9h-1.9zM70 399.8h1.9v1.9h-1.9zM80.7 386.8h1.9v1.9h-1.9zM68 387.5h1.9v1.9h-1.9z"/>
<path fill="#80d0b4" d="M23.6 429.5h1.9v1.9h-1.9zM32.9 420.4h1.9v1.9h-1.9zM22.2 437.6h1.9v1.9h-1.9zM33.5 429h1.9v1.9h-1.9zM22.7 430.9h1.9v1.9h-1.9zM22.3 433.5h1.9v1.9h-1.9z"/>
<path fill="#141414" d="M96.1 330.3h1.9v1.9h-1.9zM89.9 337.1h1.9v1.9h-1.9zM95.9 330.8h1.9v1.9h-1.9zM100.2 332.9h1.9v1.9h-1.9zM94.1 349.9h1.9v1.9h-1.9zM100.8 345.4h1.9v1.9h-1.9zM90.7 338.9h1.9v1.9h-1.9zM90.6 340.1h1.9v1.9h-1.9zM100.7 342.6h1.9v1.9h-1.9zM97.2 341.5h1.9v1.9h-1.9zM97.5 335.8h1.9v1.9h-1.9zM87.3 317.7h1.9v1.9h-1.9zM95.8 345.2h1.9v1.9h-1.9zM100 347.2h1.9v1.9h-1.9zM95.5 342.6h1.9v1.9h-1.9zM95 342.4h1.9v1.9h-1.9zM91 341.5h1.9v1.9h-1.9zM88.5 340.6h1.9v1.9h-1.9zM110 334.3h1.9v1.9h-1.9zM103.2 351.1h1.9v1.9h-1.9zM99.1 346h1.9v1.9h-1.9zM87.8 335.5h1.9v1.9h-1.9zM90.1 341.7h1.9v1.9h-1.9zM88.2 340.9h1.9v1.9h-1.9zM93.9 349.9h1.9v1.9h-1.9zM93.4 337.6h1.9v1.9h-1.9zM99.3 330.8h1.9v1.9h-1.9zM87.3 352.5h1.9v1.9h-1.9zM93.5 342.4h1.9v1.9h-1.9zM89.7 345.8h1.9v1.9h-1.9zM101 355.5h1.9v1.9h-1.9zM91.3 345h1.9v1.9h-1.9zM94 331.9h1.9v1.9h-1.9zM94.2 333h1.9v1.9h-1.9zM96.4 360.8h1.9v1.9h-1.9zM95.4 357.2h1.9v1.9h-1.9zM95 349.5h1.9v1.9h-1.9zM101.8 337.2h1.9v1.9h-1.9zM99.6 331.5h1.9v1.9h-1.9zM94 336h1.9v1.9h-1.9zM91.1 355h1.9v1.9h-1.9zM102.9 345.2h1.9v1.9h-1.9zM91.4 346.2h1.9v1.9h-1.9z"/>
<path fill="#8a5a1a" d="M110.5 423.1h1.9v1.9h-1.9zM91.5 419.7h1.9v1.9h-1.9zM101 407.7h1.9v1.9h-1.9zM99.1 409.7h1.9v1.9h-1.9zM94.7 418.6h1.9v1.9h-1.9zM87.5 419.5h1.9v1.9h-1.9zM106.3 421h1.9v1.9h-1.9zM92.4 416.8h1.9v1.9h-1.9zM92.1 432.9h1.9v1.9h-1.9zM100.7 422.2h1.9v1.9h-1.9zM81.8 422.2h1.9v1.9h-1.9zM103.6 419.2h1.9v1.9h-1.9zM110.3 411h1.9v1.9h-1.9zM116 421.3h1.9v1.9h-1.9zM103.1 420.2h1.9v1.9h-1.9zM108.4 428.2h1.9v1.9h-1.9zM101.8 414.3h1.9v1.9h-1.9zM102.8 419.1h1.9v1.9h-1.9zM101.7 426.2h1.9v1.9h-1.9zM96.1 421.7h1.9v1.9h-1.9z"/>
<path fill="#5a90e0" d="M58.2 406h1.9v1.9h-1.9zM56.4 409.7h1.9v1.9h-1.9zM59.2 404.3h1.9v1.9h-1.9z"/>
<path fill="#3a50b0" d="M55.1 390.3h1.9v1.9h-1.9zM63.2 377.6h1.9v1.9h-1.9zM73.2 393.6h1.9v1.9h-1.9zM90.1 375.3h1.9v1.9h-1.9zM75.1 372.1h1.9v1.9h-1.9zM62.3 381.8h1.9v1.9h-1.9zM79 377.9h1.9v1.9h-1.9zM82.9 376.5h1.9v1.9h-1.9zM69.2 377.9h1.9v1.9h-1.9zM57.1 372.5h1.9v1.9h-1.9zM74.3 381h1.9v1.9h-1.9zM67.5 381.6h1.9v1.9h-1.9zM67.5 379.6h1.9v1.9h-1.9zM62.3 377.8h1.9v1.9h-1.9zM79.1 377.7h1.9v1.9h-1.9zM77.3 366.5h1.9v1.9h-1.9zM78.8 377.4h1.9v1.9h-1.9zM87.9 371h1.9v1.9h-1.9zM66.2 386.3h1.9v1.9h-1.9zM66.9 373.9h1.9v1.9h-1.9zM74.4 384.9h1.9v1.9h-1.9zM81.4 383.3h1.9v1.9h-1.9zM80.6 381.4h1.9v1.9h-1.9zM74.2 379.9h1.9v1.9h-1.9zM77.5 382.3h1.9v1.9h-1.9zM82.8 370.5h1.9v1.9h-1.9zM87.4 386.6h1.9v1.9h-1.9zM93.3 376.2h1.9v1.9h-1.9zM70.4 376.7h1.9v1.9h-1.9zM64.6 382h1.9v1.9h-1.9z"/>
<path fill="#222" d="M100.4 296.8h1.9v1.9h-1.9zM94.4 304h1.9v1.9h-1.9zM104.4 301.6h1.9v1.9h-1.9z"/>
<path fill="#a09070" d="M82.2 428.7h1.9v1.9h-1.9zM71.7 418.5h1.9v1.9h-1.9zM70.7 414.9h1.9v1.9h-1.9zM82.9 436h1.9v1.9h-1.9zM80.4 423.4h1.9v1.9h-1.9zM78.2 425.6h1.9v1.9h-1.9zM75.3 421.2h1.9v1.9h-1.9zM71.6 424.6h1.9v1.9h-1.9z"/>
<path fill="#888" d="M137.6 305.5h1.9v1.9h-1.9zM92.5 338.6h1.9v1.9h-1.9zM120.1 339.1h1.9v1.9h-1.9zM114.8 339.1h1.9v1.9h-1.9zM80.7 318.4h1.9v1.9h-1.9zM74.4 326.2h1.9v1.9h-1.9zM81.9 314.3h1.9v1.9h-1.9zM144.1 310.5h1.9v1.9h-1.9z"/>
<path fill="#74d2e4" d="M87.4 356.1h1.9v1.9h-1.9zM88.8 359.6h1.9v1.9h-1.9zM123.2 350.4h1.9v1.9h-1.9zM119.9 352.4h1.9v1.9h-1.9zM118 348.1h1.9v1.9h-1.9zM100.1 354.8h1.9v1.9h-1.9zM91.8 354.7h1.9v1.9h-1.9zM109.4 350.3h1.9v1.9h-1.9zM108.2 356.2h1.9v1.9h-1.9zM94.7 357h1.9v1.9h-1.9zM105.3 345.2h1.9v1.9h-1.9zM107.4 363.5h1.9v1.9h-1.9zM107.4 365h1.9v1.9h-1.9zM74.3 358.1h1.9v1.9h-1.9zM76.8 358h1.9v1.9h-1.9z"/>
<path fill="#6a1212" d="M120 387.3h1.9v1.9h-1.9zM104 383.2h1.9v1.9h-1.9zM112.5 386.8h1.9v1.9h-1.9zM106.3 372.3h1.9v1.9h-1.9zM119.1 380.2h1.9v1.9h-1.9zM97.6 372.3h1.9v1.9h-1.9zM98.6 380h1.9v1.9h-1.9zM91.6 386.8h1.9v1.9h-1.9zM104 374.1h1.9v1.9h-1.9zM110.8 369.1h1.9v1.9h-1.9zM112 375.5h1.9v1.9h-1.9zM107.2 373.7h1.9v1.9h-1.9zM85 389.5h1.9v1.9h-1.9zM101.7 380.9h1.9v1.9h-1.9zM103.8 372.8h1.9v1.9h-1.9zM99.2 381.6h1.9v1.9h-1.9zM106.9 383.3h1.9v1.9h-1.9zM119.4 373.2h1.9v1.9h-1.9zM110.9 385.2h1.9v1.9h-1.9zM122.5 382.3h1.9v1.9h-1.9zM103.9 378.4h1.9v1.9h-1.9zM129 377.9h1.9v1.9h-1.9zM105.3 386.6h1.9v1.9h-1.9zM133.2 371.8h1.9v1.9h-1.9zM100.6 385.7h1.9v1.9h-1.9zM97.9 384h1.9v1.9h-1.9zM106.6 373.4h1.9v1.9h-1.9zM97.5 370.5h1.9v1.9h-1.9z"/>
<path fill="#1f5a2a" d="M46 370.2h1.9v1.9h-1.9zM45 378.5h1.9v1.9h-1.9zM45.8 375.6h1.9v1.9h-1.9zM44.2 377.1h1.9v1.9h-1.9zM52 373.7h1.9v1.9h-1.9zM54.8 378.6h1.9v1.9h-1.9z"/>
<path fill="#c87cc4" d="M88.5 343.1h1.9v1.9h-1.9zM62.2 330.9h1.9v1.9h-1.9zM81.3 331.3h1.9v1.9h-1.9zM80.9 335.7h1.9v1.9h-1.9zM75.3 327h1.9v1.9h-1.9zM71.2 322h1.9v1.9h-1.9zM72.3 326.6h1.9v1.9h-1.9zM67.6 325.7h1.9v1.9h-1.9zM84.5 357.8h1.9v1.9h-1.9zM67.7 337.9h1.9v1.9h-1.9zM75.7 339.5h1.9v1.9h-1.9zM69.3 334h1.9v1.9h-1.9zM67 333h1.9v1.9h-1.9zM75.5 333h1.9v1.9h-1.9zM84.5 347.2h1.9v1.9h-1.9zM75.9 349.2h1.9v1.9h-1.9zM85.1 343.9h1.9v1.9h-1.9zM61.2 316h1.9v1.9h-1.9zM71.1 334.9h1.9v1.9h-1.9zM70.1 325.5h1.9v1.9h-1.9zM72.9 336.2h1.9v1.9h-1.9zM75 339.7h1.9v1.9h-1.9zM64.3 316.1h1.9v1.9h-1.9zM86.7 340.7h1.9v1.9h-1.9zM79.2 340.5h1.9v1.9h-1.9zM80.2 350.7h1.9v1.9h-1.9zM70.2 344.7h1.9v1.9h-1.9zM81.4 346.8h1.9v1.9h-1.9z"/>
<path fill="#1a1a1a" d="M90.7 344.3h1.9v1.9h-1.9zM97.4 320.2h1.9v1.9h-1.9zM131.6 327h1.9v1.9h-1.9zM90.2 320.7h1.9v1.9h-1.9z"/>
<path fill="#283890" d="M87.1 376.6h1.9v1.9h-1.9zM98.2 381.2h1.9v1.9h-1.9zM101.9 374.7h1.9v1.9h-1.9zM91.5 374.9h1.9v1.9h-1.9zM94.3 371.6h1.9v1.9h-1.9zM88.8 374.4h1.9v1.9h-1.9z"/>
<path fill="#80d0b0" d="M206.8 293.3h1.9v1.9h-1.9z"/>
<path fill="#1a1a1a" d="M104.5 330.5h1.9v1.9h-1.9zM113.2 327.7h1.9v1.9h-1.9zM101.5 319.2h1.9v1.9h-1.9zM95 342.7h1.9v1.9h-1.9zM117.7 320.2h1.9v1.9h-1.9z"/>
<path fill="#222" d="M100.4 302.8h1.9v1.9h-1.9zM98.1 304.1h1.9v1.9h-1.9zM105.3 315.1h1.9v1.9h-1.9zM105 304.2h1.9v1.9h-1.9z"/>
<path fill="#888" d="M87.4 305.2h1.9v1.9h-1.9zM118.1 307.6h1.9v1.9h-1.9zM107.2 326h1.9v1.9h-1.9zM109.5 314.5h1.9v1.9h-1.9z"/>
<path fill="#22a0a0" d="M50.2 415.2h1.9v1.9h-1.9zM55.8 421h1.9v1.9h-1.9zM62 417.3h1.9v1.9h-1.9zM58.7 403.3h1.9v1.9h-1.9zM45.8 422.1h1.9v1.9h-1.9zM50.4 421.4h1.9v1.9h-1.9zM62.4 418.2h1.9v1.9h-1.9zM50.5 416.1h1.9v1.9h-1.9zM52.6 407.2h1.9v1.9h-1.9zM66.6 409.4h1.9v1.9h-1.9zM54.5 415.9h1.9v1.9h-1.9zM53 405.7h1.9v1.9h-1.9z"/>
<path fill="#1f5a2a" d="M44.8 373.3h1.9v1.9h-1.9zM43.5 373.8h1.9v1.9h-1.9zM36.4 374.3h1.9v1.9h-1.9zM48.7 379.5h1.9v1.9h-1.9z"/>
<path fill="#c87cc4" d="M69.3 330h1.9v1.9h-1.9zM71.6 334.7h1.9v1.9h-1.9zM65.7 328.2h1.9v1.9h-1.9zM71.5 328.5h1.9v1.9h-1.9zM72.5 332.6h1.9v1.9h-1.9zM79.8 338.8h1.9v1.9h-1.9zM71.2 322.6h1.9v1.9h-1.9zM76.6 343h1.9v1.9h-1.9zM72.6 333.2h1.9v1.9h-1.9zM61.3 331.2h1.9v1.9h-1.9zM77.4 326.8h1.9v1.9h-1.9zM65.2 324.6h1.9v1.9h-1.9zM67.6 322.1h1.9v1.9h-1.9zM89.9 355.2h1.9v1.9h-1.9zM75.7 324.2h1.9v1.9h-1.9zM75.8 330.4h1.9v1.9h-1.9zM81.9 350.7h1.9v1.9h-1.9zM77.8 345.3h1.9v1.9h-1.9zM76 320h1.9v1.9h-1.9zM71.8 334.2h1.9v1.9h-1.9zM91.7 349.5h1.9v1.9h-1.9z"/>
<path fill="#3a50b0" d="M68.3 381.6h1.9v1.9h-1.9zM71.5 392.4h1.9v1.9h-1.9zM87.6 387.2h1.9v1.9h-1.9zM47.4 394h1.9v1.9h-1.9zM59.3 367.6h1.9v1.9h-1.9zM64.6 378h1.9v1.9h-1.9zM93.1 382.6h1.9v1.9h-1.9zM88.3 377.3h1.9v1.9h-1.9zM71.5 370.5h1.9v1.9h-1.9zM86.5 377.9h1.9v1.9h-1.9zM95.1 392.1h1.9v1.9h-1.9zM69.3 376.7h1.9v1.9h-1.9zM71.2 382.8h1.9v1.9h-1.9zM68.2 388.1h1.9v1.9h-1.9zM72.2 389.4h1.9v1.9h-1.9zM62.3 381h1.9v1.9h-1.9zM72.7 378.1h1.9v1.9h-1.9zM88.3 379.4h1.9v1.9h-1.9zM81.6 373.4h1.9v1.9h-1.9zM81.2 387.5h1.9v1.9h-1.9zM68.3 383.4h1.9v1.9h-1.9zM79.9 381.6h1.9v1.9h-1.9zM63.9 380h1.9v1.9h-1.9zM69 385.4h1.9v1.9h-1.9zM100.5 375.4h1.9v1.9h-1.9zM67.6 388h1.9v1.9h-1.9zM66.2 380.8h1.9v1.9h-1.9zM75.8 375.8h1.9v1.9h-1.9zM72.7 389.2h1.9v1.9h-1.9z"/>
<path fill="#6a1212" d="M102.4 378.3h1.9v1.9h-1.9zM121 389.9h1.9v1.9h-1.9zM97.1 385h1.9v1.9h-1.9zM99.8 377.8h1.9v1.9h-1.9zM99.5 376.3h1.9v1.9h-1.9zM104.6 380.6h1.9v1.9h-1.9zM98.4 377.5h1.9v1.9h-1.9zM123.8 377h1.9v1.9h-1.9zM121.7 376.2h1.9v1.9h-1.9zM106 369.9h1.9v1.9h-1.9zM100.7 374.9h1.9v1.9h-1.9zM109.9 373.8h1.9v1.9h-1.9zM104.6 375.2h1.9v1.9h-1.9zM95.1 374.7h1.9v1.9h-1.9zM91.1 388.5h1.9v1.9h-1.9zM107.5 386.2h1.9v1.9h-1.9zM109.4 372.5h1.9v1.9h-1.9zM112.8 374.5h1.9v1.9h-1.9zM92.4 380.8h1.9v1.9h-1.9zM120.5 389.2h1.9v1.9h-1.9zM119.4 378.9h1.9v1.9h-1.9zM92 381.6h1.9v1.9h-1.9zM105.1 375.3h1.9v1.9h-1.9zM109 380.9h1.9v1.9h-1.9zM103.2 375.3h1.9v1.9h-1.9zM108.1 376.9h1.9v1.9h-1.9zM123.2 393.7h1.9v1.9h-1.9zM103.6 380.8h1.9v1.9h-1.9zM100.9 371.2h1.9v1.9h-1.9zM87.1 382.8h1.9v1.9h-1.9zM105.9 380.1h1.9v1.9h-1.9zM98 387.6h1.9v1.9h-1.9zM97.6 374.6h1.9v1.9h-1.9zM98.3 383h1.9v1.9h-1.9zM112.5 387.1h1.9v1.9h-1.9zM89.6 377.2h1.9v1.9h-1.9zM114.9 372.7h1.9v1.9h-1.9zM91.9 374.2h1.9v1.9h-1.9zM103.2 379.2h1.9v1.9h-1.9zM93.8 374.9h1.9v1.9h-1.9z"/>
<path fill="#74d2e4" d="M122.7 353h1.9v1.9h-1.9zM79.3 358.3h1.9v1.9h-1.9zM126.3 351.8h1.9v1.9h-1.9zM106.5 352.9h1.9v1.9h-1.9zM70.7 356.3h1.9v1.9h-1.9zM98.6 360.3h1.9v1.9h-1.9zM112.5 359.3h1.9v1.9h-1.9zM125 343.4h1.9v1.9h-1.9zM93.6 360.8h1.9v1.9h-1.9zM94.6 347.9h1.9v1.9h-1.9zM95.3 355.1h1.9v1.9h-1.9zM88.2 348.7h1.9v1.9h-1.9zM98.9 351.7h1.9v1.9h-1.9zM94.8 357h1.9v1.9h-1.9zM68.8 354.7h1.9v1.9h-1.9zM67 354.2h1.9v1.9h-1.9zM109.6 359.2h1.9v1.9h-1.9zM69 360.7h1.9v1.9h-1.9zM82.7 354.2h1.9v1.9h-1.9zM137.5 353h1.9v1.9h-1.9zM100.3 354.1h1.9v1.9h-1.9zM73.8 357.1h1.9v1.9h-1.9zM104.3 354.2h1.9v1.9h-1.9zM98.3 353.8h1.9v1.9h-1.9zM81.1 354.1h1.9v1.9h-1.9zM117.3 346.5h1.9v1.9h-1.9zM91.3 356.1h1.9v1.9h-1.9z"/>
<path fill="#8a5a1a" d="M97.2 424.6h1.9v1.9h-1.9zM92.5 415.3h1.9v1.9h-1.9zM101.3 413h1.9v1.9h-1.9zM88.9 418h1.9v1.9h-1.9zM86.5 422.4h1.9v1.9h-1.9zM88.1 420.1h1.9v1.9h-1.9zM106 412.3h1.9v1.9h-1.9zM88.9 426.7h1.9v1.9h-1.9zM99.5 423h1.9v1.9h-1.9zM95.8 408.4h1.9v1.9h-1.9zM96.1 427.8h1.9v1.9h-1.9zM94.5 422.6h1.9v1.9h-1.9zM100 411.5h1.9v1.9h-1.9zM90.3 421.2h1.9v1.9h-1.9zM98.2 424.4h1.9v1.9h-1.9zM104.3 419.8h1.9v1.9h-1.9zM97.8 418.6h1.9v1.9h-1.9zM94.4 408.7h1.9v1.9h-1.9zM99.8 413h1.9v1.9h-1.9zM103.9 409.8h1.9v1.9h-1.9z"/>
<path fill="#141414" d="M102.7 344.7h1.9v1.9h-1.9zM97.6 345.7h1.9v1.9h-1.9zM102.5 333h1.9v1.9h-1.9zM97 338.6h1.9v1.9h-1.9zM95.6 334.4h1.9v1.9h-1.9zM100 345.3h1.9v1.9h-1.9zM105.2 352.7h1.9v1.9h-1.9zM100.3 331.2h1.9v1.9h-1.9zM91.2 342.1h1.9v1.9h-1.9zM104.1 338.3h1.9v1.9h-1.9zM94.3 347.1h1.9v1.9h-1.9zM97.6 342.8h1.9v1.9h-1.9zM97.3 333.4h1.9v1.9h-1.9zM98.7 357.3h1.9v1.9h-1.9zM90.7 343.1h1.9v1.9h-1.9zM95.7 340.6h1.9v1.9h-1.9zM98.3 340.9h1.9v1.9h-1.9zM91.7 339.4h1.9v1.9h-1.9zM95.7 343.7h1.9v1.9h-1.9zM99.7 344.1h1.9v1.9h-1.9zM99.8 346.3h1.9v1.9h-1.9zM95.6 336.7h1.9v1.9h-1.9zM82.5 357.5h1.9v1.9h-1.9zM93.6 344.1h1.9v1.9h-1.9zM88.8 351.5h1.9v1.9h-1.9zM93.3 357.6h1.9v1.9h-1.9zM95.6 329.2h1.9v1.9h-1.9zM103.5 340.8h1.9v1.9h-1.9zM101.3 345.1h1.9v1.9h-1.9zM88 337.2h1.9v1.9h-1.9zM96.5 320.3h1.9v1.9h-1.9zM95.2 348.2h1.9v1.9h-1.9zM88.7 332.5h1.9v1.9h-1.9zM100 335.2h1.9v1.9h-1.9zM96.5 339.8h1.9v1.9h-1.9zM92.2 328h1.9v1.9h-1.9zM97 341.6h1.9v1.9h-1.9zM91.3 332.9h1.9v1.9h-1.9zM99.9 334.1h1.9v1.9h-1.9zM96.4 349.7h1.9v1.9h-1.9zM80.6 329h1.9v1.9h-1.9zM91.6 320.7h1.9v1.9h-1.9zM95.9 332.2h1.9v1.9h-1.9zM96.2 335.5h1.9v1.9h-1.9zM100 344.7h1.9v1.9h-1.9zM91.9 347.2h1.9v1.9h-1.9zM89.5 330.9h1.9v1.9h-1.9zM93.5 346.8h1.9v1.9h-1.9z"/>
<path fill="#8040b0" d="M64.2 394.3h1.9v1.9h-1.9zM79.2 386.7h1.9v1.9h-1.9zM66.3 398.8h1.9v1.9h-1.9zM63.6 404.4h1.9v1.9h-1.9zM56.8 404.1h1.9v1.9h-1.9zM72.7 402.2h1.9v1.9h-1.9zM77.9 398.3h1.9v1.9h-1.9zM46.7 388.3h1.9v1.9h-1.9zM75.3 401.1h1.9v1.9h-1.9zM74.8 397.4h1.9v1.9h-1.9zM59.2 399.7h1.9v1.9h-1.9zM77.2 393.8h1.9v1.9h-1.9zM53 402.5h1.9v1.9h-1.9z"/>
<path fill="#80d0b4" d="M36 424.6h1.9v1.9h-1.9zM27.9 425.8h1.9v1.9h-1.9zM37.1 426.4h1.9v1.9h-1.9zM14.9 426.1h1.9v1.9h-1.9zM28.4 421.9h1.9v1.9h-1.9zM21.7 417.5h1.9v1.9h-1.9zM34.7 414h1.9v1.9h-1.9z"/>
<path fill="#a09070" d="M84.3 414.5h1.9v1.9h-1.9zM83.3 424h1.9v1.9h-1.9zM81.2 431.9h1.9v1.9h-1.9zM69.8 426.6h1.9v1.9h-1.9zM73.7 432.7h1.9v1.9h-1.9zM79.3 417.3h1.9v1.9h-1.9zM72.4 435.5h1.9v1.9h-1.9zM72.1 426.7h1.9v1.9h-1.9zM70.3 432.1h1.9v1.9h-1.9z"/>
<path fill="#283890" d="M90.2 383.5h1.9v1.9h-1.9zM93.6 371h1.9v1.9h-1.9zM90.7 380.4h1.9v1.9h-1.9zM76.9 380.1h1.9v1.9h-1.9z"/>
<path fill="#5a90e0" d="M62.8 408.2h1.9v1.9h-1.9zM63 402.2h1.9v1.9h-1.9zM59.1 403.8h1.9v1.9h-1.9z"/>
<path fill="#5a90e0" d="M63.2 402.3h1.9v1.9h-1.9zM71.8 398.8h1.9v1.9h-1.9zM64.2 410.9h1.9v1.9h-1.9zM61.6 401.9h1.9v1.9h-1.9zM72.3 409h1.9v1.9h-1.9zM47.8 408.4h1.9v1.9h-1.9zM64.9 402.9h1.9v1.9h-1.9zM53.8 403.4h1.9v1.9h-1.9z"/>
<path fill="#141414" d="M98.9 335.9h1.9v1.9h-1.9zM91.7 365.1h1.9v1.9h-1.9zM104.8 343.8h1.9v1.9h-1.9zM101.3 337.7h1.9v1.9h-1.9zM88.9 330.9h1.9v1.9h-1.9zM86.2 338.7h1.9v1.9h-1.9zM101.2 348.9h1.9v1.9h-1.9zM91.3 343.9h1.9v1.9h-1.9zM93.2 346.2h1.9v1.9h-1.9zM92.4 339.9h1.9v1.9h-1.9zM94.5 343.1h1.9v1.9h-1.9zM99.8 344.1h1.9v1.9h-1.9zM89.3 354h1.9v1.9h-1.9zM98.6 330.8h1.9v1.9h-1.9zM92.7 338.9h1.9v1.9h-1.9zM98.9 346.1h1.9v1.9h-1.9zM100.1 356.3h1.9v1.9h-1.9zM91.1 356.6h1.9v1.9h-1.9zM96.6 354.9h1.9v1.9h-1.9zM93.5 342.2h1.9v1.9h-1.9zM90.4 339.6h1.9v1.9h-1.9zM92.4 343.5h1.9v1.9h-1.9zM93.3 341.3h1.9v1.9h-1.9zM93.6 361.1h1.9v1.9h-1.9zM103 335.6h1.9v1.9h-1.9zM86.9 340.8h1.9v1.9h-1.9zM88.7 359.6h1.9v1.9h-1.9zM91.8 339h1.9v1.9h-1.9zM93.2 333.4h1.9v1.9h-1.9zM97.6 343.7h1.9v1.9h-1.9zM103.8 360.6h1.9v1.9h-1.9zM90.7 338.8h1.9v1.9h-1.9zM87.7 347.4h1.9v1.9h-1.9zM95.3 344.1h1.9v1.9h-1.9zM104.8 333.1h1.9v1.9h-1.9zM97.6 353.3h1.9v1.9h-1.9zM88.7 349.8h1.9v1.9h-1.9zM100.8 367.9h1.9v1.9h-1.9zM92 345h1.9v1.9h-1.9zM95.7 344.2h1.9v1.9h-1.9zM92.2 348.2h1.9v1.9h-1.9zM100.6 337.3h1.9v1.9h-1.9zM102.2 346.2h1.9v1.9h-1.9z"/>
<path fill="#6a1212" d="M104.2 368.6h1.9v1.9h-1.9zM97.4 382.2h1.9v1.9h-1.9zM105.7 382.8h1.9v1.9h-1.9zM99 382.1h1.9v1.9h-1.9zM105.5 381.4h1.9v1.9h-1.9zM109 381.2h1.9v1.9h-1.9zM107.7 385.3h1.9v1.9h-1.9zM106.4 388.7h1.9v1.9h-1.9zM96.9 381.9h1.9v1.9h-1.9zM108 378.6h1.9v1.9h-1.9zM116.1 377.6h1.9v1.9h-1.9zM90.6 376.6h1.9v1.9h-1.9zM97.5 377.9h1.9v1.9h-1.9zM93.1 378.5h1.9v1.9h-1.9zM127.9 376.6h1.9v1.9h-1.9zM95.8 386.7h1.9v1.9h-1.9zM127.6 377h1.9v1.9h-1.9zM130.9 376.5h1.9v1.9h-1.9zM100.4 379.3h1.9v1.9h-1.9zM98.4 382h1.9v1.9h-1.9zM112.5 379.8h1.9v1.9h-1.9zM102.8 371.2h1.9v1.9h-1.9zM105.9 386.6h1.9v1.9h-1.9zM108.6 385.3h1.9v1.9h-1.9zM108.7 369.5h1.9v1.9h-1.9zM125.4 387.9h1.9v1.9h-1.9zM111.4 382.3h1.9v1.9h-1.9zM106.5 370.9h1.9v1.9h-1.9zM96.1 379.2h1.9v1.9h-1.9zM107.6 383.5h1.9v1.9h-1.9zM92.1 379.8h1.9v1.9h-1.9zM111.8 383.8h1.9v1.9h-1.9zM105.8 382.1h1.9v1.9h-1.9zM107.2 378.3h1.9v1.9h-1.9z"/>
<path fill="#80d0b4" d="M28.1 422h1.9v1.9h-1.9zM18.5 433.1h1.9v1.9h-1.9zM34 435.2h1.9v1.9h-1.9zM30.2 435.8h1.9v1.9h-1.9zM32.6 422.6h1.9v1.9h-1.9zM29.8 418.2h1.9v1.9h-1.9zM28.2 441.9h1.9v1.9h-1.9zM39.6 439.2h1.9v1.9h-1.9zM22.5 436h1.9v1.9h-1.9zM38.6 438.7h1.9v1.9h-1.9zM40.4 428.6h1.9v1.9h-1.9zM18.5 432.4h1.9v1.9h-1.9z"/>
<path fill="#3a50b0" d="M83.7 380.1h1.9v1.9h-1.9zM75.4 385.4h1.9v1.9h-1.9zM67.8 374.6h1.9v1.9h-1.9zM69.2 372.1h1.9v1.9h-1.9zM71.7 375h1.9v1.9h-1.9zM86.4 387.7h1.9v1.9h-1.9zM58.7 387.1h1.9v1.9h-1.9zM83.6 383.8h1.9v1.9h-1.9zM70 382.6h1.9v1.9h-1.9zM60.6 371.9h1.9v1.9h-1.9zM66.8 378.2h1.9v1.9h-1.9zM78.5 379.8h1.9v1.9h-1.9zM87.6 374.6h1.9v1.9h-1.9zM70.9 377.4h1.9v1.9h-1.9zM65.6 380.9h1.9v1.9h-1.9zM75.4 384.7h1.9v1.9h-1.9zM76.7 390.7h1.9v1.9h-1.9zM80.7 384.1h1.9v1.9h-1.9zM66.3 391.3h1.9v1.9h-1.9zM77.1 377.2h1.9v1.9h-1.9zM74.4 372.2h1.9v1.9h-1.9zM73.5 377.2h1.9v1.9h-1.9zM77.6 382.9h1.9v1.9h-1.9zM69.6 395.3h1.9v1.9h-1.9zM71.3 362.8h1.9v1.9h-1.9zM66.7 380.2h1.9v1.9h-1.9z"/>
<path fill="#c87cc4" d="M72 323.7h1.9v1.9h-1.9zM63.4 337.7h1.9v1.9h-1.9zM75.8 332.3h1.9v1.9h-1.9zM62.1 317.5h1.9v1.9h-1.9zM69.2 322.8h1.9v1.9h-1.9zM71.5 340.2h1.9v1.9h-1.9zM79.6 345.5h1.9v1.9h-1.9zM82 345.2h1.9v1.9h-1.9zM71.6 328.8h1.9v1.9h-1.9zM67.9 328h1.9v1.9h-1.9zM73.4 330.6h1.9v1.9h-1.9zM77.9 334.8h1.9v1.9h-1.9zM74.1 327.1h1.9v1.9h-1.9zM73.1 335.9h1.9v1.9h-1.9zM63 330.6h1.9v1.9h-1.9zM70.4 335.2h1.9v1.9h-1.9zM73.3 330.3h1.9v1.9h-1.9zM70.7 334.9h1.9v1.9h-1.9zM78.2 333.8h1.9v1.9h-1.9zM74.8 329.5h1.9v1.9h-1.9zM68.4 341.8h1.9v1.9h-1.9zM76.8 337h1.9v1.9h-1.9zM68.3 335.4h1.9v1.9h-1.9zM76.1 344.2h1.9v1.9h-1.9zM81.2 334.7h1.9v1.9h-1.9zM70.3 323.8h1.9v1.9h-1.9zM70.8 320.8h1.9v1.9h-1.9zM75.3 344.3h1.9v1.9h-1.9zM68.8 333.1h1.9v1.9h-1.9zM68.5 329.1h1.9v1.9h-1.9zM65 314.2h1.9v1.9h-1.9zM73.1 342.1h1.9v1.9h-1.9zM65.7 342.9h1.9v1.9h-1.9zM72.7 326.4h1.9v1.9h-1.9zM78.9 338h1.9v1.9h-1.9z"/>
<path fill="#74d2e4" d="M84.9 353.7h1.9v1.9h-1.9zM72.3 359.7h1.9v1.9h-1.9zM96.5 362h1.9v1.9h-1.9zM92 356.3h1.9v1.9h-1.9zM128.5 352.1h1.9v1.9h-1.9zM123.1 347.6h1.9v1.9h-1.9zM104.7 349.1h1.9v1.9h-1.9zM141.7 352.5h1.9v1.9h-1.9zM90.3 353.4h1.9v1.9h-1.9zM69.7 356.8h1.9v1.9h-1.9zM86.9 359.5h1.9v1.9h-1.9zM101.6 369.5h1.9v1.9h-1.9zM80.7 361.3h1.9v1.9h-1.9zM131.6 350.4h1.9v1.9h-1.9zM82.5 358.7h1.9v1.9h-1.9zM106.8 356.3h1.9v1.9h-1.9zM92.9 359.9h1.9v1.9h-1.9zM82.1 362.7h1.9v1.9h-1.9zM74.6 358.9h1.9v1.9h-1.9zM95.5 357h1.9v1.9h-1.9zM103.4 361h1.9v1.9h-1.9z"/>
<path fill="#8a5a1a" d="M104.5 414.9h1.9v1.9h-1.9zM100.7 421.2h1.9v1.9h-1.9zM92.1 417.2h1.9v1.9h-1.9zM84 419.2h1.9v1.9h-1.9zM94.2 410.5h1.9v1.9h-1.9zM97 415.2h1.9v1.9h-1.9zM97.6 406.7h1.9v1.9h-1.9zM113 412.8h1.9v1.9h-1.9zM100.5 412.9h1.9v1.9h-1.9zM83.7 419.7h1.9v1.9h-1.9zM87.6 402.8h1.9v1.9h-1.9zM85.7 421.4h1.9v1.9h-1.9zM90.3 415.5h1.9v1.9h-1.9z"/>
<path fill="#283890" d="M87 380.9h1.9v1.9h-1.9zM83.7 372.8h1.9v1.9h-1.9zM99.8 374.4h1.9v1.9h-1.9zM96.7 382.7h1.9v1.9h-1.9zM86.2 379.4h1.9v1.9h-1.9zM93.5 374.9h1.9v1.9h-1.9z"/>
<path fill="#1a1a1a" d="M118.7 342.8h1.9v1.9h-1.9zM83.7 322.4h1.9v1.9h-1.9zM128.7 314.9h1.9v1.9h-1.9zM101.4 319.6h1.9v1.9h-1.9z"/>
<path fill="#222" d="M99.5 310.8h1.9v1.9h-1.9zM100.3 305.2h1.9v1.9h-1.9z"/>
<path fill="#8040b0" d="M79.8 408.1h1.9v1.9h-1.9zM75.2 397.9h1.9v1.9h-1.9zM76 391.8h1.9v1.9h-1.9zM59.2 407h1.9v1.9h-1.9zM77.9 390.2h1.9v1.9h-1.9zM59.1 399.3h1.9v1.9h-1.9zM73 401.1h1.9v1.9h-1.9zM71.6 395.7h1.9v1.9h-1.9zM71.7 392.3h1.9v1.9h-1.9zM66.4 392h1.9v1.9h-1.9zM77 396.9h1.9v1.9h-1.9zM66.6 396h1.9v1.9h-1.9zM72.7 406.3h1.9v1.9h-1.9zM66.2 403.3h1.9v1.9h-1.9zM71.4 386.2h1.9v1.9h-1.9z"/>
<path fill="#a09070" d="M74.6 427h1.9v1.9h-1.9zM83.7 420.9h1.9v1.9h-1.9zM70 422.5h1.9v1.9h-1.9zM91.8 425h1.9v1.9h-1.9z"/>
<path fill="#22a0a0" d="M49.8 423.3h1.9v1.9h-1.9zM62 407.8h1.9v1.9h-1.9zM61.1 410.3h1.9v1.9h-1.9zM40.2 412h1.9v1.9h-1.9zM62.4 408.8h1.9v1.9h-1.9zM57.4 407.2h1.9v1.9h-1.9zM55 413.9h1.9v1.9h-1.9zM57.3 421.1h1.9v1.9h-1.9zM75.5 415.3h1.9v1.9h-1.9zM52.3 412.8h1.9v1.9h-1.9zM44.9 416.3h1.9v1.9h-1.9zM58.4 410.9h1.9v1.9h-1.9zM70.4 417.3h1.9v1.9h-1.9zM56.9 415h1.9v1.9h-1.9zM60.1 415.9h1.9v1.9h-1.9zM52.7 410.5h1.9v1.9h-1.9zM46 422h1.9v1.9h-1.9zM53.9 417.1h1.9v1.9h-1.9zM60.3 405h1.9v1.9h-1.9zM51.4 414h1.9v1.9h-1.9zM63.1 418.6h1.9v1.9h-1.9zM53.2 424.2h1.9v1.9h-1.9z"/>
<path fill="#888" d="M101.9 316.6h1.9v1.9h-1.9zM106.3 323.7h1.9v1.9h-1.9zM102.1 303.9h1.9v1.9h-1.9zM91 333.4h1.9v1.9h-1.9z"/>
<path fill="#80d0b0" d="M218.6 310.4h1.9v1.9h-1.9z"/>
<path fill="#141414" d="M101.9 342.8h1.9v1.9h-1.9zM100 332.6h1.9v1.9h-1.9zM107.9 328.3h1.9v1.9h-1.9zM87.4 351.4h1.9v1.9h-1.9zM90.7 336.1h1.9v1.9h-1.9zM95.2 341.8h1.9v1.9h-1.9zM99.3 341.6h1.9v1.9h-1.9zM93.4 335.5h1.9v1.9h-1.9zM96.8 346.8h1.9v1.9h-1.9zM93.4 344.5h1.9v1.9h-1.9zM92.1 336.6h1.9v1.9h-1.9zM89.6 343.9h1.9v1.9h-1.9zM102.7 345.1h1.9v1.9h-1.9zM96.3 348.8h1.9v1.9h-1.9zM96.9 339.2h1.9v1.9h-1.9zM97.6 340.5h1.9v1.9h-1.9zM106.5 334.3h1.9v1.9h-1.9zM83.5 346.8h1.9v1.9h-1.9zM93.9 350.6h1.9v1.9h-1.9zM97 339.8h1.9v1.9h-1.9zM96.2 333.3h1.9v1.9h-1.9zM85.2 336.1h1.9v1.9h-1.9zM86.3 348.5h1.9v1.9h-1.9zM95.1 329.7h1.9v1.9h-1.9zM94.3 340.2h1.9v1.9h-1.9zM95 346.5h1.9v1.9h-1.9zM92 348.8h1.9v1.9h-1.9zM92.4 355.1h1.9v1.9h-1.9zM94.7 341h1.9v1.9h-1.9zM81.1 342.9h1.9v1.9h-1.9zM89.5 341.9h1.9v1.9h-1.9zM89.8 332.3h1.9v1.9h-1.9zM95.1 346.2h1.9v1.9h-1.9zM95.7 333.6h1.9v1.9h-1.9zM94.2 333.6h1.9v1.9h-1.9zM98.6 328.3h1.9v1.9h-1.9zM95.9 339.8h1.9v1.9h-1.9zM100.8 339.2h1.9v1.9h-1.9zM90.2 338.5h1.9v1.9h-1.9zM94.9 334h1.9v1.9h-1.9zM98 335.5h1.9v1.9h-1.9zM101 354.7h1.9v1.9h-1.9zM92.5 349h1.9v1.9h-1.9zM89.2 346.9h1.9v1.9h-1.9zM96 334.1h1.9v1.9h-1.9zM98.9 350.7h1.9v1.9h-1.9z"/>
<path fill="#22a0a0" d="M50.9 414.6h1.9v1.9h-1.9zM44.6 413.6h1.9v1.9h-1.9zM57.7 412.8h1.9v1.9h-1.9zM48.8 409.4h1.9v1.9h-1.9zM48.8 413.3h1.9v1.9h-1.9zM40.3 414.7h1.9v1.9h-1.9zM50.6 415.8h1.9v1.9h-1.9zM38.6 409.1h1.9v1.9h-1.9zM45.1 409.9h1.9v1.9h-1.9zM47.5 421.8h1.9v1.9h-1.9zM47.6 416.9h1.9v1.9h-1.9zM48.9 422.6h1.9v1.9h-1.9zM60.5 415.7h1.9v1.9h-1.9zM56.9 418h1.9v1.9h-1.9zM42 410.4h1.9v1.9h-1.9zM47.9 402.7h1.9v1.9h-1.9zM67.8 408.8h1.9v1.9h-1.9zM50.3 412.2h1.9v1.9h-1.9z"/>
<path fill="#1a1a1a" d="M96.6 315.2h1.9v1.9h-1.9zM89.1 311.3h1.9v1.9h-1.9zM85.8 325.3h1.9v1.9h-1.9z"/>
<path fill="#74d2e4" d="M93.4 357.9h1.9v1.9h-1.9zM121.3 345.1h1.9v1.9h-1.9zM103.7 352.2h1.9v1.9h-1.9zM73.5 355h1.9v1.9h-1.9zM94.1 358.7h1.9v1.9h-1.9zM123.8 344.4h1.9v1.9h-1.9zM73.6 357.1h1.9v1.9h-1.9zM82.7 358.3h1.9v1.9h-1.9zM71.8 361.7h1.9v1.9h-1.9zM81.2 354.9h1.9v1.9h-1.9zM87.2 362.2h1.9v1.9h-1.9zM76.8 362.3h1.9v1.9h-1.9zM82.7 354.1h1.9v1.9h-1.9zM79.1 359.7h1.9v1.9h-1.9zM80.4 353.1h1.9v1.9h-1.9zM76.3 353.6h1.9v1.9h-1.9zM72.5 355.2h1.9v1.9h-1.9zM84.2 357.6h1.9v1.9h-1.9zM81.7 354.3h1.9v1.9h-1.9zM129.4 359.4h1.9v1.9h-1.9zM102.3 353.2h1.9v1.9h-1.9zM83.1 351.7h1.9v1.9h-1.9zM95.2 354.1h1.9v1.9h-1.9z"/>
<path fill="#6a1212" d="M104.1 377.5h1.9v1.9h-1.9zM90.9 378h1.9v1.9h-1.9zM103.6 386.1h1.9v1.9h-1.9zM101.2 382.3h1.9v1.9h-1.9zM107.5 379.5h1.9v1.9h-1.9zM101.4 378h1.9v1.9h-1.9zM114.9 387.3h1.9v1.9h-1.9zM104.1 384.3h1.9v1.9h-1.9zM122 372.9h1.9v1.9h-1.9zM92.9 386.8h1.9v1.9h-1.9zM112.7 378.5h1.9v1.9h-1.9zM128.1 377.5h1.9v1.9h-1.9zM101.3 379.6h1.9v1.9h-1.9zM87.5 377.8h1.9v1.9h-1.9zM120.8 378h1.9v1.9h-1.9zM116 386.8h1.9v1.9h-1.9zM117.7 385.8h1.9v1.9h-1.9zM118.6 374.7h1.9v1.9h-1.9zM97.3 378.9h1.9v1.9h-1.9zM87.5 384.4h1.9v1.9h-1.9zM93.2 375h1.9v1.9h-1.9zM102.4 389.7h1.9v1.9h-1.9zM99.7 383.4h1.9v1.9h-1.9zM105 382.1h1.9v1.9h-1.9zM108 382.3h1.9v1.9h-1.9zM101.7 385.7h1.9v1.9h-1.9zM83.8 380.7h1.9v1.9h-1.9zM104.8 381.6h1.9v1.9h-1.9zM93.3 382.7h1.9v1.9h-1.9zM112 381.6h1.9v1.9h-1.9zM108.5 377.7h1.9v1.9h-1.9zM105.2 388h1.9v1.9h-1.9zM104.9 372.2h1.9v1.9h-1.9zM96.4 368.9h1.9v1.9h-1.9zM108.5 375h1.9v1.9h-1.9zM105.9 377.1h1.9v1.9h-1.9z"/>
<path fill="#c87cc4" d="M65.4 330h1.9v1.9h-1.9zM63.1 325.4h1.9v1.9h-1.9zM72.5 333.5h1.9v1.9h-1.9zM80.5 336.2h1.9v1.9h-1.9zM58.8 327.7h1.9v1.9h-1.9zM84.2 360.7h1.9v1.9h-1.9zM76.3 328h1.9v1.9h-1.9zM80.3 340.4h1.9v1.9h-1.9zM74.8 326.7h1.9v1.9h-1.9zM60.3 331h1.9v1.9h-1.9zM77.7 334.3h1.9v1.9h-1.9zM82.3 342h1.9v1.9h-1.9zM83.6 345.8h1.9v1.9h-1.9zM73 343.1h1.9v1.9h-1.9zM70.9 333h1.9v1.9h-1.9zM70.2 330.2h1.9v1.9h-1.9zM72.2 338.5h1.9v1.9h-1.9zM67.1 330.2h1.9v1.9h-1.9zM59.1 321.7h1.9v1.9h-1.9zM75.7 345.8h1.9v1.9h-1.9zM68.5 319.6h1.9v1.9h-1.9zM68.9 332.3h1.9v1.9h-1.9zM69.3 318h1.9v1.9h-1.9zM83.6 349.3h1.9v1.9h-1.9zM77.9 344h1.9v1.9h-1.9zM87.2 345.1h1.9v1.9h-1.9zM76.1 331h1.9v1.9h-1.9z"/>
<path fill="#283890" d="M94 375.5h1.9v1.9h-1.9zM91.7 380.7h1.9v1.9h-1.9zM89.4 374.3h1.9v1.9h-1.9zM95.2 384.8h1.9v1.9h-1.9zM91.6 388h1.9v1.9h-1.9zM92.8 375.4h1.9v1.9h-1.9zM88.4 384.7h1.9v1.9h-1.9zM92 373.1h1.9v1.9h-1.9zM90.5 379.2h1.9v1.9h-1.9zM95 384.6h1.9v1.9h-1.9zM94.6 373.4h1.9v1.9h-1.9z"/>
<path fill="#8040b0" d="M65.8 402.9h1.9v1.9h-1.9zM71.2 390.6h1.9v1.9h-1.9zM67.2 391.3h1.9v1.9h-1.9zM62.1 397.1h1.9v1.9h-1.9zM66.5 395.2h1.9v1.9h-1.9zM78.1 398.6h1.9v1.9h-1.9zM80.8 396.2h1.9v1.9h-1.9zM72.1 403h1.9v1.9h-1.9zM80.2 396.5h1.9v1.9h-1.9zM74.3 399.7h1.9v1.9h-1.9zM73.1 396.1h1.9v1.9h-1.9zM72.8 384.4h1.9v1.9h-1.9zM81.1 391.3h1.9v1.9h-1.9zM81.8 409.7h1.9v1.9h-1.9zM73 390.2h1.9v1.9h-1.9z"/>
<path fill="#a09070" d="M79.7 425.6h1.9v1.9h-1.9zM83 432.7h1.9v1.9h-1.9zM73.9 430.2h1.9v1.9h-1.9zM68.6 424h1.9v1.9h-1.9zM73.7 427.8h1.9v1.9h-1.9zM90.8 420.5h1.9v1.9h-1.9zM65.1 417.5h1.9v1.9h-1.9zM94.4 422.9h1.9v1.9h-1.9zM78.3 421.5h1.9v1.9h-1.9zM73.9 427.5h1.9v1.9h-1.9zM74.7 420.6h1.9v1.9h-1.9zM71.3 426.2h1.9v1.9h-1.9zM79.6 431.7h1.9v1.9h-1.9zM84.9 414h1.9v1.9h-1.9z"/>
<path fill="#3a50b0" d="M62.4 375.8h1.9v1.9h-1.9zM73.2 377.4h1.9v1.9h-1.9zM55.2 385.5h1.9v1.9h-1.9zM85.9 387.9h1.9v1.9h-1.9zM78.5 386.3h1.9v1.9h-1.9zM69.8 371.8h1.9v1.9h-1.9zM64 379.1h1.9v1.9h-1.9zM75.3 386.8h1.9v1.9h-1.9zM88.8 379.3h1.9v1.9h-1.9zM61.3 372.6h1.9v1.9h-1.9zM97.8 375.6h1.9v1.9h-1.9zM56 390h1.9v1.9h-1.9zM60.1 384.4h1.9v1.9h-1.9zM76.6 383h1.9v1.9h-1.9zM75.2 382h1.9v1.9h-1.9zM73.2 379.4h1.9v1.9h-1.9zM63.8 383.9h1.9v1.9h-1.9zM61.6 372.5h1.9v1.9h-1.9zM60.1 384.8h1.9v1.9h-1.9zM73.7 390h1.9v1.9h-1.9zM103.9 389.9h1.9v1.9h-1.9zM82.9 373h1.9v1.9h-1.9zM78.4 378.9h1.9v1.9h-1.9zM80.2 386.9h1.9v1.9h-1.9zM66.6 386.3h1.9v1.9h-1.9zM91.5 377.4h1.9v1.9h-1.9zM72 368h1.9v1.9h-1.9zM72.2 377.7h1.9v1.9h-1.9zM102.1 384.8h1.9v1.9h-1.9zM82.8 369.3h1.9v1.9h-1.9zM68 374.1h1.9v1.9h-1.9zM83.3 378.3h1.9v1.9h-1.9z"/>
<path fill="#8a5a1a" d="M84.7 413.9h1.9v1.9h-1.9zM87 409.6h1.9v1.9h-1.9zM98.6 416.9h1.9v1.9h-1.9zM67.7 411.1h1.9v1.9h-1.9zM98.5 414.3h1.9v1.9h-1.9zM105.7 417.7h1.9v1.9h-1.9zM104.2 421.1h1.9v1.9h-1.9zM107.1 413.7h1.9v1.9h-1.9zM96 419.5h1.9v1.9h-1.9zM100.3 424.1h1.9v1.9h-1.9zM99.4 417.7h1.9v1.9h-1.9zM96.7 423.6h1.9v1.9h-1.9zM96.3 425.2h1.9v1.9h-1.9z"/>
<path fill="#5a90e0" d="M61.6 405.1h1.9v1.9h-1.9zM61.1 403.4h1.9v1.9h-1.9zM59 403.4h1.9v1.9h-1.9z"/>
<path fill="#80d0b4" d="M28.5 424.7h1.9v1.9h-1.9zM18.9 435.1h1.9v1.9h-1.9zM45.5 429.4h1.9v1.9h-1.9zM31.4 441h1.9v1.9h-1.9zM26.4 417.7h1.9v1.9h-1.9z"/>
<path fill="#80d0b0" d="M203 298.9h1.9v1.9h-1.9z"/>
<path fill="#1f5a2a" d="M40.9 374.4h1.9v1.9h-1.9zM37.7 375.9h1.9v1.9h-1.9z"/>
<path fill="#888" d="M118.5 313.8h1.9v1.9h-1.9z"/>
<path fill="#80d0b4" d="M28.4 405h1.9v1.9h-1.9zM30.3 434.8h1.9v1.9h-1.9zM26.2 417.5h1.9v1.9h-1.9zM25 413.8h1.9v1.9h-1.9zM30.8 442.6h1.9v1.9h-1.9zM15.6 432.3h1.9v1.9h-1.9zM37.1 409.9h1.9v1.9h-1.9zM24.9 423.7h1.9v1.9h-1.9z"/>
<path fill="#74d2e4" d="M96.2 358.4h1.9v1.9h-1.9zM68.4 357.6h1.9v1.9h-1.9zM127.7 365.4h1.9v1.9h-1.9zM74 365.5h1.9v1.9h-1.9zM77.2 361.7h1.9v1.9h-1.9zM73.4 366.7h1.9v1.9h-1.9zM123.5 345.2h1.9v1.9h-1.9zM78 354.7h1.9v1.9h-1.9zM71.8 356.5h1.9v1.9h-1.9zM72 358h1.9v1.9h-1.9zM100.4 360h1.9v1.9h-1.9zM71.8 349h1.9v1.9h-1.9zM77.7 357.9h1.9v1.9h-1.9zM112.6 359.1h1.9v1.9h-1.9zM99.6 364.1h1.9v1.9h-1.9zM123.6 345.6h1.9v1.9h-1.9zM70.5 354.9h1.9v1.9h-1.9zM69.3 366.1h1.9v1.9h-1.9zM89.3 360.6h1.9v1.9h-1.9zM124.7 354.6h1.9v1.9h-1.9zM99.8 360h1.9v1.9h-1.9zM74.7 358.6h1.9v1.9h-1.9z"/>
<path fill="#c87cc4" d="M77.8 334.2h1.9v1.9h-1.9zM69.8 336.5h1.9v1.9h-1.9zM74.3 323.1h1.9v1.9h-1.9zM72.1 319.1h1.9v1.9h-1.9zM69.1 327.5h1.9v1.9h-1.9zM69.6 329.9h1.9v1.9h-1.9zM62.1 326.3h1.9v1.9h-1.9zM83.3 342.3h1.9v1.9h-1.9zM72.1 331.8h1.9v1.9h-1.9zM71.3 323.8h1.9v1.9h-1.9zM87.2 339.9h1.9v1.9h-1.9zM72.6 347h1.9v1.9h-1.9zM78.8 346.4h1.9v1.9h-1.9zM83.5 336.2h1.9v1.9h-1.9zM63.4 328.5h1.9v1.9h-1.9zM69.8 335.4h1.9v1.9h-1.9zM65.1 326.7h1.9v1.9h-1.9zM75.9 319h1.9v1.9h-1.9zM71.4 340h1.9v1.9h-1.9zM61.4 324.9h1.9v1.9h-1.9zM61.7 337h1.9v1.9h-1.9zM73.7 332.4h1.9v1.9h-1.9zM66.6 334.4h1.9v1.9h-1.9zM63.2 320h1.9v1.9h-1.9zM64.4 337h1.9v1.9h-1.9zM68.9 331.4h1.9v1.9h-1.9zM67.7 335h1.9v1.9h-1.9zM73.4 317.7h1.9v1.9h-1.9zM75.6 338.2h1.9v1.9h-1.9zM80.4 345.5h1.9v1.9h-1.9zM76.6 334.5h1.9v1.9h-1.9zM59.1 332.5h1.9v1.9h-1.9zM70.2 325.4h1.9v1.9h-1.9zM76 339.3h1.9v1.9h-1.9zM64.1 335.8h1.9v1.9h-1.9zM66.1 326.6h1.9v1.9h-1.9z"/>
<path fill="#6a1212" d="M94.4 378.3h1.9v1.9h-1.9zM90.7 386.2h1.9v1.9h-1.9zM99.1 378.1h1.9v1.9h-1.9zM115.6 375.7h1.9v1.9h-1.9zM101.4 376.8h1.9v1.9h-1.9zM99.1 377h1.9v1.9h-1.9zM106.4 387.6h1.9v1.9h-1.9zM123.9 379.5h1.9v1.9h-1.9zM108.5 379.8h1.9v1.9h-1.9zM101.5 376.3h1.9v1.9h-1.9zM110 374.7h1.9v1.9h-1.9zM104.1 386.6h1.9v1.9h-1.9zM89.5 376.8h1.9v1.9h-1.9zM108.1 380.7h1.9v1.9h-1.9zM114.2 379.6h1.9v1.9h-1.9zM120.7 376.8h1.9v1.9h-1.9zM101.8 387h1.9v1.9h-1.9zM115.1 377.2h1.9v1.9h-1.9zM106.6 383.3h1.9v1.9h-1.9zM98.3 373.1h1.9v1.9h-1.9zM126.8 376.5h1.9v1.9h-1.9zM112.6 377.3h1.9v1.9h-1.9zM114.4 380.3h1.9v1.9h-1.9zM111.4 377.3h1.9v1.9h-1.9zM104.9 380.2h1.9v1.9h-1.9zM95.7 384.2h1.9v1.9h-1.9zM108.4 390.4h1.9v1.9h-1.9zM99.3 376.9h1.9v1.9h-1.9zM113.4 376.9h1.9v1.9h-1.9zM98.4 382.7h1.9v1.9h-1.9zM95.7 385.3h1.9v1.9h-1.9zM110.1 386.3h1.9v1.9h-1.9zM107.7 376.2h1.9v1.9h-1.9zM104.1 376.4h1.9v1.9h-1.9zM101.6 384.5h1.9v1.9h-1.9z"/>
<path fill="#283890" d="M94 384.3h1.9v1.9h-1.9zM90.4 381.6h1.9v1.9h-1.9zM82.4 382.7h1.9v1.9h-1.9zM93.2 383.5h1.9v1.9h-1.9zM92.8 375h1.9v1.9h-1.9zM89.1 378.4h1.9v1.9h-1.9zM93.3 379.2h1.9v1.9h-1.9z"/>
<path fill="#8a5a1a" d="M90.8 419.9h1.9v1.9h-1.9zM98.5 415.3h1.9v1.9h-1.9zM88.6 406.9h1.9v1.9h-1.9zM103.1 417.6h1.9v1.9h-1.9zM89.4 409.5h1.9v1.9h-1.9zM86.3 413.9h1.9v1.9h-1.9zM93.5 417.1h1.9v1.9h-1.9zM115.3 411.9h1.9v1.9h-1.9zM100.5 409.3h1.9v1.9h-1.9zM112.8 419.3h1.9v1.9h-1.9zM94.8 415h1.9v1.9h-1.9zM90.8 408h1.9v1.9h-1.9zM100 411.4h1.9v1.9h-1.9zM91.2 417.3h1.9v1.9h-1.9zM85.4 423.4h1.9v1.9h-1.9zM100.8 430h1.9v1.9h-1.9zM77.6 421.6h1.9v1.9h-1.9zM98.2 414.5h1.9v1.9h-1.9z"/>
<path fill="#8040b0" d="M67.7 392.5h1.9v1.9h-1.9zM72 395.4h1.9v1.9h-1.9zM68.5 396.9h1.9v1.9h-1.9zM72.8 385.4h1.9v1.9h-1.9zM52.9 387.6h1.9v1.9h-1.9zM80.8 403.1h1.9v1.9h-1.9zM73.9 396.9h1.9v1.9h-1.9zM70.9 407.8h1.9v1.9h-1.9zM82 395.4h1.9v1.9h-1.9zM71.4 385.9h1.9v1.9h-1.9zM75.8 400.9h1.9v1.9h-1.9zM67.5 399.7h1.9v1.9h-1.9zM67.2 394.9h1.9v1.9h-1.9zM81.4 388.8h1.9v1.9h-1.9zM67.4 404.6h1.9v1.9h-1.9z"/>
<path fill="#3a50b0" d="M67.3 377.6h1.9v1.9h-1.9zM62.2 384.7h1.9v1.9h-1.9zM63.9 371.2h1.9v1.9h-1.9zM71.3 377.3h1.9v1.9h-1.9zM69.9 380.2h1.9v1.9h-1.9zM87.5 372h1.9v1.9h-1.9zM72.1 378.8h1.9v1.9h-1.9zM73.7 378.2h1.9v1.9h-1.9zM67.9 379.7h1.9v1.9h-1.9zM81.4 384.4h1.9v1.9h-1.9zM57.5 381.3h1.9v1.9h-1.9zM79.7 395.6h1.9v1.9h-1.9zM61.2 384.9h1.9v1.9h-1.9zM83.6 379.4h1.9v1.9h-1.9zM57.6 378.8h1.9v1.9h-1.9zM69 383.3h1.9v1.9h-1.9zM86 379.6h1.9v1.9h-1.9zM85.6 386.3h1.9v1.9h-1.9zM75.1 383.9h1.9v1.9h-1.9zM81.7 383.9h1.9v1.9h-1.9zM72.8 383.9h1.9v1.9h-1.9zM56.1 381.7h1.9v1.9h-1.9zM85.1 378.2h1.9v1.9h-1.9zM74.8 381.3h1.9v1.9h-1.9zM85.6 381.2h1.9v1.9h-1.9zM82 374.2h1.9v1.9h-1.9z"/>
<path fill="#141414" d="M97.1 342.5h1.9v1.9h-1.9zM103 339.3h1.9v1.9h-1.9zM93 359.3h1.9v1.9h-1.9zM91.6 341.7h1.9v1.9h-1.9zM101.1 333.8h1.9v1.9h-1.9zM96.7 355h1.9v1.9h-1.9zM86.5 355.2h1.9v1.9h-1.9zM90.4 337.3h1.9v1.9h-1.9zM99.2 329.7h1.9v1.9h-1.9zM95.1 329.6h1.9v1.9h-1.9zM88.4 322.3h1.9v1.9h-1.9zM94.4 348.8h1.9v1.9h-1.9zM97.8 353.4h1.9v1.9h-1.9zM87.6 335.7h1.9v1.9h-1.9zM86.3 337.7h1.9v1.9h-1.9zM86.5 344.7h1.9v1.9h-1.9zM86.9 333.9h1.9v1.9h-1.9zM100.6 333.6h1.9v1.9h-1.9zM98.7 335h1.9v1.9h-1.9zM102.6 361.5h1.9v1.9h-1.9zM92.6 358.8h1.9v1.9h-1.9zM94.6 333.1h1.9v1.9h-1.9zM92.9 340.5h1.9v1.9h-1.9zM94.6 323h1.9v1.9h-1.9zM92.7 337.4h1.9v1.9h-1.9zM102.2 336h1.9v1.9h-1.9zM97 353.5h1.9v1.9h-1.9zM97.3 324.9h1.9v1.9h-1.9zM87.5 330.2h1.9v1.9h-1.9zM96.6 343.1h1.9v1.9h-1.9zM95.5 345.8h1.9v1.9h-1.9zM91.3 353.7h1.9v1.9h-1.9z"/>
<path fill="#22a0a0" d="M40.4 417.2h1.9v1.9h-1.9zM43.1 407.8h1.9v1.9h-1.9zM41.8 415.4h1.9v1.9h-1.9zM54.3 417h1.9v1.9h-1.9zM54.6 405h1.9v1.9h-1.9zM56.7 407.7h1.9v1.9h-1.9zM59.2 412.9h1.9v1.9h-1.9zM60.4 415.3h1.9v1.9h-1.9zM66 411.2h1.9v1.9h-1.9zM53.5 406.2h1.9v1.9h-1.9zM54.4 416.7h1.9v1.9h-1.9zM58.5 410.1h1.9v1.9h-1.9zM49.7 416h1.9v1.9h-1.9zM49.7 409.6h1.9v1.9h-1.9zM50.1 414h1.9v1.9h-1.9zM64.8 407.2h1.9v1.9h-1.9zM60.3 414.3h1.9v1.9h-1.9z"/>
<path fill="#a09070" d="M87.3 423.1h1.9v1.9h-1.9zM81.8 420h1.9v1.9h-1.9zM80.4 423.4h1.9v1.9h-1.9zM76.9 432.6h1.9v1.9h-1.9zM88.1 427h1.9v1.9h-1.9zM81.4 431.2h1.9v1.9h-1.9zM79.9 428.7h1.9v1.9h-1.9zM89.2 423.8h1.9v1.9h-1.9zM70.2 425h1.9v1.9h-1.9z"/>
<path fill="#888" d="M98 334.8h1.9v1.9h-1.9zM93.2 296.3h1.9v1.9h-1.9zM100.4 316.2h1.9v1.9h-1.9zM108 305.7h1.9v1.9h-1.9z"/>
<path fill="#5a90e0" d="M54.7 405.8h1.9v1.9h-1.9zM61.7 404.8h1.9v1.9h-1.9zM62.4 402.3h1.9v1.9h-1.9zM64.3 402.7h1.9v1.9h-1.9zM62.8 406.2h1.9v1.9h-1.9zM61.7 404.6h1.9v1.9h-1.9zM64.4 405.3h1.9v1.9h-1.9zM51.5 411.4h1.9v1.9h-1.9zM70.9 403.5h1.9v1.9h-1.9z"/>
<path fill="#222" d="M103.4 306.5h1.9v1.9h-1.9zM94.7 294.9h1.9v1.9h-1.9z"/>
<path fill="#80d0b0" d="M206.9 302.1h1.9v1.9h-1.9zM206.9 308.3h1.9v1.9h-1.9z"/>
<path fill="#1a1a1a" d="M117.5 318.9h1.9v1.9h-1.9zM93.2 315.2h1.9v1.9h-1.9zM96.9 329h1.9v1.9h-1.9zM94.1 337.8h1.9v1.9h-1.9zM87.7 327.6h1.9v1.9h-1.9zM105.9 323.5h1.9v1.9h-1.9z"/>
<path fill="#1f5a2a" d="M50.5 372.3h1.9v1.9h-1.9zM38.9 373.8h1.9v1.9h-1.9z"/>
<path fill="#3a50b0" d="M72 388.8h1.9v1.9h-1.9zM79.7 383.6h1.9v1.9h-1.9zM72.7 384.3h1.9v1.9h-1.9zM67 376.9h1.9v1.9h-1.9zM91.1 381.3h1.9v1.9h-1.9zM63.7 387h1.9v1.9h-1.9zM78.1 366h1.9v1.9h-1.9zM71.7 379.6h1.9v1.9h-1.9zM61.9 376.6h1.9v1.9h-1.9zM71 371.3h1.9v1.9h-1.9zM56 375.6h1.9v1.9h-1.9zM86.3 373.7h1.9v1.9h-1.9zM75.3 383.4h1.9v1.9h-1.9zM60.6 379.6h1.9v1.9h-1.9zM75.4 380.3h1.9v1.9h-1.9zM73.6 371.8h1.9v1.9h-1.9zM64.8 386.4h1.9v1.9h-1.9zM69 386.3h1.9v1.9h-1.9zM81.5 385.8h1.9v1.9h-1.9zM68.8 386.9h1.9v1.9h-1.9zM75.4 384.9h1.9v1.9h-1.9zM49.1 384h1.9v1.9h-1.9zM72 381.3h1.9v1.9h-1.9zM75.1 387.6h1.9v1.9h-1.9zM57.4 380.7h1.9v1.9h-1.9zM95 376.6h1.9v1.9h-1.9zM52.8 384.1h1.9v1.9h-1.9zM65.4 377.7h1.9v1.9h-1.9zM61.2 371.7h1.9v1.9h-1.9zM63.2 380.3h1.9v1.9h-1.9zM71.7 389h1.9v1.9h-1.9zM74.4 386.3h1.9v1.9h-1.9zM61.4 380.6h1.9v1.9h-1.9zM73.1 383.7h1.9v1.9h-1.9zM84.3 367.2h1.9v1.9h-1.9z"/>
<path fill="#6a1212" d="M100.6 386.8h1.9v1.9h-1.9zM111.1 380.2h1.9v1.9h-1.9zM101.7 387.8h1.9v1.9h-1.9zM95.9 380.2h1.9v1.9h-1.9zM111.3 371.7h1.9v1.9h-1.9zM111.9 381.5h1.9v1.9h-1.9zM97.1 378.6h1.9v1.9h-1.9zM96.4 389h1.9v1.9h-1.9zM105 379.5h1.9v1.9h-1.9zM108.3 374.9h1.9v1.9h-1.9zM115.2 383.9h1.9v1.9h-1.9zM106.5 382.4h1.9v1.9h-1.9zM115 389.2h1.9v1.9h-1.9zM112.6 371.3h1.9v1.9h-1.9zM117.3 387.8h1.9v1.9h-1.9zM110 383.7h1.9v1.9h-1.9zM110.8 391.1h1.9v1.9h-1.9zM108.2 381.2h1.9v1.9h-1.9zM94.7 373.6h1.9v1.9h-1.9zM88.9 378.7h1.9v1.9h-1.9zM121.6 390.3h1.9v1.9h-1.9zM105.6 376.2h1.9v1.9h-1.9zM111.8 378.8h1.9v1.9h-1.9zM125.1 381.3h1.9v1.9h-1.9zM110.7 387.2h1.9v1.9h-1.9zM120.6 390h1.9v1.9h-1.9zM106.9 376.7h1.9v1.9h-1.9zM105.8 384.3h1.9v1.9h-1.9zM106.8 378.3h1.9v1.9h-1.9zM96.1 383.5h1.9v1.9h-1.9zM99.7 379.6h1.9v1.9h-1.9zM91.7 378.8h1.9v1.9h-1.9zM111.9 388.2h1.9v1.9h-1.9zM106.3 371.9h1.9v1.9h-1.9zM112.2 382h1.9v1.9h-1.9z"/>
<path fill="#8a5a1a" d="M97.5 416.3h1.9v1.9h-1.9zM93 411.9h1.9v1.9h-1.9zM101 419.5h1.9v1.9h-1.9zM89.2 421.6h1.9v1.9h-1.9zM101.1 422.2h1.9v1.9h-1.9zM91.4 408.3h1.9v1.9h-1.9zM86.4 422.9h1.9v1.9h-1.9zM87.6 406h1.9v1.9h-1.9zM92.4 438.1h1.9v1.9h-1.9zM113.7 423.5h1.9v1.9h-1.9zM96.5 411.8h1.9v1.9h-1.9zM97.5 407.8h1.9v1.9h-1.9zM84.7 423.1h1.9v1.9h-1.9zM102.6 413.5h1.9v1.9h-1.9zM95 409.6h1.9v1.9h-1.9zM95 419.6h1.9v1.9h-1.9zM104.2 412.1h1.9v1.9h-1.9zM83.5 415.7h1.9v1.9h-1.9z"/>
<path fill="#74d2e4" d="M74.9 357.4h1.9v1.9h-1.9zM69.2 366.3h1.9v1.9h-1.9zM78.5 356.2h1.9v1.9h-1.9zM102.9 354.2h1.9v1.9h-1.9zM111.9 361.2h1.9v1.9h-1.9zM82.2 361.7h1.9v1.9h-1.9zM99.7 362.8h1.9v1.9h-1.9zM109.7 355.5h1.9v1.9h-1.9zM88.8 356.2h1.9v1.9h-1.9zM78.1 356.8h1.9v1.9h-1.9zM130.8 349.6h1.9v1.9h-1.9zM80.5 357.9h1.9v1.9h-1.9zM91.9 366.2h1.9v1.9h-1.9zM81.4 358h1.9v1.9h-1.9zM110.7 350.1h1.9v1.9h-1.9zM112.1 361.4h1.9v1.9h-1.9zM99.6 354.3h1.9v1.9h-1.9zM94.6 355.9h1.9v1.9h-1.9zM81.7 355.8h1.9v1.9h-1.9zM69.5 364h1.9v1.9h-1.9z"/>
<path fill="#80d0b0" d="M207.6 304.4h1.9v1.9h-1.9zM195.1 295.7h1.9v1.9h-1.9zM218.9 294.9h1.9v1.9h-1.9zM211.6 310.9h1.9v1.9h-1.9z"/>
<path fill="#141414" d="M96.3 337.6h1.9v1.9h-1.9zM100.4 348.7h1.9v1.9h-1.9zM91.6 356h1.9v1.9h-1.9zM96.2 339.4h1.9v1.9h-1.9zM97.8 336.5h1.9v1.9h-1.9zM100 365.2h1.9v1.9h-1.9zM94.6 332.4h1.9v1.9h-1.9zM99.8 326.6h1.9v1.9h-1.9zM93.8 341.1h1.9v1.9h-1.9zM88.5 335.1h1.9v1.9h-1.9zM91 348.7h1.9v1.9h-1.9zM84.1 342.9h1.9v1.9h-1.9zM100.5 356.4h1.9v1.9h-1.9zM91.6 344.3h1.9v1.9h-1.9zM92.9 346.8h1.9v1.9h-1.9zM93.5 347.4h1.9v1.9h-1.9zM100.3 347.3h1.9v1.9h-1.9zM99.8 349.6h1.9v1.9h-1.9zM100.3 348.1h1.9v1.9h-1.9zM89.8 349.1h1.9v1.9h-1.9zM96.4 333.1h1.9v1.9h-1.9zM88.4 349.9h1.9v1.9h-1.9zM104.7 322.5h1.9v1.9h-1.9zM98.6 331.6h1.9v1.9h-1.9zM88.6 350.3h1.9v1.9h-1.9zM90.6 348.8h1.9v1.9h-1.9zM92.2 325.3h1.9v1.9h-1.9zM102.3 334.4h1.9v1.9h-1.9zM92.7 339.7h1.9v1.9h-1.9zM88.5 356.8h1.9v1.9h-1.9zM90.9 336.9h1.9v1.9h-1.9zM86.8 336.8h1.9v1.9h-1.9zM91.5 340.3h1.9v1.9h-1.9zM97.5 345h1.9v1.9h-1.9z"/>
<path fill="#c87cc4" d="M73 338.7h1.9v1.9h-1.9zM73 325.8h1.9v1.9h-1.9zM78 337.9h1.9v1.9h-1.9zM71.8 327h1.9v1.9h-1.9zM75.2 334.7h1.9v1.9h-1.9zM71.6 332.4h1.9v1.9h-1.9zM75.4 337.4h1.9v1.9h-1.9zM71.7 330.7h1.9v1.9h-1.9zM79.1 341.4h1.9v1.9h-1.9zM61.3 327.1h1.9v1.9h-1.9zM59.7 319.6h1.9v1.9h-1.9zM79.8 339.8h1.9v1.9h-1.9zM71.9 332.9h1.9v1.9h-1.9zM74.8 330.5h1.9v1.9h-1.9zM67.7 330.6h1.9v1.9h-1.9zM74.5 338.2h1.9v1.9h-1.9zM69.1 324.4h1.9v1.9h-1.9zM59.7 323.8h1.9v1.9h-1.9zM74.2 335.7h1.9v1.9h-1.9zM71.8 334.6h1.9v1.9h-1.9zM75.9 340.7h1.9v1.9h-1.9zM65.2 312.3h1.9v1.9h-1.9zM73 328.4h1.9v1.9h-1.9zM69.9 324.4h1.9v1.9h-1.9zM80.1 334.7h1.9v1.9h-1.9z"/>
<path fill="#1a1a1a" d="M104 324.5h1.9v1.9h-1.9zM106.4 328.7h1.9v1.9h-1.9zM118.1 312.9h1.9v1.9h-1.9zM111.4 313.3h1.9v1.9h-1.9zM125 328.7h1.9v1.9h-1.9zM103.8 305.6h1.9v1.9h-1.9zM74.5 317.7h1.9v1.9h-1.9zM97.7 317.8h1.9v1.9h-1.9zM122.5 318.4h1.9v1.9h-1.9zM106.4 324.2h1.9v1.9h-1.9z"/>
<path fill="#a09070" d="M82.4 420.6h1.9v1.9h-1.9zM75.2 422.2h1.9v1.9h-1.9zM77.2 430h1.9v1.9h-1.9zM80.8 425.3h1.9v1.9h-1.9zM67.7 424h1.9v1.9h-1.9zM75.2 434.3h1.9v1.9h-1.9zM77.2 434.2h1.9v1.9h-1.9z"/>
<path fill="#5a90e0" d="M63.1 405.1h1.9v1.9h-1.9zM60.2 405.2h1.9v1.9h-1.9zM60.1 408.6h1.9v1.9h-1.9zM67.9 401.7h1.9v1.9h-1.9zM58.3 402.5h1.9v1.9h-1.9zM53 404.7h1.9v1.9h-1.9z"/>
<path fill="#283890" d="M84.2 383.5h1.9v1.9h-1.9zM88.2 385.2h1.9v1.9h-1.9zM92.3 373.3h1.9v1.9h-1.9zM83.6 379.2h1.9v1.9h-1.9zM95.3 377.6h1.9v1.9h-1.9zM85.8 378.2h1.9v1.9h-1.9zM89.4 378.1h1.9v1.9h-1.9zM90.1 384.3h1.9v1.9h-1.9zM90.3 377.9h1.9v1.9h-1.9z"/>
<path fill="#22a0a0" d="M44 419.3h1.9v1.9h-1.9zM61.5 411.8h1.9v1.9h-1.9zM52.2 415.3h1.9v1.9h-1.9zM43.8 411.4h1.9v1.9h-1.9zM60.1 409.7h1.9v1.9h-1.9zM61.3 412.5h1.9v1.9h-1.9zM51.1 417.7h1.9v1.9h-1.9zM47.9 413.5h1.9v1.9h-1.9zM53.1 414.5h1.9v1.9h-1.9zM44.5 412.9h1.9v1.9h-1.9zM52.5 410.8h1.9v1.9h-1.9zM58.8 411.1h1.9v1.9h-1.9zM60.3 419.4h1.9v1.9h-1.9zM48.8 414.1h1.9v1.9h-1.9zM57.5 421.1h1.9v1.9h-1.9zM63.2 413.5h1.9v1.9h-1.9zM63.8 418.8h1.9v1.9h-1.9zM59.8 409.8h1.9v1.9h-1.9zM50.7 419.1h1.9v1.9h-1.9zM68 416.6h1.9v1.9h-1.9z"/>
<path fill="#1f5a2a" d="M46.6 377.8h1.9v1.9h-1.9zM41.5 372.3h1.9v1.9h-1.9zM45.4 372.4h1.9v1.9h-1.9zM39.4 376.4h1.9v1.9h-1.9zM39.2 373h1.9v1.9h-1.9z"/>
<path fill="#8040b0" d="M77.4 399.7h1.9v1.9h-1.9zM68.6 395.1h1.9v1.9h-1.9zM68.9 399.2h1.9v1.9h-1.9zM83.3 400.2h1.9v1.9h-1.9zM70.3 392.7h1.9v1.9h-1.9zM69.9 400.6h1.9v1.9h-1.9zM60.8 408.5h1.9v1.9h-1.9zM78.5 400.4h1.9v1.9h-1.9zM62 393.8h1.9v1.9h-1.9zM70 392.8h1.9v1.9h-1.9zM80.6 396.1h1.9v1.9h-1.9zM66.9 399.3h1.9v1.9h-1.9zM65.8 404.8h1.9v1.9h-1.9z"/>
<path fill="#80d0b4" d="M29 432.5h1.9v1.9h-1.9zM29.8 426.4h1.9v1.9h-1.9zM29.5 416.4h1.9v1.9h-1.9zM18.9 439.1h1.9v1.9h-1.9zM22.3 430.6h1.9v1.9h-1.9z"/>
<path fill="#888" d="M80.2 326.1h1.9v1.9h-1.9zM104.7 314.2h1.9v1.9h-1.9z"/>
<path fill="#222" d="M92.8 305.1h1.9v1.9h-1.9zM104.2 301.9h1.9v1.9h-1.9z"/>
<path fill="#141414" d="M94.1 343.7h1.9v1.9h-1.9zM92.6 341.8h1.9v1.9h-1.9zM98.7 351.3h1.9v1.9h-1.9zM88.2 344.8h1.9v1.9h-1.9zM85.6 340.9h1.9v1.9h-1.9zM93.6 336.2h1.9v1.9h-1.9zM89.8 337.8h1.9v1.9h-1.9zM102.1 336.4h1.9v1.9h-1.9zM87.7 350.4h1.9v1.9h-1.9zM94.4 359h1.9v1.9h-1.9zM90.7 331.6h1.9v1.9h-1.9zM89.8 348h1.9v1.9h-1.9zM89.6 338.8h1.9v1.9h-1.9zM96.5 340.6h1.9v1.9h-1.9zM98.1 333h1.9v1.9h-1.9zM93.7 335.2h1.9v1.9h-1.9zM94.2 357.9h1.9v1.9h-1.9zM99.6 341.3h1.9v1.9h-1.9zM96.3 333.7h1.9v1.9h-1.9zM87.9 353.7h1.9v1.9h-1.9zM93 347.7h1.9v1.9h-1.9zM102 334.4h1.9v1.9h-1.9zM92.6 337.1h1.9v1.9h-1.9zM100.8 344.6h1.9v1.9h-1.9zM104.5 350.6h1.9v1.9h-1.9zM93.2 336.5h1.9v1.9h-1.9zM98.9 324.9h1.9v1.9h-1.9zM92.1 327.2h1.9v1.9h-1.9zM101.2 332.6h1.9v1.9h-1.9zM100 345.5h1.9v1.9h-1.9zM84.7 326.6h1.9v1.9h-1.9zM97.4 337.1h1.9v1.9h-1.9zM91.6 340.4h1.9v1.9h-1.9zM101.6 341h1.9v1.9h-1.9zM90.5 336.3h1.9v1.9h-1.9zM94.6 348.5h1.9v1.9h-1.9zM97.5 338.2h1.9v1.9h-1.9zM98.6 345h1.9v1.9h-1.9zM94.4 340.9h1.9v1.9h-1.9zM97.3 337.7h1.9v1.9h-1.9zM95.9 351.9h1.9v1.9h-1.9zM97 344.7h1.9v1.9h-1.9zM92.9 340.1h1.9v1.9h-1.9z"/>
<path fill="#3a50b0" d="M66.5 380.8h1.9v1.9h-1.9zM73.5 374.4h1.9v1.9h-1.9zM71 377.5h1.9v1.9h-1.9zM81.1 377.5h1.9v1.9h-1.9zM87.8 377h1.9v1.9h-1.9zM86.7 381.3h1.9v1.9h-1.9zM71.8 388.8h1.9v1.9h-1.9zM82.6 390.8h1.9v1.9h-1.9zM89.3 372.6h1.9v1.9h-1.9zM74.2 371.9h1.9v1.9h-1.9zM69.8 377.1h1.9v1.9h-1.9zM66.5 384.5h1.9v1.9h-1.9zM64.3 383.9h1.9v1.9h-1.9zM84.8 372.5h1.9v1.9h-1.9zM97.3 379.8h1.9v1.9h-1.9zM96.2 384.4h1.9v1.9h-1.9zM81.6 385.7h1.9v1.9h-1.9zM71.9 383.3h1.9v1.9h-1.9zM74.3 376.1h1.9v1.9h-1.9zM74.2 389.8h1.9v1.9h-1.9zM78.1 393.2h1.9v1.9h-1.9zM81 375.1h1.9v1.9h-1.9zM66.2 375.6h1.9v1.9h-1.9zM74.2 380.1h1.9v1.9h-1.9zM71.9 378.3h1.9v1.9h-1.9zM72.7 373.6h1.9v1.9h-1.9zM84.6 382.3h1.9v1.9h-1.9zM76.3 383h1.9v1.9h-1.9zM76 382h1.9v1.9h-1.9zM82.7 374.2h1.9v1.9h-1.9zM64.4 374.4h1.9v1.9h-1.9zM70.8 379.8h1.9v1.9h-1.9zM84.5 393.7h1.9v1.9h-1.9zM71.1 373h1.9v1.9h-1.9zM80 385.5h1.9v1.9h-1.9z"/>
<path fill="#22a0a0" d="M69.2 412.8h1.9v1.9h-1.9zM53.6 411.5h1.9v1.9h-1.9zM58.6 413.9h1.9v1.9h-1.9zM55.9 407.7h1.9v1.9h-1.9zM51.7 409.6h1.9v1.9h-1.9zM55 416.8h1.9v1.9h-1.9zM38.7 413.9h1.9v1.9h-1.9zM74.6 409.6h1.9v1.9h-1.9zM49.8 422.7h1.9v1.9h-1.9zM57.9 405.5h1.9v1.9h-1.9zM61.7 417h1.9v1.9h-1.9z"/>
<path fill="#283890" d="M81.3 379h1.9v1.9h-1.9zM82.8 376.5h1.9v1.9h-1.9zM96.6 383.1h1.9v1.9h-1.9zM87 375.4h1.9v1.9h-1.9zM91.8 379.1h1.9v1.9h-1.9zM87.8 387.5h1.9v1.9h-1.9zM88 377.6h1.9v1.9h-1.9zM92.3 384.9h1.9v1.9h-1.9zM98.1 375.7h1.9v1.9h-1.9z"/>
<path fill="#74d2e4" d="M83.9 355.4h1.9v1.9h-1.9zM92.7 365.2h1.9v1.9h-1.9zM97.3 367.4h1.9v1.9h-1.9zM71.8 363h1.9v1.9h-1.9zM84.1 363.9h1.9v1.9h-1.9zM82.8 360.9h1.9v1.9h-1.9zM83.3 361.8h1.9v1.9h-1.9zM107 365.2h1.9v1.9h-1.9zM109.1 360.1h1.9v1.9h-1.9zM106.8 355.5h1.9v1.9h-1.9zM86.5 355h1.9v1.9h-1.9zM80.9 347.4h1.9v1.9h-1.9zM83.9 371.9h1.9v1.9h-1.9zM97.3 353.8h1.9v1.9h-1.9zM66.6 353.3h1.9v1.9h-1.9zM81.9 355.4h1.9v1.9h-1.9zM95.7 361.4h1.9v1.9h-1.9zM133 347h1.9v1.9h-1.9z"/>
<path fill="#c87cc4" d="M79.9 351.6h1.9v1.9h-1.9zM68.3 320.3h1.9v1.9h-1.9zM65.8 323h1.9v1.9h-1.9zM70.6 341h1.9v1.9h-1.9zM64.6 333.1h1.9v1.9h-1.9zM68.4 331.9h1.9v1.9h-1.9zM65.9 325h1.9v1.9h-1.9zM80.1 344.5h1.9v1.9h-1.9zM70.5 327.4h1.9v1.9h-1.9zM72.3 330.3h1.9v1.9h-1.9zM66.3 316.6h1.9v1.9h-1.9zM70.9 348.6h1.9v1.9h-1.9zM63.1 327.7h1.9v1.9h-1.9zM77.2 335.3h1.9v1.9h-1.9zM59.2 308h1.9v1.9h-1.9zM79.4 335.3h1.9v1.9h-1.9zM62.9 322.2h1.9v1.9h-1.9zM71.2 311.5h1.9v1.9h-1.9zM62 321.1h1.9v1.9h-1.9zM69.4 319.5h1.9v1.9h-1.9zM73.8 333.3h1.9v1.9h-1.9zM78.3 334.8h1.9v1.9h-1.9zM70.6 326.7h1.9v1.9h-1.9zM79.7 340.8h1.9v1.9h-1.9zM80.4 334h1.9v1.9h-1.9zM66.4 311h1.9v1.9h-1.9zM84.2 336.1h1.9v1.9h-1.9zM64.1 311.4h1.9v1.9h-1.9zM70.8 331.1h1.9v1.9h-1.9zM54.9 324.9h1.9v1.9h-1.9zM71.9 334.3h1.9v1.9h-1.9zM61.4 325.4h1.9v1.9h-1.9z"/>
<path fill="#80d0b0" d="M202.6 299.1h1.9v1.9h-1.9zM214.1 298.1h1.9v1.9h-1.9zM197.5 311.8h1.9v1.9h-1.9zM204.5 308.4h1.9v1.9h-1.9zM201.5 304.2h1.9v1.9h-1.9zM209.2 314.6h1.9v1.9h-1.9zM198.2 308.1h1.9v1.9h-1.9z"/>
<path fill="#a09070" d="M76.7 434.2h1.9v1.9h-1.9zM75.9 434.5h1.9v1.9h-1.9zM88.3 430.5h1.9v1.9h-1.9zM76.8 427.6h1.9v1.9h-1.9zM85.5 431.6h1.9v1.9h-1.9zM77.1 425.1h1.9v1.9h-1.9zM77.5 425.2h1.9v1.9h-1.9zM85.3 430.1h1.9v1.9h-1.9zM76.3 436.8h1.9v1.9h-1.9z"/>
<path fill="#8040b0" d="M64.7 395.9h1.9v1.9h-1.9zM59.6 410h1.9v1.9h-1.9zM71.2 394.6h1.9v1.9h-1.9zM79.3 389.9h1.9v1.9h-1.9zM73.9 402h1.9v1.9h-1.9zM58.6 401.4h1.9v1.9h-1.9zM76.3 388.3h1.9v1.9h-1.9zM65.3 395.1h1.9v1.9h-1.9zM74.5 391.7h1.9v1.9h-1.9zM63 397.9h1.9v1.9h-1.9zM79.4 389.9h1.9v1.9h-1.9zM72.8 399.9h1.9v1.9h-1.9zM58.6 391.4h1.9v1.9h-1.9zM66.8 398.4h1.9v1.9h-1.9zM57.9 393.4h1.9v1.9h-1.9zM71.9 392.7h1.9v1.9h-1.9zM67.5 397.5h1.9v1.9h-1.9zM70.6 407.5h1.9v1.9h-1.9z"/>
<path fill="#8a5a1a" d="M85.2 413.3h1.9v1.9h-1.9zM84.1 421.6h1.9v1.9h-1.9zM85 416.7h1.9v1.9h-1.9zM100.3 410.1h1.9v1.9h-1.9zM98.2 413.2h1.9v1.9h-1.9zM92.4 405.5h1.9v1.9h-1.9zM99.3 420.1h1.9v1.9h-1.9zM88.6 406.9h1.9v1.9h-1.9zM88.6 416.8h1.9v1.9h-1.9zM93 418.6h1.9v1.9h-1.9zM94.7 417.6h1.9v1.9h-1.9zM99.6 418.8h1.9v1.9h-1.9zM98.7 418h1.9v1.9h-1.9zM97.1 416.1h1.9v1.9h-1.9zM96.9 419.2h1.9v1.9h-1.9zM99.1 425.2h1.9v1.9h-1.9zM102.9 408.1h1.9v1.9h-1.9zM89.3 418.1h1.9v1.9h-1.9zM87.8 410.3h1.9v1.9h-1.9zM85.8 418h1.9v1.9h-1.9z"/>
<path fill="#80d0b4" d="M35.7 444.6h1.9v1.9h-1.9zM14.7 432.1h1.9v1.9h-1.9zM30.8 442.7h1.9v1.9h-1.9zM34 431.7h1.9v1.9h-1.9zM20.5 423.3h1.9v1.9h-1.9zM26.8 419.4h1.9v1.9h-1.9zM32.3 423h1.9v1.9h-1.9z"/>
<path fill="#6a1212" d="M108.2 387h1.9v1.9h-1.9zM105.4 382.9h1.9v1.9h-1.9zM107.3 387.6h1.9v1.9h-1.9zM105.5 379.4h1.9v1.9h-1.9zM100.1 383.8h1.9v1.9h-1.9zM114.6 381.4h1.9v1.9h-1.9zM96.4 379.9h1.9v1.9h-1.9zM107.5 382.6h1.9v1.9h-1.9zM109.2 382.6h1.9v1.9h-1.9zM94.9 385.9h1.9v1.9h-1.9zM102.5 373h1.9v1.9h-1.9zM99.7 379.4h1.9v1.9h-1.9zM130.4 367.4h1.9v1.9h-1.9zM106.6 377.5h1.9v1.9h-1.9zM87.8 372.8h1.9v1.9h-1.9zM107.1 377.3h1.9v1.9h-1.9zM110.2 379.4h1.9v1.9h-1.9zM110.3 373.2h1.9v1.9h-1.9zM96.3 381.1h1.9v1.9h-1.9zM99.3 391.4h1.9v1.9h-1.9zM102.4 386.3h1.9v1.9h-1.9zM97.1 377.1h1.9v1.9h-1.9zM116.2 377.4h1.9v1.9h-1.9zM101.1 388.5h1.9v1.9h-1.9zM128.1 382.7h1.9v1.9h-1.9zM96.9 371h1.9v1.9h-1.9zM105.1 382.4h1.9v1.9h-1.9z"/>
<path fill="#5a90e0" d="M67.6 407.6h1.9v1.9h-1.9zM70 405.6h1.9v1.9h-1.9zM51.9 410h1.9v1.9h-1.9zM60.2 402.1h1.9v1.9h-1.9z"/>
<path fill="#1a1a1a" d="M110.3 317.5h1.9v1.9h-1.9zM82.2 303.9h1.9v1.9h-1.9zM108 347.8h1.9v1.9h-1.9zM109.2 330.4h1.9v1.9h-1.9zM94.6 313.1h1.9v1.9h-1.9zM110.8 334.7h1.9v1.9h-1.9z"/>
<path fill="#222" d="M96.8 301.8h1.9v1.9h-1.9z"/>
<path fill="#888" d="M109 308.2h1.9v1.9h-1.9zM101.1 338.2h1.9v1.9h-1.9z"/>
<path fill="#1f5a2a" d="M32.7 374.2h1.9v1.9h-1.9z"/>
<path fill="#8040b0" d="M76.8 390.1h1.9v1.9h-1.9zM73.3 412.7h1.9v1.9h-1.9zM73.4 397.5h1.9v1.9h-1.9zM68.3 389h1.9v1.9h-1.9zM72.7 399.5h1.9v1.9h-1.9zM81.5 400.7h1.9v1.9h-1.9zM71.2 398.7h1.9v1.9h-1.9zM64.1 403.6h1.9v1.9h-1.9zM64.3 388.5h1.9v1.9h-1.9zM66.8 395.8h1.9v1.9h-1.9zM78.6 399.8h1.9v1.9h-1.9zM71.9 387.7h1.9v1.9h-1.9zM74.8 388.1h1.9v1.9h-1.9zM64.9 389.1h1.9v1.9h-1.9zM80.5 402.4h1.9v1.9h-1.9zM78.2 398.9h1.9v1.9h-1.9zM78.6 391.8h1.9v1.9h-1.9zM82.8 394.4h1.9v1.9h-1.9zM77.4 399.4h1.9v1.9h-1.9zM68 404.9h1.9v1.9h-1.9z"/>
<path fill="#141414" d="M100.1 340.6h1.9v1.9h-1.9zM95.8 360.5h1.9v1.9h-1.9zM92.8 350.2h1.9v1.9h-1.9zM96.4 330.5h1.9v1.9h-1.9zM96.9 351h1.9v1.9h-1.9zM99.9 343.6h1.9v1.9h-1.9zM102.9 340.9h1.9v1.9h-1.9zM89.8 337.4h1.9v1.9h-1.9zM92.5 338.2h1.9v1.9h-1.9zM92.9 342.2h1.9v1.9h-1.9zM92.9 345.8h1.9v1.9h-1.9zM97.5 332.6h1.9v1.9h-1.9zM99.4 351.2h1.9v1.9h-1.9zM91.3 334.7h1.9v1.9h-1.9zM97.4 338.6h1.9v1.9h-1.9zM91.8 338.9h1.9v1.9h-1.9zM92.4 342.3h1.9v1.9h-1.9zM95.5 340h1.9v1.9h-1.9zM95.3 330h1.9v1.9h-1.9zM89.7 356.6h1.9v1.9h-1.9zM84.3 352.1h1.9v1.9h-1.9zM90.2 343.5h1.9v1.9h-1.9zM99.9 321.3h1.9v1.9h-1.9zM94.9 334h1.9v1.9h-1.9zM96.8 340h1.9v1.9h-1.9zM86.5 340.2h1.9v1.9h-1.9zM94.6 346.8h1.9v1.9h-1.9zM90.7 335.3h1.9v1.9h-1.9zM95.3 339.1h1.9v1.9h-1.9zM91.7 336.9h1.9v1.9h-1.9zM95.4 326.6h1.9v1.9h-1.9zM98.6 347.8h1.9v1.9h-1.9zM94.5 317.8h1.9v1.9h-1.9zM104.6 349.9h1.9v1.9h-1.9zM100.3 342.5h1.9v1.9h-1.9zM102.3 317.4h1.9v1.9h-1.9zM91.1 351.1h1.9v1.9h-1.9zM95.5 356.3h1.9v1.9h-1.9zM94.8 343h1.9v1.9h-1.9zM89.1 334.6h1.9v1.9h-1.9zM90.5 324.6h1.9v1.9h-1.9zM93 336.8h1.9v1.9h-1.9zM91.2 334.6h1.9v1.9h-1.9zM99.9 329.6h1.9v1.9h-1.9z"/>
<path fill="#3a50b0" d="M71.4 376.5h1.9v1.9h-1.9zM77.8 375.7h1.9v1.9h-1.9zM94 381.9h1.9v1.9h-1.9zM78.2 382.8h1.9v1.9h-1.9zM46.1 391.2h1.9v1.9h-1.9zM77.9 376h1.9v1.9h-1.9zM60.5 373.1h1.9v1.9h-1.9zM69.6 384.8h1.9v1.9h-1.9zM70.7 389.3h1.9v1.9h-1.9zM81.9 372.2h1.9v1.9h-1.9zM61.2 396.8h1.9v1.9h-1.9zM73.1 387.9h1.9v1.9h-1.9zM73.6 381.2h1.9v1.9h-1.9zM79.8 381.6h1.9v1.9h-1.9zM75 383.5h1.9v1.9h-1.9zM50.6 382.9h1.9v1.9h-1.9zM76 376.1h1.9v1.9h-1.9zM70.2 388.6h1.9v1.9h-1.9zM85.5 382.9h1.9v1.9h-1.9zM86.8 377.3h1.9v1.9h-1.9zM62.4 379.4h1.9v1.9h-1.9zM67.5 384.8h1.9v1.9h-1.9zM80.5 383.8h1.9v1.9h-1.9zM76.8 366.2h1.9v1.9h-1.9zM78.7 387.6h1.9v1.9h-1.9zM75.9 383.5h1.9v1.9h-1.9zM68.1 366.3h1.9v1.9h-1.9zM68.2 384.8h1.9v1.9h-1.9zM83.5 386h1.9v1.9h-1.9zM80.8 381.6h1.9v1.9h-1.9zM66.2 388.1h1.9v1.9h-1.9zM80.3 382.8h1.9v1.9h-1.9z"/>
<path fill="#8a5a1a" d="M102.2 408.9h1.9v1.9h-1.9zM96 414.5h1.9v1.9h-1.9zM94.6 421.5h1.9v1.9h-1.9zM95.1 416.8h1.9v1.9h-1.9zM91.1 423.9h1.9v1.9h-1.9zM101.2 406.6h1.9v1.9h-1.9zM96.3 412.3h1.9v1.9h-1.9zM91.4 416.6h1.9v1.9h-1.9zM102 426h1.9v1.9h-1.9zM96.3 426.3h1.9v1.9h-1.9zM82.8 421.3h1.9v1.9h-1.9zM96 411.2h1.9v1.9h-1.9zM101.3 418.9h1.9v1.9h-1.9zM86 399.9h1.9v1.9h-1.9zM92.5 412h1.9v1.9h-1.9zM85.5 411.3h1.9v1.9h-1.9zM87.2 412.2h1.9v1.9h-1.9zM87.8 412.1h1.9v1.9h-1.9z"/>
<path fill="#74d2e4" d="M117.2 357.4h1.9v1.9h-1.9zM94.7 360.5h1.9v1.9h-1.9zM91.1 351.4h1.9v1.9h-1.9zM73.2 359.1h1.9v1.9h-1.9zM76.4 354.1h1.9v1.9h-1.9zM75.2 360.7h1.9v1.9h-1.9zM106.4 353.9h1.9v1.9h-1.9zM87.2 346.6h1.9v1.9h-1.9zM98.3 367.2h1.9v1.9h-1.9zM113.5 354.2h1.9v1.9h-1.9zM105 360h1.9v1.9h-1.9zM109 360.3h1.9v1.9h-1.9zM101.9 354.7h1.9v1.9h-1.9zM102.2 353.9h1.9v1.9h-1.9zM113.2 358.7h1.9v1.9h-1.9zM74.5 359.1h1.9v1.9h-1.9zM123.6 350.7h1.9v1.9h-1.9zM86.9 354.6h1.9v1.9h-1.9zM107.2 354.9h1.9v1.9h-1.9z"/>
<path fill="#6a1212" d="M92.8 375.2h1.9v1.9h-1.9zM114.5 392.2h1.9v1.9h-1.9zM114.7 375.9h1.9v1.9h-1.9zM109.5 377.1h1.9v1.9h-1.9zM89.8 382.7h1.9v1.9h-1.9zM114.4 378.7h1.9v1.9h-1.9zM106.2 378.7h1.9v1.9h-1.9zM107.7 382.8h1.9v1.9h-1.9zM106.8 383.4h1.9v1.9h-1.9zM86.7 371.4h1.9v1.9h-1.9zM110.3 378.2h1.9v1.9h-1.9zM113.3 378.1h1.9v1.9h-1.9zM119.3 379h1.9v1.9h-1.9zM105 382.2h1.9v1.9h-1.9zM86.9 378.3h1.9v1.9h-1.9zM126.7 375.1h1.9v1.9h-1.9zM95.9 371.2h1.9v1.9h-1.9zM115.4 388.9h1.9v1.9h-1.9zM116.6 369.3h1.9v1.9h-1.9zM110.5 386.3h1.9v1.9h-1.9zM101.2 384.7h1.9v1.9h-1.9zM94.2 380.1h1.9v1.9h-1.9zM109.6 376.7h1.9v1.9h-1.9zM106.7 383.6h1.9v1.9h-1.9z"/>
<path fill="#c87cc4" d="M77.1 337.8h1.9v1.9h-1.9zM70.6 333.4h1.9v1.9h-1.9zM71.8 330.1h1.9v1.9h-1.9zM75.3 345.7h1.9v1.9h-1.9zM66.6 336.7h1.9v1.9h-1.9zM73.9 339.2h1.9v1.9h-1.9zM78.7 339.3h1.9v1.9h-1.9zM76.1 324.5h1.9v1.9h-1.9zM79.1 340.7h1.9v1.9h-1.9zM76.3 335.9h1.9v1.9h-1.9zM67.4 341.5h1.9v1.9h-1.9zM89.7 345h1.9v1.9h-1.9zM73 335.6h1.9v1.9h-1.9zM76.3 340.4h1.9v1.9h-1.9zM63.7 316.9h1.9v1.9h-1.9zM74.4 350.7h1.9v1.9h-1.9zM71.5 341.3h1.9v1.9h-1.9zM73.6 323.4h1.9v1.9h-1.9zM83.4 353.9h1.9v1.9h-1.9zM75.4 334.6h1.9v1.9h-1.9zM74.8 329.5h1.9v1.9h-1.9zM63.3 329.5h1.9v1.9h-1.9zM73.6 335h1.9v1.9h-1.9zM65.4 334.2h1.9v1.9h-1.9zM66.3 323.1h1.9v1.9h-1.9zM68.2 322.5h1.9v1.9h-1.9zM65.4 318.6h1.9v1.9h-1.9z"/>
<path fill="#222" d="M108 311.3h1.9v1.9h-1.9zM104.2 295.3h1.9v1.9h-1.9zM97.4 304h1.9v1.9h-1.9z"/>
<path fill="#22a0a0" d="M70.5 419.9h1.9v1.9h-1.9zM58.9 414.1h1.9v1.9h-1.9zM55.1 418.4h1.9v1.9h-1.9zM48.7 415.2h1.9v1.9h-1.9zM56.5 410.9h1.9v1.9h-1.9zM57.4 416h1.9v1.9h-1.9zM65.1 414.8h1.9v1.9h-1.9zM61.1 411.2h1.9v1.9h-1.9zM55.8 409.5h1.9v1.9h-1.9zM57.1 400h1.9v1.9h-1.9zM57.7 423.3h1.9v1.9h-1.9z"/>
<path fill="#80d0b4" d="M35.5 436.3h1.9v1.9h-1.9zM20.2 428.6h1.9v1.9h-1.9zM31.9 425.3h1.9v1.9h-1.9zM28.4 422.4h1.9v1.9h-1.9zM31.5 414.1h1.9v1.9h-1.9zM33.5 437.6h1.9v1.9h-1.9zM26.9 431.5h1.9v1.9h-1.9zM25.4 432.5h1.9v1.9h-1.9zM27.9 422.4h1.9v1.9h-1.9zM29.1 440.9h1.9v1.9h-1.9zM37.1 425.1h1.9v1.9h-1.9zM31.9 429.1h1.9v1.9h-1.9zM27.5 431.3h1.9v1.9h-1.9zM32.4 441.5h1.9v1.9h-1.9zM22.3 423.9h1.9v1.9h-1.9z"/>
<path fill="#1f5a2a" d="M42.4 373.3h1.9v1.9h-1.9zM54.8 367.3h1.9v1.9h-1.9zM49.4 375h1.9v1.9h-1.9zM49.2 371.5h1.9v1.9h-1.9zM50.4 381.3h1.9v1.9h-1.9zM47 373.5h1.9v1.9h-1.9z"/>
<path fill="#1a1a1a" d="M83.7 323.2h1.9v1.9h-1.9zM95.7 325.3h1.9v1.9h-1.9zM104.6 318.5h1.9v1.9h-1.9zM118.5 334.2h1.9v1.9h-1.9zM79.6 350.8h1.9v1.9h-1.9zM111.6 322.2h1.9v1.9h-1.9z"/>
<path fill="#a09070" d="M83 423.4h1.9v1.9h-1.9zM77.6 428.3h1.9v1.9h-1.9zM82.1 430.2h1.9v1.9h-1.9zM74.3 429.7h1.9v1.9h-1.9zM80.4 430.5h1.9v1.9h-1.9zM81.2 421.8h1.9v1.9h-1.9zM80.5 414h1.9v1.9h-1.9z"/>
<path fill="#283890" d="M99.6 381.7h1.9v1.9h-1.9zM91.2 382.4h1.9v1.9h-1.9zM91.4 380.1h1.9v1.9h-1.9zM100.1 381.9h1.9v1.9h-1.9zM100.4 379.4h1.9v1.9h-1.9zM88.9 376.4h1.9v1.9h-1.9zM86.5 381.6h1.9v1.9h-1.9zM95 377.5h1.9v1.9h-1.9zM99.9 379.4h1.9v1.9h-1.9zM88.7 385.5h1.9v1.9h-1.9z"/>
<path fill="#5a90e0" d="M62.7 406.1h1.9v1.9h-1.9zM63.7 402.9h1.9v1.9h-1.9zM62.6 406.6h1.9v1.9h-1.9zM59.2 403.8h1.9v1.9h-1.9z"/>
<path fill="#80d0b0" d="M193 301.9h1.9v1.9h-1.9zM200.5 308.2h1.9v1.9h-1.9zM212.7 299.4h1.9v1.9h-1.9z"/>
<path fill="#888" d="M93.9 317.2h1.9v1.9h-1.9z"/>
<path fill="#1a1a1a" d="M116.2 313.2h1.9v1.9h-1.9zM107.1 326.4h1.9v1.9h-1.9zM114.3 352.9h1.9v1.9h-1.9z"/>
<path fill="#3a50b0" d="M81.9 381.9h1.9v1.9h-1.9zM55.6 384.2h1.9v1.9h-1.9zM79.3 384.4h1.9v1.9h-1.9zM81.8 378.9h1.9v1.9h-1.9zM86.2 376.4h1.9v1.9h-1.9zM93.1 384.2h1.9v1.9h-1.9zM89.3 380.9h1.9v1.9h-1.9zM71.9 382.2h1.9v1.9h-1.9zM79.7 380.1h1.9v1.9h-1.9zM80.2 377.4h1.9v1.9h-1.9zM72 369.9h1.9v1.9h-1.9zM82.6 371h1.9v1.9h-1.9zM95.8 375h1.9v1.9h-1.9zM73.2 371.5h1.9v1.9h-1.9zM57.9 371.6h1.9v1.9h-1.9z"/>
<path fill="#c87cc4" d="M78.8 344.3h1.9v1.9h-1.9zM82.2 349.9h1.9v1.9h-1.9zM80.7 338.1h1.9v1.9h-1.9zM68.3 317.4h1.9v1.9h-1.9zM80.2 330.3h1.9v1.9h-1.9zM74.1 338.8h1.9v1.9h-1.9z"/>
<path fill="#141414" d="M99.9 336.1h1.9v1.9h-1.9zM99.6 331.6h1.9v1.9h-1.9zM95.6 331.8h1.9v1.9h-1.9zM88.8 354.5h1.9v1.9h-1.9zM87.4 350.1h1.9v1.9h-1.9zM97 348.1h1.9v1.9h-1.9zM97 344.7h1.9v1.9h-1.9zM90 347.9h1.9v1.9h-1.9zM93.8 347.9h1.9v1.9h-1.9zM96.3 344.2h1.9v1.9h-1.9zM95.9 336h1.9v1.9h-1.9z"/>
<path fill="#8a5a1a" d="M90.7 418.7h1.9v1.9h-1.9zM98.2 414.4h1.9v1.9h-1.9zM102.4 414.2h1.9v1.9h-1.9zM95.6 420.2h1.9v1.9h-1.9zM108.9 421.4h1.9v1.9h-1.9zM88.9 422h1.9v1.9h-1.9zM100.6 421.4h1.9v1.9h-1.9zM86.9 423.2h1.9v1.9h-1.9zM92.2 415.3h1.9v1.9h-1.9zM96.5 424.6h1.9v1.9h-1.9z"/>
<path fill="#22a0a0" d="M62.5 418.4h1.9v1.9h-1.9zM52.3 406.5h1.9v1.9h-1.9zM54.2 415.6h1.9v1.9h-1.9zM68.2 404.8h1.9v1.9h-1.9z"/>
<path fill="#a09070" d="M72.7 431.7h1.9v1.9h-1.9zM73.4 431.2h1.9v1.9h-1.9z"/>
<path fill="#8040b0" d="M81.3 398.7h1.9v1.9h-1.9zM59.5 388.2h1.9v1.9h-1.9zM78 409h1.9v1.9h-1.9zM82 394.9h1.9v1.9h-1.9z"/>
<path fill="#283890" d="M89.7 379.5h1.9v1.9h-1.9z"/>
<path fill="#74d2e4" d="M109.9 359.5h1.9v1.9h-1.9zM107.8 359.8h1.9v1.9h-1.9zM96.1 353.9h1.9v1.9h-1.9zM104.2 350.3h1.9v1.9h-1.9z"/>
<path fill="#6a1212" d="M111.4 372.3h1.9v1.9h-1.9zM103.2 384.2h1.9v1.9h-1.9zM101.9 381.3h1.9v1.9h-1.9zM108.9 381.8h1.9v1.9h-1.9zM97.6 376.2h1.9v1.9h-1.9zM116.8 378.3h1.9v1.9h-1.9zM113.7 384.4h1.9v1.9h-1.9zM110.1 380.8h1.9v1.9h-1.9z"/>
<path fill="#5a90e0" d="M59.5 405.7h1.9v1.9h-1.9zM60.3 399.7h1.9v1.9h-1.9z"/>
<path fill="#80d0b0" d="M211.5 306h1.9v1.9h-1.9zM211.2 299.2h1.9v1.9h-1.9z"/>
<path fill="#888" d="M85.5 333.3h1.9v1.9h-1.9zM91.1 306h1.9v1.9h-1.9z"/>
<path fill="#80d0b4" d="M24.1 422.6h1.9v1.9h-1.9zM20.8 416.6h1.9v1.9h-1.9z"/>
<path fill="#f02040" d="M80.4 392.3h1.9v1.9h-1.9zM86 393.2h1.9v1.9h-1.9zM83.9 393.3h1.9v1.9h-1.9zM78.4 398.1h1.9v1.9h-1.9zM93.2 403.6h1.9v1.9h-1.9zM83.6 391.4h1.9v1.9h-1.9zM83 378h1.9v1.9h-1.9zM78.6 387.2h1.9v1.9h-1.9zM92.2 399.5h1.9v1.9h-1.9zM90.1 382.5h1.9v1.9h-1.9zM87.1 397h1.9v1.9h-1.9zM82.7 395.4h1.9v1.9h-1.9zM82 393.9h1.9v1.9h-1.9zM73.6 393.6h1.9v1.9h-1.9zM76.9 402.3h1.9v1.9h-1.9zM84.6 381.4h1.9v1.9h-1.9zM88.1 387.7h1.9v1.9h-1.9zM81.8 391.5h1.9v1.9h-1.9zM82.1 396h1.9v1.9h-1.9zM82 402.6h1.9v1.9h-1.9zM85.8 386.9h1.9v1.9h-1.9zM83.1 401.8h1.9v1.9h-1.9zM83.8 398h1.9v1.9h-1.9zM93.2 386.8h1.9v1.9h-1.9zM84.4 395.8h1.9v1.9h-1.9zM77 400.2h1.9v1.9h-1.9zM81.3 390.2h1.9v1.9h-1.9zM90.5 394h1.9v1.9h-1.9zM91.2 391.2h1.9v1.9h-1.9zM81.5 384.4h1.9v1.9h-1.9zM93.5 386.6h1.9v1.9h-1.9zM89.1 393.1h1.9v1.9h-1.9zM86.7 401.5h1.9v1.9h-1.9zM88.8 394h1.9v1.9h-1.9zM85.5 391.3h1.9v1.9h-1.9zM87.5 391.4h1.9v1.9h-1.9zM90.6 384.2h1.9v1.9h-1.9zM82.8 395.6h1.9v1.9h-1.9zM95.4 399.1h1.9v1.9h-1.9zM90.3 401.2h1.9v1.9h-1.9zM94.1 387.3h1.9v1.9h-1.9zM78.1 391.2h1.9v1.9h-1.9zM88.9 402.9h1.9v1.9h-1.9zM80.2 389.7h1.9v1.9h-1.9zM80.5 391.1h1.9v1.9h-1.9zM77.7 402h1.9v1.9h-1.9zM79 393.4h1.9v1.9h-1.9zM90.8 388.4h1.9v1.9h-1.9zM85.9 394.4h1.9v1.9h-1.9zM86.5 395h1.9v1.9h-1.9zM81.2 389.1h1.9v1.9h-1.9z"/>
<path fill="#a8d888" d="M84.3 368.6h1.9v1.9h-1.9zM81.9 369.7h1.9v1.9h-1.9zM89.3 370.2h1.9v1.9h-1.9zM80.8 369.5h1.9v1.9h-1.9zM81 369h1.9v1.9h-1.9zM84.8 373h1.9v1.9h-1.9zM83.6 369.2h1.9v1.9h-1.9zM81.6 373.8h1.9v1.9h-1.9z"/>
<path fill="#40b048" d="M86.4 358.4h1.9v1.9h-1.9zM109.4 352.2h1.9v1.9h-1.9zM99.8 370.7h1.9v1.9h-1.9zM83.6 363.2h1.9v1.9h-1.9zM93.9 364.4h1.9v1.9h-1.9zM99.3 364.7h1.9v1.9h-1.9zM97.8 361.9h1.9v1.9h-1.9zM92.3 360.4h1.9v1.9h-1.9zM86.2 350.5h1.9v1.9h-1.9zM95.4 358.5h1.9v1.9h-1.9zM92.5 359.8h1.9v1.9h-1.9zM94.2 364.3h1.9v1.9h-1.9zM100.3 360.1h1.9v1.9h-1.9zM90.4 359.3h1.9v1.9h-1.9zM98 368.1h1.9v1.9h-1.9zM92.9 367.4h1.9v1.9h-1.9zM91.7 357.7h1.9v1.9h-1.9zM93.9 364.8h1.9v1.9h-1.9zM93 372h1.9v1.9h-1.9zM91.8 365.2h1.9v1.9h-1.9zM99.9 358.9h1.9v1.9h-1.9zM104.1 366.8h1.9v1.9h-1.9zM91.3 362.1h1.9v1.9h-1.9zM101.7 360.2h1.9v1.9h-1.9zM96.5 360.4h1.9v1.9h-1.9zM102.4 356.8h1.9v1.9h-1.9zM104.4 363.1h1.9v1.9h-1.9zM82.6 356.4h1.9v1.9h-1.9zM92.2 361.5h1.9v1.9h-1.9zM90 364.7h1.9v1.9h-1.9zM91.4 369h1.9v1.9h-1.9zM88.7 361.7h1.9v1.9h-1.9zM87.7 354.1h1.9v1.9h-1.9zM92.8 356.3h1.9v1.9h-1.9zM94.8 357.7h1.9v1.9h-1.9zM92.3 350.9h1.9v1.9h-1.9zM91.1 365.7h1.9v1.9h-1.9zM105.7 353.9h1.9v1.9h-1.9zM84.3 358.9h1.9v1.9h-1.9zM81 361.6h1.9v1.9h-1.9zM108.7 353.8h1.9v1.9h-1.9zM89.5 357.4h1.9v1.9h-1.9zM91 363.6h1.9v1.9h-1.9zM93.5 364.6h1.9v1.9h-1.9z"/>
<path fill="#f2e45a" d="M97.2 413.8h1.9v1.9h-1.9zM98.4 393.9h1.9v1.9h-1.9zM86.1 395.3h1.9v1.9h-1.9zM94.8 401.7h1.9v1.9h-1.9zM102.6 403h1.9v1.9h-1.9zM95 404.8h1.9v1.9h-1.9zM110.9 408.9h1.9v1.9h-1.9zM97.2 397.2h1.9v1.9h-1.9zM101.3 407.3h1.9v1.9h-1.9zM91.8 395.6h1.9v1.9h-1.9zM112.5 397.6h1.9v1.9h-1.9zM108.9 396.8h1.9v1.9h-1.9zM101.3 399.7h1.9v1.9h-1.9zM95.2 391.2h1.9v1.9h-1.9zM101.9 401.2h1.9v1.9h-1.9zM99.1 387.5h1.9v1.9h-1.9zM108.1 400.4h1.9v1.9h-1.9zM100.1 400.6h1.9v1.9h-1.9zM100.7 400.6h1.9v1.9h-1.9zM102.2 410.8h1.9v1.9h-1.9zM97.9 408.6h1.9v1.9h-1.9zM112.6 402.2h1.9v1.9h-1.9zM106.6 410.5h1.9v1.9h-1.9zM97.4 405.3h1.9v1.9h-1.9zM101.1 394.3h1.9v1.9h-1.9zM98.7 402.7h1.9v1.9h-1.9zM85.2 400.3h1.9v1.9h-1.9zM98.9 399h1.9v1.9h-1.9zM92.2 393.2h1.9v1.9h-1.9zM96.1 382.1h1.9v1.9h-1.9zM107.9 393.7h1.9v1.9h-1.9zM109 394h1.9v1.9h-1.9zM93.9 405.6h1.9v1.9h-1.9zM105.9 402.6h1.9v1.9h-1.9zM97 400.6h1.9v1.9h-1.9zM89.1 390.8h1.9v1.9h-1.9zM94.6 399.2h1.9v1.9h-1.9zM106.1 406.4h1.9v1.9h-1.9zM117.1 407.4h1.9v1.9h-1.9zM100.2 403.7h1.9v1.9h-1.9zM93.4 398.9h1.9v1.9h-1.9zM102 407.5h1.9v1.9h-1.9zM97.4 401.7h1.9v1.9h-1.9zM99.2 394.9h1.9v1.9h-1.9zM96.8 399.3h1.9v1.9h-1.9zM97.1 401.8h1.9v1.9h-1.9zM94.5 391.8h1.9v1.9h-1.9zM107.3 405.5h1.9v1.9h-1.9zM97.8 393.9h1.9v1.9h-1.9zM101.5 400.6h1.9v1.9h-1.9zM106.2 400h1.9v1.9h-1.9zM102.6 399.5h1.9v1.9h-1.9zM104.2 411h1.9v1.9h-1.9zM91.3 400.8h1.9v1.9h-1.9zM97.5 418.6h1.9v1.9h-1.9zM95 407.5h1.9v1.9h-1.9zM110.7 400.6h1.9v1.9h-1.9zM98.2 397.3h1.9v1.9h-1.9zM100.5 399.4h1.9v1.9h-1.9zM95.1 409h1.9v1.9h-1.9zM91.1 399.3h1.9v1.9h-1.9zM101.2 392.5h1.9v1.9h-1.9zM93.3 405.9h1.9v1.9h-1.9zM101.9 392h1.9v1.9h-1.9zM95.7 393.6h1.9v1.9h-1.9zM106.8 395.1h1.9v1.9h-1.9zM91.1 390.1h1.9v1.9h-1.9zM92.3 393.6h1.9v1.9h-1.9zM86.2 390.7h1.9v1.9h-1.9zM93.5 401.1h1.9v1.9h-1.9zM91.5 400.8h1.9v1.9h-1.9z"/>
<path fill="#40b048" d="M101.5 354.5h1.9v1.9h-1.9zM102.8 356.3h1.9v1.9h-1.9zM102.6 356.4h1.9v1.9h-1.9zM98.6 358.1h1.9v1.9h-1.9zM86.3 358.7h1.9v1.9h-1.9zM70.4 357.1h1.9v1.9h-1.9zM95.2 358.6h1.9v1.9h-1.9zM109.3 359.9h1.9v1.9h-1.9zM100.5 364.1h1.9v1.9h-1.9zM82.1 361.8h1.9v1.9h-1.9zM110.1 355.6h1.9v1.9h-1.9zM99.5 358.4h1.9v1.9h-1.9zM99.3 357.4h1.9v1.9h-1.9zM96.8 366.5h1.9v1.9h-1.9zM90.8 360h1.9v1.9h-1.9zM103.1 359.9h1.9v1.9h-1.9zM99.5 358.2h1.9v1.9h-1.9zM87.5 357.8h1.9v1.9h-1.9zM97.6 355.6h1.9v1.9h-1.9zM102.1 353.5h1.9v1.9h-1.9zM97.6 363.2h1.9v1.9h-1.9zM88.5 360.7h1.9v1.9h-1.9zM97.5 359h1.9v1.9h-1.9zM98.2 365.7h1.9v1.9h-1.9zM85.8 364.4h1.9v1.9h-1.9zM92.3 358.5h1.9v1.9h-1.9zM95.1 356h1.9v1.9h-1.9zM96.6 356.5h1.9v1.9h-1.9zM105.4 361.1h1.9v1.9h-1.9zM90.1 357.6h1.9v1.9h-1.9zM97.3 368.6h1.9v1.9h-1.9zM90 353.3h1.9v1.9h-1.9zM99.9 364.1h1.9v1.9h-1.9zM84 357.5h1.9v1.9h-1.9zM100.7 362.8h1.9v1.9h-1.9zM99.1 358.5h1.9v1.9h-1.9zM91.2 366.5h1.9v1.9h-1.9zM96.5 359.3h1.9v1.9h-1.9zM96.8 365.2h1.9v1.9h-1.9zM93.3 356.8h1.9v1.9h-1.9zM97.8 365h1.9v1.9h-1.9zM105.4 360.2h1.9v1.9h-1.9zM96.6 359.9h1.9v1.9h-1.9zM102.6 360.4h1.9v1.9h-1.9zM93.9 363.1h1.9v1.9h-1.9zM94.7 364h1.9v1.9h-1.9zM85.6 359.6h1.9v1.9h-1.9zM92.9 358h1.9v1.9h-1.9zM105.9 363.2h1.9v1.9h-1.9zM95.4 365.8h1.9v1.9h-1.9zM86.6 360.3h1.9v1.9h-1.9zM91.2 367.3h1.9v1.9h-1.9zM102 360.5h1.9v1.9h-1.9zM97.9 359.6h1.9v1.9h-1.9zM99 365.2h1.9v1.9h-1.9zM108.4 359.4h1.9v1.9h-1.9zM105.4 358.8h1.9v1.9h-1.9zM96.7 360.9h1.9v1.9h-1.9zM109 360.9h1.9v1.9h-1.9zM101.2 367.4h1.9v1.9h-1.9zM109.9 352h1.9v1.9h-1.9zM93.2 350.2h1.9v1.9h-1.9zM104.1 360.6h1.9v1.9h-1.9zM96.2 355.3h1.9v1.9h-1.9zM102.4 360.3h1.9v1.9h-1.9zM95.7 356h1.9v1.9h-1.9zM93.9 360h1.9v1.9h-1.9z"/>
<path fill="#f02040" d="M82.9 398.4h1.9v1.9h-1.9zM82.2 380.5h1.9v1.9h-1.9zM91.9 400.7h1.9v1.9h-1.9zM73.9 394.1h1.9v1.9h-1.9zM88 399.9h1.9v1.9h-1.9zM87.2 394.4h1.9v1.9h-1.9zM86 393.7h1.9v1.9h-1.9zM81.3 400.8h1.9v1.9h-1.9zM82.7 387.6h1.9v1.9h-1.9zM82.7 397.5h1.9v1.9h-1.9zM89 389.4h1.9v1.9h-1.9zM95 396.8h1.9v1.9h-1.9zM75.7 392.9h1.9v1.9h-1.9zM83.7 387.2h1.9v1.9h-1.9zM88.5 394h1.9v1.9h-1.9zM78.3 396.4h1.9v1.9h-1.9zM83 388.9h1.9v1.9h-1.9zM85.6 406.5h1.9v1.9h-1.9zM87.1 389.5h1.9v1.9h-1.9zM85.7 388.9h1.9v1.9h-1.9zM79.7 392.2h1.9v1.9h-1.9zM87.6 386.2h1.9v1.9h-1.9zM81 399.8h1.9v1.9h-1.9zM82.8 395.2h1.9v1.9h-1.9zM82.2 400.3h1.9v1.9h-1.9zM89.9 394.3h1.9v1.9h-1.9zM86.7 401.4h1.9v1.9h-1.9zM81.5 398.6h1.9v1.9h-1.9zM82.8 394.7h1.9v1.9h-1.9zM88.2 399.9h1.9v1.9h-1.9zM78.6 387.6h1.9v1.9h-1.9zM95.7 405.4h1.9v1.9h-1.9zM82.3 396.3h1.9v1.9h-1.9zM89.5 400.4h1.9v1.9h-1.9zM83.3 384.9h1.9v1.9h-1.9zM83 393.6h1.9v1.9h-1.9zM86.4 395.1h1.9v1.9h-1.9zM83.7 404.3h1.9v1.9h-1.9zM77.7 388.5h1.9v1.9h-1.9zM86.2 394.9h1.9v1.9h-1.9zM87.7 396.9h1.9v1.9h-1.9zM83.4 390.8h1.9v1.9h-1.9zM91 393.2h1.9v1.9h-1.9zM78.7 393.5h1.9v1.9h-1.9zM76.8 384.7h1.9v1.9h-1.9zM81.5 388.6h1.9v1.9h-1.9zM82.6 396.3h1.9v1.9h-1.9zM90.7 396.6h1.9v1.9h-1.9zM89.9 392.6h1.9v1.9h-1.9zM83.6 405.6h1.9v1.9h-1.9zM85.4 400.9h1.9v1.9h-1.9zM90.1 395.8h1.9v1.9h-1.9zM83.2 400.2h1.9v1.9h-1.9zM89 383.2h1.9v1.9h-1.9zM97.1 398.4h1.9v1.9h-1.9zM96 394.2h1.9v1.9h-1.9zM80 401.2h1.9v1.9h-1.9zM87.1 389.7h1.9v1.9h-1.9zM96.7 396.7h1.9v1.9h-1.9zM74.2 390.3h1.9v1.9h-1.9zM81.2 395.6h1.9v1.9h-1.9zM86.5 394.8h1.9v1.9h-1.9zM84 395h1.9v1.9h-1.9zM85.8 392.3h1.9v1.9h-1.9zM87.8 393.6h1.9v1.9h-1.9zM92.5 387.6h1.9v1.9h-1.9zM81.3 390.9h1.9v1.9h-1.9zM85.9 389.5h1.9v1.9h-1.9zM87.8 386.9h1.9v1.9h-1.9zM86.4 402.8h1.9v1.9h-1.9zM84.2 387.3h1.9v1.9h-1.9zM80.3 387.9h1.9v1.9h-1.9zM88 390.6h1.9v1.9h-1.9z"/>
<path fill="#f2e45a" d="M103.1 381.8h1.9v1.9h-1.9zM99.8 409.1h1.9v1.9h-1.9zM113.9 396.7h1.9v1.9h-1.9zM95.6 406.6h1.9v1.9h-1.9zM108.6 392.1h1.9v1.9h-1.9zM109.1 396.9h1.9v1.9h-1.9zM105.9 404.8h1.9v1.9h-1.9zM95.8 404.2h1.9v1.9h-1.9zM102.6 388.2h1.9v1.9h-1.9zM91.7 393.6h1.9v1.9h-1.9zM93.6 382.6h1.9v1.9h-1.9zM96.2 414.7h1.9v1.9h-1.9zM97.5 389.7h1.9v1.9h-1.9zM110.7 419h1.9v1.9h-1.9zM108.4 400.9h1.9v1.9h-1.9zM95.9 398h1.9v1.9h-1.9zM103.9 401.3h1.9v1.9h-1.9zM92.5 395.6h1.9v1.9h-1.9zM108.6 395.7h1.9v1.9h-1.9zM100.8 405.6h1.9v1.9h-1.9zM94.6 389.2h1.9v1.9h-1.9zM90.2 401.9h1.9v1.9h-1.9zM97.3 405.6h1.9v1.9h-1.9zM99.3 407.1h1.9v1.9h-1.9zM93.2 406.4h1.9v1.9h-1.9zM105.7 409.1h1.9v1.9h-1.9zM105.4 404.1h1.9v1.9h-1.9zM89.3 391.9h1.9v1.9h-1.9zM94.6 398.4h1.9v1.9h-1.9zM95 383.3h1.9v1.9h-1.9zM97.3 413.1h1.9v1.9h-1.9zM102.1 388.9h1.9v1.9h-1.9zM97.4 387.8h1.9v1.9h-1.9zM87.7 408.1h1.9v1.9h-1.9zM97.1 401.6h1.9v1.9h-1.9zM97.6 403.7h1.9v1.9h-1.9zM88.9 405.8h1.9v1.9h-1.9zM92.7 398.4h1.9v1.9h-1.9zM99.6 385.2h1.9v1.9h-1.9zM101 397.6h1.9v1.9h-1.9zM104.8 410.6h1.9v1.9h-1.9zM101.9 412.5h1.9v1.9h-1.9zM100.7 409.2h1.9v1.9h-1.9zM80.3 397.3h1.9v1.9h-1.9zM86.6 414.8h1.9v1.9h-1.9zM97.6 394.2h1.9v1.9h-1.9zM112.5 391.7h1.9v1.9h-1.9zM95.8 397.9h1.9v1.9h-1.9zM98.5 388.8h1.9v1.9h-1.9zM103.2 383.3h1.9v1.9h-1.9zM109.5 404.6h1.9v1.9h-1.9zM98.4 409.7h1.9v1.9h-1.9zM97.9 397.4h1.9v1.9h-1.9zM105 398.4h1.9v1.9h-1.9zM96.4 401.2h1.9v1.9h-1.9zM114.3 402.4h1.9v1.9h-1.9zM96.8 412.6h1.9v1.9h-1.9zM106 403.4h1.9v1.9h-1.9zM106.7 401.4h1.9v1.9h-1.9zM111 393.8h1.9v1.9h-1.9zM100.5 388h1.9v1.9h-1.9zM97.1 404.9h1.9v1.9h-1.9zM97.9 402.2h1.9v1.9h-1.9zM98.5 419.5h1.9v1.9h-1.9zM101.1 404.4h1.9v1.9h-1.9zM104.5 397.4h1.9v1.9h-1.9zM98 401.8h1.9v1.9h-1.9zM110 403.9h1.9v1.9h-1.9zM108 391.9h1.9v1.9h-1.9zM103.5 403.7h1.9v1.9h-1.9zM113.2 396.6h1.9v1.9h-1.9zM99 387.5h1.9v1.9h-1.9zM112.6 384.6h1.9v1.9h-1.9zM101.8 404.5h1.9v1.9h-1.9zM102.8 402.6h1.9v1.9h-1.9zM96.7 401.6h1.9v1.9h-1.9zM112.5 383.4h1.9v1.9h-1.9zM101.7 396.8h1.9v1.9h-1.9zM98.7 397.6h1.9v1.9h-1.9zM108.3 400.4h1.9v1.9h-1.9zM109.6 399.6h1.9v1.9h-1.9zM101.2 396.2h1.9v1.9h-1.9zM108.9 393.8h1.9v1.9h-1.9zM108.3 398h1.9v1.9h-1.9zM96.1 402h1.9v1.9h-1.9zM88.1 405.3h1.9v1.9h-1.9zM107 405.3h1.9v1.9h-1.9zM99.7 398.4h1.9v1.9h-1.9zM96 412.8h1.9v1.9h-1.9zM106.2 398h1.9v1.9h-1.9zM89.5 397.9h1.9v1.9h-1.9z"/>
<path fill="#a8d888" d="M84.9 372.6h1.9v1.9h-1.9zM83 367.9h1.9v1.9h-1.9zM76 373.2h1.9v1.9h-1.9zM86.9 370.1h1.9v1.9h-1.9zM74.8 369.7h1.9v1.9h-1.9zM84.1 373.6h1.9v1.9h-1.9zM89.4 372.9h1.9v1.9h-1.9zM84.9 370.3h1.9v1.9h-1.9zM92.3 368.2h1.9v1.9h-1.9zM86.4 372.6h1.9v1.9h-1.9zM81 373.8h1.9v1.9h-1.9zM71.9 368.2h1.9v1.9h-1.9zM79.4 371.2h1.9v1.9h-1.9zM86.1 368.5h1.9v1.9h-1.9zM83.5 368.7h1.9v1.9h-1.9zM78.2 369.3h1.9v1.9h-1.9zM84.2 370.7h1.9v1.9h-1.9zM82.4 370.1h1.9v1.9h-1.9zM84.2 373.8h1.9v1.9h-1.9z"/>
<path fill="#f2e45a" d="M102.4 398.8h1.9v1.9h-1.9zM100.3 398.4h1.9v1.9h-1.9zM102.7 400.4h1.9v1.9h-1.9zM86.1 400.9h1.9v1.9h-1.9zM99.9 395.4h1.9v1.9h-1.9zM93.3 402.8h1.9v1.9h-1.9zM110.5 402.4h1.9v1.9h-1.9zM109.6 387h1.9v1.9h-1.9zM97.2 411.3h1.9v1.9h-1.9zM101.3 388.6h1.9v1.9h-1.9zM98.9 400.1h1.9v1.9h-1.9zM101.5 407.4h1.9v1.9h-1.9zM98.5 399.1h1.9v1.9h-1.9zM106 397.3h1.9v1.9h-1.9zM106.4 393h1.9v1.9h-1.9zM96.7 397.6h1.9v1.9h-1.9zM93.2 411.2h1.9v1.9h-1.9zM97.1 399.5h1.9v1.9h-1.9zM103.3 406.4h1.9v1.9h-1.9zM104.5 407.6h1.9v1.9h-1.9zM109.5 395.4h1.9v1.9h-1.9zM102.2 403.9h1.9v1.9h-1.9zM112.9 397.5h1.9v1.9h-1.9zM101.3 398.3h1.9v1.9h-1.9zM98 392.7h1.9v1.9h-1.9zM104.8 403.1h1.9v1.9h-1.9zM90.5 394.5h1.9v1.9h-1.9zM100.9 412.7h1.9v1.9h-1.9zM82.1 404.8h1.9v1.9h-1.9zM101.5 407.6h1.9v1.9h-1.9zM100.3 405.2h1.9v1.9h-1.9zM92.3 415.1h1.9v1.9h-1.9zM92.9 401.6h1.9v1.9h-1.9zM99 406.9h1.9v1.9h-1.9zM103.4 401.3h1.9v1.9h-1.9zM94.9 400.1h1.9v1.9h-1.9zM112.7 393.8h1.9v1.9h-1.9zM107.6 397.2h1.9v1.9h-1.9zM101.2 400.1h1.9v1.9h-1.9zM93.8 398.6h1.9v1.9h-1.9zM107.5 397.5h1.9v1.9h-1.9zM101.6 403h1.9v1.9h-1.9zM111.5 394.9h1.9v1.9h-1.9zM109.4 387.9h1.9v1.9h-1.9zM96.9 407.8h1.9v1.9h-1.9zM97.4 401.3h1.9v1.9h-1.9zM99.6 403.9h1.9v1.9h-1.9zM102.8 398.2h1.9v1.9h-1.9zM103.8 394.3h1.9v1.9h-1.9zM96.1 403.1h1.9v1.9h-1.9zM105 391.4h1.9v1.9h-1.9zM96.8 397.9h1.9v1.9h-1.9zM96 400.3h1.9v1.9h-1.9zM98.9 403.1h1.9v1.9h-1.9zM92 388.9h1.9v1.9h-1.9zM100.5 397.4h1.9v1.9h-1.9zM108.3 385.2h1.9v1.9h-1.9zM99.3 404.5h1.9v1.9h-1.9zM101 409.2h1.9v1.9h-1.9zM90.1 399.6h1.9v1.9h-1.9zM96.2 403.9h1.9v1.9h-1.9zM90.1 397h1.9v1.9h-1.9zM108.4 389.7h1.9v1.9h-1.9zM93 401.6h1.9v1.9h-1.9zM113 401.8h1.9v1.9h-1.9zM104.2 400.7h1.9v1.9h-1.9zM98.2 402.7h1.9v1.9h-1.9zM105 390.8h1.9v1.9h-1.9zM84.5 407.6h1.9v1.9h-1.9zM88.2 405.6h1.9v1.9h-1.9zM101.8 387.3h1.9v1.9h-1.9zM84.8 397.1h1.9v1.9h-1.9zM87.7 400.1h1.9v1.9h-1.9zM102.5 395.8h1.9v1.9h-1.9zM112.3 396h1.9v1.9h-1.9zM100 416.4h1.9v1.9h-1.9zM95.2 394.5h1.9v1.9h-1.9zM116.5 401.8h1.9v1.9h-1.9zM96.9 391.3h1.9v1.9h-1.9zM101.6 396.4h1.9v1.9h-1.9zM103.4 395h1.9v1.9h-1.9zM103.1 404.8h1.9v1.9h-1.9zM102.8 387.9h1.9v1.9h-1.9zM106.5 388.8h1.9v1.9h-1.9zM99.8 402.8h1.9v1.9h-1.9zM108.3 407.7h1.9v1.9h-1.9zM97.6 399.6h1.9v1.9h-1.9zM102.7 405.4h1.9v1.9h-1.9zM92.3 406.3h1.9v1.9h-1.9zM98.4 407.3h1.9v1.9h-1.9zM102.9 406.4h1.9v1.9h-1.9zM101.3 395.3h1.9v1.9h-1.9zM97.8 403.9h1.9v1.9h-1.9zM91.4 424.7h1.9v1.9h-1.9zM83.6 394.7h1.9v1.9h-1.9zM89.4 399.2h1.9v1.9h-1.9zM109.7 413.9h1.9v1.9h-1.9zM100 409.8h1.9v1.9h-1.9z"/>
<path fill="#f02040" d="M84.2 395.4h1.9v1.9h-1.9zM85 392.2h1.9v1.9h-1.9zM83.9 396.2h1.9v1.9h-1.9zM89.9 396.9h1.9v1.9h-1.9zM81.8 399.4h1.9v1.9h-1.9zM82.8 396.7h1.9v1.9h-1.9zM81.2 397.9h1.9v1.9h-1.9zM80.7 398.8h1.9v1.9h-1.9zM87.8 395.2h1.9v1.9h-1.9zM82.5 391.2h1.9v1.9h-1.9zM88.6 398.7h1.9v1.9h-1.9zM91.7 395.9h1.9v1.9h-1.9zM85.6 394.7h1.9v1.9h-1.9zM81.8 397.7h1.9v1.9h-1.9zM82.8 391.5h1.9v1.9h-1.9zM90.1 392.6h1.9v1.9h-1.9zM86.7 392h1.9v1.9h-1.9zM81.3 391.6h1.9v1.9h-1.9zM84.5 384.9h1.9v1.9h-1.9zM84.4 397.9h1.9v1.9h-1.9zM81.6 398h1.9v1.9h-1.9zM86.9 393.4h1.9v1.9h-1.9zM86 393.2h1.9v1.9h-1.9zM81.3 389.3h1.9v1.9h-1.9zM87.3 391h1.9v1.9h-1.9zM83.8 386.8h1.9v1.9h-1.9zM79.8 402.4h1.9v1.9h-1.9zM75.9 388.8h1.9v1.9h-1.9zM83.1 395.4h1.9v1.9h-1.9zM88.9 380.1h1.9v1.9h-1.9zM86.3 382.6h1.9v1.9h-1.9zM88.4 402.1h1.9v1.9h-1.9zM89.7 396.1h1.9v1.9h-1.9zM96.7 389.7h1.9v1.9h-1.9zM91 390.7h1.9v1.9h-1.9zM86.9 396.4h1.9v1.9h-1.9zM85.1 401.8h1.9v1.9h-1.9zM81 391.2h1.9v1.9h-1.9zM80.6 398.3h1.9v1.9h-1.9zM83.2 396.9h1.9v1.9h-1.9zM76.3 398.6h1.9v1.9h-1.9zM83 393.2h1.9v1.9h-1.9zM83.8 391.1h1.9v1.9h-1.9zM85.1 400.1h1.9v1.9h-1.9zM88.9 395.8h1.9v1.9h-1.9zM79.6 396.9h1.9v1.9h-1.9zM91.1 403.5h1.9v1.9h-1.9zM79.9 397.1h1.9v1.9h-1.9zM92.6 398.2h1.9v1.9h-1.9zM91.5 399.7h1.9v1.9h-1.9zM83 400.3h1.9v1.9h-1.9zM85.6 401.2h1.9v1.9h-1.9zM81.5 391.3h1.9v1.9h-1.9zM85 394.2h1.9v1.9h-1.9zM83 400.2h1.9v1.9h-1.9zM80.3 402.2h1.9v1.9h-1.9zM77.2 391.3h1.9v1.9h-1.9zM84.6 392.9h1.9v1.9h-1.9zM85.4 391.4h1.9v1.9h-1.9zM82.5 395.1h1.9v1.9h-1.9zM93.2 396.7h1.9v1.9h-1.9zM85.9 393.9h1.9v1.9h-1.9zM87.8 380h1.9v1.9h-1.9zM86.1 401.6h1.9v1.9h-1.9zM80.9 392.2h1.9v1.9h-1.9zM94.5 394.8h1.9v1.9h-1.9z"/>
<path fill="#a8d888" d="M81.3 370.2h1.9v1.9h-1.9zM74.7 373.3h1.9v1.9h-1.9zM82.3 374.9h1.9v1.9h-1.9zM83.9 372.8h1.9v1.9h-1.9zM89.1 367.7h1.9v1.9h-1.9zM76.7 369.5h1.9v1.9h-1.9zM82.4 365.3h1.9v1.9h-1.9zM85.4 370h1.9v1.9h-1.9zM84.9 373.7h1.9v1.9h-1.9zM80.7 375.7h1.9v1.9h-1.9zM91.2 369.6h1.9v1.9h-1.9zM69.5 373.3h1.9v1.9h-1.9zM85 373.1h1.9v1.9h-1.9zM84.1 369.5h1.9v1.9h-1.9zM88.5 371.7h1.9v1.9h-1.9zM80.6 368.3h1.9v1.9h-1.9zM83.4 373.3h1.9v1.9h-1.9zM84.5 374.1h1.9v1.9h-1.9z"/>
<path fill="#40b048" d="M95.6 360.1h1.9v1.9h-1.9zM88.3 353.5h1.9v1.9h-1.9zM98.4 361h1.9v1.9h-1.9zM76.5 357.3h1.9v1.9h-1.9zM94.8 354.4h1.9v1.9h-1.9zM83.6 354.6h1.9v1.9h-1.9zM101.6 356.1h1.9v1.9h-1.9zM95.3 363.2h1.9v1.9h-1.9zM94.3 367.3h1.9v1.9h-1.9zM95.6 354.8h1.9v1.9h-1.9zM95.5 361.8h1.9v1.9h-1.9zM101.7 359.1h1.9v1.9h-1.9zM94.9 361.5h1.9v1.9h-1.9zM109.9 353h1.9v1.9h-1.9zM109.7 368.4h1.9v1.9h-1.9zM97.3 348.2h1.9v1.9h-1.9zM97.5 361.2h1.9v1.9h-1.9zM93.1 365h1.9v1.9h-1.9zM94.3 357.9h1.9v1.9h-1.9zM103.2 360.2h1.9v1.9h-1.9zM98 358.5h1.9v1.9h-1.9zM98.9 364.7h1.9v1.9h-1.9zM99.8 358.5h1.9v1.9h-1.9zM95.5 356.5h1.9v1.9h-1.9zM96.3 368.6h1.9v1.9h-1.9zM86.3 350h1.9v1.9h-1.9zM96.3 364h1.9v1.9h-1.9zM97.9 361.8h1.9v1.9h-1.9zM105 363.7h1.9v1.9h-1.9zM100 355h1.9v1.9h-1.9zM87.1 362.4h1.9v1.9h-1.9zM96.6 359.3h1.9v1.9h-1.9zM92.7 357.5h1.9v1.9h-1.9zM106.7 358.4h1.9v1.9h-1.9zM98.9 361.8h1.9v1.9h-1.9zM82.9 366.4h1.9v1.9h-1.9zM102.5 355.8h1.9v1.9h-1.9zM94.8 357.9h1.9v1.9h-1.9zM96.3 362.9h1.9v1.9h-1.9zM105.9 358.3h1.9v1.9h-1.9zM105.9 363.8h1.9v1.9h-1.9zM95.5 360.5h1.9v1.9h-1.9zM97.7 366.8h1.9v1.9h-1.9zM91.5 357.2h1.9v1.9h-1.9zM84 360.6h1.9v1.9h-1.9zM109.3 364.4h1.9v1.9h-1.9zM101.1 359.3h1.9v1.9h-1.9zM97.2 363.9h1.9v1.9h-1.9zM92.7 356.4h1.9v1.9h-1.9zM85.9 355h1.9v1.9h-1.9zM104.3 363h1.9v1.9h-1.9zM98.8 351.5h1.9v1.9h-1.9zM89.3 360.4h1.9v1.9h-1.9zM83.3 353h1.9v1.9h-1.9zM99 361.1h1.9v1.9h-1.9zM94.9 355.6h1.9v1.9h-1.9zM108.4 359.5h1.9v1.9h-1.9zM89.7 357.9h1.9v1.9h-1.9zM102.2 355h1.9v1.9h-1.9z"/>
<path fill="#98d030" d="M82.4 382.3h1.9v1.9h-1.9zM83.2 387.9h1.9v1.9h-1.9zM82.5 385.2h1.9v1.9h-1.9zM83.6 386.6h1.9v1.9h-1.9zM84.2 384.1h1.9v1.9h-1.9zM84.8 386.4h1.9v1.9h-1.9zM85.3 383.1h1.9v1.9h-1.9zM83.3 384.9h1.9v1.9h-1.9zM84.3 385h1.9v1.9h-1.9z"/>
<path fill="#98d030" d="M83.3 385.1h1.9v1.9h-1.9zM82.4 385.4h1.9v1.9h-1.9zM85.5 386.6h1.9v1.9h-1.9zM85.6 383.9h1.9v1.9h-1.9zM82.3 386.3h1.9v1.9h-1.9zM80.9 386.8h1.9v1.9h-1.9zM80.4 385.3h1.9v1.9h-1.9zM86 385.9h1.9v1.9h-1.9zM80.6 386h1.9v1.9h-1.9zM81.5 386.8h1.9v1.9h-1.9zM83.8 385.5h1.9v1.9h-1.9zM83.9 388.5h1.9v1.9h-1.9zM82.1 385.3h1.9v1.9h-1.9zM85 386.5h1.9v1.9h-1.9zM85.3 386.5h1.9v1.9h-1.9zM84.3 384.2h1.9v1.9h-1.9z"/>
<rect x="146" y="397.5" width="92.5" height="48.4" fill="#fff"/>
<path fill="#f03050" d="M146.1 397.5h1.9v2h-1.9zM146.1 403.5h1.9v2h-1.9zM146.1 407.6h1.9v2h-1.9zM146.1 425.7h1.9v2h-1.9zM146.1 433.8h1.9v2h-1.9zM146.1 435.8h1.9v2h-1.9zM148.6 399.5h1.9v2h-1.9zM148.6 401.5h1.9v2h-1.9zM148.6 407.6h1.9v2h-1.9zM148.6 439.8h1.9v2h-1.9zM151.1 403.5h1.9v2h-1.9zM151.1 425.7h1.9v2h-1.9zM151.1 431.8h1.9v2h-1.9zM153.6 397.5h1.9v2h-1.9zM153.6 401.5h1.9v2h-1.9zM153.6 417.7h1.9v2h-1.9zM153.6 419.7h1.9v2h-1.9zM153.6 425.7h1.9v2h-1.9zM153.6 431.8h1.9v2h-1.9zM153.6 433.8h1.9v2h-1.9zM156.1 397.5h1.9v2h-1.9zM156.1 413.6h1.9v2h-1.9zM156.1 415.6h1.9v2h-1.9zM156.1 437.8h1.9v2h-1.9zM158.6 397.5h1.9v2h-1.9zM158.6 407.6h1.9v2h-1.9zM158.6 429.8h1.9v2h-1.9zM161.1 407.6h1.9v2h-1.9zM161.1 433.8h1.9v2h-1.9zM161.1 437.8h1.9v2h-1.9zM161.1 443.9h1.9v2h-1.9zM163.6 403.5h1.9v2h-1.9zM163.6 405.6h1.9v2h-1.9zM163.6 413.6h1.9v2h-1.9zM166.1 409.6h1.9v2h-1.9zM166.1 411.6h1.9v2h-1.9zM166.1 413.6h1.9v2h-1.9zM166.1 431.8h1.9v2h-1.9zM168.6 409.6h1.9v2h-1.9zM168.6 431.8h1.9v2h-1.9zM168.6 433.8h1.9v2h-1.9zM168.6 443.9h1.9v2h-1.9zM171.1 405.6h1.9v2h-1.9zM171.1 423.7h1.9v2h-1.9zM171.1 425.7h1.9v2h-1.9zM171.1 427.7h1.9v2h-1.9zM171.1 429.8h1.9v2h-1.9zM171.1 443.9h1.9v2h-1.9zM173.6 405.6h1.9v2h-1.9zM173.6 411.6h1.9v2h-1.9zM173.6 413.6h1.9v2h-1.9zM173.6 421.7h1.9v2h-1.9zM176.1 397.5h1.9v2h-1.9zM176.1 429.8h1.9v2h-1.9zM176.1 435.8h1.9v2h-1.9zM178.6 403.5h1.9v2h-1.9zM178.6 417.7h1.9v2h-1.9zM178.6 431.8h1.9v2h-1.9zM178.6 433.8h1.9v2h-1.9zM178.6 437.8h1.9v2h-1.9zM178.6 441.9h1.9v2h-1.9zM181.1 409.6h1.9v2h-1.9zM181.1 415.6h1.9v2h-1.9zM181.1 417.7h1.9v2h-1.9zM181.1 431.8h1.9v2h-1.9zM181.1 437.8h1.9v2h-1.9zM183.6 405.6h1.9v2h-1.9zM183.6 409.6h1.9v2h-1.9zM183.6 417.7h1.9v2h-1.9zM183.6 425.7h1.9v2h-1.9zM183.6 427.7h1.9v2h-1.9zM183.6 431.8h1.9v2h-1.9zM183.6 435.8h1.9v2h-1.9zM183.6 443.9h1.9v2h-1.9zM186.1 397.5h1.9v2h-1.9zM186.1 399.5h1.9v2h-1.9zM186.1 419.7h1.9v2h-1.9zM186.1 433.8h1.9v2h-1.9zM186.1 441.9h1.9v2h-1.9zM188.6 401.5h1.9v2h-1.9zM188.6 409.6h1.9v2h-1.9zM188.6 423.7h1.9v2h-1.9zM188.6 429.8h1.9v2h-1.9zM188.6 431.8h1.9v2h-1.9zM188.6 437.8h1.9v2h-1.9zM191.1 425.7h1.9v2h-1.9zM191.1 433.8h1.9v2h-1.9zM191.1 435.8h1.9v2h-1.9zM191.1 441.9h1.9v2h-1.9zM193.6 409.6h1.9v2h-1.9zM193.6 411.6h1.9v2h-1.9zM193.6 421.7h1.9v2h-1.9zM193.6 425.7h1.9v2h-1.9zM193.6 429.8h1.9v2h-1.9zM196.1 407.6h1.9v2h-1.9zM196.1 423.7h1.9v2h-1.9zM196.1 431.8h1.9v2h-1.9zM196.1 433.8h1.9v2h-1.9zM198.6 401.5h1.9v2h-1.9zM198.6 411.6h1.9v2h-1.9zM198.6 423.7h1.9v2h-1.9zM198.6 425.7h1.9v2h-1.9zM198.6 443.9h1.9v2h-1.9zM201.1 397.5h1.9v2h-1.9zM201.1 413.6h1.9v2h-1.9zM201.1 419.7h1.9v2h-1.9zM203.6 397.5h1.9v2h-1.9zM203.6 399.5h1.9v2h-1.9zM203.6 417.7h1.9v2h-1.9zM203.6 423.7h1.9v2h-1.9zM206.1 397.5h1.9v2h-1.9zM206.1 413.6h1.9v2h-1.9zM208.6 413.6h1.9v2h-1.9zM208.6 415.6h1.9v2h-1.9zM211.1 401.5h1.9v2h-1.9zM211.1 409.6h1.9v2h-1.9zM211.1 413.6h1.9v2h-1.9zM211.1 419.7h1.9v2h-1.9zM213.6 407.6h1.9v2h-1.9zM213.6 413.6h1.9v2h-1.9zM213.6 417.7h1.9v2h-1.9zM213.6 433.8h1.9v2h-1.9zM213.6 441.9h1.9v2h-1.9zM216.1 407.6h1.9v2h-1.9zM216.1 431.8h1.9v2h-1.9zM216.1 435.8h1.9v2h-1.9zM218.6 397.5h1.9v2h-1.9zM218.6 405.6h1.9v2h-1.9zM218.6 411.6h1.9v2h-1.9zM218.6 419.7h1.9v2h-1.9zM218.6 427.7h1.9v2h-1.9zM218.6 439.8h1.9v2h-1.9zM221.1 403.5h1.9v2h-1.9zM221.1 409.6h1.9v2h-1.9zM221.1 443.9h1.9v2h-1.9zM223.6 407.6h1.9v2h-1.9zM223.6 419.7h1.9v2h-1.9zM223.6 421.7h1.9v2h-1.9zM223.6 425.7h1.9v2h-1.9zM223.6 427.7h1.9v2h-1.9zM223.6 433.8h1.9v2h-1.9zM223.6 437.8h1.9v2h-1.9zM223.6 443.9h1.9v2h-1.9zM226.1 397.5h1.9v2h-1.9zM226.1 401.5h1.9v2h-1.9zM226.1 421.7h1.9v2h-1.9zM226.1 439.8h1.9v2h-1.9zM228.6 415.6h1.9v2h-1.9zM228.6 425.7h1.9v2h-1.9zM228.6 429.8h1.9v2h-1.9zM228.6 437.8h1.9v2h-1.9zM228.6 443.9h1.9v2h-1.9zM231.1 403.5h1.9v2h-1.9zM233.6 397.5h1.9v2h-1.9zM233.6 405.6h1.9v2h-1.9zM233.6 409.6h1.9v2h-1.9zM233.6 411.6h1.9v2h-1.9zM233.6 417.7h1.9v2h-1.9zM233.6 427.7h1.9v2h-1.9zM233.6 441.9h1.9v2h-1.9zM233.6 443.9h1.9v2h-1.9zM236.1 401.5h1.9v2h-1.9zM236.1 403.5h1.9v2h-1.9zM236.1 407.6h1.9v2h-1.9zM236.1 421.7h1.9v2h-1.9zM236.1 437.8h1.9v2h-1.9z"/>
<path fill="#2a44c0" d="M146.1 399.5h1.9v2h-1.9zM146.1 401.5h1.9v2h-1.9zM146.1 417.7h1.9v2h-1.9zM148.6 409.6h1.9v2h-1.9zM148.6 411.6h1.9v2h-1.9zM148.6 417.7h1.9v2h-1.9zM148.6 419.7h1.9v2h-1.9zM148.6 427.7h1.9v2h-1.9zM148.6 431.8h1.9v2h-1.9zM148.6 437.8h1.9v2h-1.9zM151.1 397.5h1.9v2h-1.9zM151.1 405.6h1.9v2h-1.9zM151.1 409.6h1.9v2h-1.9zM151.1 419.7h1.9v2h-1.9zM151.1 421.7h1.9v2h-1.9zM151.1 427.7h1.9v2h-1.9zM151.1 437.8h1.9v2h-1.9zM151.1 439.8h1.9v2h-1.9zM151.1 441.9h1.9v2h-1.9zM151.1 443.9h1.9v2h-1.9zM153.6 409.6h1.9v2h-1.9zM153.6 413.6h1.9v2h-1.9zM153.6 415.6h1.9v2h-1.9zM153.6 423.7h1.9v2h-1.9zM153.6 437.8h1.9v2h-1.9zM153.6 441.9h1.9v2h-1.9zM156.1 407.6h1.9v2h-1.9zM156.1 409.6h1.9v2h-1.9zM156.1 423.7h1.9v2h-1.9zM158.6 409.6h1.9v2h-1.9zM158.6 415.6h1.9v2h-1.9zM158.6 427.7h1.9v2h-1.9zM158.6 441.9h1.9v2h-1.9zM161.1 397.5h1.9v2h-1.9zM161.1 399.5h1.9v2h-1.9zM161.1 413.6h1.9v2h-1.9zM161.1 439.8h1.9v2h-1.9zM161.1 441.9h1.9v2h-1.9zM163.6 399.5h1.9v2h-1.9zM163.6 411.6h1.9v2h-1.9zM163.6 417.7h1.9v2h-1.9zM163.6 423.7h1.9v2h-1.9zM163.6 431.8h1.9v2h-1.9zM163.6 435.8h1.9v2h-1.9zM163.6 443.9h1.9v2h-1.9zM166.1 403.5h1.9v2h-1.9zM166.1 415.6h1.9v2h-1.9zM166.1 427.7h1.9v2h-1.9zM168.6 407.6h1.9v2h-1.9zM168.6 415.6h1.9v2h-1.9zM171.1 401.5h1.9v2h-1.9zM171.1 411.6h1.9v2h-1.9zM171.1 415.6h1.9v2h-1.9zM171.1 421.7h1.9v2h-1.9zM173.6 397.5h1.9v2h-1.9zM173.6 399.5h1.9v2h-1.9zM173.6 401.5h1.9v2h-1.9zM173.6 425.7h1.9v2h-1.9zM173.6 427.7h1.9v2h-1.9zM173.6 435.8h1.9v2h-1.9zM176.1 401.5h1.9v2h-1.9zM176.1 411.6h1.9v2h-1.9zM176.1 413.6h1.9v2h-1.9zM176.1 417.7h1.9v2h-1.9zM176.1 441.9h1.9v2h-1.9zM178.6 399.5h1.9v2h-1.9zM178.6 411.6h1.9v2h-1.9zM178.6 413.6h1.9v2h-1.9zM178.6 415.6h1.9v2h-1.9zM178.6 435.8h1.9v2h-1.9zM178.6 443.9h1.9v2h-1.9zM181.1 399.5h1.9v2h-1.9zM181.1 407.6h1.9v2h-1.9zM181.1 421.7h1.9v2h-1.9zM181.1 429.8h1.9v2h-1.9zM181.1 441.9h1.9v2h-1.9zM183.6 403.5h1.9v2h-1.9zM183.6 415.6h1.9v2h-1.9zM186.1 401.5h1.9v2h-1.9zM186.1 409.6h1.9v2h-1.9zM186.1 421.7h1.9v2h-1.9zM186.1 425.7h1.9v2h-1.9zM186.1 429.8h1.9v2h-1.9zM186.1 435.8h1.9v2h-1.9zM186.1 443.9h1.9v2h-1.9zM188.6 407.6h1.9v2h-1.9zM191.1 407.6h1.9v2h-1.9zM191.1 413.6h1.9v2h-1.9zM191.1 415.6h1.9v2h-1.9zM191.1 431.8h1.9v2h-1.9zM193.6 415.6h1.9v2h-1.9zM193.6 423.7h1.9v2h-1.9zM193.6 427.7h1.9v2h-1.9zM196.1 397.5h1.9v2h-1.9zM196.1 413.6h1.9v2h-1.9zM196.1 425.7h1.9v2h-1.9zM196.1 427.7h1.9v2h-1.9zM198.6 403.5h1.9v2h-1.9zM198.6 427.7h1.9v2h-1.9zM198.6 429.8h1.9v2h-1.9zM198.6 433.8h1.9v2h-1.9zM201.1 401.5h1.9v2h-1.9zM201.1 403.5h1.9v2h-1.9zM201.1 405.6h1.9v2h-1.9zM201.1 415.6h1.9v2h-1.9zM201.1 421.7h1.9v2h-1.9zM201.1 425.7h1.9v2h-1.9zM201.1 429.8h1.9v2h-1.9zM201.1 433.8h1.9v2h-1.9zM201.1 443.9h1.9v2h-1.9zM203.6 421.7h1.9v2h-1.9zM203.6 425.7h1.9v2h-1.9zM203.6 429.8h1.9v2h-1.9zM203.6 431.8h1.9v2h-1.9zM203.6 435.8h1.9v2h-1.9zM206.1 401.5h1.9v2h-1.9zM206.1 403.5h1.9v2h-1.9zM206.1 407.6h1.9v2h-1.9zM206.1 415.6h1.9v2h-1.9zM206.1 419.7h1.9v2h-1.9zM206.1 421.7h1.9v2h-1.9zM206.1 425.7h1.9v2h-1.9zM206.1 439.8h1.9v2h-1.9zM208.6 403.5h1.9v2h-1.9zM208.6 407.6h1.9v2h-1.9zM208.6 409.6h1.9v2h-1.9zM208.6 417.7h1.9v2h-1.9zM208.6 421.7h1.9v2h-1.9zM208.6 423.7h1.9v2h-1.9zM208.6 431.8h1.9v2h-1.9zM208.6 441.9h1.9v2h-1.9zM211.1 411.6h1.9v2h-1.9zM211.1 427.7h1.9v2h-1.9zM211.1 429.8h1.9v2h-1.9zM211.1 443.9h1.9v2h-1.9zM213.6 397.5h1.9v2h-1.9zM213.6 415.6h1.9v2h-1.9zM213.6 419.7h1.9v2h-1.9zM213.6 425.7h1.9v2h-1.9zM213.6 429.8h1.9v2h-1.9zM213.6 437.8h1.9v2h-1.9zM213.6 443.9h1.9v2h-1.9zM216.1 397.5h1.9v2h-1.9zM216.1 399.5h1.9v2h-1.9zM216.1 401.5h1.9v2h-1.9zM216.1 405.6h1.9v2h-1.9zM216.1 409.6h1.9v2h-1.9zM216.1 411.6h1.9v2h-1.9zM216.1 415.6h1.9v2h-1.9zM216.1 427.7h1.9v2h-1.9zM216.1 439.8h1.9v2h-1.9zM216.1 443.9h1.9v2h-1.9zM218.6 423.7h1.9v2h-1.9zM218.6 431.8h1.9v2h-1.9zM221.1 431.8h1.9v2h-1.9zM221.1 441.9h1.9v2h-1.9zM223.6 399.5h1.9v2h-1.9zM223.6 405.6h1.9v2h-1.9zM223.6 413.6h1.9v2h-1.9zM223.6 417.7h1.9v2h-1.9zM223.6 423.7h1.9v2h-1.9zM226.1 399.5h1.9v2h-1.9zM226.1 405.6h1.9v2h-1.9zM226.1 409.6h1.9v2h-1.9zM226.1 413.6h1.9v2h-1.9zM226.1 419.7h1.9v2h-1.9zM226.1 423.7h1.9v2h-1.9zM226.1 435.8h1.9v2h-1.9zM228.6 403.5h1.9v2h-1.9zM228.6 409.6h1.9v2h-1.9zM228.6 413.6h1.9v2h-1.9zM228.6 421.7h1.9v2h-1.9zM228.6 423.7h1.9v2h-1.9zM228.6 427.7h1.9v2h-1.9zM228.6 431.8h1.9v2h-1.9zM228.6 433.8h1.9v2h-1.9zM231.1 401.5h1.9v2h-1.9zM231.1 407.6h1.9v2h-1.9zM231.1 409.6h1.9v2h-1.9zM231.1 421.7h1.9v2h-1.9zM231.1 437.8h1.9v2h-1.9zM231.1 439.8h1.9v2h-1.9zM233.6 401.5h1.9v2h-1.9zM233.6 407.6h1.9v2h-1.9zM236.1 397.5h1.9v2h-1.9zM236.1 399.5h1.9v2h-1.9zM236.1 409.6h1.9v2h-1.9zM236.1 413.6h1.9v2h-1.9zM236.1 423.7h1.9v2h-1.9zM236.1 443.9h1.9v2h-1.9z"/>
<path fill="#8a5a2a" d="M146.1 405.6h1.9v2h-1.9zM146.1 411.6h1.9v2h-1.9zM146.1 423.7h1.9v2h-1.9zM148.6 421.7h1.9v2h-1.9zM151.1 435.8h1.9v2h-1.9zM156.1 405.6h1.9v2h-1.9zM156.1 411.6h1.9v2h-1.9zM161.1 409.6h1.9v2h-1.9zM166.1 405.6h1.9v2h-1.9zM168.6 425.7h1.9v2h-1.9zM171.1 439.8h1.9v2h-1.9zM173.6 415.6h1.9v2h-1.9zM176.1 425.7h1.9v2h-1.9zM178.6 397.5h1.9v2h-1.9zM181.1 423.7h1.9v2h-1.9zM183.6 429.8h1.9v2h-1.9zM186.1 417.7h1.9v2h-1.9zM188.6 435.8h1.9v2h-1.9zM191.1 397.5h1.9v2h-1.9zM191.1 403.5h1.9v2h-1.9zM193.6 401.5h1.9v2h-1.9zM193.6 433.8h1.9v2h-1.9zM196.1 403.5h1.9v2h-1.9zM198.6 437.8h1.9v2h-1.9zM201.1 435.8h1.9v2h-1.9zM203.6 419.7h1.9v2h-1.9zM203.6 441.9h1.9v2h-1.9zM206.1 427.7h1.9v2h-1.9zM208.6 399.5h1.9v2h-1.9zM208.6 425.7h1.9v2h-1.9zM216.1 417.7h1.9v2h-1.9zM218.6 403.5h1.9v2h-1.9zM218.6 435.8h1.9v2h-1.9zM221.1 397.5h1.9v2h-1.9zM221.1 411.6h1.9v2h-1.9zM221.1 419.7h1.9v2h-1.9zM221.1 435.8h1.9v2h-1.9zM226.1 431.8h1.9v2h-1.9zM233.6 421.7h1.9v2h-1.9z"/>
<path fill="#8040b0" d="M146.1 409.6h1.9v2h-1.9zM146.1 427.7h1.9v2h-1.9zM148.6 397.5h1.9v2h-1.9zM148.6 405.6h1.9v2h-1.9zM148.6 423.7h1.9v2h-1.9zM148.6 433.8h1.9v2h-1.9zM148.6 441.9h1.9v2h-1.9zM148.6 443.9h1.9v2h-1.9zM151.1 411.6h1.9v2h-1.9zM153.6 411.6h1.9v2h-1.9zM153.6 427.7h1.9v2h-1.9zM153.6 435.8h1.9v2h-1.9zM158.6 401.5h1.9v2h-1.9zM158.6 431.8h1.9v2h-1.9zM158.6 439.8h1.9v2h-1.9zM161.1 405.6h1.9v2h-1.9zM161.1 411.6h1.9v2h-1.9zM161.1 417.7h1.9v2h-1.9zM161.1 427.7h1.9v2h-1.9zM163.6 397.5h1.9v2h-1.9zM163.6 401.5h1.9v2h-1.9zM163.6 415.6h1.9v2h-1.9zM163.6 419.7h1.9v2h-1.9zM163.6 437.8h1.9v2h-1.9zM166.1 435.8h1.9v2h-1.9zM166.1 437.8h1.9v2h-1.9zM168.6 437.8h1.9v2h-1.9zM171.1 409.6h1.9v2h-1.9zM173.6 407.6h1.9v2h-1.9zM173.6 409.6h1.9v2h-1.9zM173.6 417.7h1.9v2h-1.9zM176.1 405.6h1.9v2h-1.9zM176.1 427.7h1.9v2h-1.9zM176.1 433.8h1.9v2h-1.9zM178.6 429.8h1.9v2h-1.9zM181.1 401.5h1.9v2h-1.9zM181.1 419.7h1.9v2h-1.9zM181.1 427.7h1.9v2h-1.9zM181.1 443.9h1.9v2h-1.9zM183.6 397.5h1.9v2h-1.9zM183.6 401.5h1.9v2h-1.9zM183.6 439.8h1.9v2h-1.9zM183.6 441.9h1.9v2h-1.9zM186.1 423.7h1.9v2h-1.9zM188.6 411.6h1.9v2h-1.9zM188.6 419.7h1.9v2h-1.9zM188.6 421.7h1.9v2h-1.9zM191.1 399.5h1.9v2h-1.9zM191.1 419.7h1.9v2h-1.9zM191.1 437.8h1.9v2h-1.9zM193.6 397.5h1.9v2h-1.9zM193.6 403.5h1.9v2h-1.9zM193.6 435.8h1.9v2h-1.9zM193.6 439.8h1.9v2h-1.9zM196.1 409.6h1.9v2h-1.9zM198.6 397.5h1.9v2h-1.9zM198.6 407.6h1.9v2h-1.9zM198.6 415.6h1.9v2h-1.9zM198.6 431.8h1.9v2h-1.9zM201.1 399.5h1.9v2h-1.9zM201.1 427.7h1.9v2h-1.9zM201.1 431.8h1.9v2h-1.9zM203.6 403.5h1.9v2h-1.9zM203.6 415.6h1.9v2h-1.9zM206.1 441.9h1.9v2h-1.9zM208.6 405.6h1.9v2h-1.9zM208.6 429.8h1.9v2h-1.9zM211.1 403.5h1.9v2h-1.9zM211.1 405.6h1.9v2h-1.9zM211.1 421.7h1.9v2h-1.9zM211.1 437.8h1.9v2h-1.9zM213.6 403.5h1.9v2h-1.9zM213.6 405.6h1.9v2h-1.9zM213.6 427.7h1.9v2h-1.9zM216.1 441.9h1.9v2h-1.9zM218.6 433.8h1.9v2h-1.9zM221.1 407.6h1.9v2h-1.9zM221.1 433.8h1.9v2h-1.9zM223.6 431.8h1.9v2h-1.9zM226.1 417.7h1.9v2h-1.9zM226.1 433.8h1.9v2h-1.9zM228.6 401.5h1.9v2h-1.9zM228.6 441.9h1.9v2h-1.9zM231.1 441.9h1.9v2h-1.9zM233.6 413.6h1.9v2h-1.9zM236.1 405.6h1.9v2h-1.9zM236.1 411.6h1.9v2h-1.9zM236.1 431.8h1.9v2h-1.9z"/>
<path fill="#20b040" d="M146.1 413.6h1.9v2h-1.9zM146.1 429.8h1.9v2h-1.9zM146.1 431.8h1.9v2h-1.9zM148.6 429.8h1.9v2h-1.9zM148.6 435.8h1.9v2h-1.9zM151.1 413.6h1.9v2h-1.9zM153.6 421.7h1.9v2h-1.9zM153.6 429.8h1.9v2h-1.9zM153.6 439.8h1.9v2h-1.9zM156.1 401.5h1.9v2h-1.9zM156.1 425.7h1.9v2h-1.9zM156.1 431.8h1.9v2h-1.9zM158.6 399.5h1.9v2h-1.9zM158.6 413.6h1.9v2h-1.9zM158.6 419.7h1.9v2h-1.9zM158.6 421.7h1.9v2h-1.9zM158.6 425.7h1.9v2h-1.9zM161.1 419.7h1.9v2h-1.9zM161.1 423.7h1.9v2h-1.9zM161.1 431.8h1.9v2h-1.9zM163.6 421.7h1.9v2h-1.9zM163.6 439.8h1.9v2h-1.9zM166.1 401.5h1.9v2h-1.9zM166.1 423.7h1.9v2h-1.9zM166.1 425.7h1.9v2h-1.9zM168.6 399.5h1.9v2h-1.9zM168.6 405.6h1.9v2h-1.9zM171.1 407.6h1.9v2h-1.9zM176.1 415.6h1.9v2h-1.9zM176.1 437.8h1.9v2h-1.9zM178.6 409.6h1.9v2h-1.9zM178.6 439.8h1.9v2h-1.9zM181.1 413.6h1.9v2h-1.9zM183.6 407.6h1.9v2h-1.9zM183.6 411.6h1.9v2h-1.9zM186.1 405.6h1.9v2h-1.9zM186.1 413.6h1.9v2h-1.9zM186.1 415.6h1.9v2h-1.9zM186.1 439.8h1.9v2h-1.9zM188.6 417.7h1.9v2h-1.9zM188.6 433.8h1.9v2h-1.9zM188.6 439.8h1.9v2h-1.9zM191.1 405.6h1.9v2h-1.9zM191.1 409.6h1.9v2h-1.9zM191.1 417.7h1.9v2h-1.9zM191.1 421.7h1.9v2h-1.9zM193.6 413.6h1.9v2h-1.9zM193.6 441.9h1.9v2h-1.9zM196.1 417.7h1.9v2h-1.9zM196.1 437.8h1.9v2h-1.9zM196.1 441.9h1.9v2h-1.9zM198.6 413.6h1.9v2h-1.9zM198.6 421.7h1.9v2h-1.9zM201.1 409.6h1.9v2h-1.9zM201.1 417.7h1.9v2h-1.9zM203.6 401.5h1.9v2h-1.9zM203.6 439.8h1.9v2h-1.9zM203.6 443.9h1.9v2h-1.9zM206.1 431.8h1.9v2h-1.9zM206.1 433.8h1.9v2h-1.9zM211.1 407.6h1.9v2h-1.9zM213.6 401.5h1.9v2h-1.9zM218.6 401.5h1.9v2h-1.9zM218.6 421.7h1.9v2h-1.9zM218.6 429.8h1.9v2h-1.9zM218.6 437.8h1.9v2h-1.9zM221.1 401.5h1.9v2h-1.9zM221.1 427.7h1.9v2h-1.9zM221.1 439.8h1.9v2h-1.9zM223.6 401.5h1.9v2h-1.9zM223.6 403.5h1.9v2h-1.9zM223.6 409.6h1.9v2h-1.9zM223.6 411.6h1.9v2h-1.9zM223.6 429.8h1.9v2h-1.9zM226.1 443.9h1.9v2h-1.9zM228.6 397.5h1.9v2h-1.9zM228.6 419.7h1.9v2h-1.9zM231.1 413.6h1.9v2h-1.9zM231.1 427.7h1.9v2h-1.9zM231.1 429.8h1.9v2h-1.9zM233.6 415.6h1.9v2h-1.9zM233.6 431.8h1.9v2h-1.9zM233.6 439.8h1.9v2h-1.9zM236.1 415.6h1.9v2h-1.9z"/>
<path fill="#6a1010" d="M146.1 415.6h1.9v2h-1.9zM146.1 439.8h1.9v2h-1.9zM151.1 401.5h1.9v2h-1.9zM151.1 429.8h1.9v2h-1.9zM153.6 443.9h1.9v2h-1.9zM156.1 429.8h1.9v2h-1.9zM158.6 403.5h1.9v2h-1.9zM161.1 401.5h1.9v2h-1.9zM161.1 429.8h1.9v2h-1.9zM163.6 409.6h1.9v2h-1.9zM163.6 425.7h1.9v2h-1.9zM163.6 441.9h1.9v2h-1.9zM166.1 421.7h1.9v2h-1.9zM166.1 441.9h1.9v2h-1.9zM168.6 423.7h1.9v2h-1.9zM171.1 397.5h1.9v2h-1.9zM171.1 399.5h1.9v2h-1.9zM173.6 429.8h1.9v2h-1.9zM173.6 433.8h1.9v2h-1.9zM173.6 441.9h1.9v2h-1.9zM173.6 443.9h1.9v2h-1.9zM176.1 399.5h1.9v2h-1.9zM176.1 407.6h1.9v2h-1.9zM176.1 419.7h1.9v2h-1.9zM176.1 421.7h1.9v2h-1.9zM176.1 423.7h1.9v2h-1.9zM176.1 431.8h1.9v2h-1.9zM176.1 439.8h1.9v2h-1.9zM181.1 397.5h1.9v2h-1.9zM181.1 403.5h1.9v2h-1.9zM181.1 435.8h1.9v2h-1.9zM186.1 411.6h1.9v2h-1.9zM186.1 431.8h1.9v2h-1.9zM188.6 399.5h1.9v2h-1.9zM188.6 403.5h1.9v2h-1.9zM188.6 413.6h1.9v2h-1.9zM188.6 415.6h1.9v2h-1.9zM188.6 425.7h1.9v2h-1.9zM191.1 427.7h1.9v2h-1.9zM191.1 429.8h1.9v2h-1.9zM191.1 443.9h1.9v2h-1.9zM193.6 443.9h1.9v2h-1.9zM196.1 411.6h1.9v2h-1.9zM198.6 399.5h1.9v2h-1.9zM198.6 439.8h1.9v2h-1.9zM201.1 411.6h1.9v2h-1.9zM201.1 423.7h1.9v2h-1.9zM201.1 439.8h1.9v2h-1.9zM203.6 405.6h1.9v2h-1.9zM203.6 411.6h1.9v2h-1.9zM203.6 413.6h1.9v2h-1.9zM208.6 443.9h1.9v2h-1.9zM211.1 397.5h1.9v2h-1.9zM211.1 415.6h1.9v2h-1.9zM211.1 425.7h1.9v2h-1.9zM211.1 439.8h1.9v2h-1.9zM211.1 441.9h1.9v2h-1.9zM213.6 399.5h1.9v2h-1.9zM213.6 421.7h1.9v2h-1.9zM216.1 419.7h1.9v2h-1.9zM216.1 421.7h1.9v2h-1.9zM216.1 433.8h1.9v2h-1.9zM218.6 417.7h1.9v2h-1.9zM221.1 399.5h1.9v2h-1.9zM221.1 405.6h1.9v2h-1.9zM221.1 423.7h1.9v2h-1.9zM223.6 397.5h1.9v2h-1.9zM223.6 439.8h1.9v2h-1.9zM226.1 429.8h1.9v2h-1.9zM226.1 437.8h1.9v2h-1.9zM228.6 399.5h1.9v2h-1.9zM228.6 417.7h1.9v2h-1.9zM228.6 435.8h1.9v2h-1.9zM231.1 423.7h1.9v2h-1.9zM231.1 425.7h1.9v2h-1.9zM233.6 423.7h1.9v2h-1.9zM233.6 425.7h1.9v2h-1.9zM233.6 429.8h1.9v2h-1.9zM233.6 437.8h1.9v2h-1.9zM236.1 419.7h1.9v2h-1.9z"/>
<path fill="#b0b0b0" d="M146.1 419.7h1.9v2h-1.9zM148.6 403.5h1.9v2h-1.9zM153.6 399.5h1.9v2h-1.9zM156.1 419.7h1.9v2h-1.9zM156.1 433.8h1.9v2h-1.9zM156.1 443.9h1.9v2h-1.9zM158.6 405.6h1.9v2h-1.9zM163.6 407.6h1.9v2h-1.9zM166.1 397.5h1.9v2h-1.9zM166.1 407.6h1.9v2h-1.9zM168.6 427.7h1.9v2h-1.9zM173.6 419.7h1.9v2h-1.9zM173.6 423.7h1.9v2h-1.9zM178.6 401.5h1.9v2h-1.9zM178.6 425.7h1.9v2h-1.9zM183.6 413.6h1.9v2h-1.9zM183.6 421.7h1.9v2h-1.9zM186.1 403.5h1.9v2h-1.9zM186.1 437.8h1.9v2h-1.9zM191.1 401.5h1.9v2h-1.9zM196.1 435.8h1.9v2h-1.9zM196.1 443.9h1.9v2h-1.9zM201.1 437.8h1.9v2h-1.9zM203.6 409.6h1.9v2h-1.9zM208.6 397.5h1.9v2h-1.9zM208.6 437.8h1.9v2h-1.9zM213.6 409.6h1.9v2h-1.9zM213.6 431.8h1.9v2h-1.9zM216.1 403.5h1.9v2h-1.9zM218.6 399.5h1.9v2h-1.9zM218.6 415.6h1.9v2h-1.9zM221.1 413.6h1.9v2h-1.9zM221.1 425.7h1.9v2h-1.9zM226.1 411.6h1.9v2h-1.9zM226.1 415.6h1.9v2h-1.9zM228.6 411.6h1.9v2h-1.9zM233.6 403.5h1.9v2h-1.9zM236.1 433.8h1.9v2h-1.9zM236.1 439.8h1.9v2h-1.9z"/>
<path fill="#f0e060" d="M146.1 421.7h1.9v2h-1.9zM146.1 443.9h1.9v2h-1.9zM151.1 407.6h1.9v2h-1.9zM151.1 423.7h1.9v2h-1.9zM156.1 399.5h1.9v2h-1.9zM156.1 417.7h1.9v2h-1.9zM156.1 439.8h1.9v2h-1.9zM158.6 423.7h1.9v2h-1.9zM163.6 433.8h1.9v2h-1.9zM166.1 417.7h1.9v2h-1.9zM168.6 413.6h1.9v2h-1.9zM171.1 417.7h1.9v2h-1.9zM173.6 431.8h1.9v2h-1.9zM178.6 405.6h1.9v2h-1.9zM178.6 421.7h1.9v2h-1.9zM181.1 411.6h1.9v2h-1.9zM183.6 437.8h1.9v2h-1.9zM188.6 405.6h1.9v2h-1.9zM191.1 411.6h1.9v2h-1.9zM191.1 423.7h1.9v2h-1.9zM193.6 431.8h1.9v2h-1.9zM196.1 429.8h1.9v2h-1.9zM201.1 441.9h1.9v2h-1.9zM206.1 399.5h1.9v2h-1.9zM206.1 423.7h1.9v2h-1.9zM208.6 401.5h1.9v2h-1.9zM208.6 433.8h1.9v2h-1.9zM218.6 407.6h1.9v2h-1.9zM221.1 417.7h1.9v2h-1.9zM221.1 421.7h1.9v2h-1.9zM221.1 429.8h1.9v2h-1.9zM223.6 415.6h1.9v2h-1.9zM223.6 441.9h1.9v2h-1.9zM226.1 407.6h1.9v2h-1.9zM226.1 441.9h1.9v2h-1.9z"/>
<path fill="#a8d040" d="M146.1 437.8h1.9v2h-1.9zM146.1 441.9h1.9v2h-1.9zM148.6 415.6h1.9v2h-1.9zM148.6 425.7h1.9v2h-1.9zM151.1 399.5h1.9v2h-1.9zM151.1 415.6h1.9v2h-1.9zM151.1 417.7h1.9v2h-1.9zM153.6 403.5h1.9v2h-1.9zM153.6 407.6h1.9v2h-1.9zM156.1 403.5h1.9v2h-1.9zM156.1 421.7h1.9v2h-1.9zM158.6 433.8h1.9v2h-1.9zM158.6 435.8h1.9v2h-1.9zM161.1 421.7h1.9v2h-1.9zM161.1 435.8h1.9v2h-1.9zM163.6 429.8h1.9v2h-1.9zM166.1 439.8h1.9v2h-1.9zM168.6 401.5h1.9v2h-1.9zM168.6 403.5h1.9v2h-1.9zM168.6 411.6h1.9v2h-1.9zM168.6 417.7h1.9v2h-1.9zM168.6 419.7h1.9v2h-1.9zM168.6 435.8h1.9v2h-1.9zM168.6 441.9h1.9v2h-1.9zM171.1 431.8h1.9v2h-1.9zM171.1 435.8h1.9v2h-1.9zM171.1 437.8h1.9v2h-1.9zM171.1 441.9h1.9v2h-1.9zM173.6 403.5h1.9v2h-1.9zM173.6 437.8h1.9v2h-1.9zM176.1 443.9h1.9v2h-1.9zM178.6 407.6h1.9v2h-1.9zM178.6 423.7h1.9v2h-1.9zM178.6 427.7h1.9v2h-1.9zM181.1 405.6h1.9v2h-1.9zM183.6 399.5h1.9v2h-1.9zM183.6 433.8h1.9v2h-1.9zM188.6 443.9h1.9v2h-1.9zM193.6 399.5h1.9v2h-1.9zM193.6 405.6h1.9v2h-1.9zM193.6 419.7h1.9v2h-1.9zM193.6 437.8h1.9v2h-1.9zM196.1 405.6h1.9v2h-1.9zM196.1 415.6h1.9v2h-1.9zM196.1 421.7h1.9v2h-1.9zM198.6 405.6h1.9v2h-1.9zM198.6 419.7h1.9v2h-1.9zM198.6 435.8h1.9v2h-1.9zM203.6 407.6h1.9v2h-1.9zM203.6 433.8h1.9v2h-1.9zM206.1 411.6h1.9v2h-1.9zM206.1 417.7h1.9v2h-1.9zM206.1 435.8h1.9v2h-1.9zM208.6 427.7h1.9v2h-1.9zM211.1 399.5h1.9v2h-1.9zM211.1 423.7h1.9v2h-1.9zM211.1 433.8h1.9v2h-1.9zM211.1 435.8h1.9v2h-1.9zM213.6 411.6h1.9v2h-1.9zM213.6 423.7h1.9v2h-1.9zM213.6 435.8h1.9v2h-1.9zM213.6 439.8h1.9v2h-1.9zM216.1 413.6h1.9v2h-1.9zM216.1 423.7h1.9v2h-1.9zM216.1 429.8h1.9v2h-1.9zM218.6 409.6h1.9v2h-1.9zM218.6 413.6h1.9v2h-1.9zM218.6 443.9h1.9v2h-1.9zM223.6 435.8h1.9v2h-1.9zM228.6 407.6h1.9v2h-1.9zM231.1 411.6h1.9v2h-1.9zM231.1 417.7h1.9v2h-1.9zM231.1 431.8h1.9v2h-1.9zM231.1 435.8h1.9v2h-1.9zM231.1 443.9h1.9v2h-1.9zM233.6 433.8h1.9v2h-1.9zM233.6 435.8h1.9v2h-1.9zM236.1 417.7h1.9v2h-1.9zM236.1 425.7h1.9v2h-1.9zM236.1 427.7h1.9v2h-1.9zM236.1 429.8h1.9v2h-1.9zM236.1 435.8h1.9v2h-1.9z"/>
<path fill="#e070b0" d="M148.6 413.6h1.9v2h-1.9zM151.1 433.8h1.9v2h-1.9zM153.6 405.6h1.9v2h-1.9zM156.1 435.8h1.9v2h-1.9zM158.6 417.7h1.9v2h-1.9zM158.6 437.8h1.9v2h-1.9zM158.6 443.9h1.9v2h-1.9zM161.1 415.6h1.9v2h-1.9zM161.1 425.7h1.9v2h-1.9zM163.6 427.7h1.9v2h-1.9zM166.1 399.5h1.9v2h-1.9zM166.1 419.7h1.9v2h-1.9zM168.6 429.8h1.9v2h-1.9zM171.1 403.5h1.9v2h-1.9zM171.1 419.7h1.9v2h-1.9zM171.1 433.8h1.9v2h-1.9zM176.1 403.5h1.9v2h-1.9zM178.6 419.7h1.9v2h-1.9zM181.1 433.8h1.9v2h-1.9zM183.6 419.7h1.9v2h-1.9zM186.1 427.7h1.9v2h-1.9zM188.6 397.5h1.9v2h-1.9zM188.6 441.9h1.9v2h-1.9zM191.1 439.8h1.9v2h-1.9zM193.6 417.7h1.9v2h-1.9zM196.1 439.8h1.9v2h-1.9zM198.6 409.6h1.9v2h-1.9zM203.6 437.8h1.9v2h-1.9zM206.1 405.6h1.9v2h-1.9zM206.1 437.8h1.9v2h-1.9zM206.1 443.9h1.9v2h-1.9zM208.6 411.6h1.9v2h-1.9zM208.6 419.7h1.9v2h-1.9zM208.6 435.8h1.9v2h-1.9zM216.1 425.7h1.9v2h-1.9zM216.1 437.8h1.9v2h-1.9zM218.6 425.7h1.9v2h-1.9zM218.6 441.9h1.9v2h-1.9zM221.1 437.8h1.9v2h-1.9zM226.1 403.5h1.9v2h-1.9zM226.1 425.7h1.9v2h-1.9zM228.6 439.8h1.9v2h-1.9zM231.1 397.5h1.9v2h-1.9zM231.1 399.5h1.9v2h-1.9zM231.1 405.6h1.9v2h-1.9zM233.6 399.5h1.9v2h-1.9zM233.6 419.7h1.9v2h-1.9z"/>
<path fill="#40c8f0" d="M156.1 427.7h1.9v2h-1.9zM156.1 441.9h1.9v2h-1.9zM158.6 411.6h1.9v2h-1.9zM161.1 403.5h1.9v2h-1.9zM166.1 429.8h1.9v2h-1.9zM166.1 433.8h1.9v2h-1.9zM166.1 443.9h1.9v2h-1.9zM168.6 397.5h1.9v2h-1.9zM168.6 421.7h1.9v2h-1.9zM168.6 439.8h1.9v2h-1.9zM171.1 413.6h1.9v2h-1.9zM173.6 439.8h1.9v2h-1.9zM176.1 409.6h1.9v2h-1.9zM181.1 425.7h1.9v2h-1.9zM181.1 439.8h1.9v2h-1.9zM183.6 423.7h1.9v2h-1.9zM186.1 407.6h1.9v2h-1.9zM188.6 427.7h1.9v2h-1.9zM193.6 407.6h1.9v2h-1.9zM196.1 399.5h1.9v2h-1.9zM196.1 401.5h1.9v2h-1.9zM196.1 419.7h1.9v2h-1.9zM198.6 417.7h1.9v2h-1.9zM198.6 441.9h1.9v2h-1.9zM201.1 407.6h1.9v2h-1.9zM203.6 427.7h1.9v2h-1.9zM206.1 409.6h1.9v2h-1.9zM206.1 429.8h1.9v2h-1.9zM208.6 439.8h1.9v2h-1.9zM211.1 417.7h1.9v2h-1.9zM211.1 431.8h1.9v2h-1.9zM221.1 415.6h1.9v2h-1.9zM226.1 427.7h1.9v2h-1.9zM228.6 405.6h1.9v2h-1.9zM231.1 415.6h1.9v2h-1.9zM231.1 419.7h1.9v2h-1.9zM231.1 433.8h1.9v2h-1.9zM236.1 441.9h1.9v2h-1.9z"/>
<text x="199.4" y="344.9" font-size="11" textLength="63.6" lengthAdjust="spacingAndGlyphs" fill="#111">9,014 nodes</text>
<text x="199.4" y="358.4" font-size="11" textLength="76.2" lengthAdjust="spacingAndGlyphs" fill="#111">993,699 edges</text>
<text x="199.4" y="372.5" font-size="11" textLength="59.5" lengthAdjust="spacingAndGlyphs" fill="#111">34 modules</text>
<text x="157.4" y="458.8" font-size="13" fill="#111"><tspan textLength="59.5" lengthAdjust="spacingAndGlyphs">1,473 Hub</tspan><tspan font-size="8" dy="-5.5" textLength="14.5" lengthAdjust="spacingAndGlyphs">500</tspan></text>
<path fill="#a08060" d="M8.5 465h1.9v1.9h-1.9zM38.2 465h1.9v1.9h-1.9zM54.7 465h1.9v1.9h-1.9zM67.9 465h1.9v1.9h-1.9zM77.8 465h1.9v1.9h-1.9zM91 468.7h1.9v1.9h-1.9zM97.6 465h1.9v1.9h-1.9zM117.4 468.7h1.9v1.9h-1.9zM144.6 465h1.9v1.9h-1.9zM174.3 465h1.9v1.9h-1.9z"/>
<path fill="#70d0e0" d="M8.5 468.7h1.9v1.9h-1.9zM25 468.7h1.9v1.9h-1.9zM48.1 468.7h1.9v1.9h-1.9zM67.9 468.7h1.9v1.9h-1.9zM74.5 468.7h1.9v1.9h-1.9zM84.4 465h1.9v1.9h-1.9zM114.1 465h1.9v1.9h-1.9zM117.4 465h1.9v1.9h-1.9zM141.3 468.7h1.9v1.9h-1.9zM154.5 468.7h1.9v1.9h-1.9zM126.7 459.5h1.5v1.5h-1.5zM134.9 460.8h1.5v1.5h-1.5zM125.6 470h1.5v1.5h-1.5z"/>
<path fill="#3050c0" d="M11.8 465h1.9v1.9h-1.9zM21.7 465h1.9v1.9h-1.9zM34.9 465h1.9v1.9h-1.9zM41.5 465h1.9v1.9h-1.9zM71.2 465h1.9v1.9h-1.9zM81.1 468.7h1.9v1.9h-1.9zM154.5 465h1.9v1.9h-1.9z"/>
<path fill="#c878c0" d="M11.8 468.7h1.9v1.9h-1.9zM61.3 468.7h1.9v1.9h-1.9zM157.8 465h1.9v1.9h-1.9z"/>
<path fill="#d8d8d8" d="M15.1 465h1.9v1.9h-1.9zM44.8 465h1.9v1.9h-1.9zM97.6 468.7h1.9v1.9h-1.9zM107.5 465h1.9v1.9h-1.9zM107.5 468.7h1.9v1.9h-1.9zM157.8 468.7h1.9v1.9h-1.9z"/>
<path fill="#bbbbbb" d="M15.1 468.7h1.9v1.9h-1.9zM51.4 465h1.9v1.9h-1.9zM110.8 468.7h1.9v1.9h-1.9zM161.1 468.7h1.9v1.9h-1.9z"/>
<path fill="#e8a0d0" d="M18.4 465h1.9v1.9h-1.9zM64.6 465h1.9v1.9h-1.9zM94.3 468.7h1.9v1.9h-1.9zM110.8 465h1.9v1.9h-1.9zM141.3 465h1.9v1.9h-1.9zM171 468.7h1.9v1.9h-1.9z"/>
<path fill="#222" d="M18.4 468.7h1.9v1.9h-1.9zM34.9 468.7h1.9v1.9h-1.9zM71.2 468.7h1.9v1.9h-1.9zM147.9 465h1.9v1.9h-1.9zM147.9 468.7h1.9v1.9h-1.9zM151.2 465h1.9v1.9h-1.9zM164.4 468.7h1.9v1.9h-1.9zM167.7 465h1.9v1.9h-1.9z"/>
<path fill="#a8c8e8" d="M25 465h1.9v1.9h-1.9zM44.8 468.7h1.9v1.9h-1.9zM58 465h1.9v1.9h-1.9zM61.3 465h1.9v1.9h-1.9zM77.8 468.7h1.9v1.9h-1.9zM94.3 465h1.9v1.9h-1.9zM132.2 468.3h1.5v1.5h-1.5zM132.7 464.9h1.5v1.5h-1.5z"/>
<path fill="#50b850" d="M28.3 465h1.9v1.9h-1.9zM28.3 468.7h1.9v1.9h-1.9zM31.6 465h1.9v1.9h-1.9zM48.1 465h1.9v1.9h-1.9zM58 468.7h1.9v1.9h-1.9zM84.4 468.7h1.9v1.9h-1.9zM87.7 465h1.9v1.9h-1.9zM174.3 468.7h1.9v1.9h-1.9z"/>
<path fill="#444" d="M31.6 468.7h1.9v1.9h-1.9zM41.5 468.7h1.9v1.9h-1.9zM87.7 468.7h1.9v1.9h-1.9zM104.2 465h1.9v1.9h-1.9zM114.1 468.7h1.9v1.9h-1.9zM177.6 468.7h1.9v1.9h-1.9z"/>
<path fill="#6a1a1a" d="M81.1 465h1.9v1.9h-1.9zM100.9 465h1.9v1.9h-1.9zM151.2 468.7h1.9v1.9h-1.9zM164.4 465h1.9v1.9h-1.9zM167.7 468.7h1.9v1.9h-1.9zM171 465h1.9v1.9h-1.9zM177.6 465h1.9v1.9h-1.9z"/>
<path fill="#c8c040" d="M100.9 468.7h1.9v1.9h-1.9zM132.8 463.5h1.5v1.5h-1.5zM131.9 460.9h1.5v1.5h-1.5z"/>
<path fill="#f0a030" d="M144.6 468.7h1.9v1.9h-1.9zM161.1 465h1.9v1.9h-1.9zM126.7 464.3h1.5v1.5h-1.5zM136.8 466.1h1.5v1.5h-1.5zM124.5 465.6h1.5v1.5h-1.5z"/>
<path fill="#999" d="M131.9 465.4h1.5v1.5h-1.5zM136.7 467.6h1.5v1.5h-1.5zM128.1 467.1h1.5v1.5h-1.5zM123.6 468h1.5v1.5h-1.5z"/>
<path fill="none" stroke="#c8c8c8" stroke-width="0.3" d="M121 466L137 462M124 470L136 460M137 466L152 461"/>
<rect x="2" y="463.5" width="1.6" height="1.6" fill="#e0d040"/>
<rect x="4.5" y="466" width="1.6" height="1.6" fill="#e0d040"/>
<rect x="6.5" y="468.5" width="1.6" height="1.6" fill="#c8c040"/>
<text x="295.6" y="297.2" font-size="16.5" font-weight="bold" textLength="9.2" lengthAdjust="spacingAndGlyphs">c</text>
<text x="348.9" y="307" font-size="10.2" font-weight="bold" text-anchor="end" textLength="35.5" lengthAdjust="spacingAndGlyphs" fill="#111">0.0035</text>
<text x="348.9" y="325.4" font-size="10.2" font-weight="bold" text-anchor="end" textLength="29" lengthAdjust="spacingAndGlyphs" fill="#111">0.003</text>
<text x="348.9" y="343.7" font-size="10.2" font-weight="bold" text-anchor="end" textLength="35.5" lengthAdjust="spacingAndGlyphs" fill="#111">0.0025</text>
<text x="348.9" y="362" font-size="10.2" font-weight="bold" text-anchor="end" textLength="29" lengthAdjust="spacingAndGlyphs" fill="#111">0.002</text>
<text x="348.9" y="380.4" font-size="10.2" font-weight="bold" text-anchor="end" textLength="35.5" lengthAdjust="spacingAndGlyphs" fill="#111">0.0015</text>
<text x="348.9" y="398.7" font-size="10.2" font-weight="bold" text-anchor="end" textLength="29" lengthAdjust="spacingAndGlyphs" fill="#111">0.001</text>
<text x="348.9" y="417.1" font-size="10.2" font-weight="bold" text-anchor="end" textLength="35.5" lengthAdjust="spacingAndGlyphs" fill="#111">0.0005</text>
<text x="348.9" y="435.4" font-size="10.2" font-weight="bold" text-anchor="end" textLength="6.5" lengthAdjust="spacingAndGlyphs" fill="#111">0</text>
<text x="358.4" y="448.8" font-size="10.2" font-weight="bold" text-anchor="middle" textLength="6.5" lengthAdjust="spacingAndGlyphs" fill="#111">0</text>
<text x="449.1" y="448.8" font-size="10.2" font-weight="bold" text-anchor="middle" textLength="25.8" lengthAdjust="spacingAndGlyphs" fill="#111">5000</text>
<text x="539.7" y="448.8" font-size="10.2" font-weight="bold" text-anchor="middle" textLength="32.3" lengthAdjust="spacingAndGlyphs" fill="#111">10000</text>
<text x="447.4" y="465.6" font-size="11.4" font-weight="bold" text-anchor="middle" textLength="55.1" lengthAdjust="spacingAndGlyphs" fill="#111">Frequency</text>
<text transform="translate(304.2,367.9) rotate(-90)" font-size="9.4" font-weight="bold" text-anchor="middle" fill="#111" textLength="101.7" lengthAdjust="spacingAndGlyphs">Information Centrality</text>
<path d="M358.5,320.5 C358.9,321.2 359.8,323.8 361,324.8 C362.2,325.8 364.2,325.2 366,326.3 C367.8,327.4 369.9,329.3 371.5,331.4 C373.1,333.5 374.4,336.2 375.8,338.9 C377.2,341.6 378.8,344.4 380.1,347.6 C381.4,350.9 382.3,354.3 383.4,358.4 C384.5,362.5 385.5,367.1 386.5,372 C387.5,376.9 388.5,382.5 389.5,388 C390.5,393.5 391.5,398.2 392.5,405 C393.5,411.8 395,424.6 395.5,428.5" fill="none" stroke="#4b5a2b" stroke-width="5.6" stroke-linecap="round" stroke-linejoin="round"/>
<circle cx="358.5" cy="318.4" r="3.8" fill="#4b5a2b"/>
<path d="M358.4,344.3 C360,344.9 365.1,346.2 368.2,347.6 C371.3,349.1 374.5,351 376.9,353 C379.2,355 380.8,357 382.3,359.5 C383.8,362 384.8,364.3 386,368 C387.2,371.7 388.5,377.5 389.7,381.6 C390.9,385.7 392,388.8 393.1,392.7 C394.2,396.6 395.4,400.8 396.5,405 C397.6,409.2 399,414 400,418 C401,422 402.1,427.2 402.5,429" fill="none" stroke="#a3cf48" stroke-width="5.6" stroke-linecap="round" stroke-linejoin="round"/>
<path d="M358.5,357.3 C360.2,358.2 366,360.8 368.9,362.9 C371.8,365 373.9,366.7 375.8,369.8 C377.7,372.9 378.9,377.3 380,381.6 C381.1,385.9 381.8,391.4 382.7,395.5 C383.6,399.6 384.4,403.4 385.5,406.5 C386.6,409.6 387.8,411.8 389,414 C390.2,416.2 392.3,419 393,420" fill="none" stroke="#7e3fb0" stroke-width="5.6" stroke-linecap="round" stroke-linejoin="round"/>
<circle cx="358.5" cy="357" r="3.2" fill="#7e3fb0"/>
<path d="M358.4,367.4 C360.1,367.9 365.3,368.9 368.9,370.3 C372.5,371.7 376.8,373.4 380,376 C383.2,378.6 385.5,381.1 388.3,385.6 C391.1,390.1 394.5,398.3 396.6,403.2 C398.7,408.1 399.6,411.7 400.8,415 C402,418.3 402.9,420.7 404,423.2 C405.1,425.7 407.1,428.9 407.7,430" fill="none" stroke="#e82a2a" stroke-width="5.6" stroke-linecap="round" stroke-linejoin="round"/>
<path d="M358.4,369.8 C360.1,370.4 365.3,371.7 368.9,373.3 C372.5,374.9 376.5,376.7 380,379.5 C383.5,382.3 386.9,386.2 389.7,390 C392.5,393.8 395,399.4 396.6,402.4 C398.2,405.4 398.5,406.1 399.4,408 C400.3,409.9 401.6,413 402,414" fill="none" stroke="#a3a3a3" stroke-width="5.6" stroke-linecap="round" stroke-linejoin="round"/>
<path d="M358.4,387.9 C361.3,388.3 371.1,389.1 375.8,390.6 C380.6,392.2 383.6,393.5 386.9,397.2 C390.1,400.9 392.5,408.1 395.3,413 C398.1,417.9 401.1,423.3 403.5,426.3 C405.9,429.3 408.8,430.2 409.8,431" fill="none" stroke="#a82424" stroke-width="5.6" stroke-linecap="round" stroke-linejoin="round"/>
<path d="M358.4,390.8 C361.3,391.3 371.1,392.3 375.8,393.6 C380.6,394.9 383.4,396.5 386.9,398.6 C390.4,400.8 393.8,403.6 396.6,406.5 C399.4,409.4 401.6,413.7 403.5,416.2 C405.4,418.7 406.6,419.9 408,421.5 C409.4,423.1 411.2,425.2 411.9,426" fill="none" stroke="#4470c4" stroke-width="5.6" stroke-linecap="round" stroke-linejoin="round"/>
<circle cx="400" cy="411.5" r="3" fill="#4470c4"/>
<circle cx="404" cy="418" r="3" fill="#4470c4"/>
<circle cx="407" cy="421.5" r="3" fill="#4470c4"/>
<circle cx="410" cy="424" r="3" fill="#4470c4"/>
<circle cx="412" cy="427.5" r="3" fill="#4470c4"/>
<circle cx="413.5" cy="428.5" r="3" fill="#4470c4"/>
<circle cx="402.5" cy="424" r="3" fill="#4470c4"/>
<circle cx="406.5" cy="427" r="3" fill="#4470c4"/>
<path d="M358.4,401.7 C360.1,402.4 365.3,403.6 368.9,405.8 C372.5,408 376.5,412.1 380,414.8 C383.5,417.5 386.9,419.9 389.7,421.8 C392.5,423.7 395.2,424.6 396.6,426 C398,427.4 397.8,429.8 398,430.5" fill="none" stroke="#80cfdc" stroke-width="5.6" stroke-linecap="round" stroke-linejoin="round"/>
<circle cx="386" cy="419" r="2.8" fill="#80cfdc"/>
<circle cx="390" cy="422.5" r="2.8" fill="#80cfdc"/>
<circle cx="393.5" cy="424.5" r="2.8" fill="#80cfdc"/>
<circle cx="397" cy="427" r="2.8" fill="#80cfdc"/>
<circle cx="398.2" cy="430.5" r="2.8" fill="#80cfdc"/>
<circle cx="392.5" cy="427" r="2.8" fill="#80cfdc"/>
<path d="M358.4,410 C368.7,410 405.6,410 420,410.1 C434.4,410.2 438.7,410.2 445,410.4 C451.3,410.6 454.5,410.8 458,411.2 C461.5,411.6 463.3,411.9 466,412.5 C468.7,413.1 470.5,413.6 474,414.6 C477.5,415.6 482.8,417.1 487,418.6 C491.2,420.1 495.3,421.8 499,423.4 C502.7,425 506.3,426.8 509,428 C511.7,429.2 514.3,430 515.4,430.4" fill="none" stroke="#f6b42a" stroke-width="5.6" stroke-linecap="round" stroke-linejoin="round"/>
<circle cx="515.4" cy="430.4" r="3.2" fill="#f6b42a"/>
<rect x="358.4" y="303.3" width="181.3" height="128.5" fill="none" stroke="#222" stroke-width="0.9"/>
<text x="365.9" y="316.4" font-size="8.6" font-weight="bold" fill="#111"><tspan textLength="57" lengthAdjust="spacingAndGlyphs">p-value &lt; 2.2e</tspan><tspan font-size="5.2" dy="-3.6">-16</tspan></text>
<rect x="435" y="304" width="104" height="101" fill="#fff"/>
<line x1="436.9" y1="308.5" x2="459.3" y2="308.5" stroke="#4b5a2b" stroke-width="2.2"/>
<circle cx="448.2" cy="308.5" r="2.4" fill="#4b5a2b"/>
<text x="461.5" y="311.9" font-size="9.6" font-weight="bold" textLength="63.6" lengthAdjust="spacingAndGlyphs" fill="#111">Darkolivegreen</text>
<line x1="436.9" y1="320" x2="459.3" y2="320" stroke="#a3cf48" stroke-width="2.2"/>
<circle cx="448.2" cy="320" r="2.4" fill="#a3cf48"/>
<text x="461.5" y="323.4" font-size="9.6" font-weight="bold" textLength="52.3" lengthAdjust="spacingAndGlyphs" fill="#111">Greenyellow</text>
<line x1="436.9" y1="331.5" x2="459.3" y2="331.5" stroke="#7e3fb0" stroke-width="2.2"/>
<circle cx="448.2" cy="331.5" r="2.4" fill="#7e3fb0"/>
<text x="461.5" y="334.9" font-size="9.6" font-weight="bold" textLength="23.8" lengthAdjust="spacingAndGlyphs" fill="#111">Violet</text>
<line x1="436.9" y1="342.9" x2="459.3" y2="342.9" stroke="#e82a2a" stroke-width="2.2"/>
<circle cx="448.2" cy="342.9" r="2.4" fill="#e82a2a"/>
<text x="461.5" y="346.3" font-size="9.6" font-weight="bold" textLength="16.6" lengthAdjust="spacingAndGlyphs" fill="#111">Red</text>
<line x1="436.9" y1="354.4" x2="459.3" y2="354.4" stroke="#a0a0a0" stroke-width="2.2"/>
<circle cx="448.2" cy="354.4" r="2.4" fill="#a0a0a0"/>
<text x="461.5" y="357.8" font-size="9.6" font-weight="bold" textLength="29.8" lengthAdjust="spacingAndGlyphs" fill="#111">Grey60</text>
<line x1="436.9" y1="365.9" x2="459.3" y2="365.9" stroke="#a82424" stroke-width="2.2"/>
<circle cx="448.2" cy="365.9" r="2.4" fill="#a82424"/>
<text x="461.5" y="369.3" font-size="9.6" font-weight="bold" textLength="27.4" lengthAdjust="spacingAndGlyphs" fill="#111">Brown</text>
<line x1="436.9" y1="377.4" x2="459.3" y2="377.4" stroke="#4470c4" stroke-width="2.2"/>
<circle cx="448.2" cy="377.4" r="2.4" fill="#4470c4"/>
<text x="461.5" y="380.8" font-size="9.6" font-weight="bold" textLength="19.1" lengthAdjust="spacingAndGlyphs" fill="#111">Blue</text>
<line x1="436.9" y1="388.9" x2="459.3" y2="388.9" stroke="#80cfdc" stroke-width="2.2"/>
<circle cx="448.2" cy="388.9" r="2.4" fill="#80cfdc"/>
<text x="461.5" y="392.3" font-size="9.6" font-weight="bold" textLength="41.9" lengthAdjust="spacingAndGlyphs" fill="#111">Turquoise</text>
<line x1="436.9" y1="400.3" x2="459.3" y2="400.3" stroke="#f6b42a" stroke-width="2.2"/>
<circle cx="448.2" cy="400.3" r="2.4" fill="#f6b42a"/>
<text x="461.5" y="403.7" font-size="9.6" font-weight="bold" textLength="29.8" lengthAdjust="spacingAndGlyphs" fill="#111">SCENT</text>
<text x="2.4" y="505.8" font-size="16.5" font-weight="bold" textLength="9.1" lengthAdjust="spacingAndGlyphs">d</text>
<line x1="37.3" y1="506.6" x2="37.3" y2="685" stroke="#666" stroke-width="1.8"/>
<line x1="31.5" y1="526.4" x2="37.3" y2="526.4" stroke="#444" stroke-width="1"/>
<text x="29.2" y="530" font-size="10.2" font-weight="bold" text-anchor="end" textLength="5.7" lengthAdjust="spacingAndGlyphs" fill="#111">4</text>
<line x1="31.5" y1="558" x2="37.3" y2="558" stroke="#444" stroke-width="1"/>
<text x="29.2" y="561.6" font-size="10.2" font-weight="bold" text-anchor="end" textLength="5.7" lengthAdjust="spacingAndGlyphs" fill="#111">2</text>
<line x1="31.5" y1="591.9" x2="37.3" y2="591.9" stroke="#444" stroke-width="1"/>
<text x="29.2" y="595.5" font-size="10.2" font-weight="bold" text-anchor="end" textLength="5.7" lengthAdjust="spacingAndGlyphs" fill="#111">0</text>
<line x1="31.5" y1="627" x2="37.3" y2="627" stroke="#444" stroke-width="1"/>
<text x="29.2" y="630.6" font-size="10.2" font-weight="bold" text-anchor="end" textLength="9.1" lengthAdjust="spacingAndGlyphs" fill="#111">-2</text>
<line x1="31.5" y1="657.8" x2="37.3" y2="657.8" stroke="#444" stroke-width="1"/>
<text x="29.2" y="661.4" font-size="10.2" font-weight="bold" text-anchor="end" textLength="9.1" lengthAdjust="spacingAndGlyphs" fill="#111">-4</text>
<text transform="translate(13.6,584.8) rotate(-90)" font-size="13.2" font-weight="bold" text-anchor="middle" fill="#111" textLength="113.5" lengthAdjust="spacingAndGlyphs">Log2 Expression</text>
<line x1="37.3" y1="592" x2="549" y2="592" stroke="#aaa" stroke-width="0.9"/>
<text x="41" y="597.5" font-size="3.5" fill="#999">0</text>
<text x="80" y="597.5" font-size="3.5" fill="#999">10</text>
<text x="119" y="597.5" font-size="3.5" fill="#999">5</text>
<text x="312.5" y="597.5" font-size="3.5" fill="#999">10</text>
<text x="510" y="597.5" font-size="3.5" fill="#999">20</text>
<text x="549" y="597.5" font-size="3.5" fill="#999">30</text>
<polyline points="37.2,591.7 76.3,593 115.4,598 154.5,607.7 193.6,615.3 232.7,623.5 271.8,624.2 310.9,634.9 350,640 389.1,645 428.2,651.1 467.3,660.7 506.4,670.8 545.5,677.1" fill="none" stroke="#1a3e29" stroke-width="2.8" stroke-linejoin="round"/>
<polyline points="37.2,591.7 76.3,593 115.4,598 154.5,607.7 193.6,615.3 232.7,623.5 271.8,624.2 310.9,634.9 350,640 389.1,645 428.2,651.1 467.3,660.7 506.4,670.8 545.5,677.1" fill="none" stroke="#3a8a5c" stroke-width="1.8" stroke-linejoin="round"/>
<circle cx="76.3" cy="593" r="1.1" fill="#3a8a5c" stroke="#1a3e29" stroke-width="0.4"/>
<circle cx="115.4" cy="598" r="1.1" fill="#3a8a5c" stroke="#1a3e29" stroke-width="0.4"/>
<circle cx="154.5" cy="607.7" r="1.1" fill="#3a8a5c" stroke="#1a3e29" stroke-width="0.4"/>
<circle cx="193.6" cy="615.3" r="1.1" fill="#3a8a5c" stroke="#1a3e29" stroke-width="0.4"/>
<circle cx="232.7" cy="623.5" r="1.1" fill="#3a8a5c" stroke="#1a3e29" stroke-width="0.4"/>
<circle cx="271.8" cy="624.2" r="1.1" fill="#3a8a5c" stroke="#1a3e29" stroke-width="0.4"/>
<circle cx="310.9" cy="634.9" r="1.1" fill="#3a8a5c" stroke="#1a3e29" stroke-width="0.4"/>
<circle cx="350" cy="640" r="1.1" fill="#3a8a5c" stroke="#1a3e29" stroke-width="0.4"/>
<circle cx="389.1" cy="645" r="1.1" fill="#3a8a5c" stroke="#1a3e29" stroke-width="0.4"/>
<circle cx="428.2" cy="651.1" r="1.1" fill="#3a8a5c" stroke="#1a3e29" stroke-width="0.4"/>
<circle cx="467.3" cy="660.7" r="1.1" fill="#3a8a5c" stroke="#1a3e29" stroke-width="0.4"/>
<circle cx="506.4" cy="670.8" r="1.1" fill="#3a8a5c" stroke="#1a3e29" stroke-width="0.4"/>
<circle cx="545.5" cy="677.1" r="1.1" fill="#3a8a5c" stroke="#1a3e29" stroke-width="0.4"/>
<polyline points="428.2,651.1 467.3,643.5 506.4,643.5 545.5,646.3" fill="none" stroke="#362452" stroke-width="2.8" stroke-linejoin="round"/>
<polyline points="428.2,651.1 467.3,643.5 506.4,643.5 545.5,646.3" fill="none" stroke="#7a50b8" stroke-width="1.8" stroke-linejoin="round"/>
<circle cx="467.3" cy="643.5" r="1.1" fill="#7a50b8" stroke="#362452" stroke-width="0.4"/>
<circle cx="506.4" cy="643.5" r="1.1" fill="#7a50b8" stroke="#362452" stroke-width="0.4"/>
<circle cx="545.5" cy="646.3" r="1.1" fill="#7a50b8" stroke="#362452" stroke-width="0.4"/>
<polyline points="37.2,591.7 76.3,593 115.4,598 154.5,607.7 193.6,615.3 232.7,623.5 271.8,624.2 310.9,634.9 350,640 389.1,645 428.2,651.1" fill="none" stroke="#124548" stroke-width="2.8" stroke-linejoin="round"/>
<polyline points="37.2,591.7 76.3,593 115.4,598 154.5,607.7 193.6,615.3 232.7,623.5 271.8,624.2 310.9,634.9 350,640 389.1,645 428.2,651.1" fill="none" stroke="#2a9aa0" stroke-width="1.8" stroke-linejoin="round"/>
<circle cx="76.3" cy="593" r="1.1" fill="#2a9aa0" stroke="#124548" stroke-width="0.4"/>
<circle cx="115.4" cy="598" r="1.1" fill="#2a9aa0" stroke="#124548" stroke-width="0.4"/>
<circle cx="154.5" cy="607.7" r="1.1" fill="#2a9aa0" stroke="#124548" stroke-width="0.4"/>
<circle cx="193.6" cy="615.3" r="1.1" fill="#2a9aa0" stroke="#124548" stroke-width="0.4"/>
<circle cx="232.7" cy="623.5" r="1.1" fill="#2a9aa0" stroke="#124548" stroke-width="0.4"/>
<circle cx="271.8" cy="624.2" r="1.1" fill="#2a9aa0" stroke="#124548" stroke-width="0.4"/>
<circle cx="310.9" cy="634.9" r="1.1" fill="#2a9aa0" stroke="#124548" stroke-width="0.4"/>
<circle cx="350" cy="640" r="1.1" fill="#2a9aa0" stroke="#124548" stroke-width="0.4"/>
<circle cx="389.1" cy="645" r="1.1" fill="#2a9aa0" stroke="#124548" stroke-width="0.4"/>
<circle cx="428.2" cy="651.1" r="1.1" fill="#2a9aa0" stroke="#124548" stroke-width="0.4"/>
<polyline points="37.2,591.7 76.3,593 115.4,596 154.5,598 193.6,600 232.7,600 271.8,601.2 310.9,607.6 350,613.2 389.1,616 428.2,620 467.3,630 506.4,638 545.5,646.3" fill="none" stroke="#5b122f" stroke-width="2.8" stroke-linejoin="round"/>
<polyline points="37.2,591.7 76.3,593 115.4,596 154.5,598 193.6,600 232.7,600 271.8,601.2 310.9,607.6 350,613.2 389.1,616 428.2,620 467.3,630 506.4,638 545.5,646.3" fill="none" stroke="#cc2a6a" stroke-width="1.8" stroke-linejoin="round"/>
<circle cx="76.3" cy="593" r="1.1" fill="#cc2a6a" stroke="#5b122f" stroke-width="0.4"/>
<circle cx="115.4" cy="596" r="1.1" fill="#cc2a6a" stroke="#5b122f" stroke-width="0.4"/>
<circle cx="154.5" cy="598" r="1.1" fill="#cc2a6a" stroke="#5b122f" stroke-width="0.4"/>
<circle cx="193.6" cy="600" r="1.1" fill="#cc2a6a" stroke="#5b122f" stroke-width="0.4"/>
<circle cx="232.7" cy="600" r="1.1" fill="#cc2a6a" stroke="#5b122f" stroke-width="0.4"/>
<circle cx="271.8" cy="601.2" r="1.1" fill="#cc2a6a" stroke="#5b122f" stroke-width="0.4"/>
<circle cx="310.9" cy="607.6" r="1.1" fill="#cc2a6a" stroke="#5b122f" stroke-width="0.4"/>
<circle cx="350" cy="613.2" r="1.1" fill="#cc2a6a" stroke="#5b122f" stroke-width="0.4"/>
<circle cx="389.1" cy="616" r="1.1" fill="#cc2a6a" stroke="#5b122f" stroke-width="0.4"/>
<circle cx="428.2" cy="620" r="1.1" fill="#cc2a6a" stroke="#5b122f" stroke-width="0.4"/>
<circle cx="467.3" cy="630" r="1.1" fill="#cc2a6a" stroke="#5b122f" stroke-width="0.4"/>
<circle cx="506.4" cy="638" r="1.1" fill="#cc2a6a" stroke="#5b122f" stroke-width="0.4"/>
<circle cx="545.5" cy="646.3" r="1.1" fill="#cc2a6a" stroke="#5b122f" stroke-width="0.4"/>
<polyline points="37.2,591.7 76.3,593 115.4,599.6 154.5,602.8 193.6,604.7 232.7,613.4 271.8,615.3 310.9,618 350,620 389.1,621 428.2,623.3 467.3,624 506.4,626 545.5,630.4" fill="none" stroke="#0f151a" stroke-width="2.8" stroke-linejoin="round"/>
<polyline points="37.2,591.7 76.3,593 115.4,599.6 154.5,602.8 193.6,604.7 232.7,613.4 271.8,615.3 310.9,618 350,620 389.1,621 428.2,623.3 467.3,624 506.4,626 545.5,630.4" fill="none" stroke="#22303a" stroke-width="1.8" stroke-linejoin="round"/>
<circle cx="76.3" cy="593" r="1.1" fill="#22303a" stroke="#0f151a" stroke-width="0.4"/>
<circle cx="115.4" cy="599.6" r="1.1" fill="#22303a" stroke="#0f151a" stroke-width="0.4"/>
<circle cx="154.5" cy="602.8" r="1.1" fill="#22303a" stroke="#0f151a" stroke-width="0.4"/>
<circle cx="193.6" cy="604.7" r="1.1" fill="#22303a" stroke="#0f151a" stroke-width="0.4"/>
<circle cx="232.7" cy="613.4" r="1.1" fill="#22303a" stroke="#0f151a" stroke-width="0.4"/>
<circle cx="271.8" cy="615.3" r="1.1" fill="#22303a" stroke="#0f151a" stroke-width="0.4"/>
<circle cx="310.9" cy="618" r="1.1" fill="#22303a" stroke="#0f151a" stroke-width="0.4"/>
<circle cx="350" cy="620" r="1.1" fill="#22303a" stroke="#0f151a" stroke-width="0.4"/>
<circle cx="389.1" cy="621" r="1.1" fill="#22303a" stroke="#0f151a" stroke-width="0.4"/>
<circle cx="428.2" cy="623.3" r="1.1" fill="#22303a" stroke="#0f151a" stroke-width="0.4"/>
<circle cx="467.3" cy="624" r="1.1" fill="#22303a" stroke="#0f151a" stroke-width="0.4"/>
<circle cx="506.4" cy="626" r="1.1" fill="#22303a" stroke="#0f151a" stroke-width="0.4"/>
<circle cx="545.5" cy="630.4" r="1.1" fill="#22303a" stroke="#0f151a" stroke-width="0.4"/>
<polyline points="37.2,591.7 76.3,593 115.4,598 154.5,600 193.6,604 232.7,606 271.8,607 310.9,610.6 350,610.6 389.1,610.6 428.2,610.2 467.3,611 506.4,615 545.5,620.3" fill="none" stroke="#3e395d" stroke-width="2.8" stroke-linejoin="round"/>
<polyline points="37.2,591.7 76.3,593 115.4,598 154.5,600 193.6,604 232.7,606 271.8,607 310.9,610.6 350,610.6 389.1,610.6 428.2,610.2 467.3,611 506.4,615 545.5,620.3" fill="none" stroke="#8a80d0" stroke-width="1.8" stroke-linejoin="round"/>
<circle cx="76.3" cy="593" r="1.1" fill="#8a80d0" stroke="#3e395d" stroke-width="0.4"/>
<circle cx="115.4" cy="598" r="1.1" fill="#8a80d0" stroke="#3e395d" stroke-width="0.4"/>
<circle cx="154.5" cy="600" r="1.1" fill="#8a80d0" stroke="#3e395d" stroke-width="0.4"/>
<circle cx="193.6" cy="604" r="1.1" fill="#8a80d0" stroke="#3e395d" stroke-width="0.4"/>
<circle cx="232.7" cy="606" r="1.1" fill="#8a80d0" stroke="#3e395d" stroke-width="0.4"/>
<circle cx="271.8" cy="607" r="1.1" fill="#8a80d0" stroke="#3e395d" stroke-width="0.4"/>
<circle cx="310.9" cy="610.6" r="1.1" fill="#8a80d0" stroke="#3e395d" stroke-width="0.4"/>
<circle cx="350" cy="610.6" r="1.1" fill="#8a80d0" stroke="#3e395d" stroke-width="0.4"/>
<circle cx="389.1" cy="610.6" r="1.1" fill="#8a80d0" stroke="#3e395d" stroke-width="0.4"/>
<circle cx="428.2" cy="610.2" r="1.1" fill="#8a80d0" stroke="#3e395d" stroke-width="0.4"/>
<circle cx="467.3" cy="611" r="1.1" fill="#8a80d0" stroke="#3e395d" stroke-width="0.4"/>
<circle cx="506.4" cy="615" r="1.1" fill="#8a80d0" stroke="#3e395d" stroke-width="0.4"/>
<circle cx="545.5" cy="620.3" r="1.1" fill="#8a80d0" stroke="#3e395d" stroke-width="0.4"/>
<polyline points="37.2,591.7 76.3,593 115.4,598 154.5,600 193.6,606.4 232.7,607.8 271.8,607.1 310.9,610.4" fill="none" stroke="#562f21" stroke-width="2.8" stroke-linejoin="round"/>
<polyline points="37.2,591.7 76.3,593 115.4,598 154.5,600 193.6,606.4 232.7,607.8 271.8,607.1 310.9,610.4" fill="none" stroke="#c06a4a" stroke-width="1.8" stroke-linejoin="round"/>
<circle cx="76.3" cy="593" r="1.1" fill="#c06a4a" stroke="#562f21" stroke-width="0.4"/>
<circle cx="115.4" cy="598" r="1.1" fill="#c06a4a" stroke="#562f21" stroke-width="0.4"/>
<circle cx="154.5" cy="600" r="1.1" fill="#c06a4a" stroke="#562f21" stroke-width="0.4"/>
<circle cx="193.6" cy="606.4" r="1.1" fill="#c06a4a" stroke="#562f21" stroke-width="0.4"/>
<circle cx="232.7" cy="607.8" r="1.1" fill="#c06a4a" stroke="#562f21" stroke-width="0.4"/>
<circle cx="271.8" cy="607.1" r="1.1" fill="#c06a4a" stroke="#562f21" stroke-width="0.4"/>
<circle cx="310.9" cy="610.4" r="1.1" fill="#c06a4a" stroke="#562f21" stroke-width="0.4"/>
<polyline points="37.2,591.7 76.3,588.2 115.4,591 154.5,589.9 193.6,590.7 232.7,591.8 271.8,592 310.9,594.2 350,598.5 389.1,603.1 428.2,609 467.3,612 506.4,625 545.5,638.7" fill="none" stroke="#124b4f" stroke-width="2.8" stroke-linejoin="round"/>
<polyline points="37.2,591.7 76.3,588.2 115.4,591 154.5,589.9 193.6,590.7 232.7,591.8 271.8,592 310.9,594.2 350,598.5 389.1,603.1 428.2,609 467.3,612 506.4,625 545.5,638.7" fill="none" stroke="#2aa8b0" stroke-width="1.8" stroke-linejoin="round"/>
<circle cx="76.3" cy="588.2" r="1.1" fill="#2aa8b0" stroke="#124b4f" stroke-width="0.4"/>
<circle cx="115.4" cy="591" r="1.1" fill="#2aa8b0" stroke="#124b4f" stroke-width="0.4"/>
<circle cx="154.5" cy="589.9" r="1.1" fill="#2aa8b0" stroke="#124b4f" stroke-width="0.4"/>
<circle cx="193.6" cy="590.7" r="1.1" fill="#2aa8b0" stroke="#124b4f" stroke-width="0.4"/>
<circle cx="232.7" cy="591.8" r="1.1" fill="#2aa8b0" stroke="#124b4f" stroke-width="0.4"/>
<circle cx="271.8" cy="592" r="1.1" fill="#2aa8b0" stroke="#124b4f" stroke-width="0.4"/>
<circle cx="310.9" cy="594.2" r="1.1" fill="#2aa8b0" stroke="#124b4f" stroke-width="0.4"/>
<circle cx="350" cy="598.5" r="1.1" fill="#2aa8b0" stroke="#124b4f" stroke-width="0.4"/>
<circle cx="389.1" cy="603.1" r="1.1" fill="#2aa8b0" stroke="#124b4f" stroke-width="0.4"/>
<circle cx="428.2" cy="609" r="1.1" fill="#2aa8b0" stroke="#124b4f" stroke-width="0.4"/>
<circle cx="467.3" cy="612" r="1.1" fill="#2aa8b0" stroke="#124b4f" stroke-width="0.4"/>
<circle cx="506.4" cy="625" r="1.1" fill="#2aa8b0" stroke="#124b4f" stroke-width="0.4"/>
<circle cx="545.5" cy="638.7" r="1.1" fill="#2aa8b0" stroke="#124b4f" stroke-width="0.4"/>
<polyline points="37.2,591.7 76.3,587.4 115.4,585.8 154.5,585 193.6,587 232.7,588 271.8,588.5 310.9,589 350,590 389.1,591 428.2,593 467.3,595 506.4,597 545.5,600" fill="none" stroke="#64322b" stroke-width="2.8" stroke-linejoin="round"/>
<polyline points="37.2,591.7 76.3,587.4 115.4,585.8 154.5,585 193.6,587 232.7,588 271.8,588.5 310.9,589 350,590 389.1,591 428.2,593 467.3,595 506.4,597 545.5,600" fill="none" stroke="#e07060" stroke-width="1.8" stroke-linejoin="round"/>
<circle cx="76.3" cy="587.4" r="1.1" fill="#e07060" stroke="#64322b" stroke-width="0.4"/>
<circle cx="115.4" cy="585.8" r="1.1" fill="#e07060" stroke="#64322b" stroke-width="0.4"/>
<circle cx="154.5" cy="585" r="1.1" fill="#e07060" stroke="#64322b" stroke-width="0.4"/>
<circle cx="193.6" cy="587" r="1.1" fill="#e07060" stroke="#64322b" stroke-width="0.4"/>
<circle cx="232.7" cy="588" r="1.1" fill="#e07060" stroke="#64322b" stroke-width="0.4"/>
<circle cx="271.8" cy="588.5" r="1.1" fill="#e07060" stroke="#64322b" stroke-width="0.4"/>
<circle cx="310.9" cy="589" r="1.1" fill="#e07060" stroke="#64322b" stroke-width="0.4"/>
<circle cx="350" cy="590" r="1.1" fill="#e07060" stroke="#64322b" stroke-width="0.4"/>
<circle cx="389.1" cy="591" r="1.1" fill="#e07060" stroke="#64322b" stroke-width="0.4"/>
<circle cx="428.2" cy="593" r="1.1" fill="#e07060" stroke="#64322b" stroke-width="0.4"/>
<circle cx="467.3" cy="595" r="1.1" fill="#e07060" stroke="#64322b" stroke-width="0.4"/>
<circle cx="506.4" cy="597" r="1.1" fill="#e07060" stroke="#64322b" stroke-width="0.4"/>
<circle cx="545.5" cy="600" r="1.1" fill="#e07060" stroke="#64322b" stroke-width="0.4"/>
<polyline points="37.2,591.7 76.3,588.2 115.4,594.7 154.5,595.5 193.6,597.7 232.7,596 271.8,597 310.9,600.5 350,595.5 389.1,598 428.2,605.2 467.3,606 506.4,606 545.5,606.4" fill="none" stroke="#3e3e3e" stroke-width="2.8" stroke-linejoin="round"/>
<polyline points="37.2,591.7 76.3,588.2 115.4,594.7 154.5,595.5 193.6,597.7 232.7,596 271.8,597 310.9,600.5 350,595.5 389.1,598 428.2,605.2 467.3,606 506.4,606 545.5,606.4" fill="none" stroke="#8a8a8a" stroke-width="1.8" stroke-linejoin="round"/>
<circle cx="76.3" cy="588.2" r="1.1" fill="#8a8a8a" stroke="#3e3e3e" stroke-width="0.4"/>
<circle cx="115.4" cy="594.7" r="1.1" fill="#8a8a8a" stroke="#3e3e3e" stroke-width="0.4"/>
<circle cx="154.5" cy="595.5" r="1.1" fill="#8a8a8a" stroke="#3e3e3e" stroke-width="0.4"/>
<circle cx="193.6" cy="597.7" r="1.1" fill="#8a8a8a" stroke="#3e3e3e" stroke-width="0.4"/>
<circle cx="232.7" cy="596" r="1.1" fill="#8a8a8a" stroke="#3e3e3e" stroke-width="0.4"/>
<circle cx="271.8" cy="597" r="1.1" fill="#8a8a8a" stroke="#3e3e3e" stroke-width="0.4"/>
<circle cx="310.9" cy="600.5" r="1.1" fill="#8a8a8a" stroke="#3e3e3e" stroke-width="0.4"/>
<circle cx="350" cy="595.5" r="1.1" fill="#8a8a8a" stroke="#3e3e3e" stroke-width="0.4"/>
<circle cx="389.1" cy="598" r="1.1" fill="#8a8a8a" stroke="#3e3e3e" stroke-width="0.4"/>
<circle cx="428.2" cy="605.2" r="1.1" fill="#8a8a8a" stroke="#3e3e3e" stroke-width="0.4"/>
<circle cx="467.3" cy="606" r="1.1" fill="#8a8a8a" stroke="#3e3e3e" stroke-width="0.4"/>
<circle cx="506.4" cy="606" r="1.1" fill="#8a8a8a" stroke="#3e3e3e" stroke-width="0.4"/>
<circle cx="545.5" cy="606.4" r="1.1" fill="#8a8a8a" stroke="#3e3e3e" stroke-width="0.4"/>
<polyline points="37.2,591.7 76.3,587.4 115.4,589.9 154.5,588 193.6,588 232.7,586 271.8,580 310.9,575.3 350,571.5 389.1,572.8 428.2,577 467.3,580.7 506.4,582.7 545.5,595.4" fill="none" stroke="#2f361a" stroke-width="2.8" stroke-linejoin="round"/>
<polyline points="37.2,591.7 76.3,587.4 115.4,589.9 154.5,588 193.6,588 232.7,586 271.8,580 310.9,575.3 350,571.5 389.1,572.8 428.2,577 467.3,580.7 506.4,582.7 545.5,595.4" fill="none" stroke="#6a7a3a" stroke-width="1.8" stroke-linejoin="round"/>
<circle cx="76.3" cy="587.4" r="1.1" fill="#6a7a3a" stroke="#2f361a" stroke-width="0.4"/>
<circle cx="115.4" cy="589.9" r="1.1" fill="#6a7a3a" stroke="#2f361a" stroke-width="0.4"/>
<circle cx="154.5" cy="588" r="1.1" fill="#6a7a3a" stroke="#2f361a" stroke-width="0.4"/>
<circle cx="193.6" cy="588" r="1.1" fill="#6a7a3a" stroke="#2f361a" stroke-width="0.4"/>
<circle cx="232.7" cy="586" r="1.1" fill="#6a7a3a" stroke="#2f361a" stroke-width="0.4"/>
<circle cx="271.8" cy="580" r="1.1" fill="#6a7a3a" stroke="#2f361a" stroke-width="0.4"/>
<circle cx="310.9" cy="575.3" r="1.1" fill="#6a7a3a" stroke="#2f361a" stroke-width="0.4"/>
<circle cx="350" cy="571.5" r="1.1" fill="#6a7a3a" stroke="#2f361a" stroke-width="0.4"/>
<circle cx="389.1" cy="572.8" r="1.1" fill="#6a7a3a" stroke="#2f361a" stroke-width="0.4"/>
<circle cx="428.2" cy="577" r="1.1" fill="#6a7a3a" stroke="#2f361a" stroke-width="0.4"/>
<circle cx="467.3" cy="580.7" r="1.1" fill="#6a7a3a" stroke="#2f361a" stroke-width="0.4"/>
<circle cx="506.4" cy="582.7" r="1.1" fill="#6a7a3a" stroke="#2f361a" stroke-width="0.4"/>
<circle cx="545.5" cy="595.4" r="1.1" fill="#6a7a3a" stroke="#2f361a" stroke-width="0.4"/>
<polyline points="37.2,591.7 76.3,592.3 115.4,592 154.5,590 193.6,590 232.7,589 271.8,588.3 310.9,590.5 350,591.7 389.1,593 428.2,595.4 467.3,597 506.4,603 545.5,615" fill="none" stroke="#641212" stroke-width="2.8" stroke-linejoin="round"/>
<polyline points="37.2,591.7 76.3,592.3 115.4,592 154.5,590 193.6,590 232.7,589 271.8,588.3 310.9,590.5 350,591.7 389.1,593 428.2,595.4 467.3,597 506.4,603 545.5,615" fill="none" stroke="#e02a2a" stroke-width="1.8" stroke-linejoin="round"/>
<circle cx="76.3" cy="592.3" r="1.1" fill="#e02a2a" stroke="#641212" stroke-width="0.4"/>
<circle cx="115.4" cy="592" r="1.1" fill="#e02a2a" stroke="#641212" stroke-width="0.4"/>
<circle cx="154.5" cy="590" r="1.1" fill="#e02a2a" stroke="#641212" stroke-width="0.4"/>
<circle cx="193.6" cy="590" r="1.1" fill="#e02a2a" stroke="#641212" stroke-width="0.4"/>
<circle cx="232.7" cy="589" r="1.1" fill="#e02a2a" stroke="#641212" stroke-width="0.4"/>
<circle cx="271.8" cy="588.3" r="1.1" fill="#e02a2a" stroke="#641212" stroke-width="0.4"/>
<circle cx="310.9" cy="590.5" r="1.1" fill="#e02a2a" stroke="#641212" stroke-width="0.4"/>
<circle cx="350" cy="591.7" r="1.1" fill="#e02a2a" stroke="#641212" stroke-width="0.4"/>
<circle cx="389.1" cy="593" r="1.1" fill="#e02a2a" stroke="#641212" stroke-width="0.4"/>
<circle cx="428.2" cy="595.4" r="1.1" fill="#e02a2a" stroke="#641212" stroke-width="0.4"/>
<circle cx="467.3" cy="597" r="1.1" fill="#e02a2a" stroke="#641212" stroke-width="0.4"/>
<circle cx="506.4" cy="603" r="1.1" fill="#e02a2a" stroke="#641212" stroke-width="0.4"/>
<circle cx="545.5" cy="615" r="1.1" fill="#e02a2a" stroke="#641212" stroke-width="0.4"/>
<polyline points="37.2,591.7 76.3,592.3 115.4,588 154.5,583 193.6,582.5 232.7,582.5 271.8,580.1 310.9,585 350,589.2 389.1,590 428.2,595.4 467.3,598 506.4,604 545.5,617.8" fill="none" stroke="#360b12" stroke-width="2.8" stroke-linejoin="round"/>
<polyline points="37.2,591.7 76.3,592.3 115.4,588 154.5,583 193.6,582.5 232.7,582.5 271.8,580.1 310.9,585 350,589.2 389.1,590 428.2,595.4 467.3,598 506.4,604 545.5,617.8" fill="none" stroke="#7a1a2a" stroke-width="1.8" stroke-linejoin="round"/>
<circle cx="76.3" cy="592.3" r="1.1" fill="#7a1a2a" stroke="#360b12" stroke-width="0.4"/>
<circle cx="115.4" cy="588" r="1.1" fill="#7a1a2a" stroke="#360b12" stroke-width="0.4"/>
<circle cx="154.5" cy="583" r="1.1" fill="#7a1a2a" stroke="#360b12" stroke-width="0.4"/>
<circle cx="193.6" cy="582.5" r="1.1" fill="#7a1a2a" stroke="#360b12" stroke-width="0.4"/>
<circle cx="232.7" cy="582.5" r="1.1" fill="#7a1a2a" stroke="#360b12" stroke-width="0.4"/>
<circle cx="271.8" cy="580.1" r="1.1" fill="#7a1a2a" stroke="#360b12" stroke-width="0.4"/>
<circle cx="310.9" cy="585" r="1.1" fill="#7a1a2a" stroke="#360b12" stroke-width="0.4"/>
<circle cx="350" cy="589.2" r="1.1" fill="#7a1a2a" stroke="#360b12" stroke-width="0.4"/>
<circle cx="389.1" cy="590" r="1.1" fill="#7a1a2a" stroke="#360b12" stroke-width="0.4"/>
<circle cx="428.2" cy="595.4" r="1.1" fill="#7a1a2a" stroke="#360b12" stroke-width="0.4"/>
<circle cx="467.3" cy="598" r="1.1" fill="#7a1a2a" stroke="#360b12" stroke-width="0.4"/>
<circle cx="506.4" cy="604" r="1.1" fill="#7a1a2a" stroke="#360b12" stroke-width="0.4"/>
<circle cx="545.5" cy="617.8" r="1.1" fill="#7a1a2a" stroke="#360b12" stroke-width="0.4"/>
<polyline points="37.2,591.7 76.3,587.4 115.4,589.9 154.5,592 193.6,593 232.7,595.4 271.8,595.4 310.9,581.6 350,580 389.1,578 428.2,575 467.3,572 506.4,568 545.5,566" fill="none" stroke="#4b452f" stroke-width="2.8" stroke-linejoin="round"/>
<polyline points="37.2,591.7 76.3,587.4 115.4,589.9 154.5,592 193.6,593 232.7,595.4 271.8,595.4 310.9,581.6 350,580 389.1,578 428.2,575 467.3,572 506.4,568 545.5,566" fill="none" stroke="#a89a6a" stroke-width="1.8" stroke-linejoin="round"/>
<circle cx="76.3" cy="587.4" r="1.1" fill="#a89a6a" stroke="#4b452f" stroke-width="0.4"/>
<circle cx="115.4" cy="589.9" r="1.1" fill="#a89a6a" stroke="#4b452f" stroke-width="0.4"/>
<circle cx="154.5" cy="592" r="1.1" fill="#a89a6a" stroke="#4b452f" stroke-width="0.4"/>
<circle cx="193.6" cy="593" r="1.1" fill="#a89a6a" stroke="#4b452f" stroke-width="0.4"/>
<circle cx="232.7" cy="595.4" r="1.1" fill="#a89a6a" stroke="#4b452f" stroke-width="0.4"/>
<circle cx="271.8" cy="595.4" r="1.1" fill="#a89a6a" stroke="#4b452f" stroke-width="0.4"/>
<circle cx="310.9" cy="581.6" r="1.1" fill="#a89a6a" stroke="#4b452f" stroke-width="0.4"/>
<circle cx="350" cy="580" r="1.1" fill="#a89a6a" stroke="#4b452f" stroke-width="0.4"/>
<circle cx="389.1" cy="578" r="1.1" fill="#a89a6a" stroke="#4b452f" stroke-width="0.4"/>
<circle cx="428.2" cy="575" r="1.1" fill="#a89a6a" stroke="#4b452f" stroke-width="0.4"/>
<circle cx="467.3" cy="572" r="1.1" fill="#a89a6a" stroke="#4b452f" stroke-width="0.4"/>
<circle cx="506.4" cy="568" r="1.1" fill="#a89a6a" stroke="#4b452f" stroke-width="0.4"/>
<circle cx="545.5" cy="566" r="1.1" fill="#a89a6a" stroke="#4b452f" stroke-width="0.4"/>
<polyline points="37.2,591.7 76.3,593 115.4,598 154.5,598.8 193.6,593 232.7,595.4 271.8,590 310.9,579.1 350,577.8 389.1,577.8 428.2,574.4 467.3,573.2 506.4,568 545.5,563.1" fill="none" stroke="#3e3227" stroke-width="2.8" stroke-linejoin="round"/>
<polyline points="37.2,591.7 76.3,593 115.4,598 154.5,598.8 193.6,593 232.7,595.4 271.8,590 310.9,579.1 350,577.8 389.1,577.8 428.2,574.4 467.3,573.2 506.4,568 545.5,563.1" fill="none" stroke="#8a7058" stroke-width="1.8" stroke-linejoin="round"/>
<circle cx="76.3" cy="593" r="1.1" fill="#8a7058" stroke="#3e3227" stroke-width="0.4"/>
<circle cx="115.4" cy="598" r="1.1" fill="#8a7058" stroke="#3e3227" stroke-width="0.4"/>
<circle cx="154.5" cy="598.8" r="1.1" fill="#8a7058" stroke="#3e3227" stroke-width="0.4"/>
<circle cx="193.6" cy="593" r="1.1" fill="#8a7058" stroke="#3e3227" stroke-width="0.4"/>
<circle cx="232.7" cy="595.4" r="1.1" fill="#8a7058" stroke="#3e3227" stroke-width="0.4"/>
<circle cx="271.8" cy="590" r="1.1" fill="#8a7058" stroke="#3e3227" stroke-width="0.4"/>
<circle cx="310.9" cy="579.1" r="1.1" fill="#8a7058" stroke="#3e3227" stroke-width="0.4"/>
<circle cx="350" cy="577.8" r="1.1" fill="#8a7058" stroke="#3e3227" stroke-width="0.4"/>
<circle cx="389.1" cy="577.8" r="1.1" fill="#8a7058" stroke="#3e3227" stroke-width="0.4"/>
<circle cx="428.2" cy="574.4" r="1.1" fill="#8a7058" stroke="#3e3227" stroke-width="0.4"/>
<circle cx="467.3" cy="573.2" r="1.1" fill="#8a7058" stroke="#3e3227" stroke-width="0.4"/>
<circle cx="506.4" cy="568" r="1.1" fill="#8a7058" stroke="#3e3227" stroke-width="0.4"/>
<circle cx="545.5" cy="563.1" r="1.1" fill="#8a7058" stroke="#3e3227" stroke-width="0.4"/>
<polyline points="37.2,591.7 76.3,592.3 115.4,594 154.5,596 193.6,597 232.7,592 271.8,590 310.9,588 350,589.2 389.1,584.1 428.2,584.5 467.3,580.7 506.4,573.2 545.5,559.3" fill="none" stroke="#210e2b" stroke-width="2.8" stroke-linejoin="round"/>
<polyline points="37.2,591.7 76.3,592.3 115.4,594 154.5,596 193.6,597 232.7,592 271.8,590 310.9,588 350,589.2 389.1,584.1 428.2,584.5 467.3,580.7 506.4,573.2 545.5,559.3" fill="none" stroke="#4a2060" stroke-width="1.8" stroke-linejoin="round"/>
<circle cx="76.3" cy="592.3" r="1.1" fill="#4a2060" stroke="#210e2b" stroke-width="0.4"/>
<circle cx="115.4" cy="594" r="1.1" fill="#4a2060" stroke="#210e2b" stroke-width="0.4"/>
<circle cx="154.5" cy="596" r="1.1" fill="#4a2060" stroke="#210e2b" stroke-width="0.4"/>
<circle cx="193.6" cy="597" r="1.1" fill="#4a2060" stroke="#210e2b" stroke-width="0.4"/>
<circle cx="232.7" cy="592" r="1.1" fill="#4a2060" stroke="#210e2b" stroke-width="0.4"/>
<circle cx="271.8" cy="590" r="1.1" fill="#4a2060" stroke="#210e2b" stroke-width="0.4"/>
<circle cx="310.9" cy="588" r="1.1" fill="#4a2060" stroke="#210e2b" stroke-width="0.4"/>
<circle cx="350" cy="589.2" r="1.1" fill="#4a2060" stroke="#210e2b" stroke-width="0.4"/>
<circle cx="389.1" cy="584.1" r="1.1" fill="#4a2060" stroke="#210e2b" stroke-width="0.4"/>
<circle cx="428.2" cy="584.5" r="1.1" fill="#4a2060" stroke="#210e2b" stroke-width="0.4"/>
<circle cx="467.3" cy="580.7" r="1.1" fill="#4a2060" stroke="#210e2b" stroke-width="0.4"/>
<circle cx="506.4" cy="573.2" r="1.1" fill="#4a2060" stroke="#210e2b" stroke-width="0.4"/>
<circle cx="545.5" cy="559.3" r="1.1" fill="#4a2060" stroke="#210e2b" stroke-width="0.4"/>
<polyline points="37.2,591.7 76.3,580.6 115.4,585 154.5,585 193.6,586.7 232.7,588.3 271.8,589.5 310.9,586.7 350,582.9 389.1,576.6 428.2,564.3 467.3,560.5 506.4,550 545.5,536.1" fill="none" stroke="#684312" stroke-width="2.8" stroke-linejoin="round"/>
<polyline points="37.2,591.7 76.3,580.6 115.4,585 154.5,585 193.6,586.7 232.7,588.3 271.8,589.5 310.9,586.7 350,582.9 389.1,576.6 428.2,564.3 467.3,560.5 506.4,550 545.5,536.1" fill="none" stroke="#e8962a" stroke-width="1.8" stroke-linejoin="round"/>
<circle cx="76.3" cy="580.6" r="1.1" fill="#e8962a" stroke="#684312" stroke-width="0.4"/>
<circle cx="115.4" cy="585" r="1.1" fill="#e8962a" stroke="#684312" stroke-width="0.4"/>
<circle cx="154.5" cy="585" r="1.1" fill="#e8962a" stroke="#684312" stroke-width="0.4"/>
<circle cx="193.6" cy="586.7" r="1.1" fill="#e8962a" stroke="#684312" stroke-width="0.4"/>
<circle cx="232.7" cy="588.3" r="1.1" fill="#e8962a" stroke="#684312" stroke-width="0.4"/>
<circle cx="271.8" cy="589.5" r="1.1" fill="#e8962a" stroke="#684312" stroke-width="0.4"/>
<circle cx="310.9" cy="586.7" r="1.1" fill="#e8962a" stroke="#684312" stroke-width="0.4"/>
<circle cx="350" cy="582.9" r="1.1" fill="#e8962a" stroke="#684312" stroke-width="0.4"/>
<circle cx="389.1" cy="576.6" r="1.1" fill="#e8962a" stroke="#684312" stroke-width="0.4"/>
<circle cx="428.2" cy="564.3" r="1.1" fill="#e8962a" stroke="#684312" stroke-width="0.4"/>
<circle cx="467.3" cy="560.5" r="1.1" fill="#e8962a" stroke="#684312" stroke-width="0.4"/>
<circle cx="506.4" cy="550" r="1.1" fill="#e8962a" stroke="#684312" stroke-width="0.4"/>
<circle cx="545.5" cy="536.1" r="1.1" fill="#e8962a" stroke="#684312" stroke-width="0.4"/>
<polyline points="37.2,591.7 76.3,580.6 115.4,582 154.5,582.2 193.6,582.5 232.7,576.6 271.8,578 310.9,576 350,574 389.1,572 428.2,570 467.3,568 506.4,568 545.5,580.7" fill="none" stroke="#321c56" stroke-width="2.8" stroke-linejoin="round"/>
<polyline points="37.2,591.7 76.3,580.6 115.4,582 154.5,582.2 193.6,582.5 232.7,576.6 271.8,578 310.9,576 350,574 389.1,572 428.2,570 467.3,568 506.4,568 545.5,580.7" fill="none" stroke="#7040c0" stroke-width="1.8" stroke-linejoin="round"/>
<circle cx="76.3" cy="580.6" r="1.1" fill="#7040c0" stroke="#321c56" stroke-width="0.4"/>
<circle cx="115.4" cy="582" r="1.1" fill="#7040c0" stroke="#321c56" stroke-width="0.4"/>
<circle cx="154.5" cy="582.2" r="1.1" fill="#7040c0" stroke="#321c56" stroke-width="0.4"/>
<circle cx="193.6" cy="582.5" r="1.1" fill="#7040c0" stroke="#321c56" stroke-width="0.4"/>
<circle cx="232.7" cy="576.6" r="1.1" fill="#7040c0" stroke="#321c56" stroke-width="0.4"/>
<circle cx="271.8" cy="578" r="1.1" fill="#7040c0" stroke="#321c56" stroke-width="0.4"/>
<circle cx="310.9" cy="576" r="1.1" fill="#7040c0" stroke="#321c56" stroke-width="0.4"/>
<circle cx="350" cy="574" r="1.1" fill="#7040c0" stroke="#321c56" stroke-width="0.4"/>
<circle cx="389.1" cy="572" r="1.1" fill="#7040c0" stroke="#321c56" stroke-width="0.4"/>
<circle cx="428.2" cy="570" r="1.1" fill="#7040c0" stroke="#321c56" stroke-width="0.4"/>
<circle cx="467.3" cy="568" r="1.1" fill="#7040c0" stroke="#321c56" stroke-width="0.4"/>
<circle cx="506.4" cy="568" r="1.1" fill="#7040c0" stroke="#321c56" stroke-width="0.4"/>
<circle cx="545.5" cy="580.7" r="1.1" fill="#7040c0" stroke="#321c56" stroke-width="0.4"/>
<polyline points="37.2,591.7 76.3,580.6 115.4,579.3 154.5,575.3 193.6,577.8 232.7,575 271.8,575.5 310.9,572.8 350,569 389.1,566.5 428.2,565 467.3,565 506.4,559.3 545.5,555.5" fill="none" stroke="#481545" stroke-width="2.8" stroke-linejoin="round"/>
<polyline points="37.2,591.7 76.3,580.6 115.4,579.3 154.5,575.3 193.6,577.8 232.7,575 271.8,575.5 310.9,572.8 350,569 389.1,566.5 428.2,565 467.3,565 506.4,559.3 545.5,555.5" fill="none" stroke="#a0309a" stroke-width="1.8" stroke-linejoin="round"/>
<circle cx="76.3" cy="580.6" r="1.1" fill="#a0309a" stroke="#481545" stroke-width="0.4"/>
<circle cx="115.4" cy="579.3" r="1.1" fill="#a0309a" stroke="#481545" stroke-width="0.4"/>
<circle cx="154.5" cy="575.3" r="1.1" fill="#a0309a" stroke="#481545" stroke-width="0.4"/>
<circle cx="193.6" cy="577.8" r="1.1" fill="#a0309a" stroke="#481545" stroke-width="0.4"/>
<circle cx="232.7" cy="575" r="1.1" fill="#a0309a" stroke="#481545" stroke-width="0.4"/>
<circle cx="271.8" cy="575.5" r="1.1" fill="#a0309a" stroke="#481545" stroke-width="0.4"/>
<circle cx="310.9" cy="572.8" r="1.1" fill="#a0309a" stroke="#481545" stroke-width="0.4"/>
<circle cx="350" cy="569" r="1.1" fill="#a0309a" stroke="#481545" stroke-width="0.4"/>
<circle cx="389.1" cy="566.5" r="1.1" fill="#a0309a" stroke="#481545" stroke-width="0.4"/>
<circle cx="428.2" cy="565" r="1.1" fill="#a0309a" stroke="#481545" stroke-width="0.4"/>
<circle cx="467.3" cy="565" r="1.1" fill="#a0309a" stroke="#481545" stroke-width="0.4"/>
<circle cx="506.4" cy="559.3" r="1.1" fill="#a0309a" stroke="#481545" stroke-width="0.4"/>
<circle cx="545.5" cy="555.5" r="1.1" fill="#a0309a" stroke="#481545" stroke-width="0.4"/>
<polyline points="193.6,556 232.7,539.2 271.8,540 310.9,529.7 350,523 389.1,518.1 428.2,512.1 467.3,512.1 506.4,511.9 545.5,520.2" fill="none" stroke="#613228" stroke-width="2.8" stroke-linejoin="round"/>
<polyline points="193.6,556 232.7,539.2 271.8,540 310.9,529.7 350,523 389.1,518.1 428.2,512.1 467.3,512.1 506.4,511.9 545.5,520.2" fill="none" stroke="#d8705a" stroke-width="1.8" stroke-linejoin="round"/>
<circle cx="232.7" cy="539.2" r="1.1" fill="#d8705a" stroke="#613228" stroke-width="0.4"/>
<circle cx="271.8" cy="540" r="1.1" fill="#d8705a" stroke="#613228" stroke-width="0.4"/>
<circle cx="310.9" cy="529.7" r="1.1" fill="#d8705a" stroke="#613228" stroke-width="0.4"/>
<circle cx="350" cy="523" r="1.1" fill="#d8705a" stroke="#613228" stroke-width="0.4"/>
<circle cx="389.1" cy="518.1" r="1.1" fill="#d8705a" stroke="#613228" stroke-width="0.4"/>
<circle cx="428.2" cy="512.1" r="1.1" fill="#d8705a" stroke="#613228" stroke-width="0.4"/>
<circle cx="467.3" cy="512.1" r="1.1" fill="#d8705a" stroke="#613228" stroke-width="0.4"/>
<circle cx="506.4" cy="511.9" r="1.1" fill="#d8705a" stroke="#613228" stroke-width="0.4"/>
<circle cx="545.5" cy="520.2" r="1.1" fill="#d8705a" stroke="#613228" stroke-width="0.4"/>
<polyline points="37.2,591.7 76.3,580.6 115.4,581.8 154.5,582 193.6,580.1 232.7,578 271.8,573.5 310.9,565.2 350,555.4 389.1,546 428.2,532.8 467.3,528.3 506.4,521.4 545.5,517.2" fill="none" stroke="#122f45" stroke-width="2.8" stroke-linejoin="round"/>
<polyline points="37.2,591.7 76.3,580.6 115.4,581.8 154.5,582 193.6,580.1 232.7,578 271.8,573.5 310.9,565.2 350,555.4 389.1,546 428.2,532.8 467.3,528.3 506.4,521.4 545.5,517.2" fill="none" stroke="#2a6a9a" stroke-width="1.8" stroke-linejoin="round"/>
<circle cx="76.3" cy="580.6" r="1.1" fill="#2a6a9a" stroke="#122f45" stroke-width="0.4"/>
<circle cx="115.4" cy="581.8" r="1.1" fill="#2a6a9a" stroke="#122f45" stroke-width="0.4"/>
<circle cx="154.5" cy="582" r="1.1" fill="#2a6a9a" stroke="#122f45" stroke-width="0.4"/>
<circle cx="193.6" cy="580.1" r="1.1" fill="#2a6a9a" stroke="#122f45" stroke-width="0.4"/>
<circle cx="232.7" cy="578" r="1.1" fill="#2a6a9a" stroke="#122f45" stroke-width="0.4"/>
<circle cx="271.8" cy="573.5" r="1.1" fill="#2a6a9a" stroke="#122f45" stroke-width="0.4"/>
<circle cx="310.9" cy="565.2" r="1.1" fill="#2a6a9a" stroke="#122f45" stroke-width="0.4"/>
<circle cx="350" cy="555.4" r="1.1" fill="#2a6a9a" stroke="#122f45" stroke-width="0.4"/>
<circle cx="389.1" cy="546" r="1.1" fill="#2a6a9a" stroke="#122f45" stroke-width="0.4"/>
<circle cx="428.2" cy="532.8" r="1.1" fill="#2a6a9a" stroke="#122f45" stroke-width="0.4"/>
<circle cx="467.3" cy="528.3" r="1.1" fill="#2a6a9a" stroke="#122f45" stroke-width="0.4"/>
<circle cx="506.4" cy="521.4" r="1.1" fill="#2a6a9a" stroke="#122f45" stroke-width="0.4"/>
<circle cx="545.5" cy="517.2" r="1.1" fill="#2a6a9a" stroke="#122f45" stroke-width="0.4"/>
<polyline points="37.2,591.7 76.3,580.6 115.4,583 154.5,575 193.6,570.8 232.7,562.6 271.8,562.6 310.9,558.9 350,553.9 389.1,552.1 428.2,551.7 467.3,551.7 506.4,545.4 545.5,546.2" fill="none" stroke="#3e395d" stroke-width="2.8" stroke-linejoin="round"/>
<polyline points="37.2,591.7 76.3,580.6 115.4,583 154.5,575 193.6,570.8 232.7,562.6 271.8,562.6 310.9,558.9 350,553.9 389.1,552.1 428.2,551.7 467.3,551.7 506.4,545.4 545.5,546.2" fill="none" stroke="#8a80d0" stroke-width="1.8" stroke-linejoin="round"/>
<circle cx="76.3" cy="580.6" r="1.1" fill="#8a80d0" stroke="#3e395d" stroke-width="0.4"/>
<circle cx="115.4" cy="583" r="1.1" fill="#8a80d0" stroke="#3e395d" stroke-width="0.4"/>
<circle cx="154.5" cy="575" r="1.1" fill="#8a80d0" stroke="#3e395d" stroke-width="0.4"/>
<circle cx="193.6" cy="570.8" r="1.1" fill="#8a80d0" stroke="#3e395d" stroke-width="0.4"/>
<circle cx="232.7" cy="562.6" r="1.1" fill="#8a80d0" stroke="#3e395d" stroke-width="0.4"/>
<circle cx="271.8" cy="562.6" r="1.1" fill="#8a80d0" stroke="#3e395d" stroke-width="0.4"/>
<circle cx="310.9" cy="558.9" r="1.1" fill="#8a80d0" stroke="#3e395d" stroke-width="0.4"/>
<circle cx="350" cy="553.9" r="1.1" fill="#8a80d0" stroke="#3e395d" stroke-width="0.4"/>
<circle cx="389.1" cy="552.1" r="1.1" fill="#8a80d0" stroke="#3e395d" stroke-width="0.4"/>
<circle cx="428.2" cy="551.7" r="1.1" fill="#8a80d0" stroke="#3e395d" stroke-width="0.4"/>
<circle cx="467.3" cy="551.7" r="1.1" fill="#8a80d0" stroke="#3e395d" stroke-width="0.4"/>
<circle cx="506.4" cy="545.4" r="1.1" fill="#8a80d0" stroke="#3e395d" stroke-width="0.4"/>
<circle cx="545.5" cy="546.2" r="1.1" fill="#8a80d0" stroke="#3e395d" stroke-width="0.4"/>
<polyline points="37.2,591.7 76.3,580.6 115.4,579.3 154.5,574.1 193.6,561.4 232.7,557.9 271.8,557.9 310.9,560 350,557.7 389.1,556.4 428.2,555.5 467.3,555.5 506.4,553 545.5,550" fill="none" stroke="#2f1a48" stroke-width="2.8" stroke-linejoin="round"/>
<polyline points="37.2,591.7 76.3,580.6 115.4,579.3 154.5,574.1 193.6,561.4 232.7,557.9 271.8,557.9 310.9,560 350,557.7 389.1,556.4 428.2,555.5 467.3,555.5 506.4,553 545.5,550" fill="none" stroke="#6a3aa0" stroke-width="1.8" stroke-linejoin="round"/>
<circle cx="76.3" cy="580.6" r="1.1" fill="#6a3aa0" stroke="#2f1a48" stroke-width="0.4"/>
<circle cx="115.4" cy="579.3" r="1.1" fill="#6a3aa0" stroke="#2f1a48" stroke-width="0.4"/>
<circle cx="154.5" cy="574.1" r="1.1" fill="#6a3aa0" stroke="#2f1a48" stroke-width="0.4"/>
<circle cx="193.6" cy="561.4" r="1.1" fill="#6a3aa0" stroke="#2f1a48" stroke-width="0.4"/>
<circle cx="232.7" cy="557.9" r="1.1" fill="#6a3aa0" stroke="#2f1a48" stroke-width="0.4"/>
<circle cx="271.8" cy="557.9" r="1.1" fill="#6a3aa0" stroke="#2f1a48" stroke-width="0.4"/>
<circle cx="310.9" cy="560" r="1.1" fill="#6a3aa0" stroke="#2f1a48" stroke-width="0.4"/>
<circle cx="350" cy="557.7" r="1.1" fill="#6a3aa0" stroke="#2f1a48" stroke-width="0.4"/>
<circle cx="389.1" cy="556.4" r="1.1" fill="#6a3aa0" stroke="#2f1a48" stroke-width="0.4"/>
<circle cx="428.2" cy="555.5" r="1.1" fill="#6a3aa0" stroke="#2f1a48" stroke-width="0.4"/>
<circle cx="467.3" cy="555.5" r="1.1" fill="#6a3aa0" stroke="#2f1a48" stroke-width="0.4"/>
<circle cx="506.4" cy="553" r="1.1" fill="#6a3aa0" stroke="#2f1a48" stroke-width="0.4"/>
<circle cx="545.5" cy="550" r="1.1" fill="#6a3aa0" stroke="#2f1a48" stroke-width="0.4"/>
<polyline points="37.2,591.7 76.3,580.6 115.4,572.5 154.5,566.4 193.6,556.7 232.7,553.2 271.8,553.2 310.9,550.1 350,545 389.1,543.8 428.2,540.4 467.3,540.4 506.4,536.6 545.5,541.1" fill="none" stroke="#0c1216" stroke-width="2.8" stroke-linejoin="round"/>
<polyline points="37.2,591.7 76.3,580.6 115.4,572.5 154.5,566.4 193.6,556.7 232.7,553.2 271.8,553.2 310.9,550.1 350,545 389.1,543.8 428.2,540.4 467.3,540.4 506.4,536.6 545.5,541.1" fill="none" stroke="#1c2a32" stroke-width="1.8" stroke-linejoin="round"/>
<circle cx="76.3" cy="580.6" r="1.1" fill="#1c2a32" stroke="#0c1216" stroke-width="0.4"/>
<circle cx="115.4" cy="572.5" r="1.1" fill="#1c2a32" stroke="#0c1216" stroke-width="0.4"/>
<circle cx="154.5" cy="566.4" r="1.1" fill="#1c2a32" stroke="#0c1216" stroke-width="0.4"/>
<circle cx="193.6" cy="556.7" r="1.1" fill="#1c2a32" stroke="#0c1216" stroke-width="0.4"/>
<circle cx="232.7" cy="553.2" r="1.1" fill="#1c2a32" stroke="#0c1216" stroke-width="0.4"/>
<circle cx="271.8" cy="553.2" r="1.1" fill="#1c2a32" stroke="#0c1216" stroke-width="0.4"/>
<circle cx="310.9" cy="550.1" r="1.1" fill="#1c2a32" stroke="#0c1216" stroke-width="0.4"/>
<circle cx="350" cy="545" r="1.1" fill="#1c2a32" stroke="#0c1216" stroke-width="0.4"/>
<circle cx="389.1" cy="543.8" r="1.1" fill="#1c2a32" stroke="#0c1216" stroke-width="0.4"/>
<circle cx="428.2" cy="540.4" r="1.1" fill="#1c2a32" stroke="#0c1216" stroke-width="0.4"/>
<circle cx="467.3" cy="540.4" r="1.1" fill="#1c2a32" stroke="#0c1216" stroke-width="0.4"/>
<circle cx="506.4" cy="536.6" r="1.1" fill="#1c2a32" stroke="#0c1216" stroke-width="0.4"/>
<circle cx="545.5" cy="541.1" r="1.1" fill="#1c2a32" stroke="#0c1216" stroke-width="0.4"/>
<polyline points="37.2,591.7 76.3,580.6 115.4,572.5 154.5,566.4 193.6,573.1 232.7,569.6 271.8,568.4 310.9,564 350,561.4 389.1,560.2 428.2,556 467.3,554 506.4,553 545.5,553" fill="none" stroke="#0d393c" stroke-width="2.8" stroke-linejoin="round"/>
<polyline points="37.2,591.7 76.3,580.6 115.4,572.5 154.5,566.4 193.6,573.1 232.7,569.6 271.8,568.4 310.9,564 350,561.4 389.1,560.2 428.2,556 467.3,554 506.4,553 545.5,553" fill="none" stroke="#1f7f86" stroke-width="1.8" stroke-linejoin="round"/>
<circle cx="76.3" cy="580.6" r="1.1" fill="#1f7f86" stroke="#0d393c" stroke-width="0.4"/>
<circle cx="115.4" cy="572.5" r="1.1" fill="#1f7f86" stroke="#0d393c" stroke-width="0.4"/>
<circle cx="154.5" cy="566.4" r="1.1" fill="#1f7f86" stroke="#0d393c" stroke-width="0.4"/>
<circle cx="193.6" cy="573.1" r="1.1" fill="#1f7f86" stroke="#0d393c" stroke-width="0.4"/>
<circle cx="232.7" cy="569.6" r="1.1" fill="#1f7f86" stroke="#0d393c" stroke-width="0.4"/>
<circle cx="271.8" cy="568.4" r="1.1" fill="#1f7f86" stroke="#0d393c" stroke-width="0.4"/>
<circle cx="310.9" cy="564" r="1.1" fill="#1f7f86" stroke="#0d393c" stroke-width="0.4"/>
<circle cx="350" cy="561.4" r="1.1" fill="#1f7f86" stroke="#0d393c" stroke-width="0.4"/>
<circle cx="389.1" cy="560.2" r="1.1" fill="#1f7f86" stroke="#0d393c" stroke-width="0.4"/>
<circle cx="428.2" cy="556" r="1.1" fill="#1f7f86" stroke="#0d393c" stroke-width="0.4"/>
<circle cx="467.3" cy="554" r="1.1" fill="#1f7f86" stroke="#0d393c" stroke-width="0.4"/>
<circle cx="506.4" cy="553" r="1.1" fill="#1f7f86" stroke="#0d393c" stroke-width="0.4"/>
<circle cx="545.5" cy="553" r="1.1" fill="#1f7f86" stroke="#0d393c" stroke-width="0.4"/>
<polyline points="37.2,591.7 76.3,593 115.4,598.5 154.5,607.7 193.6,615.3" fill="none" stroke="#124548" stroke-width="2.8" stroke-linejoin="round"/>
<polyline points="37.2,591.7 76.3,593 115.4,598.5 154.5,607.7 193.6,615.3" fill="none" stroke="#2a9aa0" stroke-width="1.8" stroke-linejoin="round"/>
<polyline points="37.2,591.7 76.3,593 115.4,599.6 154.5,602.8 193.6,604.7" fill="none" stroke="#242424" stroke-width="2.8" stroke-linejoin="round"/>
<polyline points="37.2,591.7 76.3,593 115.4,599.6 154.5,602.8 193.6,604.7" fill="none" stroke="#505050" stroke-width="1.8" stroke-linejoin="round"/>
<polyline points="37.2,591.7 76.3,592.8 115.4,598 154.5,598 193.6,597.7" fill="none" stroke="#3e3e3e" stroke-width="2.8" stroke-linejoin="round"/>
<polyline points="37.2,591.7 76.3,592.8 115.4,598 154.5,598 193.6,597.7" fill="none" stroke="#8a8a8a" stroke-width="1.8" stroke-linejoin="round"/>
<polyline points="37.2,591.7 76.3,592.5 115.4,594.7 154.5,595.5 193.6,597" fill="none" stroke="#4f4f4f" stroke-width="2.8" stroke-linejoin="round"/>
<polyline points="37.2,591.7 76.3,592.5 115.4,594.7 154.5,595.5 193.6,597" fill="none" stroke="#b0b0b0" stroke-width="1.8" stroke-linejoin="round"/>
<circle cx="545.5" cy="520.2" r="2.4" fill="#d8705a" stroke="#333" stroke-width="0.4"/>
<circle cx="545.5" cy="517.2" r="2.4" fill="#2a6a9a" stroke="#333" stroke-width="0.4"/>
<circle cx="545.5" cy="536.1" r="2.4" fill="#e8962a" stroke="#333" stroke-width="0.4"/>
<circle cx="545.5" cy="580.7" r="2.4" fill="#7040c0" stroke="#333" stroke-width="0.4"/>
<circle cx="545.5" cy="646.3" r="2.4" fill="#cc2a6a" stroke="#333" stroke-width="0.4"/>
<circle cx="545.5" cy="677.1" r="2.4" fill="#3a8a5c" stroke="#333" stroke-width="0.4"/>
<circle cx="545.5" cy="559.3" r="2.4" fill="#4a2060" stroke="#333" stroke-width="0.4"/>
<circle cx="545.5" cy="595.4" r="2.4" fill="#6a7a3a" stroke="#333" stroke-width="0.4"/>
<polyline points="37.2,591.7 76.3,580.6" fill="none" stroke="#2a2a2a" stroke-width="3.4"/>
<polyline points="37.2,591.7 76.3,580.6" fill="none" stroke="#e8962a" stroke-width="1.9"/>
<polyline points="37.2,591.7 76.3,592.3" fill="none" stroke="#2a2a2a" stroke-width="3.4"/>
<polyline points="37.2,591.7 76.3,592.3" fill="none" stroke="#c03030" stroke-width="1.9"/>
<line x1="37.4" y1="591.7" x2="46.6" y2="620.5" stroke="#4cbb4c" stroke-width="0.8"/>
<polygon points="47.8,624.2 43.4,618.8 48.2,617.2" fill="#4cbb4c"/>
<line x1="76.2" y1="590" x2="81.6" y2="614.5" stroke="#4cbb4c" stroke-width="0.8"/>
<polygon points="82.4,618.3 78.6,612.5 83.5,611.4" fill="#4cbb4c"/>
<line x1="76.2" y1="587" x2="49.9" y2="551.2" stroke="#4cbb4c" stroke-width="0.8"/>
<polygon points="47.6,548.1 53.5,551.9 49.4,554.8" fill="#4cbb4c"/>
<line x1="76.2" y1="580.6" x2="90.4" y2="534.6" stroke="#4cbb4c" stroke-width="0.8"/>
<polygon points="91.5,530.9 92,537.8 87.2,536.4" fill="#4cbb4c"/>
<line x1="115.4" y1="597" x2="125" y2="631" stroke="#4cbb4c" stroke-width="0.8"/>
<polygon points="126.1,634.8 121.9,629.2 126.7,627.9" fill="#4cbb4c"/>
<line x1="116.5" y1="585" x2="116.8" y2="536.3" stroke="#4cbb4c" stroke-width="0.8"/>
<polygon points="116.8,532.4 119.3,538.9 114.3,538.9" fill="#4cbb4c"/>
<line x1="115.4" y1="586" x2="134.8" y2="558.3" stroke="#4cbb4c" stroke-width="0.8"/>
<polygon points="137,555.1 135.3,561.9 131.2,559" fill="#4cbb4c"/>
<line x1="153.3" y1="590" x2="153.3" y2="646.6" stroke="#4cbb4c" stroke-width="0.8"/>
<polygon points="153.3,650.5 150.8,644 155.8,644" fill="#4cbb4c"/>
<line x1="154.4" y1="588" x2="173.2" y2="630.4" stroke="#4cbb4c" stroke-width="0.8"/>
<polygon points="174.8,634 169.9,629.1 174.5,627" fill="#4cbb4c"/>
<line x1="154.4" y1="566.6" x2="192.2" y2="537.8" stroke="#4cbb4c" stroke-width="0.8"/>
<polygon points="195.3,535.4 191.6,541.3 188.6,537.4" fill="#4cbb4c"/>
<line x1="193.5" y1="605.6" x2="204.1" y2="640" stroke="#4cbb4c" stroke-width="0.8"/>
<polygon points="205.2,643.7 200.9,638.2 205.7,636.8" fill="#4cbb4c"/>
<line x1="193.5" y1="570.9" x2="236.7" y2="530" stroke="#4cbb4c" stroke-width="0.8"/>
<polygon points="239.5,527.3 236.5,533.6 233.1,530" fill="#4cbb4c"/>
<line x1="193.5" y1="556.5" x2="219.5" y2="522.1" stroke="#4cbb4c" stroke-width="0.8"/>
<polygon points="221.8,519 219.9,525.7 215.9,522.7" fill="#4cbb4c"/>
<line x1="271.8" y1="590" x2="273.2" y2="639.8" stroke="#4cbb4c" stroke-width="0.8"/>
<polygon points="273.3,643.7 270.6,637.3 275.6,637.1" fill="#4cbb4c"/>
<line x1="271.8" y1="585" x2="306.7" y2="644.1" stroke="#4cbb4c" stroke-width="0.8"/>
<polygon points="308.7,647.5 303.2,643.2 307.5,640.6" fill="#4cbb4c"/>
<line x1="271.8" y1="583" x2="301.1" y2="521.1" stroke="#4cbb4c" stroke-width="0.8"/>
<polygon points="302.8,517.6 302.3,524.5 297.8,522.4" fill="#4cbb4c"/>
<line x1="310.9" y1="590" x2="342" y2="511.7" stroke="#4cbb4c" stroke-width="0.8"/>
<polygon points="343.4,508.1 343.3,515.1 338.7,513.2" fill="#4cbb4c"/>
<line x1="428.1" y1="651.1" x2="466.6" y2="655.2" stroke="#4cbb4c" stroke-width="0.8"/>
<polygon points="470.5,655.6 463.8,657.4 464.3,652.4" fill="#4cbb4c"/>
<circle cx="37.4" cy="591.7" r="1.2" fill="#4cbb4c"/>
<circle cx="76.2" cy="580.6" r="1.2" fill="#4cbb4c"/>
<circle cx="76.2" cy="590" r="1.2" fill="#4cbb4c"/>
<circle cx="115.4" cy="586" r="1.2" fill="#4cbb4c"/>
<circle cx="154.4" cy="566.6" r="1.2" fill="#4cbb4c"/>
<circle cx="193.5" cy="570.9" r="1.2" fill="#4cbb4c"/>
<circle cx="193.5" cy="605.6" r="1.2" fill="#4cbb4c"/>
<circle cx="271.8" cy="585" r="1.2" fill="#4cbb4c"/>
<circle cx="428.1" cy="651.1" r="1.2" fill="#4cbb4c"/>
<text x="42.9" y="534.1" font-size="10.6" textLength="36.1" lengthAdjust="spacingAndGlyphs" fill="#222">TF set 3</text>
<text x="42.9" y="546.2" font-size="10.6" textLength="36.1" lengthAdjust="spacingAndGlyphs" fill="#222">miRNAs</text>
<text x="73.9" y="523.6" font-size="10.6" textLength="36.1" lengthAdjust="spacingAndGlyphs" fill="#222">TF set 4</text>
<text x="113" y="517.7" font-size="10.6" textLength="36.1" lengthAdjust="spacingAndGlyphs" fill="#222">TF set 6</text>
<text x="113" y="529.1" font-size="10.6" textLength="36.1" lengthAdjust="spacingAndGlyphs" fill="#222">miRNAs</text>
<text x="133.9" y="539.7" font-size="10.6" textLength="36.1" lengthAdjust="spacingAndGlyphs" fill="#222">TF set 7</text>
<text x="133.9" y="551.8" font-size="10.6" textLength="36.1" lengthAdjust="spacingAndGlyphs" fill="#222">miRNAs</text>
<text x="172.1" y="530.4" font-size="10.6" textLength="41.6" lengthAdjust="spacingAndGlyphs" fill="#222">TF set 10</text>
<text x="204.1" y="510.7" font-size="10.6" textLength="41.6" lengthAdjust="spacingAndGlyphs" fill="#222">TF set 13</text>
<text x="229.4" y="526.6" font-size="10.6" textLength="41.6" lengthAdjust="spacingAndGlyphs" fill="#222">TF set 12</text>
<text x="283.4" y="510.3" font-size="10.6" textLength="41.6" lengthAdjust="spacingAndGlyphs" fill="#222">TF set 16</text>
<text x="340.7" y="506.8" font-size="10.6" textLength="41.6" lengthAdjust="spacingAndGlyphs" fill="#222">TF set 17</text>
<text x="39.2" y="636.3" font-size="10.6" textLength="36.1" lengthAdjust="spacingAndGlyphs" fill="#222">TF set 1</text>
<text x="39.2" y="647.6" font-size="10.6" textLength="36.1" lengthAdjust="spacingAndGlyphs" fill="#222">miRNAs</text>
<text x="80.2" y="627.7" font-size="10.6" textLength="36.1" lengthAdjust="spacingAndGlyphs" fill="#222">TF set 2</text>
<text x="108.4" y="649.2" font-size="10.6" textLength="36.1" lengthAdjust="spacingAndGlyphs" fill="#222">TF set 5</text>
<text x="145.3" y="661.8" font-size="10.6" textLength="36.1" lengthAdjust="spacingAndGlyphs" fill="#222">TF set 8</text>
<text x="160.4" y="642.9" font-size="10.6" textLength="36.1" lengthAdjust="spacingAndGlyphs" fill="#222">TF set 9</text>
<text x="199.7" y="654.3" font-size="10.6" textLength="40.9" lengthAdjust="spacingAndGlyphs" fill="#222">TF set 11</text>
<text x="253.2" y="658.9" font-size="10.6" textLength="41.6" lengthAdjust="spacingAndGlyphs" fill="#222">TF set 14</text>
<text x="303.4" y="657.2" font-size="10.6" textLength="41.6" lengthAdjust="spacingAndGlyphs" fill="#222">TF set 15</text>
<text x="479.3" y="660.2" font-size="10.6" textLength="41.6" lengthAdjust="spacingAndGlyphs" fill="#222">TF set 18</text>
<text x="77" y="678.9" font-size="14.2" font-weight="bold" textLength="352.9" lengthAdjust="spacingAndGlyphs" fill="#111">Significance threshold: 0.032 for TFs, 0.100 for miRNAs.</text>
</svg>
</body></html>
